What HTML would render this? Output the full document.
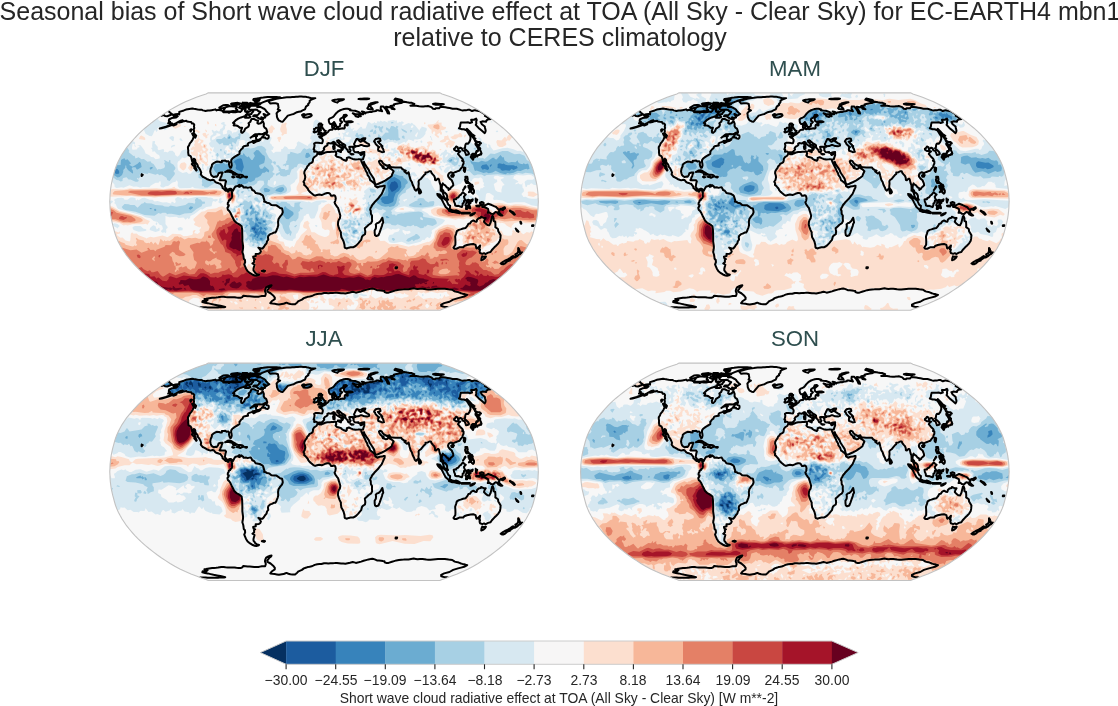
<!DOCTYPE html><html><head><meta charset="utf-8"><title>Seasonal bias</title><style>
html,body{margin:0;padding:0;background:#fff}body{width:1118px;height:706px;position:relative;overflow:hidden;font-family:"Liberation Sans",sans-serif;color:#262626}.t{position:absolute;white-space:nowrap;text-align:center;line-height:1;will-change:transform}.ttl{font-size:25px;left:-99.2px;width:1318px}.sub{font-size:22.2px;color:#2f4f4f;width:200px}.tk{font-size:13.9px;width:80px;top:673.6px}svg{position:absolute;left:0;top:0}
</style></head><body>
<div class="t ttl" style="top:-1.3px">Seasonal bias of Short wave cloud radiative effect at TOA (All Sky - Clear Sky) for EC-EARTH4 mbn1</div>
<div class="t ttl" style="top:25.2px">relative to CERES climatology</div>
<div class="t sub" style="left:223.9px;top:58.0px">DJF</div>
<div class="t sub" style="left:694.6px;top:58.0px">MAM</div>
<div class="t sub" style="left:223.9px;top:328.2px">JJA</div>
<div class="t sub" style="left:694.6px;top:328.2px">SON</div>
<svg width="1118" height="706" viewBox="0 0 1118 706">
<defs><path id="bd" d="M115.8 108.7L118 107.6L122.6 106.1L127.7 104.2L133.1 102.1L138.7 99.7L144.2 97.1L149.3 94.4L154 91.7L158.4 88.8L162.8 85.9L167 82.9L171.1 79.8L175.1 76.7L178.9 73.6L182.5 70.4L185.9 67.1L189.1 63.8L192 60.5L194.8 57.2L197.5 53.9L199.8 50.5L202 47.2L203.9 43.8L205.7 40.4L207.2 37.1L208.5 33.7L209.5 30.3L210.4 26.9L211.3 23.6L212.1 20.2L212.8 16.8L213.3 13.5L213.7 10.1L214 6.7L214.1 3.4L214.3 0L214.1 -3.4L214 -6.7L213.7 -10.1L213.3 -13.5L212.8 -16.8L212.1 -20.2L211.3 -23.6L210.4 -26.9L209.5 -30.3L208.5 -33.7L207.2 -37.1L205.7 -40.4L203.9 -43.8L202 -47.2L199.8 -50.5L197.5 -53.9L194.8 -57.2L192 -60.5L189.1 -63.8L185.9 -67.1L182.5 -70.4L178.9 -73.6L175.1 -76.7L171.1 -79.8L167 -82.9L162.8 -85.9L158.4 -88.8L154 -91.7L149.3 -94.4L144.2 -97.1L138.7 -99.7L133.1 -102.1L127.7 -104.2L122.6 -106.1L118 -107.6L115.8 -108.7L-115.8 -108.7L-118 -107.6L-122.6 -106.1L-127.7 -104.2L-133.1 -102.1L-138.7 -99.7L-144.2 -97.1L-149.3 -94.4L-154 -91.7L-158.4 -88.8L-162.8 -85.9L-167 -82.9L-171.1 -79.8L-175.1 -76.7L-178.9 -73.6L-182.5 -70.4L-185.9 -67.1L-189.1 -63.8L-192 -60.5L-194.8 -57.2L-197.5 -53.9L-199.8 -50.5L-202 -47.2L-203.9 -43.8L-205.7 -40.4L-207.2 -37.1L-208.5 -33.7L-209.5 -30.3L-210.4 -26.9L-211.3 -23.6L-212.1 -20.2L-212.8 -16.8L-213.3 -13.5L-213.7 -10.1L-214 -6.7L-214.1 -3.4L-214.3 0L-214.1 3.4L-214 6.7L-213.7 10.1L-213.3 13.5L-212.8 16.8L-212.1 20.2L-211.3 23.6L-210.4 26.9L-209.5 30.3L-208.5 33.7L-207.2 37.1L-205.7 40.4L-203.9 43.8L-202 47.2L-199.8 50.5L-197.5 53.9L-194.8 57.2L-192 60.5L-189.1 63.8L-185.9 67.1L-182.5 70.4L-178.9 73.6L-175.1 76.7L-171.1 79.8L-167 82.9L-162.8 85.9L-158.4 88.8L-154 91.7L-149.3 94.4L-144.2 97.1L-138.7 99.7L-133.1 102.1L-127.7 104.2L-122.6 106.1L-118 107.6L-115.8 108.7Z"/><clipPath id="cl"><use href="#bd"/></clipPath><path id="co" d="M-151 -86.6L-148.6 -87.3L-145.9 -87.6L-144.8 -87.2L-144.7 -88.2L-144.8 -89.7L-140.2 -91.1L-138.1 -92L-134.7 -92.6L-131.8 -93.1L-130.3 -92.8L-128.8 -92.6L-127.4 -92.3L-126 -92.1L-124.1 -91.9L-122.2 -91.8L-121.2 -91.2L-119.9 -90.9L-118.6 -90.5L-116.2 -91.1L-114.4 -91.1L-112.4 -91.4L-110.3 -91.7L-108.8 -92.2L-107.5 -91.1L-106.1 -91.7L-103.7 -91.4L-102.5 -91L-101.3 -90.5L-100.7 -89.4L-99.6 -89.2L-97.9 -89.3L-96.3 -89.4L-95.1 -88.8L-93.3 -89.7L-91 -89.4L-88.6 -89.2L-85.3 -90L-83.8 -89.6L-82.6 -90.5L-81.6 -92.2L-79.1 -93.7L-78.2 -92.8L-79.2 -91.1L-78.8 -90L-76.3 -90.3L-77.5 -88.8L-74.2 -90.2L-72.9 -91.4L-70.4 -91.3L-70.9 -90L-72.6 -88.2L-72.5 -87.6L-74.9 -87.4L-76.5 -87.6L-78.2 -85.3L-79.5 -85.3L-81.3 -84.7L-83.1 -84.1L-85.8 -82.9L-88.5 -81.1L-91 -78.6L-89.6 -78L-90.4 -76.1L-87.9 -76.1L-86.3 -75.5L-84.3 -73.9L-81.9 -73.8L-83 -71L-82.8 -69.1L-81.6 -68.7L-79.9 -70.4L-78.8 -72.9L-75.7 -74.8L-74.9 -76.7L-75.5 -78.2L-73.7 -79.8L-72.5 -82.6L-69.8 -82.5L-68.4 -81.7L-67.7 -81.3L-65.9 -81.1L-66.7 -78.6L-65.7 -77.7L-63.4 -78.3L-61.7 -80.1L-61.1 -80.2L-60.2 -78L-60.3 -75.5L-59.5 -73.9L-57.9 -72.9L-57.4 -71.6L-56.8 -69.7L-58.2 -69.1L-60.7 -67.8L-61.9 -67.4L-64.9 -67.5L-66.8 -67.4L-68.6 -67.4L-70.6 -66.1L-73.5 -63.8L-72.2 -64.8L-68.6 -66.1L-67 -65.5L-68.1 -64.5L-68 -63.2L-67.8 -62.1L-65.3 -61.6L-63.3 -62.9L-63.6 -61.9L-65 -60.8L-67.9 -60L-70.5 -58.5L-71 -59.2L-68.7 -60.9L-71.5 -60.5L-71.7 -59.9L-74 -59.2L-75.5 -58.7L-76.4 -57.5L-76 -56.5L-76.1 -56.1L-77.9 -55.7L-80.2 -55.2L-81 -54.5L-81.4 -53.2L-82.8 -52.3L-83.6 -51.2L-84.6 -49.9L-84.5 -49.2L-84.6 -47.6L-85.9 -46.8L-87.9 -45.7L-89.5 -44.7L-91.7 -43.1L-92.8 -41.4L-92.9 -39.7L-92.5 -38.1L-92.3 -36.1L-92.9 -34.1L-93.8 -33.8L-94.5 -35L-95.1 -37.3L-94.8 -39.1L-95.8 -40.4L-97.2 -40L-98.7 -41L-100.5 -40.8L-102.2 -40.7L-102.2 -39.3L-103.7 -39.3L-105 -39.9L-107.3 -40L-108.8 -39.3L-110.8 -38.1L-112 -37.1L-112.3 -35L-113.3 -33L-113.8 -30.3L-113.4 -28.3L-112.7 -26.3L-111.3 -25.1L-110.2 -24.5L-108.4 -25.1L-107.2 -24.9L-106.1 -26.3L-105.5 -28.3L-103.2 -29L-101.4 -29L-102.3 -26.9L-102.8 -24.9L-103.5 -24.3L-103.6 -22.9L-104.5 -21.6L-103.9 -21.2L-102.4 -21.3L-100.6 -21.4L-98.9 -21.3L-98 -20.2L-98.6 -18.2L-98.9 -16.2L-99.2 -14.8L-98.3 -13.5L-97.6 -12.4L-96.6 -12L-95.4 -12.3L-94.5 -12.8L-93.1 -12.7L-91.8 -11.7L-92.5 -9.7L-92.9 -11L-94.3 -12L-95.3 -11L-95.4 -10L-96.2 -9.8L-96.9 -10.8L-98.4 -10.9L-99.2 -11.5L-100.4 -12.9L-101.5 -13.5L-101.6 -15L-102.5 -16.2L-103.5 -17.4L-103.7 -17.9L-105.1 -18.1L-106.2 -18.6L-107.9 -19L-108.8 -19.7L-110.4 -21.6L-111.5 -21.8L-113.6 -21.2L-115.3 -21.8L-117.3 -22.6L-119.5 -24L-121.3 -24.8L-122.3 -25.9L-123.3 -27.2L-122.8 -29L-123.7 -31.3L-125.1 -33.7L-126.3 -35L-126.3 -36L-127.1 -37.5L-127.6 -37.7L-128.6 -39.5L-128.8 -41.5L-129.1 -42.2L-130.3 -42.8L-130.7 -41.1L-129.8 -38.8L-129.1 -36.4L-128.6 -35L-128.1 -33L-127.3 -31.4L-127.8 -30.9L-128.3 -31.8L-129.8 -33.4L-129.6 -35L-131.1 -36.1L-132.2 -37.5L-131.1 -38.4L-132 -40.4L-132.5 -42.8L-132.7 -43.8L-133.5 -45.5L-135.5 -46.5L-135.9 -49.3L-135.8 -50.9L-136.1 -53.2L-136.1 -54.4L-134.8 -56.5L-134.4 -57.9L-132.7 -59.9L-131.3 -62.1L-130.2 -64.9L-128.6 -64.8L-128.7 -63.8L-127.9 -65.8L-128.8 -66.9L-130.3 -68.4L-130 -70.1L-130.3 -72.3L-129.7 -73.6L-130.1 -74.8L-129.8 -76.7L-130.6 -78L-132.1 -78L-132.9 -79.6L-135 -79.8L-137.1 -80.1L-137.7 -80.8L-140 -80.4L-142.4 -79.6L-145 -79L-143.8 -80.4L-141.4 -81.3L-143.4 -80.8L-146.6 -79.2L-148.4 -78L-151.7 -76.7L-155 -75.5L-158.8 -74.2L-162.3 -73.3L-164.3 -73L-160.8 -74.2L-158.2 -74.8L-154.8 -76.1L-151.8 -78L-152.8 -78.3L-155.9 -78.2L-154 -79.8L-155.2 -80.4L-155.1 -81.7L-154.8 -82.3L-152.3 -83.5L-150.2 -83.7L-147.9 -84.1L-146.3 -85.3L-148.2 -85.3L-150.4 -85.3L-150.6 -85.9L-151 -86.6M-129 -65L-130.7 -65.5L-131.9 -68L-130.4 -68.2L-129.1 -67.1L-129 -65M-133.4 -70L-133.8 -71.6L-133 -72.4L-132.2 -72L-133.4 -70M-150.9 -76.1L-148.1 -77.3L-147.6 -77.1L-150 -76.1L-150.9 -76.1M-91.8 -11.7L-91.1 -10.8L-90.1 -12.7L-89.4 -14.1L-88.5 -15L-86.4 -15.5L-84.7 -16.8L-84.3 -15.9L-84.9 -14.6L-83.1 -15.5L-82.8 -16.4L-81.1 -15.2L-80.5 -14.1L-78.2 -14.3L-76.4 -13.7L-73.4 -14.4L-72.3 -12.8L-71.8 -11.5L-70 -10.8L-68.3 -8.5L-65.9 -8.1L-64.2 -7.8L-61.8 -6.5L-61 -5.7L-60.1 -2.7L-59.5 -0.7L-59.9 0L-57.7 0.7L-57.1 1.3L-54.7 1.6L-52.7 3.4L-50 3.8L-47.6 3.8L-45.8 5L-44 6.5L-42 7L-41.4 9.4L-41.3 10.8L-42.1 12.8L-43.8 14.8L-45.5 17.5L-46 20.2L-45.8 23.6L-46.5 26.3L-47.1 27.6L-47.8 29.6L-48.8 31L-50.2 31L-52.2 32.1L-53.9 32.6L-55.6 34.1L-56.1 35.7L-55.8 38.1L-57 39.7L-57.5 41.8L-59 43.4L-60.2 45.5L-61.6 47L-63.1 47L-65.7 46.1L-64.1 47.8L-63.6 48.9L-63.1 49.7L-63.7 51.2L-65.1 52.1L-68.4 52.4L-68.2 54.5L-70.9 55.2L-70.5 56.8L-68.9 57.5L-70 58.3L-69.9 60.5L-71.6 61.9L-69.5 63.2L-70.2 65.8L-70.6 67.5L-70.5 69.1L-69.4 70.2L-69.2 71L-67.6 72.3L-65 73.2L-66 73.7L-67.8 74.2L-69.4 73.9L-71.9 72.9L-74.8 71L-76.4 69.7L-78 67.1L-79.1 64.5L-79.8 62.9L-78.9 60.5L-79.1 58.5L-80.3 57.2L-80.5 55.2L-80.8 53.2L-81.7 50.5L-81.3 48.5L-81 46.5L-81 44.5L-81.4 41.8L-81.7 39.7L-81.7 37.1L-81.7 34.4L-81.8 31.7L-81.9 28.3L-82.4 24.8L-83.7 23.6L-85.2 22.6L-87.7 21.2L-89.9 18.9L-91.2 16.2L-92.4 13.9L-93.5 11.5L-94.8 9.4L-96.2 8.1L-96.6 6.3L-95.5 4.6L-95.2 3.5L-96.3 3L-96.2 1.3L-95.3 0L-95.2 -1.1L-93.9 -1.8L-93.8 -2.4L-92.4 -3.5L-91.9 -5.1L-92.1 -7.4L-91.9 -8.8L-92.5 -9.7L-91.8 -11.7M-62.2 69.4L-60.4 68.8L-59 69.3L-60.1 70.1L-62.2 69.4M-55.6 -100.4L-52.9 -101.2L-50.3 -102.1L-47.5 -102.8L-44.7 -103.4L-42.8 -103.6L-41 -103.8L-39.1 -104.1L-37.3 -104.2L-35.4 -104.3L-33.6 -104.4L-31.8 -104.5L-29.9 -104.6L-28 -104.8L-26.2 -104.9L-24.4 -105.1L-22.6 -105L-20.7 -104.9L-18.9 -104.9L-17.3 -104.5L-15.6 -104.2L-14.3 -103.8L-13 -103.4L-10.8 -103.4L-8.7 -103.4L-10.6 -102.8L-12.6 -102.1L-14.4 -100.7L-14.4 -99.2L-15.9 -97.6L-15.7 -96.6L-18.1 -95L-18.4 -93.9L-19.1 -92.2L-21.5 -91.1L-23.5 -90L-25.3 -89.7L-27.1 -89.4L-30.3 -87.6L-32 -87.2L-33.7 -86.7L-36.2 -85.9L-37.7 -84.1L-39.8 -81.7L-41.3 -79.8L-43.2 -80.1L-45.2 -81.1L-46.4 -82.9L-47.1 -84.7L-47.2 -86.5L-47.5 -88.2L-46.1 -90L-43.9 -91.1L-45.1 -91.7L-46.3 -92.2L-45.5 -93.9L-45.8 -95.5L-46.1 -97.6L-47.5 -98L-48.8 -98.4L-51.2 -98.3L-53.7 -98.1L-55 -99.4L-55.6 -100.4M-22 -86.5L-21 -87.4L-20 -87.5L-18.9 -86.5L-16.5 -87.3L-14.2 -87.6L-12.9 -87.3L-12.3 -86.1L-13.5 -85L-15 -84.5L-16.5 -84L-18.8 -84.1L-20.8 -84.4L-20 -85.2L-21.7 -85.8L-19.9 -86.1L-22 -86.5M21.8 -92.9L23.7 -92.8L26.4 -92L25.7 -91.4L28.4 -91L31.1 -90.8L33 -90.1L35 -89.4L36.3 -88.2L36.6 -87.4L33.9 -87.3L31.1 -87.6L28.7 -88.3L31 -86.5L31.6 -85.3L34.3 -84.6L34.5 -85.3L36.8 -85.3L36 -86.5L37.4 -87.5L39.3 -87.3L38.5 -89.4L37.8 -90.1L40.2 -89.6L41.2 -88.2L42.2 -89L44.2 -89.4L46.2 -89.7L47.2 -89.6L48.7 -90L50.3 -90.4L51.9 -90.5L52.3 -91.4L54 -91.2L55.6 -90.9L58.1 -90.3L57.3 -91.7L56.6 -92.8L56.8 -95L59.3 -95L60.9 -93.3L62.7 -90.5L63.7 -88.2L65.2 -88L64.8 -89.4L63.3 -91.7L61.8 -93.9L62 -94.8L64.9 -94.2L66.8 -94.4L67.6 -92.8L70.6 -92.2L68.4 -93.9L66.3 -95.5L68.1 -95.8L69.9 -96L69.7 -97.1L71.3 -97.5L72.8 -97.9L74.9 -98.2L77 -98.5L78.5 -99.2L79.9 -99.9L83.1 -99.2L85.4 -98.9L87.7 -98.7L90.3 -97.6L89.5 -97.1L88.8 -96.6L87.6 -96.2L86.4 -95.8L87.9 -95.9L89.4 -96L92.2 -95.7L95.1 -95.3L98 -95L99.6 -95.1L101.1 -95.2L102.5 -95.3L103.9 -95.5L107.4 -94.4L109 -92.8L111 -92.6L111.7 -93.3L113.4 -93.3L115.1 -93.3L116.1 -94.4L116.5 -94.8L118.9 -94.5L121.4 -94.2L123.5 -93.9L125.7 -93.5L128.5 -92.8L130.6 -92.8L132.7 -92.8L137.2 -91.4L138.5 -91.1L140.2 -91.2L141.8 -91.2L143.7 -91.7L145.8 -91.7L148 -90.5L149.5 -91L150.9 -91.4L153.4 -90.9L155.9 -90.4L159.4 -88.2L162.8 -85.9L161.8 -85.3L160.8 -85.6L165.2 -83.5L166.9 -82.6L165.2 -82.3L163.5 -82L162.3 -80.8L162.1 -79.8L160.2 -80L158.3 -80.2L156.5 -79.7L157.8 -77.3L160.7 -75.1L161 -73.6L161.6 -71L161.4 -69.7L160.7 -68.4L157.6 -71L154.5 -73.6L151.7 -76.7L152.3 -78L152.1 -79.8L152.7 -81.7L152.1 -82.9L151 -82.3L149.9 -81.7L147.1 -81.7L148 -79.2L145.8 -78.6L144.2 -79.2L141.9 -79.1L139.6 -79.1L136.8 -79L136.2 -76.7L136 -74.8L135 -73.2L137.8 -72.3L139.8 -72.3L142.4 -71.3L143.5 -69.7L144.6 -67.8L146.4 -65.2L146.4 -62.5L145.5 -59.9L144.1 -57.9L142.3 -58.1L141.5 -57.2L141.2 -55.9L141 -53.9L140.2 -53.2L142.1 -51.6L144 -49.9L144.9 -48.1L144.7 -47.3L143.2 -46.8L142 -46.5L141.4 -48.5L140.5 -50.5L138.5 -51.2L137.8 -53.2L136.4 -53.9L134.5 -52.5L134.1 -52.3L133.5 -54.5L132.1 -55.1L131.2 -53.6L130 -52.8L130.1 -51.9L132.1 -50.5L133.9 -50.9L136.2 -50.1L134.9 -49.2L133.9 -47.6L136 -45.1L138.3 -42.8L138.9 -41.6L138.1 -40.8L139.5 -40.2L139.5 -38.1L138.7 -36.4L138.2 -34.4L136.8 -33L135.5 -31L133.1 -30.2L131.6 -29.6L129.5 -28.7L128.9 -27.4L128 -29L126.5 -29.2L124.9 -28.3L124 -26.3L124.2 -24.9L125.7 -22.9L127.7 -21.3L129 -18.2L129.3 -16.2L127.8 -14.8L126.7 -14L126.2 -12.8L124.5 -11.7L124.2 -13.5L122.6 -14.3L121.2 -16.2L119.4 -17.1L118.7 -18.2L118.2 -16.8L117.8 -14.8L117.7 -12.5L119.3 -10.8L119.3 -9.4L120.9 -8.8L122.4 -7.4L123.1 -5.4L123.1 -3.4L124 -1.9L123.2 -1.8L120.7 -3.6L119.7 -5.4L119.2 -7.4L118.8 -8.8L117.5 -10.8L116.6 -10.8L116.7 -13.2L116.6 -16.2L115.6 -18.9L114.9 -22.2L114 -22.9L112.9 -22.2L112.2 -21.3L111 -21.6L110.9 -23.6L110.1 -25.6L108.7 -27.2L107.3 -29L106.9 -30.3L105.3 -30.3L103.7 -29.4L101.4 -29L101.4 -27.6L100 -26.5L98.5 -24.7L96.7 -22.5L95 -21.3L94.5 -20.2L94.7 -17.8L94.4 -15.5L94.5 -13.9L93.7 -12.5L92.7 -11.9L92 -10.9L90.7 -12.1L90 -14.1L88.6 -16.8L87.8 -19.5L86.5 -21.6L85.4 -25.5L84.8 -28.3L84.5 -29.4L84 -28.6L82.8 -28L80.3 -30L81.8 -30.9L79.6 -31.7L78.1 -32.7L77 -34.1L74.6 -34.1L71.3 -34L68.3 -34.2L66.2 -34.8L65.5 -36.5L62.9 -35.8L60.4 -37.1L58.5 -38.8L57.7 -40.4L55.9 -41L54.9 -40.2L55.3 -38.8L56.4 -37.1L57.9 -35.7L58.8 -33.7L59.5 -35.2L59.8 -33.3L61.5 -32.6L63.2 -32.9L64.7 -35L65.5 -33.4L68.1 -31.8L69.6 -30.3L68.3 -27.6L67.6 -25.6L65.7 -24.1L64 -22.9L61.5 -21.2L59.6 -20.2L57.8 -19.3L55.5 -18.3L53.2 -17.2L51.4 -17.1L50.7 -18.9L50.3 -20.9L49.7 -22.9L48 -25.6L45.7 -29L44.7 -31.7L42.8 -34.4L40.6 -37.7L39.9 -39.7L39.4 -37.7L38.5 -38.4L37.3 -40.3L36.8 -42L38.9 -42.2L39.5 -44.2L40.3 -46.5L40.2 -48.5L40.3 -49.6L38.4 -49.4L36.3 -48.6L34 -48.9L34.2 -49.6L32.3 -49.2L30.6 -49.6L29.3 -51.6L29.7 -52.9L28.7 -53.9L29.5 -54.5L31.7 -54.9L31.6 -55.3L34.3 -55.5L36.4 -56.5L38 -56.5L40.3 -55.5L43.1 -55.2L45.2 -55.9L44.9 -57.5L43 -58.5L40.7 -59.9L39.4 -60.8L40.8 -61.9L41.3 -63.4L39 -63.2L37.1 -62.1L38.9 -60.9L37.9 -60.5L36.4 -59.7L34.6 -61.2L35.5 -61.9L33.3 -62.7L32.5 -62.5L31.6 -60.8L30.7 -58.9L30 -57.6L30.4 -56.3L31.6 -55.5L30.6 -55.2L29.3 -54.7L28.4 -54.8L26.2 -54.9L25.2 -54.5L25.8 -53.6L25.4 -52.5L26.6 -51.2L25.6 -49.2L25.1 -49.2L24.2 -49.6L23.5 -51.5L22 -53.2L21.2 -54.5L21.2 -56.3L20 -57.2L17.8 -58.5L16 -59.9L15.2 -60.8L14.6 -61.3L13.1 -60.9L13.3 -59.5L14.6 -58.5L15.7 -56.9L17.4 -56.4L19.7 -54.7L20.3 -54L18.6 -54.5L18.1 -53.5L18.9 -52.5L18.3 -51.6L17.4 -51.2L17.7 -52.3L17.1 -53.9L15.8 -54.8L14.2 -55.6L13.3 -56.3L11.9 -57.2L11.1 -58.5L10.5 -59.3L9.4 -59.7L8.1 -58.9L7 -58L5.4 -58.4L4.3 -58.5L3.3 -57.9L3.5 -56.5L2.4 -55.7L0.9 -54.9L-0.3 -53.2L0.2 -52.1L-0.8 -50.8L-2.2 -49.6L-4.9 -49.4L-6 -48.6L-7 -49.6L-8.2 -50.1L-9.9 -49.9L-9.7 -51.9L-10.5 -52.3L-9.8 -54.1L-9.5 -56.3L-9.9 -57.9L-8.6 -58.8L-6.1 -58.7L-3.8 -58.5L-1.9 -58.4L-1.3 -60.1L-1.2 -61.6L-2.3 -63.3L-4.5 -64.2L-4.9 -65L-3.1 -65.5L-1.7 -65.4L-1.8 -66.7L-0.3 -66.2L0.2 -66.7L1.7 -67.4L1.6 -68.3L3.3 -68.9L4.3 -70L4.8 -71L6 -71.6L7 -71.9L8.5 -71.9L8.7 -72.9L8.1 -74.3L8 -76.1L9.5 -76.8L10.3 -77L10.1 -75.5L10.6 -75.1L9.9 -73.9L9.8 -73.3L11 -72.8L11 -72.3L12 -72.5L13.5 -72.9L14.3 -72.2L16.5 -72.9L18.4 -73.3L19.8 -72.9L20.8 -73.8L20.6 -75.5L20.9 -76.6L21.9 -77L23 -76.1L23.7 -76.3L23.6 -77.7L22.6 -78.2L22.5 -78.8L23.9 -79.2L26.7 -79.2L28.7 -79.7L27 -80.4L24.6 -80.3L21.9 -79.7L20.3 -80.4L20 -81.7L19.8 -82.9L20.2 -83.8L22.2 -85.5L22.8 -86.1L22 -86.8L19.8 -86.5L19.4 -85.3L18.8 -84.3L17.1 -83.2L16.1 -82.3L16.2 -80.8L17.6 -80.1L18.1 -79.5L17.3 -78.6L16.1 -77.7L16.1 -76.1L15.7 -75.1L14.3 -74.8L14.1 -74.1L12.9 -74.1L12.5 -75.1L11.7 -76.7L10.8 -78.3L10.1 -79.6L9.1 -78.5L7.7 -77.5L6.3 -77.5L5.3 -78.6L4.8 -80.3L4.7 -82L6 -83.2L7.8 -84L8.7 -84.4L10 -85.6L11.2 -87.1L11.9 -88.2L12.8 -88.8L13.5 -89.7L14.7 -90.5L16.2 -91.3L17.9 -91.9L19.9 -92.6L21.8 -92.9M-155.9 -90.4L-154.6 -89.6L-153.9 -88.9L-153.1 -88.2L-151.8 -87.3L-156.8 -85.3L-159 -85.6L-160.1 -86.5L-162.8 -85.9M51.8 -62.5L54.3 -63.2L56 -62.8L56.5 -60.8L54.7 -60L53.8 -59.9L55.5 -58.1L57.2 -56.5L57.3 -55.2L58.3 -55.6L58.1 -53.9L58.9 -52.9L59.7 -50.5L60 -49.7L57.9 -49.4L55.8 -50.4L54.4 -50.7L54 -51.9L54.2 -53.2L54.2 -54.3L55.1 -54.4L53.7 -55.5L52.6 -56.5L51.3 -57.9L51 -59.2L50 -60L50.5 -61.2L51.8 -62.5M36.8 -42L35.2 -42.4L34.1 -42.2L31.3 -42L28.6 -42.6L26.7 -43.4L24.9 -44.3L22.8 -43.5L22.8 -41.8L21.9 -40.8L19.9 -41.5L17.6 -42.8L17.2 -43.7L14.9 -44.3L13 -44.7L12.2 -45.5L11.5 -46.2L12.3 -47.8L11.8 -49.2L12.4 -49.9L11.3 -50.1L10.9 -50.3L9.5 -49.7L7.8 -49.9L5.6 -49.6L3.3 -49.6L1.1 -49L-1.1 -48.1L-2.5 -47.3L-3.4 -47.6L-5 -47.4L-5.9 -48.4L-6.6 -48.2L-7.1 -46.9L-7.7 -45.8L-8.6 -45.3L-9.8 -44.5L-10.5 -43.5L-11.1 -42.4L-11.1 -41.1L-11.4 -39.7L-12.7 -38.7L-14.8 -37.6L-15.6 -36.1L-16.7 -35.3L-17.4 -33.4L-18.6 -31.9L-19.6 -30L-19.8 -28.3L-19.1 -26.3L-18.8 -24.3L-19.4 -21.6L-20.6 -19.8L-19.7 -18.2L-19.9 -16.7L-18.9 -15.9L-17.8 -14.6L-16.2 -12.8L-15.7 -11.5L-14.2 -9.7L-13.5 -9.2L-12.8 -8.5L-10.7 -6.7L-8.9 -5.9L-7.1 -6.5L-4.8 -7L-2.4 -6.5L0 -7.5L1.4 -8.1L3 -8.5L4 -8.6L5.3 -8.4L6.2 -7.4L7.1 -5.8L8.3 -5.9L9.9 -6.2L10.5 -6.1L11.3 -5.1L11.7 -3.4L11.4 -1.3L11.1 -0.5L10.5 0.9L11.3 2.7L13.1 5.3L14 6.3L14.5 8.1L15.7 11.9L16.3 14.1L15.8 16.8L14.8 18.2L14.1 20.2L13.9 23.2L14.6 25.6L15.6 28.3L16.9 30.9L16.8 32.3L17.3 35.7L18.9 38.5L19.7 40.4L20.4 43.1L20.6 45.7L20.8 46.2L22.5 46.9L24.8 46.1L26.5 45.8L29 45.8L31.1 44.7L32.3 43.8L34.2 41.8L35.4 40.3L37.1 38.4L38 35L38.8 34L40.9 32.7L41.3 30.3L40.9 27.6L40.8 26.7L42.8 24.9L44.6 23.2L47.1 21.6L48.1 19.5L47.9 16.8L48 14.1L46.8 12.1L46.7 9.2L46.1 8.1L46.6 6.3L47.2 5.4L48.2 3.4L49.5 2L50.7 0.4L52.4 -1.3L53.9 -2.7L55.9 -5.4L57.6 -7.4L58.8 -10.1L59.9 -12.8L60.6 -14.1L60.7 -15.9L59.7 -15.9L58 -15.2L55.6 -15L53.3 -14.1L51.2 -15.5L51.1 -16.8L50.2 -18.2L48.3 -19.9L47.1 -20.9L46.3 -21L45.2 -24.3L43.6 -26.4L43.2 -28.3L41.6 -31L41.2 -32.3L39.9 -34.8L38.9 -36.8L37.3 -40.3L36.8 -42M58.3 16.2L58.8 18.5L59.2 20.9L58.4 22.2L57.9 24.3L56.7 27.6L55.5 31L54.4 33.7L52.3 34.5L51 33.7L50.6 31.4L50.6 29L51.8 26.9L52 24.3L51.7 22.9L53 21.6L54.5 21.2L56.4 19.5L57.3 17.8L58.3 16.2M168.7 14.4L169.6 16.8L169.5 19.3L171.2 20.2L171.4 23.6L171.3 25.6L173.9 27.4L174.2 29.6L175.3 31.4L176.6 33.7L176.3 37.1L175.9 39.1L174.3 41.8L172 44.2L170.3 45.8L167.8 48.5L166.5 50.5L164 51.1L161.3 52.5L160 51.6L158.3 52.3L156 51.5L155.5 49.9L156 48.2L155.1 47.8L155.5 46.9L156.1 43.9L154.3 45.8L152.7 46.9L152.3 46.6L151.8 44.5L151.5 43.3L149.2 42.4L146.6 42.7L142.9 43.5L140.2 44.5L139.2 45.7L137.4 45.7L135.2 45.8L132.4 47.2L130.2 47.2L129.4 46.2L131.3 43.1L131.4 40.4L131.3 37.7L131.1 35L132 32.3L132.8 29.6L134.8 28.3L136.6 27.8L139.1 26.9L141.6 26.4L143.3 24.3L144.4 22.2L145.8 22L147.4 19.8L149.3 18.9L150.9 19.9L152.6 20.1L153 18.2L154.6 16.7L156.7 16.2L157 15.2L159.6 16.4L161.7 16.4L160.6 18.2L159.9 20.2L161.2 21.6L163.4 23.4L165.3 23.6L166.6 20.9L167.4 17.5L168.1 14.8L168.7 14.4M158.2 54.8L159.8 55.3L161.9 54.9L161 56.5L159 58.1L157.2 58.7L157.4 56.9L158.2 54.8M194.2 46.4L195.2 47.8L194.7 49.6L195.9 49.4L195.3 50.7L196.3 51.2L198 50.8L196.2 52.5L194.7 53.1L192.8 54.9L190.7 56L190.4 55.6L191.9 54.1L191.3 52.9L193.1 51.9L193.9 50.5L194.2 49.2L194.1 47.2L194.2 46.4M189 54.5L189.8 55.6L188.9 56.5L186 58.5L185.9 58.9L183.4 59.7L181.2 61.7L179.1 62.7L177.8 62.7L176.6 61.9L178.9 60.3L180.8 59.2L183.8 57.9L186.3 56.3L188.1 54.9L189 54.5M155.9 1.1L157.7 0.5L159.5 1.1L159.7 3.4L160.6 4.4L162.4 3L164.2 2.2L167.7 3.5L170.1 4.6L171.8 5.3L173.3 6.7L174.6 8.1L175.5 9L174.7 10.1L175.8 11.5L176.6 12.4L178.3 13.9L176.5 13.9L174.5 12.8L173.2 11L171.5 10.4L170.2 11.5L169.5 12.4L167.2 12.3L165.5 11L163.7 11.3L164.4 9.4L164 7.4L161.7 6.2L159.3 5.3L158.2 5.4L158 4L157 3.8L159.1 3.1L157.1 2.7L155.9 1.8L155.9 1.1M176.2 7.5L178.3 6.9L180.7 5.7L181 6.7L178.8 8.4L176.2 7.5M129.7 -2L130 0L130.9 2L131.1 3.9L132.9 4.4L134.4 4.3L136.2 4.9L137.9 5.4L138.6 3.4L138.6 2L139.8 1.1L140.1 -1.1L141.6 -1.3L140.4 -3.1L139.9 -4.9L140.9 -6.1L141.7 -7L140.2 -8.1L138.9 -9.4L137.8 -8.1L136.7 -6.7L135.5 -6.1L134.4 -4.3L132.4 -3.4L132.1 -2.2L130.9 -2.3L129.7 -2M113.2 -7.5L115.9 -7L117.1 -5.3L119.3 -3.4L120.8 -2.4L122.6 -0.7L123.5 1.3L124.3 3.1L126.1 4.3L125.7 7.8L124.2 7.7L121.6 5.4L119.4 1.3L117.6 -2.3L115.4 -4.3L113.5 -6.5L113.2 -7.5M124.9 9.2L126.1 7.9L127.1 8.1L128.9 9L131.2 9.3L131.8 8.6L133.8 9.4L135.9 10.5L135.7 11.6L132.9 11.2L130 10.5L128.2 10.5L126.3 9.8L124.9 9.2M137.6 11.3L140 11.2L142.4 11.2L145.9 11.2L145.6 11.9L142.3 12L139.9 12L137.6 12L137.6 11.3M146.3 13.9L148.2 12.1L150.9 11.3L150 12.4L147.5 13.7L146.3 13.9M142.8 -1.1L144 -1.8L146.4 -1.2L148.7 -2.2L148.2 -0.5L145.8 -0.7L143.4 -0.7L144 1.3L146.7 1.2L144.9 2.6L146 5.4L146.2 6.7L145 6.5L144.5 4.7L143.9 3.6L143.2 5.4L143.1 7.4L141.9 7.4L142.2 4.7L141.3 3.6L142 2L142.6 0.3L142.8 -1.1M151.7 -3L152.3 -1.3L153.2 -2L152.6 -0.4L152.1 1.1L151.8 -0.7L151.7 -3M152.2 4.3L155.6 4L155.2 5L152.5 4.7L152.2 4.3M141.3 -24.9L143.2 -24.8L143.7 -22.2L143.2 -20.9L144.5 -19.1L146.5 -17.5L146.5 -17L145.2 -18.2L143.7 -18.6L142.4 -18.9L142.3 -18.6L141.4 -20.2L141 -22L141.5 -22.6L141.3 -24.9M144.9 -9.4L146.5 -11.6L147.7 -11.5L148.7 -13.2L150 -10.8L149.9 -8.8L149.1 -7.8L147.9 -8.8L147.5 -9.7L146.4 -10.1L144.9 -9.4M139 -11.5L141.5 -14.6L141.2 -15.2L139.9 -12.8L139 -11.5M146.9 -16.8L148.1 -16.8L148.8 -15L148.1 -13.7L147.4 -14.6L146.9 -16.8M144.3 -15.9L145.7 -15.5L146.3 -13.5L146.2 -12.3L145.2 -12.8L145.1 -14.1L144.5 -14.1L144.3 -15.9M140.1 -34L141.3 -33.7L141.2 -31.7L140.7 -29.6L139.7 -31L139.8 -32.7L140.1 -34M127.2 -26L128.6 -27.1L129.9 -26.4L129 -24.7L127.4 -24.9L127.2 -26M94.8 -13.2L96.3 -11.5L97.1 -9.4L96.2 -8.2L95.2 -8.1L94.6 -10.8L94.8 -13.2M154 -55.7L156.2 -53.2L156 -51.6L157 -49.6L157.5 -48.1L157 -47L156.4 -47.8L155.9 -46.8L155.3 -46.6L154 -46.6L153.9 -46.2L153.3 -45.1L152 -46.2L151.9 -46.8L150.2 -46.4L149 -46.2L147.5 -45.8L147.3 -46.5L148.4 -47.7L150.1 -47.8L152 -47.8L151.9 -49.2L152.4 -50.5L152.6 -49.6L153.8 -50.4L154.2 -51.9L154 -53.2L153.2 -54.5L152.9 -55.5L154 -55.7M152.4 -55.9L153 -56.3L152.6 -57.2L153.5 -57.2L155.5 -56.5L156 -57.9L157 -58.3L155.6 -59.5L153.8 -59.5L150.7 -61.2L151.6 -59.9L152.2 -58.3L151.4 -57.9L151.5 -56.9L152.4 -55.9M147.5 -45.7L148.8 -44.7L149.4 -42.7L148.9 -41.8L147.8 -43.1L146.7 -44.5L147 -45.3L147.5 -45.7M149.3 -45.1L150.8 -46.2L151.9 -45.5L151.6 -44.9L150.5 -44.2L149.3 -45.1M150.6 -61.9L151.4 -62.9L150 -63.8L148.6 -66.2L150.5 -65.8L147.5 -67.8L145.3 -70.4L142.8 -72.7L142.9 -71.6L144.4 -69.7L146.4 -67.8L148.2 -65.2L150.6 -61.9M-5.9 -67.2L-3.6 -67.5L-1.5 -68L1.3 -68.7L0.8 -69.1L1.7 -70.6L0.3 -71L0 -71.8L-1.2 -73L-1.6 -74.2L-2.5 -74.8L-3.3 -74.8L-2 -76L-1.7 -76.8L-3.9 -76.8L-2.9 -78.1L-4.8 -78.1L-5.6 -76.7L-5.5 -75.5L-5.4 -74.1L-4.7 -74.6L-4.9 -73.3L-3.4 -73.4L-3.2 -72.3L-3 -71.5L-4.5 -71.4L-4.2 -70.7L-4.1 -70.4L-5.3 -69.6L-3.6 -68.9L-2.9 -69.1L-4.3 -68.7L-5.9 -67.2M-6.6 -70L-6.2 -71.4L-5.6 -72.9L-6.2 -73.8L-8.1 -73.8L-8.5 -72.9L-10 -72.5L-9.6 -71.4L-9.6 -70.6L-10.5 -69.7L-9.7 -69.1L-8.4 -69.4L-6.6 -70M8.3 -101.1L9.7 -101.5L11.1 -101.9L12.9 -102.1L14.7 -102.4L16.4 -102.3L18.2 -102.3L19.9 -102.3L18 -101.3L15.9 -100.7L14.5 -100.2L13.3 -98.9L10.8 -99.7L8.7 -100.7L8.3 -101.1M43.3 -93.3L44.1 -92.6L46.7 -92.4L48.8 -92.3L47.6 -93.9L45.8 -95.5L46.8 -96.6L48.5 -97.6L50.1 -98.1L51.7 -98.7L53.6 -99.2L51.3 -99.2L49.3 -98.8L47.2 -98.4L46.1 -97.7L44.9 -97.1L44.6 -95.5L43.8 -93.9L43.3 -93.3M70.5 -101.9L71.3 -103L74.4 -102.3L77.6 -101.6L78.5 -100.4L77.1 -100.3L75.7 -100.2L73.1 -101.1L70.5 -101.9M109 -97.6L110.1 -97.9L111.3 -98.1L113.7 -97.9L116.1 -97.6L118 -97.5L119.8 -97.3L118.1 -96.9L116.5 -96.9L114.9 -96.9L113.4 -96.8L111.9 -96.8L109 -97.6M34.5 -102.5L36.2 -102.7L37.9 -102.9L40 -103L42 -103.1L43.6 -103L45.2 -102.8L44 -102.5L42.7 -102.3L40.6 -102.2L38.4 -102.2L36.4 -102.4L34.5 -102.5M-54.7 -87.6L-57.4 -85.9L-58.7 -86.8L-60.5 -87.6L-59.1 -85.3L-58.8 -84.1L-60.9 -83.5L-62.8 -84.3L-61.1 -82.3L-62.1 -82L-63.5 -82.6L-64.8 -83.1L-66.3 -83.8L-67.9 -85L-69.4 -85.2L-70.9 -85.3L-69.9 -86.2L-68.3 -86.2L-66.7 -86.2L-65.5 -87.4L-64.3 -88.8L-63.7 -89.7L-65.8 -90.5L-67.1 -91.7L-67.8 -92L-70 -91.8L-72.3 -91.7L-73.6 -91.9L-74.8 -92.2L-75.5 -93L-74.6 -94.4L-72.9 -95.8L-71.1 -95.8L-69.3 -95.8L-67.7 -95.8L-66.1 -95.7L-66.8 -94.4L-64 -94.8L-62.2 -93.9L-61.1 -93.3L-60 -92.8L-58.6 -91.7L-58 -90.5L-56.3 -88.8L-54.7 -87.6M-90.9 -90.5L-93.9 -90.1L-96.1 -90L-98.4 -90L-99.6 -90.2L-100.8 -90.5L-99.9 -92.2L-98.3 -94.4L-96.3 -94.9L-94.2 -95.4L-92.4 -95.2L-90.6 -95L-87.8 -95.3L-87.1 -94.4L-88.3 -92.8L-86.8 -91.7L-86.9 -91.1L-88.9 -90.3L-90.9 -90.5M-104.7 -93.9L-103.8 -92.9L-101.6 -93.3L-97.9 -94.4L-95.2 -95.3L-95.5 -96.4L-96.8 -96.5L-98.1 -96.6L-100.9 -96.3L-104.7 -93.9M-63 -98.4L-60.1 -99.7L-56.4 -101.1L-53.8 -101.9L-51.3 -102.5L-49.1 -103L-46.9 -103.4L-44 -104.2L-45.7 -104.4L-47.5 -104.5L-49.2 -104.6L-51 -104.6L-52.8 -104.5L-54.7 -104.5L-56.5 -104.5L-58.6 -104.3L-60.8 -104L-62.9 -103.8L-64.9 -103.4L-66.9 -103L-65.6 -102.5L-64.3 -102.1L-65.2 -100.7L-68.6 -99.7L-68.9 -98.7L-67.5 -98.6L-66 -98.5L-64.5 -98.4L-63 -98.4M-70.4 -102.5L-68.3 -102.8L-66.2 -103L-65.6 -101.6L-69.2 -100.5L-70.1 -101.1L-70.8 -101.6L-70.4 -102.5M-63.6 -97.6L-66.2 -96.6L-68.6 -96.6L-71 -96.6L-72.5 -96.7L-74 -96.8L-75.2 -97.2L-76.4 -97.6L-73.6 -98.7L-72.3 -98.4L-71 -98.1L-68.8 -98.4L-66.6 -98.7L-65.1 -98.1L-63.6 -97.6M-78.3 -86.5L-76.1 -87.1L-75.1 -86.5L-73.6 -84.7L-75 -83.8L-77.1 -84.1L-78.8 -83.7L-79.5 -84.7L-77.8 -85.9L-78.3 -86.5M-77.6 -96L-75.6 -96L-73.6 -96L-75.2 -94.8L-78.5 -93.9L-79.2 -94.4L-77.6 -96M-83.5 -95.5L-81.6 -95.5L-79.8 -95.5L-81 -93.9L-83.4 -93.1L-85.1 -93.9L-83.5 -95.5M-92.4 -98.1L-90.3 -98.3L-88.2 -98.5L-86.2 -98.7L-84.9 -98.4L-83.7 -98.1L-84.9 -97.1L-86.7 -96.9L-88.5 -96.8L-90.1 -96.8L-91.6 -96.9L-93.1 -97.6L-92.4 -98.1M-81.5 -98.7L-79.1 -98.7L-76.8 -98.7L-78.3 -97.3L-80.2 -97.4L-82.2 -97.4L-81.5 -98.7M-62.3 -64L-61.1 -65.2L-59.2 -67.8L-56.8 -69.2L-57.6 -67.8L-57.5 -66.7L-55.5 -66.2L-55.3 -65.2L-55.4 -63.8L-56.5 -62.7L-58.5 -63.2L-58.8 -64L-60.5 -64L-62.3 -64M-98.9 -29.5L-96.5 -31L-94.2 -31.3L-92 -30.3L-89.8 -29L-88.2 -27.9L-86.7 -27.2L-88.3 -26.8L-90.9 -26.8L-91.1 -27.9L-92.1 -29L-94.9 -29.8L-97.2 -29.9L-98.9 -29.5M-87.3 -24.8L-85.6 -24.7L-85 -25.1L-85.7 -26.7L-83.9 -26.7L-81.9 -26.5L-81 -25.9L-80.2 -25.1L-81.9 -24.8L-83.9 -23.8L-85 -24.4L-87.3 -24.8M-91.8 -24.7L-89.5 -24.4L-90.9 -24L-91.8 -24.7M-78.8 -24.8L-77 -24.7L-77.4 -24.1L-78.8 -24.3L-78.8 -24.8M13.8 -51.2L15.6 -51.3L17.3 -51.5L16.8 -49.4L13.9 -50.7L13.8 -51.2M9 -55.1L10.6 -55.3L10.6 -52.8L9.4 -52.5L9 -55.1M9.3 -57.2L10.3 -57.9L10.2 -55.9L9.6 -55.9L9.3 -57.2M26.4 -47.8L29.5 -47.4L27.5 -47L26.4 -47.8M36.2 -47.2L38.6 -48L38.1 -47L36.8 -46.6L36.2 -47.2M-182.3 -27.2L-181.3 -26.7L-182.4 -25.5L-182.5 -26.5L-182.3 -27.2M191.7 27.1L194 29.4L194.4 30.2L192.9 29.4L191.7 27.1M208.1 23.6L209.6 23.6L209.3 24.5L207.9 24.5L208.1 23.6M196.3 20.2L197 20.5L197.3 22.2L196.7 22L196.3 20.2M185.9 9L189.3 10.8L190.8 12.8L190.2 13.2L188 11.2L185.8 9.4L185.9 9M71.6 65.8L73.1 65.8L72.8 66.6L71.5 66.6L71.6 65.8M-123.8 105.7L-121.9 105.7L-120 105.8L-118.2 105.8L-116.3 105.9L-114.6 105.9L-112.8 105.9L-111.1 105.9L-109.3 105.9L-107.7 105.9L-106.1 105.9L-104.4 105.8L-102.8 105.8L-101.5 105.7L-100.1 105.6L-98.8 105.4L-103.6 104.2L-107 103.6L-110.5 103L-113.4 102.3L-116.3 101.6L-119 101.1L-121.7 100.5L-121.4 99.5L-119.6 99.4L-117.7 99.4L-117.1 98.9L-116.5 98.4L-119.7 97.4L-118.1 97.2L-116.5 96.9L-115 96.7L-113.4 96.5L-111.9 96.3L-109.9 96.1L-107.9 96L-106 95.8L-104.3 95.5L-102.7 95.2L-100.6 95.3L-98.5 95.5L-96.4 95.6L-94.2 95.7L-91.9 95.8L-89.7 95.8L-87.6 96L-85.5 96.1L-83.5 96.3L-81.8 95.5L-80.7 94.2L-78.5 94.4L-76.4 94.6L-74.3 94.8L-72.1 95L-69.8 95.2L-67.8 95.2L-65.7 95.2L-64 94.8L-62.2 94.4L-60.5 94.4L-58.9 94.4L-58.2 92.2L-59.1 89.4L-58.7 87.6L-57.9 85.9L-55.7 84.7L-53.8 84L-52.5 83.8L-53.3 85L-54.7 85.9L-55.5 87.1L-56.8 88.8L-56.6 90L-53.5 91.7L-50.9 93.9L-49.2 96L-49.3 97.6L-50.9 98.7L-52.4 99.7L-53.1 100.7L-53.7 101.6L-51.5 102L-49.3 102.3L-47.2 102.6L-45.1 103L-43.6 102.7L-42.1 102.5L-40.5 102.3L-39.1 101.7L-37.6 101.1L-35.6 101.9L-33.7 102.5L-31.5 102.7L-29.2 102.8L-28.1 102L-27.1 101.1L-25.5 99.5L-23.8 98.8L-22.1 98.1L-20.2 96.6L-18.3 95.9L-16.4 95.3L-14.4 94.9L-12.4 94.4L-10.9 93.8L-9.3 93.1L-6.8 92.4L-4.7 92.3L-2.6 92.2L0 91.4L2.1 91.5L4.3 91.7L6.4 91.5L8.6 91.4L10.7 91.3L12.9 91.1L15 91.4L17.1 91.7L19.2 91.8L21.3 91.9L23.6 91.4L25.9 90.9L28.7 90.2L30.3 90.6L31.8 91.1L34.6 90.5L37.1 89.8L39.5 89L42 88.3L44.5 87.6L46.4 87.3L48.4 86.9L50.7 87.6L52.9 88.6L55 88.7L57.1 88.9L58.8 89.2L60.4 89.4L60.6 90.5L62.7 91.3L64.5 91.1L67.9 90L70.1 89.3L72.3 88.6L74.8 88.2L77.3 87.9L79.6 87.8L81.9 87.6L84.5 87.6L87.1 87.2L89.7 86.8L91.7 87.1L93.6 87.4L96 87.2L98.4 87.1L100.3 87.4L102.2 87.8L104.3 87.9L106.4 88L109 87.7L111.5 87.4L113.9 87.2L116.3 87.1L118.5 87.1L120.8 87.1L122.6 87.4L124.5 87.8L126.4 88L128.3 88.2L129.5 89L130.7 89.8L132.4 90.2L134.1 90.5L135.5 91.1L136.9 91.7L138.4 92.1L140 92.4L141.6 92.9L143.2 93.3L140.1 95L137 95.8L134 96.6L129.1 98.1L125.4 100.2L120.1 101.6L117.1 103L117.1 103.7L117.2 104.5L118.2 104.7L119.1 105L120.1 105.2L121.3 105.4L122.6 105.5L123.8 105.7"/></defs>
<g transform="translate(324.05 201.55)">
<use href="#bd" fill="#f7f7f7"/>
<g clip-path="url(#cl)">
<g fill-rule="evenodd"><path fill="#fcdfcf" d="M114.3 -81.5l0.5 1 -1.1 1 1.8 0.8 2 -0.3 0 2.6 2 1.5 2.5 0.4 -0.5 2 -3 1.2 -1 -0.2 -0.6 1 1.2 2 -0.6 1.8 -1 -0.1 -1 -1.9 -2.8 2.2 2.1 1 -0.3 2.2 -4.1 -3.2 1 -2 -0.9 -1.8 -1.6 0.8 -0.4 2.1 -0.9 -1.1 -0.1 -3.3 -1.4 -0.7 -2.5 -3 0 -1 0.9 -0.6 4 -0.1 3 -1.1zM-117.1 -79.5l0.6 -0.7 1 0.5 0.7 2.2 -1.7 0.5zM-42 -78.5l1.5 0.6 2 -1.1 1.3 0.5 -1 3 1 3 -0.1 5 -2.2 -0.1 -2 1.7 -1.3 -0.6 1 -2 -1.4 -1 -0.8 -3zM99.9 -78.5l0.6 -0.8 1.3 0.8 -1.3 1.4zM-146.5 -77.5l3 0.3 0.5 1.7 -5.5 2.6 -1.8 -0.6 -1.7 -2 1.5 -0.6 2 0.3zM-109.1 -77.5l1.1 0 0.5 2.3 -1.4 -0.3zM-140.3 -75.5l2.7 0 -1.9 1zM-53.5 -75.5l1 -0.8 1 0.5 2.7 3.3 -2.1 1 -0.3 2 -1.3 1.1 -2 0 -1.3 -3.1 0.6 -2 1.5 -1zM-129.9 -71.5l2.4 -0.6 3.9 2.6 -1.9 1.1 -2 -1.6 -1 0.5 0 1.3 -0.5 -0.3 0.4 -1zM-119 -71.5l0.5 -0.5 1 0.8 0.6 1.7 -1.1 0zM-120.5 -68.5l2 -0.2 1 2.5 2 -1.8 0 1.8 -1 -0.2 -0.3 0.9 0.1 2 -1.8 0.4 -0.3 -1.4 -1.7 -0.8 -1.3 -2.2zM135.2 -68.5l1.3 -0.1 1 1.1 1.1 2 -1.1 1.3 -3 -0.2 -3 2.2 -3 0 -2.3 -2.3 3.3 -1.3 1 -1.2 4 -0.2zM1.2 -67.5l1.3 0.2 0.6 0.8 -0.6 0.8 -1.7 -0.8zM185.2 -67.5l3 3 -2.7 3.7 -2 -0.5 -2 1.8 0.9 2 -0.4 1 -3.5 1.9 -3 0 -2 -1.1 -1.3 -3.8 0.9 -2 4.4 0.5 3 -3.6 2 1.1 0 1.2 1 -0.1 -0.8 -1.1 0.3 -1zM-126.7 -66.5l1.2 0 0.4 3 1.6 1.5 2.8 0.5 0 2 -2.7 2 0.4 1 1.5 1.8 1 -3.1 3.5 1.3 -0.7 1 0 2 2.1 1 -0.9 2 -1.4 1 2 3 -0.5 2 0.4 5 -1.2 1 1.6 2 -0.9 0.4 -2 0.3 -0.9 -1.7 -5.1 -3.6 -0.4 0.6 1.7 2 -0.1 1 -1.2 0.2 -1 2.3 -1.2 -1.5 -0.5 -3 -1.9 -2 1.2 -2 -0.4 -2 -3.2 -0.6 -1.7 -2.4 -0.2 -1 0.9 -0.5 1 0.7 1.1 -1.2 -0.1 -1.7 -2 1.1 -1.2 -1.4 2.2 -2.4 1 -0.3 1 0.9 0 -1.5 -0.8 -0.7 1.3 -2 -0.9 -2 4.2 -3zM-124.5 -61.8l-2 3.4 2 0 1 -1.2 0.4 -0.9zM-122.5 -51.1l-1.3 1.6 1.3 1zM-121.5 -54l-0.3 1.5 1.3 1.7 1 0.3 1 -0.7 0.1 -1.3zM-126.5 -49.8l0.7 3.3 -1.1 2 0.5 2 0.9 0.8 1.2 -1.8 -1 -3 1.5 -2zM-120.5 -48.9l-1 1 -1 -0.3 0.3 3.7 1.6 2 -0.4 1 2.5 2 1 0 0.9 -1 -1.4 -3 -1.5 -0.8 -0.6 -1.2 2.1 -1 -0.9 -2zM140.6 -66.5l0.9 -0.6 0.9 0.6 -1.9 2.8 -0.7 -1.8zM-184 -65.5l1.5 -0.5 3 1.7 0.9 1.8 -0.5 1 -6 -1zM122.7 -65.5l0.8 -0.8 1 0.8 -0.1 1 1.7 3 5 2 -1.6 3.5 -3 2.5 -1 0 0 -3.1 -1.3 0.1 0.1 2 -0.8 0.8 -1.4 -0.8 -0.6 -2.4 -1.5 -0.6 3.5 -2.1 1.5 -1.9 -2.5 -0.4 -1 2.1 -3 0.8 -2.9 -0.5 0.9 -1.5 3.4 -1.5 0.6 -3zM-46.1 -64.5l2.6 -0.2 0.7 1.2 -0.7 1.9 -1 0.1 0.5 1 -0.5 1.1 -1.3 -1.1 0.1 -1 -1.2 -2zM3.2 -63.5l0.3 -0.9 2.1 0.9 -2.1 1.5zM1.7 -60.5l0.8 -0.8 2.1 0.8 -1.1 2 -1 0 -1.1 -1zM35.4 -59.5l4.1 -0.1 5.7 2.1 -0.7 0.9 -2 0.5 -7 -0.6 -2 -0.8zM103.3 -59.5l2.2 -0.9 3 0.9 -1 3.9 -1 -1.9 -0.5 2 -1.1 1 -0.7 4 1.3 0.4 3 -1.9 2 0.6 1.3 0.9 0.7 3 2 -0.6 0.5 0.6 0.2 4 1.3 -0.6 1.6 0.6 0.3 1 -3.9 2.9 -1.6 0.1 0.6 1.9 2 -0.8 0.7 0.9 0.1 1 -0.8 0.5 -2 -0.1 -1 -0.9 -1 0.4 -3 -0.5 -3 1.9 -3 -3.1 -1.3 0.8 -0.7 1.5 -1 0 -1.2 -1.5 -2.8 -1 -3 0.2 -5 -3.5 -3 1.7 -1 -0.3 -5 1.2 -1 2.2 -1 0 -1 -1.2 -3 2.9 -2 -1.2 -3 1.3 -1.1 -0.3 0.1 -1.7 -1.3 -0.3 1.3 -0.2 0.3 -0.8 -1.3 -1.5 -1 0 -1 -3.2 -2 -0.1 -2 1.3 -0.5 -0.5 2.2 -2 0.3 -1.5 1 1.2 2 -0.3 2.4 1.6 -0.4 2.2 1 0.7 2 -0.3 -0.1 1.4 -1.1 1 1.2 0.2 1 -1 1.4 -0.2 -0.2 -2 2.5 -3 1.3 0 1 1.2 2 -1.1 1 1.4 0.4 -0.5 -1.2 -1 0.3 -2 -2.5 -1.3 -2 -3.3 -2 -1.1 1.3 -3.3 5.7 -2.1 1 0.9 2 0.2 2 -2.3 0.7 0.3 0.4 3 1.9 1.3 2 -0.2 1 1.3 4 -1.6 2 0 1 -1.2 3 0.9 2 2.3 1.8 -0.8 -1.7 -1 1.8 -3 -1.6 -1zM86.5 -47.6l-0.3 2.1 1.3 0.7 0.5 -0.7zM95.5 -51.7l-1 2.8 4 -1.6 0 -1 -1 -0.8zM82.5 -43.3l-0.3 0.8 1.3 1.7 0.2 -1.7zM0.2 -56.5l1.3 -0.9 3 1.3 3 2.4 0.5 2.2 -2.5 1 -4 -0.2 -1.3 -1.8 1 -2zM44.8 -55.5l0.9 0 -0.1 2 0.9 0.9 6 1 1 1.7 1.5 -1.6 -0.3 -3 0.8 -0.7 2.4 2.7 -0.4 3 -1.9 4 2.4 2 -0.5 1.3 3.5 1.7 -0.3 1 -2 1 3.2 1 -2.4 4 0.5 2 0.5 0.5 0.4 -1.5 2.6 -0.6 1 0.2 1.1 1.4 -0.2 1 -1.9 0.6 -1.2 1.4 -1.8 0.8 -1 -0.5 -0.9 0.7 0.2 2 2.1 3 -0.4 0.3 -1 -0.4 -2 0.8 -1.5 -3.7 -2.5 -2.5 -1.3 1.5 0.8 2 -0.5 0.8 -2.7 -4.8 0 -1 1.7 -1.4 -1 0.2 -2 -2.6 -0.9 1.8 1 2 -2.1 0.1 0.5 -1.1 -0.6 -1 -3.7 -3 3.8 -0.6 0 -1.4 -2 -0.5 -2 0.9 -1.3 -0.4 3.3 -3.7 3 0.7 5 -3.1 1.1 0.1 0.1 2 0.8 0.5 1 -0.4 1 1.6 1 -0.7 -1 -1.1 -1 0 -1.4 -2.9 0.9 -2 -2 -1 0 -1 1.5 -1.4 -1 -0.2 -1 1.4 -1 -0.7 -3 0.3 -2 -0.6 -2 0.9 -2 -1.2 -2 0 1 -3.9 2 3.3 1 -0.1 0.4 -0.8 -0.8 -4zM54.5 -35.6l-0.8 1.1 2.3 2 0.5 2.1 1 0.7 2 -3.8 -4 -2.3zM-113.5 -53.5l1.6 2 -0.6 1 -1.5 -1zM38.5 -53.5l0.7 1 -0.2 1 -1.5 1 -0.2 -2zM60.2 -52.5l1.3 -0.5 1 1.1 2 -0.3 1.2 0.7 -0.5 1 -3.7 0.5 -1.8 -1.5zM116 -52.5l1.6 0 -1.1 1.1 -1.2 -0.1zM-95.7 -51.5l2.1 1 -1.9 1zM1.1 -47.5l1.4 -0.3 0 1.7 -1.4 1.6 -0.8 3 3 1 0.2 2.5 2 1.1 1.1 0.4 1.3 -1 -2.8 -1 -0.2 -1 -1.3 -1 0.9 -2.5 1 0.8 1 -0.5 0.2 -1.8 -1.2 -0.7 -1 1.2 -1.7 -0.5 4.7 -2.2 4 5 1 -0.7 1 0.9 -1 0.8 -1 -0.5 -1.8 1.7 1.8 0.4 0.5 2.6 -1.2 2 1.7 1.4 1 -2.4 2.6 0 -0.6 -1.9 -1 -0.2 -1 -1.9 0 -1 2 -0.6 0.6 2.6 1.4 0.5 0.9 -1.5 -2.4 -2 1.5 -1.3 1 0.1 2 2.1 3 -2.1 0.8 1.2 0.1 1 -1.9 1.4 -2 -1.3 -1.1 3.9 1.1 0.9 2 -1.8 2 0.7 0.6 -0.8 0.9 -2 -1.2 -2 0.4 -1 3 1 -1.1 2 1.4 0.7 0.9 -0.7 0.4 -2 0.7 -0.2 0.4 1.2 1.6 0.7 1.4 -1.7 1.8 0 1.1 2 0.6 4 1.1 0.2 1 -0.9 0.6 0.7 1.1 6 2.7 3 -1.4 1.2 -2 -1.5 -1 0 -0.4 1.3 2.4 2 2.3 0 0.5 1 -0.8 0.7 -1 -0.5 -1 0.9 -6 -3.5 -0.6 0.4 -0.2 2 1.4 3 -1 1 0.1 2 2.6 2 -1.3 4.2 -2 -0.4 0.7 -2.8 -0.7 -1.1 -1.8 1.1 -1.2 2.9 -4 -1.2 -1 0.7 -0.6 -2.4 0.6 -0.8 1 0.8 1 -0.2 0.4 -0.8 -1.4 -1.1 -1.9 0.1 -0.1 0.9 -0.4 -0.9 -1.6 -0.3 -2 -2.7 0.5 -2 -0.5 -0.5 -4 1.2 -1 -0.5 -0.4 0.8 3.1 2 2.2 3 -0.3 4 -0.6 0.5 -1 -0.2 0.1 -2.3 -1.1 -0.9 -3 0.8 -4 -1.6 -2 3.6 -2 -1.6 -2 0.2 -2 -2 -3 1.1 -1 -1.6 -3 0.6 0.3 1.4 -1.3 0.5 -1.2 -2.5 1.9 -5 -0.4 -1 0.9 -1 -1 -3 -1.2 -0.4 -0.8 0.4 0.7 1 -0.5 2 1.5 1 0 1 -1.7 4 -1.2 -0.1 -0.8 -0.9 -0.2 -1.6 -3.1 3.6 2.1 1.9 3 -0.4 0 4.2 -4 -2.7 -1 0.7 -3 0.1 -2 -0.6 -1 1.3 -4 0.9 -1.7 1.6 5.8 1 13.9 0.6 5 1.2 3 -1 5 -0.2 2 2.1 1.5 0.3 -0.5 1.4 -8 0.5 -4 -1.3 -13 2.1 -16 -0.9 -23 0 -3 -0.8 0.1 -2 1.9 -1.1 24 -1.1 2.9 -0.8 -0.1 -2 -1.8 -2 0 -3 2.5 -5 0.5 -11 2 -2 2 3.3 2 0.3 2 -3 2.8 2.4 -3.2 1 0.4 1.6 1.4 0.4 -1.4 0.6 -0.4 1.4 1.4 0.6 0.9 -1.6 1.4 0 -0.2 2 1.9 2.4 1.5 -1.4 1.4 -3 -0.9 -1.3 -2.7 0.3 -1 -3 1.2 -1 0.1 -1 -1.6 -0.3 -0.3 -0.7 0.5 -2 -1 -1 0.4 -1 0.4 -0.7 4 2.3 0 -1.6 1 -0.8 6 -3.2 0.2 -1 -2.5 -3 4.3 -1zM2.5 -36.6l-0.7 2.1 1.7 2.1 0 -3zM20.5 -34.2l-1 2.4 -2 -1.5 -0.6 2.8 0.6 1.4 -3 0.6 -2 -1.5 -1 1.8 5 2.2 4 -4 2.3 1.5 -1.7 -3zM26.5 -36.6l-2 0.7 0 2.5 4 0.7 0.6 -0.8zM31.5 -31.7l-0.6 0.2 0.5 1 -0.9 1.3 -2 -0.5 -1.4 1.2 0.9 3 -4.2 3 1.7 0.6 3 -1.1 1.5 0.5 0.2 -3 -0.9 -1 1.2 -1.8 1.8 -0.2zM33.5 -28.7l-2.6 3.2 1.6 0.2 3 -1.5 0 -1.2 -1 -1.3zM-11.5 -32.6l2 3.1 0.6 -1zM-0.5 -39.1l-2 0.7 -0.4 0.9 1.8 1 -0.4 2 1 1.3 1.7 -5.3zM2.5 -29.8l-0.7 2.3 0.4 1 -1.7 1.7 -1.5 0.3 0.5 4.2 0.5 -2.2 2.5 -1.5 1 1 0.4 -0.5 0.1 -1 -1.3 -2 1.5 -3zM13.5 -22.9l-2.4 2.4 0.4 0.3 1 0.5 0.9 -0.8zM18.5 -23.6l-1.9 1.1 1.9 1.5 1 -1.5zM32.5 -22.6l0 2.1 1 0 0.5 -2zM-2.5 -28.3l-0.8 2.8 0.8 0.3 1.7 -2.3zM70.4 -47.5l1.1 -0.5 1.3 0.5 -1.3 1.4zM-132.6 -43.5l1.8 1 2 5 -0.7 2.5 -1 -0.9 -0.2 0.4 1.2 1.4 0 1 -1 -0.2 -2 2.7 -1 0.3 -2.6 -3.2 4.2 -7zM-11.6 -39.5l1.1 -0.5 1.1 0.5 -0.2 3 -0.9 0.2 -1.8 -2.2zM-142.9 -38.5l3.4 -0.7 1.9 1.7 -0.1 3 -1 2 -1.8 1.4 -1.4 -0.4 -2.6 -2.8 0.2 -2.2zM101.3 -34.5l4 2 -0.7 2 -2.1 0.7 -0.6 -0.7 1.4 -2 -1.8 -0.8zM107.4 -33.5l3.1 -0.3 2 3.2 3 1.7 1 1.7 3 1.3 -0.7 2.4 1.1 1 -0.4 1.5 -3 1.9 -1.1 -0.4 0.3 -2 -1.2 -1.9 -1 -0.1 -1 1.7 -1 -0.2 0 -2.6 2 1.1 1.1 -2 -3.1 -2.7 -2 0.8 0.3 -1.1 -0.8 -2 -1.6 -1zM98.6 -30.5l0.9 -0.3 1.6 1.3 -0.6 2.1 -1 -0.3zM65 -28.5l1.9 0 0.1 1 -1.5 0.3 -0.7 -0.3zM62.1 -26.5l2.4 -0.6 0.2 0.6 -0.2 1 -2 0.7 -1.2 -0.7zM43.2 -20.5l0.3 -0.9 1.5 1.9 1.9 1 0.3 1 -1.7 1.1 -2 0 -1 1 -1 -2.4 -2 2 -3.9 -1.7 1.9 -1.5 2 0.8 1 -2.1 2 1.1zM50.5 -20.5l0 -0.6 1 0.1 1 0.5 0 0.8zM52.5 -19.5l3 -0.8 0.3 0.8 -0.3 1.1 -2 0.6zM150.7 -19.5l3.8 -0.6 0.8 1.6 -1 1 -3.2 1 -0.8 -1zM-150.6 -14.5l1.1 -0.4 0.8 1.4 4.2 1.4 37 -0.2 7 1.3 1 0.7 3 -0.4 2 -1.2 2 1.8 2 0 2.5 4.6 0.2 1 -2.2 6 -1.5 0.8 -1 -0.6 -1 -2.4 -3 0.4 -1 -1.2 -2 -7.3 -0.9 2.3 -4.1 1.6 -21 -0.8 -10 0.7 -11 -0.4 -12 1.1 -7 -0.3 -4 0.9 -5 -1.1 -11 0.3 -7 -1 -22 0.7 -0.5 -1.7 1 -1 0.4 -4 2.1 -1 11 0.4 7 -1.1 4 0.8 22 -0.8 7 0.8 8 -1.1zM126.9 -12.5l4.6 -0.4 3 0.8 1.3 0.6 0.8 2 -0.3 2 -1.9 3 -4.4 3 -0.5 4.9 -1 0.1 -6 -5 0.6 -7 1.3 -3zM204.1 -9.5l0.4 -0.5 5 0.1 5.2 3.4 -2.2 0.3 -3 1.7 -5.1 -1 -1 -1 1.2 -1 -1.2 -1zM29.8 -6.5l0.7 -0.6 2.5 0.6 -2.5 0.5zM16.1 -5.5l0.4 -0.5 0.8 2.5 -0.8 0.8 -0.7 -1.8zM20.4 -4.5l1.8 1 -1.7 2zM31.1 -3.5l1.4 -0.7 1 0.5 -1.3 2.2 2.3 1 -2 3.5 -1.1 0.5 -1 3 4.4 -1 -1.6 -1 0.3 -1.1 2 0.4 2 2.5 1 -0.3 0 2 -1.7 1.5 -2.3 4.3 -0.4 -1.3 0.5 -2 -1.1 -0.5 -2.4 0.5 -0.5 1 1.2 1 -0.3 0.5 -3 -0.5 -0.7 -3 1.3 -1 -0.6 -0.7 -1.1 0.7 0 1 -2.9 2.1 -1 -0.4 -1 1.2 -2.7 -2.9 0.2 -1 1.2 -1 -0.7 -2 3.8 -1 -0.2 -3 2.3 -2 -1.5 -2 0.6 -0.8 1 -0.1 1 1.4 1 0.2zM25.5 5.3l-3 0.9 -0.7 2.3 1.7 0.7 1.7 -1.7zM11 0.5l2.6 0 0.3 1 -1.4 0.7zM173 1.5l2.5 -0.2 11 2.2 5 -0.8 6 0.2 16.6 3.6 0.3 9 -1.1 1 -0.3 4 -1.5 2 -2 -0.7 -8 0 -5 -1.5 -6.2 1.2 -2.6 3 -0.2 1.7 -1 0 -4 -2.2 -2 -2 -3 -0.7 -1 0.5 -2 -1 -2 0.8 -2 -1.1 -1 3.6 -0.8 0.4 0.3 2 2.5 1.5 1 3.7 1 0.5 0.8 -0.7 -0.3 -2 3.5 -0.4 2.2 4.4 3.8 0.8 4 -0.3 1.2 -3.5 -0.8 -1 1.6 -1 2 1.7 5 -1.1 0.8 2.4 2.2 1.2 3.2 -2.2 2.8 0.7 2 -1.5 2 1 -0.4 3.8 -1 1 -0.1 2 -2 3 -1.7 5 -6 8 0 1 -5 5 0.1 1 -12.9 12.9 -1 0 -5 5 -1 0 -7 6 -1 0 -2 2 -1 0 -8 5.9 -3 1 -2 2 -8 3.9 -4 1 -3 1.9 -2 0 -3 1.9 -2 0.1 -3 1.8 -2 0.1 -4 2 -3 0.2 -1 0.9 -9 0 -4 -0.8 -3 0.8 -17 0 -3 -0.5 -2 -1.3 -4 1.8 -3 0.1 -39 -0.6 4 -6.1 -1 -2.8 -3.7 -1.2 3.7 -0.3 2 -2.9 1 -0.3 3 1.8 5 -0.4 0.9 -0.9 0.1 -1.7 1.3 -0.3 0.3 -4 -0.6 -1.1 -1 0.1 -2 2.6 -2 -1 -2 1 -2 -0.7 -4 0.8 -4 -0.5 -7 1.6 -9 -0.9 -5 0.8 -8 -0.6 -3 0.7 -0.5 1.2 2.5 1.5 0.2 1.5 2.8 2 -1 0.7 -1 -1.1 -0.4 0.4 1.3 2 -0.8 1 -1.1 0.2 -1.2 -2.2 -2.2 -1 0.4 -1.8 1.3 -0.2 -1.3 -0.2 -1 -2.2 -1 0.2 -1 2.4 -5 -0.2 -2.6 1 0.1 1 -1.5 1.4 -2 -1.2 0 1.1 2.7 2.7 0.1 4 -0.8 1.8 -1 0.4 -4 0.3 -3 -1.4 -2 1.1 -1 -0.5 -2 0.7 -17 0.3 -2 -0.7 -3 0.3 -0.6 -0.3 0.7 -1 -1.1 -0.5 -1.3 1.5 -3.7 0.5 -3.7 -0.5 -0.4 -3 -1.9 -1.1 -0.4 4.1 -1.6 0.3 -16 0.3 -3 -0.6 -5 0.5 -3 -1.1 -4 1 -10 0.2 -5 -0.9 -4 0.6 -2.1 -1.3 1.8 -1 -1.7 -1.7 -1 -0.4 -1 0.8 -1 -0.8 -2.5 0.1 -0.5 -3.3 -1 0.2 -1.1 -1.9 1 -1 -1.9 -1.8 -5 -0.5 -3.8 2.3 -1.2 2.1 -1 0.1 -1 -1.5 -2 0.6 -2 -0.7 -8 -3.8 -2 -2 -3 -1 -8 -5.9 -1 0 -2 -2 -1 0 -7 -6 -1 0 -5 -5 -1 0 -1.9 -1.9 -15.9 -17 0 -1 -2 -2 0 -1 -2 -2 0 -1 -3 -4 -1.8 -5 -1 -1 0.2 -2 -1.1 -1 0.1 -2 -1 -1 0.4 -1.7 1 -0.2 3 1.4 1 -1 0.6 0.5 -0.6 1.6 -2.6 0.4 0.6 1.6 3 2.2 2 -0.3 3 2.9 4 1 0.8 -1.4 0.4 -6 0.8 -1.4 1 -0.2 1 1.4 3 -0.4 2 1.8 7.5 2.8 0.5 0.8 0.5 -0.8 3.5 -1.3 3 0.7 9 -2 5 1.8 5 -3.4 8 0.4 3 1.9 3.8 -0.1 4.4 -1 1.1 -1 0 -3 1.7 -1.1 1.1 0.1 -1.5 3 3.4 1 2.6 -2 -0.9 -2 1.8 -2 -0.5 -1.5 -1 1 -5.2 -2.5 -0.2 -1 1.3 -2 -1.6 -1 -0.5 -2 8.2 -7.4 3 -0.5 3 -1.6 9 -1.2 2 -1.3 4 -0.7 3 1.6 1.6 2.1 4.2 3 2.2 3.9 0.7 -1.9 2.6 -3 -0.3 -1 0.7 -1 -0.9 -1 3.2 -1.2 1.5 5.2 -1.7 4 0.6 4 -0.4 0.5 -1 -0.5 0.1 -3 -1.1 -0.6 -2 0.5 -2 -0.8 -0.3 0.9 0.3 1.3 1 -1 0.3 0.7 -0.7 2 2.8 1 3.7 3 1.3 2 1.2 8 -0.2 4 1.5 8 -1.2 5 1.1 7 1.2 3 -1 2 2 4.1 0.5 -0.1 -0.4 -1 1.9 -3.4 1.9 1.4 0.1 1.4 3 0.3 0 -2.2 -1 -0.5 -1 0.7 -0.9 -0.7 0.7 -3 -1.7 -3 1.2 0 0.7 1.3 1.7 0.7 -1.6 2 0.9 2 1.1 -2 -0.1 -3 -2.5 -3 0.5 -0.8 2 0.3 3 -2.3 3 -0.3 1.1 -1.9 -1.1 -2 3 -0.6 1.6 -1.4 4 -6 0.8 -4 4.6 -3.3 3 0.9 1.2 1.4 0.4 1 -1.1 2 1.5 0.4 1 1.9 4 0.3 1.6 4.4 3.4 0.8 1 1.4 3 -2.4 0.4 1.2 1 0 2.6 -6 2.1 -2 2.4 -4 5.7 -5 0.3 -1 -3.3 -1 -0.8 -2 1.5 -4 3.1 -1.4 0.8 0.4 -0.1 1 1.5 1 -1.2 2 3 7.1 3 0.2 4.2 2.7 5.5 2 2.3 -0.3 2.6 -1.7 0.6 -4 -0.8 -1 -1.4 -0.5 -2.5 0.5 -3 -2 -0.6 -6 -2.3 -5 0.6 -3 1.6 -3 0.1 -3 1.1 -0.2 3 -3.1 3 -1.3 2 0.9 2.5 2.7 2.3 4 0.3 2 3.2 1 0.8 3 -1.5 7 2.4 9 0 5 2.6 5 0.8 4 1.6 1.7 2 0.2 3 -1.7 3 0.1 2 -2.2 2 -0.8 3.4 -3.3 2.6 -4.6 1.8 -1.4 1.2 -3.3 3 -1.3 2 0.1 2 1.3 0.6 1.2 -0.6 2 4.6 2 0.5 2 1.8 2 4.1 -0.4 5 3.7 8 -0.3 11 2.8 5 -1.6 2 0.6 12 -4 1.3 0.2 2.7 -1.7 2.2 -2.3 1.2 -7 4.6 -3.4 4 -2.1 4 -1.1 7 1 0.6 1.6 1.3 1 3.1 -0.1 1 0.9 -1 1.1 -1 -0.1 -2.1 2.2 -1.2 5 0.5 5 -1.5 4 0.2 2 2.1 0.3 5 -2.1 5 -0.7 1 -0.5 -1 -1.5 -4 0.9 -0.3 -0.4 0.8 -1 -0.7 -3 0.9 -3 -1.7 -2.1 -2 0.2 -1.7 -3.1 1.7 -1.9 1 2.5 1 0.7 1 -2.8 2 2.1 1.8 -2.6 -0.2 -3 1.9 -3 3.7 -1 0.8 -3 -0.5 -1 -5.5 -0.7 -3 1.2 -5 -0.7 -3 0.9 -6 -1.6 -10 -1.2 -6 -1.8 -2.2 -2.1 -0.5 -3 3.7 -2.3 3 -0.6 8 0.3 3 0.9 4 -3.2 4 2.3 4 0.4 5 -1.3 1 1.5 0.6 -1 2.4 -0.7 1 -1.2 8 -1.6 4 0.9 2 -1.1 2 0.7 -0.9 3 1.9 1.2 1 1.7 3 -0.2 0.8 2.3 1.2 0.1 1.8 -1.1 1.2 -3 -2 -0.9 -1 0.8 -0.8 -0.9 0.3 -1 -3.3 -2zM176.5 33.7l-0.9 0.8 0.5 1 -0.8 1 -2.2 1 0.4 1 -5 2.9 -2.8 0.1 0.8 1 -0.5 1 -2.5 0.4 -3.1 1.6 -1.9 2.4 -2 -0.2 -0.5 1.8 0.5 1.1 2 0.3 1 -1.6 0.8 2.2 1.2 0.4 5 -2.1 2 -2.8 6 -5.5 2 -4.4 0.5 -2.6zM188.5 55.4l-10 5.1 -1.3 1 0.3 0.8 1 0.3 2.6 -1.1 1.4 -1.4 4.9 -2.6zM194.5 48.4l-0.2 3.1 -1.8 1.4 -0.6 1.6 0.6 0.3 4.1 -3.3 -1.7 -1zM-93.5 99.1l-0.7 0.4 1.7 1.7 1.7 -0.7zM-88.5 96.5l-0.1 1 1.1 1.5 1 -0.2 0 -2.2zM-77.5 98.4l-0.3 1.1 1.9 0 -0.6 -1.8zM-70.5 72.4l1.5 1.1 1.7 0 -1.2 -1.2zM-64.5 99.1l-0.1 1.4 1.1 1.4 0.8 -1.4zM-53.5 92.5l-0.5 0 1.5 3 2.4 0 0.2 -1 -2 -2zM-30.5 93.5l-0.7 0 0.4 2 1.3 2.1 2 0.4 1.5 -0.5 0.3 -3 -0.8 -1.9zM-24.5 102.1l-0.9 0.4 0 1 0.9 0.5 0.6 -1.5zM8.5 19.9l-1 2.6 2 6.3 1.2 -1.3 0.6 -7zM49.5 88.4l-1.4 1.1 -1 5 4.4 2.8 5 -2 1 -1.2 0.3 1.4 1.7 1.5 3 -0.5 1 -0.9 2 2.3 4 -0.8 0.7 -0.6 0.3 -2.7 2 2.1 1 -0.3 4 1.3 3 -1.3 2 0.2 2.5 -1.3 -1.5 -1.4 -2.1 -0.6 -0.9 -1.3 -1 1.4 -1 0.1 -3 -1.5 -3 1.3 -4 -1.7 -6 1.4 -5 -1.8 -3 0.1 -0.3 -1zM107.5 90.1l-6 1.9 -2 -1.4 -2 1 -3 -1.1 -1.3 1 0.9 1 -3.1 2 0.5 1 2 -1.5 1 0 5 3.4 7 -1.3 3 1 1 -1 4 1.5 2 -1.1 1 0.8 1.1 -0.8 1.9 -3.2 1 2.1 3.8 -0.9 0 -1 -1.7 -1 -1.1 -2.5 -4 1.1 -3 -0.2 -2 0.8zM144.5 26.3l-0.2 2.2 1.2 0.3 0.5 -0.3 -0.4 -2zM152.5 43.4l0.4 2.1 1.7 0 -0.1 -2.6zM158.5 55.3l-1 2.2 1 0.3 2.1 -1.3 -0.1 -1zM-89.5 100.3l-0.7 0.2 1.7 2.5 2 -0.4 0 -1.1 -1 -1 -1 -0.6zM102.5 102.2l-1.5 2.3 1.5 2 1 0.1 1.8 -2.1 -1.8 -2.4zM145.5 40l0 2.5 2.4 0 -0.4 -2.1 -1 -0.8zM20.2 2.5l1.3 -0.6 0.6 0.6 -0.6 1.4zM-214.3 4.5l2.8 0.4 7 4.3 22 5.8 4 2.6 4.4 1.9 -2.4 3.8 -2 -1.1 -2 0.6 -11 0 -5 1.1 -2 -0.5 -2 0.6 -4 -2.5 -8 -1.2 -0.8 -3.8 -1 -1 0 -8 -1 -1zM77.6 6.5l1.6 0 0.9 1 -0.6 0.9 -3 -0.1 -1.4 -0.8zM22.2 15.5l1.3 -0.5 0.8 1.5 -0.8 0.4zM173.3 24.5l1.2 1 -2 1.6 0 -2zM18.5 28.5l1 -0.6 1.2 0.6 -1.2 1.2zM135.4 37.5l0.7 1 -0.6 0.5 -2.9 0.5zM161.1 48.5l1.4 -0.1 0 1.5 -1.7 -0.4zM20.2 95.5l1.3 2 3 -1.1 3.2 2.1 0.8 1.6 2 1.4 -1 1.8 -2 -0.3 -1 1.9 -2 -1.5 -1 0.3 -0.9 1.8 1.1 2 -0.8 1 -1.4 0 -2 -2 -0.6 1 0.4 1 -0.8 0.3 -9.7 -0.3 0 -1 1.6 -1 -0.1 -1 -2.8 -1.8 -2.5 -0.2 -0.7 -6 1.2 -0.7 2 0.1 2 1.3 1 0 1 -1.8 6 1.1zM-12.9 98.5l2.1 0 0.7 2 -0.4 0.9 -1 -0.5 -2.2 0.6zM-8.2 100.5l1.7 -0.7 1.4 0.7 -3.4 1.4 -0.9 -0.4zM-7 104.5l0.5 -0.8 0.6 0.8 -0.2 2 -2.4 2.2 -1.8 -0.2 -1.2 -2.8 -1 0.9 -0.4 -1.1 3.4 -0.2 1 0.8 1.5 -0.6z"/><path fill="#f7b799" d="M110 -76.5l3.5 -0.9 1 0.4 1 1.5 -0.2 3 -1.8 0.5 -3.7 -1.5 -0.7 -1zM-119.9 -56.5l0.8 0 0.4 2 -0.8 0.4 -0.8 -0.4zM74.9 -55.5l2.6 -0.3 1 1.4 1.2 -1.1 0.4 1 -1.2 1 0.6 1.7 1 -1.4 2.1 -0.3 -0.1 -1 1 -0.9 2.9 1.9 -0.9 1 1 0.5 2 -1.4 1 2 1.2 -0.1 0 -1 1.8 -1 3 0.4 -1.6 3.6 0.6 1.3 3 -1.8 2 2.4 1.2 -1.9 0 -2 -0.2 -0.8 -1.2 -0.2 0.2 -1.2 1.1 1.2 2.9 1 -0.8 2 4.8 -0.4 1 1.4 2 -1.7 1 3.2 2 0.8 1.3 1.7 -1.3 1.5 -1 -0.9 -0.2 1.4 2.2 0.4 0.7 0.6 -0.2 1 -3.5 0.9 0.8 1.1 -0.8 1.5 -3 -0.6 -2 0.6 -0.6 -0.5 0.6 -2.3 -1.7 0.3 -0.3 1.9 -2 -1.4 -2 1.8 -5 -2 -2 0.3 -5.2 -2.6 -0.6 -2 0.7 -2 -0.9 -2 -1 -0.6 -0.8 1.6 1.5 3 -1.7 0.9 -1.8 -0.9 -0.5 -1 0.4 -1 -1.9 -1 -0.1 -2 2.1 -1 -1.2 -1.7 -1 0.8 -1 -0.6 -0.5 0.5 0.4 3 -0.9 0.8 -3.2 -1.8 -1.3 -3 -2.1 -1zM106.5 -48l-0.4 1.5 2.1 0zM46.1 -50.5l1.4 -0.1 0.5 1.1 -2.1 0zM-124.6 -46.5l1.4 0 0.2 3 0.8 1 -0.3 1.1 -1 -0.1 -0.6 -1 0.5 -1zM55.3 -43.5l1.5 0 -0.3 1.6 -1.1 -0.6zM75 -43.5l1.9 1 0.5 3 -2.9 -0.4 -2 -1.6zM64.2 -42.5l1.3 -0.9 0.8 0.9 -0.8 1.6 -1 0zM7.4 -41.5l2.1 0 -1.6 2 0.4 1 -0.8 0.2 -2.2 -2.2zM34.3 -40.5l2 2 -1.8 2 2 0.7 0 1.8 2 -0.4 1 -0.9 0.4 1.8 -1.4 1.6 -2 -0.2 -2 0.9 -4 -1 -2.5 -3.3 0 -1 -1.3 -1 0.8 -0.8 1 0.7 2 -1.5 2 0.3zM-131.6 -39.5l2.1 2.1 -2 -0.5zM8.9 -38.5l2.6 1 -0.2 1 -2.3 2 4.4 3 -1.9 0.8 -1.9 2.2 1 1 -0.1 1.3 -2 0.5 -0.8 -0.8 1.5 -1 -0.7 -0.7 -2 0.5 1 1.2 -1.1 1 0.1 1.5 1 0 1 -1.4 2 0.8 2 -1.7 2 -0.3 2.2 3.1 -4.2 -0.4 -2.2 3.4 2.2 1.7 2 -1.6 2 2.7 1 -0.4 1 0.6 0.9 2 -3.9 2.2 -2 -1.9 -1 0.5 -1.9 -0.8 0.7 -1 -0.8 -0.4 -0.9 0.4 0.7 2 -0.8 2.4 -2 -3 -1 2.3 -4 -2.8 -0.1 1.1 -0.9 0.7 -2.8 -1.7 0.6 -2 -0.8 -0.6 -2.2 0.6 0.1 -1 2.1 -1.8 1 1 1 0 0.5 -2.2 1.5 -1.6 2 2.8 1.5 -1.2 -1.6 -1 0.2 -2 -1.5 -2 1.4 -2.4 2 -0.3 0.9 -1.3 -1.8 -1 0 -1 1.3 -3 1.7 -1zM13.5 -18.6l-1.8 1.1 1.8 1.8 0.6 -1.8zM5.5 -18.6l-1.5 1.1 2.5 0.9 0.5 -0.9zM-6.5 -37.5l1 0.5 1 2 2 -0.2 2 3.3 1.3 -0.6 -0.3 -1.5 3 2.1 0.9 -0.6 -0.4 -4 1 0 0.1 5 -1.2 1 -1.9 0 -0.1 2 -0.9 1 0.4 1 -0.9 1.1 -1.6 -0.1 1.1 -2 -0.5 -1.9 -3 -0.1 0.2 2 -1.2 1.8 -2.9 -0.8 1.7 -2 0.2 -2.2 2 -0.4 1.7 -1.4 -1.7 -1.9 -3 3.1 -2 0 -2 -2.2 -1.3 0 -0.6 -1 0.9 -0.2 1 1.1 1 0zM17.8 -37.5l0.7 -0.6 0.3 0.6 -0.3 2.4 -1.3 -1.4zM57.1 -37.5l1.4 -0.3 2.1 1.3 -3.3 1 -1 -1zM22.4 -36.5l1.8 2 -1.7 2.8 -1 -0.8zM-132.9 -35.5l0.4 -0.4 1 1.4 -1 1.6 -1.1 -0.6zM13.8 -34.5l1.7 -0.1 0.8 1.1 -0.8 0.8 -1.8 -0.8zM52.5 -34.5l3.3 3 -1.3 3 -2.5 -1 1.7 -2 -1.8 -1zM25 -32.5l1.5 -0.2 4.1 2.2 -4.1 0.3 -1.9 -1.3zM15.1 -31.5l0.4 -0.6 1 0.4 -0.6 1.2 1 1 -1.2 0zM38.8 -31.5l0.7 -0.3 1 0.7 0 1.3 -1 0.6zM-11.9 -29.5l0.4 -0.5 2.2 1.5 0.4 1 -1.6 0.7 -1 -0.6zM20 -28.5l0.5 -0.6 1 0.5 1.3 2.1 -2.1 1 0.8 2 -0.3 2 -0.7 0.4 -0.8 -0.4 0.5 -1 -0.6 -1 -2.8 -1 0.6 -2 2.1 -0.8zM23.9 -28.5l0.6 -0.8 2 1.3 0.5 1.5 -0.8 2 -3.7 1.5 -0.9 -0.5 0.9 -0.9 2 -0.2 1.2 -0.9 -1.8 -2zM36.1 -26.5l0.4 -0.9 1 0.1 1.4 2.8 -0.4 0.5 -2.9 -1.5zM-19 -25.5l1.5 0 -1 1.6zM-14.7 -23.5l0.2 -0.9 0.2 1.9 1.7 2 1.1 3.4 0.5 -3.4 2 -3 0.5 -0.7 2 0.3 0.4 1.4 -0.4 0.5 -1 -0.4 -0.6 0.9 2.8 2 -1.4 2 0.2 1 -1.2 0 0.8 -2 -0.6 -1.8 -1.6 0.8 -1.4 3.2 -1 -0.1 -3 3.1 -1.1 -0.2 -0.9 -1 3.8 -2 -0.1 -2 -1.7 -0.1 -1.4 -1.9 -0.3 -2zM27 -21.5l0.5 -0.3 1 1.1 1 -1.1 1.9 0.3 -0.5 1 3.6 4.3 -1 0.8 -1 -1.4 -1 0.2 -1 2 -1 -0.2 -0.7 -1.7 0.9 -1 -1.2 -2.5 -1.3 1.5 0.3 1.9 -2 -0.7 -2 0.6 -1.7 -1.8 0.7 -1.7zM-18.5 -18.5l1 -0.9 2.5 1.9 -2.5 1.6zM30.1 -13.5l0.4 -0.4 1 0.6 0 1.3 -1.7 -0.5zM-196.7 -11.5l2.2 -0.5 34 0.3 9 -0.8 10 1.2 8 -0.4 18 0.7 6 -0.6 5.7 1.1 1.4 1 0 1 -1.9 2 -1.2 0.3 -41 0.2 -22 1 -17 -0.5 -7 -0.9 -5 0.4 -13 -1 -0.7 -0.5 0 -1 1.9 -2zM-94.7 -10.5l4.2 2.3 1.8 2.7 -0.8 4.2 -2 2.5 -2 -3.7 -2 1.1 -1.9 -2.1 -0.1 -5 0.6 -1zM127.5 -10.5l3 -0.3 2 0.6 2 1.4 0.4 1.3 -1.2 3 -4.3 3 -0.2 2 -0.7 0.7 -4 -2.7 -0.8 -3 1.1 -4zM-40 -5.5l26.5 -0.4 6.8 1.4 0 1 -5.8 1.9 -39 -0.7 -2 -1.2 1 -1.2zM7.2 -4.5l1.3 -0.3 0.5 1.3 -1.9 0zM27.4 0.5l3.1 2.8 0.1 1.2 -1.2 2 -2.7 2 0.1 1 -2.3 0.6 0 -0.9 1.4 -0.7 0.9 -3 -2 -2 -0.1 -1 0.4 -1zM153.2 3.5l3.3 0.1 2 1.5 2 0.3 3 2 1.6 3.1 3.4 1.3 4.4 -2.3 0.3 -3 -2.2 -2 1.5 -1 6 -0.2 7 1.8 4 -0.8 12 0.6 5 1.7 7 0.9 0.6 8 -1.1 1 -0.5 3.2 -6 0.7 -11 -1.3 -15 0.8 -7 -1.5 -2 1.1 -2 0 -1 -1.6 -1 0.2 -1 3.4 1.4 2 -2.4 1.5 -3.5 0.5 1.5 0 2.7 2 0.3 1 -1 2.1 5 0.3 0.9 2.6 -0.9 0.4 -2 -0.9 0 1.5 -1.6 2 0.9 2 -0.4 1 -3.5 2 -2.9 3 -2.5 0.6 -0.3 -1.6 -1.7 -2.5 -1 1.2 -2 -0.5 -2 1 -1 -1.1 -1 0.4 -0.7 -1.5 0.5 -1 -2.8 -2.5 -1.7 1.5 -0.3 3.7 -1.7 -0.7 -0.3 -1.7 -1 1.4 -1.4 -0.7 2.2 -2 -0.1 -1 -1.3 -1 1.1 -1 -1.7 -1 0.1 -1 1.8 0 0.4 1 0.9 0.2 1.1 -1.2 -0.1 -0.9 -1.6 -0.1 0.6 -2.4 3 -1.2 1 -1.4 3.6 1 -0.6 -1.7 -1.1 -0.3 0.6 -1 -2.5 -1.3 -1.1 0.3 0.1 1.2 -2 -0.6 -0.7 -0.6 0.2 -1 1.3 -1 2.2 -0.1 1.1 -1.9 2.9 -0.6 1 -1.1 0.3 1.7 -0.8 1 2.5 1.4 1 -2.4 -1 -2.4 -1 -0.6 -1 0.8 -1 -0.4 -2 -2.1 -7 -1.2 -3 1 -11 0.5 -5 -0.8 -8 -1.4 -2.5 -1.4 -0.6 -2 0.4 -2 1 -1 2.7 -0.9 5 0.1 3 0.8 3 -1.6 8 1.5 5 -0.7 2 1 2 -1.7 1 0.5 2 -2zM162.5 32.3l-0.9 1.2 0.9 1.3 2 -0.6 0.8 -1.7zM147.5 30.3l-0.7 1.2 1.7 1.7 1 0.1 0.8 -1.8 -1.8 -1.5zM153.5 35.2l-0.6 1.3 0.6 0.6 2 0.8 1.8 -0.4 -0.8 -0.6 -1 0.4zM154.5 26.7l-0.6 0.8 0.3 3 1.3 0.4 1.2 -1.4zM126.5 8.4l0 1.2 2 0.6 0.7 -0.7zM130.5 9.4l-0.5 0.1 0.5 1 1 0.4 3 0.1 0.7 -0.5 -1.7 -1.5zM157.5 31.9l-0.5 1.6 2.5 3.2 1.1 -1.2 -2.1 -3.7zM158.5 37.2l-0.8 0.3 -0.4 3 1.2 -0.5 2 1.6 1 -0.5 0.6 -0.6zM-214.8 6.5l0.3 -0.7 2 0.4 8 4.2 12 2.8 9.1 3.3 1.9 1.5 0.1 1.5 -2.1 1.2 -6 0.9 -11 0.1 -10 -3 -2 0.3 -0.5 -2.5 -1 -1 0.1 -8zM34 6.5l1.5 -0.9 1.1 0.9 0.5 1 -0.6 1.2 -6 1.6 -1 1.5 -1 -0.7 1.6 -3.6zM-86.2 7.5l0.7 -0.9 1 0.4 0.9 4.5 -0.9 1.7 -1 -0.7 -2.3 1 2.6 1 -0.3 1.4 -1 -0.3 -2 0.7 -1.4 -0.8 0.1 -1 3.3 -4.6 1.4 -0.4zM-104.3 8.5l1.8 -0.7 1 1.3 1 4.8 1.8 -0.4 2.2 -1.9 3 0.8 3.3 7.1 7.2 5 1 4 1.3 14 0.2 4 -0.7 4 0.8 6 1.4 4 -0.8 3 3.3 5.8 7 4.5 3.1 -0.3 -3.7 -4 -0.2 -2 1 -4 -1 -2 1 -4 -1.1 -2 2.9 -3.1 3.8 -0.9 0.9 -2 -0.4 -1 3.7 -2.4 5 -7.3 11 3.9 3.9 5.8 4.1 1.1 3 2.5 3 -0.6 0.9 -1 0.1 -1.5 1 -0.2 0.9 0.7 0.1 1.3 2 -0.7 2.8 1.4 0.2 1.2 1.7 0.8 2.3 0.5 3 -1.3 1 0.6 2.2 -3.8 -2.4 -1 -0.8 -2.1 -2 0.8 -0.9 -0.7 0.6 -2 -3.7 -0.7 -0.6 -2.3 -1.6 -1 2.3 -2 1.4 -4 1.5 -1.4 2 1.4 2.1 -1 0.9 2.3 3 3 1.6 0.7 -1.2 2 0.6 1 2 0.1 2 4.3 1.7 1.6 -0.7 2.1 1.8 -0.1 0.5 -1 -0.8 -1 1.5 -0.9 3 0.6 3 -0.6 0.7 0.9 -0.3 2 0.9 2 -0.6 1 2.3 0.2 2 1.3 3 -0.5 3 -2.4 3 -1 5 1.4 2 2.3 1 -0.3 0 -1.2 2 0.1 0.2 1.1 2.8 2.7 3 1.4 5 -0.8 3 -2.5 2 -0.8 3 0.8 1 1.4 3 1 3 -0.8 7.9 -6.4 0.7 -1 -0.5 -2 1 -1 2.9 -1.5 3 0.7 3 -1.4 0.7 0.2 0.3 1.4 7 1.5 1.7 1.1 -1.4 2 2.2 4 1.5 0.4 4 -0.8 2.4 -1.6 0.6 -1.8 2 -0.1 1.9 -3.1 1.1 -0.1 2 -3.1 4 -0.8 2 0.4 2.5 -2.4 2.7 -4 1.4 -5 2.4 -4 9 -3.2 6.4 2.2 0.9 2 0 11 -1.5 5 1.2 1.8 8 -1.3 3 -1.4 8 -1.8 3 3.8 2.1 -0.1 1.9 5.2 5 1.2 5.4 -2.4 7 -7 4.6 -6.8 2 1.2 3 -0.3 0.8 1.9 0.1 2 -0.9 1.8 -2.5 1.2 -1.6 3 0.4 6 2.7 0.4 2 -0.6 3.7 -2.8 5.3 -10 2 -1.8 2 -0.3 5 4.3 2 0.1 0.1 0.7 -0.7 2 -2 2 0.1 1 -4 5 0 1 -5 5 0.1 1 -12.6 12.7 -1 0 -5 5 -1 0 -7 6.1 -1 0 -2 2 -1 0 -8 5.7 -3 1 -2 2 -8 3.6 -5 1.2 -3 -0.2 -2 1.1 -2.4 -1.2 5.4 -3.4 7 -2.8 -4.3 -1.8 -2.7 -0.2 -1 -0.8 -2.5 0 -0.5 0.8 -2.7 -2.8 -5.3 -0.2 -2 -0.8 -3.4 0 -2.6 2 -1 -1.9 -2 2 -1 -1.3 -8 0.2 3 0.8 -1 0.6 -3 -0.1 -0.5 -0.3 1.5 -1 -3.8 -1 -4.2 0.3 -2 1 -1 -1.3 -2 -0.1 -2 2.9 -2.8 -1.8 -5.2 -0.2 -4.6 0.2 -12.4 2.6 -3.7 -1.6 -11.3 -2.1 -4 1.5 -11 1.9 -3 -0.5 -7 1 -22 -0.2 -7 0.5 -10 2.6 -4 -0.5 -3 -1.8 -3 -0.5 -10 0.1 -2 0.9 -2 -0.3 -2 1.2 -2 -1.1 -5 -0.2 -5 -1 -2.1 -1.5 -0.4 -1 2.2 -3 -0.7 -0.3 -3 3 -1 4.3 -2.7 1 -2.3 0.3 -3 -1.6 -6 -0.3 -2 2.1 -4 -0.5 -3 0.8 -1.9 -2.8 -9.1 0 -1.9 1 -1.1 1.6 -7.6 1.4 1.5 3 -1.7 1 -1.2 2.6 0.3 -4.6 -0.5 -2 -0.8 -0.3 -3 0.8 -8 -0.3 -4 1.1 -6 -3.3 -4 0 -3 1.2 -4 0.4 -3 1.8 -2 0.3 -6 -2.4 -2 -1.9 -6 -2.7 -8 -6 -1 0 -7 -6 -1 0 -5 -5 -1 0 -12.4 -12.7 0 -1 -5.1 -5 -2 -4 -2 -2 0 -1 -1.9 -2 -1.9 -4 0.2 -1 -1 -1 2.1 0 1.2 1 3.8 1.1 1 1.5 7 1.9 1.7 -0.5 0.1 -1 1.2 1 1.7 -1 -1.3 -2 0.9 -3 -1.2 -1 0.9 -1.2 2 1.7 5 0.9 1 1.9 2 0.8 2 -0.3 1 0.6 0.9 -1.4 1.1 -0.3 2 2.7 0.5 -1.4 1.5 -0.7 2 2.3 1 0.1 2 -6 3 2.8 1 -1.6 1 1.2 2 -0.6 2 0.5 3.2 -2 1.8 -2.3 3 -0.4 2 1.1 1 -0.5 4 2.6 4 -1.8 3 0.5 4 -0.6 3 1.2 3 -0.2 2.4 -2.6 0.6 -4.1 4 -1.4 1.1 -3.5 -2.4 -4 0.2 -3 -2.1 -2 -1.2 -2 0.4 -0.6 3 -3.5 8 0.3zM80.5 52.3l0.3 2.2 0.7 0.7 1 -0.2 0.5 -0.5 -1.1 -2zM158.5 54.8l-1.5 1.7 0.5 2.4 2.9 -1.4 1.3 -2zM194.5 46.9l-4 8.3 -3 -0.3 -10 5.6 -0.9 1 0.2 1 1.7 0.7 3 -1.3 8 -5.6 2 -0.3 5.4 -3.5 0.7 -1 -1.4 -1zM4 9.5l2.5 0 -1.2 2 0.3 2 -3.1 4.4 -1 0.5 -2.3 -0.9 -0.9 -1 0.9 -2 0.3 -3.3 2 -1 2 1.3 0.8 -1zM13.3 15.5l1.1 1 -0.8 6 1.9 9 -1.9 6 0.9 0.7 0.7 2.3 -0.7 1.6 -1 0.5 -2 -0.7 -2 0.8 -1 -1.1 -1 0.7 -1 -0.5 -0.1 -1.3 3.1 -0.7 3.9 -2.3 -1.6 -6zM168.5 27.5l1.7 1 -0.7 0.9 -1.6 -0.9zM40.8 38.5l1.7 -0.6 3 0.3 1 0.7 -0.5 1.6 -2.9 0 0.1 1 -0.7 0.5 -0.8 -1.5 -1.2 -0.4 -1.1 1.4 -0.9 3.4 -2 0.2 -1 1.8 -2.3 -0.4 -0.8 -2 6.1 -5zM51.7 49.5l0.8 -0.3 0.6 1.3 -1.6 0.6 -0.4 -0.6zM-44.5 94.5l1 -0.7 1 1.4 3 -0.2 2 1.9 1.8 0.6 2.9 3 -0.7 0.9 -2 -0.1 -0.3 1.2 -2.9 2 0.2 0.8 3 0.6 0.6 0.6 -0.4 1 -2.2 0.9 -2 -1.7 -3 1.4 -3 0.4 -0.5 -1 0.5 -0.9 1.4 -0.1 -1.5 -2 3.9 -2 -4.3 -1 -0.5 -1 0.3 -1 2.4 -1 0.4 -2 -1.1 -0.6zM36.1 96.5l2.1 1 1.3 2.2 2 -1.4 1.5 0.2 0 1 -1.6 1 -1.1 3 1.2 2 -0.8 2 -1.2 0.5 -1 0.2 -2 -1.7 -1.6 0 1.2 -1 -0.3 -3 2.2 -1 0.3 -2 -0.8 -1 -1.5 0 -0.5 -1zM124.8 96.5l2.7 -0.2 1.6 1.2 -1.6 0.8zM-110.7 97.5l2.2 -0.8 1.6 0.8 -0.6 1.2 -3 1.1 -1 2 -0.9 -0.3 0 -1zM-68.6 97.5l1.1 0 -1 2.1 -0.7 -1.1zM89 97.5l1.5 -0.8 0.9 0.8 -1.9 1.7 -1.2 -0.7zM-84.9 98.5l1.4 -0.7 1.7 1.7 -0.7 0.7 -2 -0.3zM55.4 98.5l0.6 1 -0.3 1 0.8 1.3 1 0.2 -0.1 -2.5 1.1 -0.8 2 0.2 1 1.3 2 -2.1 1 0.4 1 2.3 2 -0.4 1.7 1.1 -1.1 2 1.4 1.7 2 -1.4 0.6 1.7 -0.6 1.3 -1.8 0.7 -0.2 1 -8.7 0 -1.3 -0.7 -1 -2.4 -1.6 1.1 1.3 2 -4 0 -1 -1 -0.3 -2 2.4 -2 -0.9 -4zM61.5 101.9l0 2 2 0.8 1 2 1.4 -2.2 -1.8 0zM84.7 98.5l0.8 -0.9 2.2 1.9 -1.2 0.6 -2 -0.2 -1 1 -1.6 -1.4zM101.1 98.5l1.4 -0.2 0.9 1.2 -0.9 0.8 -1 0zM21.6 99.5l1.9 -1 0.1 2 -1.5 0zM44.4 99.5l1.1 -0.7 1.2 1.7 -1.2 1.9 -1 -0.7 -1 2.1 -1 0.6 -0.6 -2.9 2.4 0zM15.2 100.5l1.3 0.3 0.2 0.7 -0.3 1 -1.6 1 -0.3 1.4 -1.2 -0.4 0.9 -1 -0.2 -2zM116.2 100.5l1.1 0 -0.4 1 -3 4 1.6 -1 1 0.3 1 1.5 2 -1.4 1.2 0.6 -7.2 2.7 -1.3 -0.7 -0.2 -1 1.1 -1 -1.6 -1.5 2 -2.2zM106 101.5l1.5 -1 0.7 1 -1.6 1 1.4 2 -0.9 0 -1.6 -1.7zM96.5 102.5l1 -0.9 1.1 0.9 -1.1 1.9 -3 1.1 0 1 1.6 1 -0.6 0.3 -2 0.3 -2 -0.8 -2 1.1 -3.9 -0.9 0 -1 1.9 -1.4 3 -0.6 2 0.8 2 -2.1zM50.1 104.5l0.4 -0.3 1.2 1.3 -1.2 3 -3.6 -1 -1.5 -2 1.1 -0.3 1 1.2 2.4 -0.9zM-84.6 105.5l1.1 0.7 2 -0.3 0.5 0.6 -0.5 0.7 -3 -0.5zM-70.1 105.5l2.1 0 0.6 2 -2.1 -0.8zM-55.8 105.5l0.3 -0.7 2 1.7 -3 1.2 -0.5 -1.2zM80.1 105.5l0.4 -0.7 1 0 0.6 0.7 -0.6 1zM-104.7 106.5l1.2 -0.8 1 0.2 0.2 1.6 -1.2 0.6z"/><path fill="#e48066" d="M77 -52.5l1.5 -0.5 0 2.1zM88.2 -52.5l1.3 1.3 2 0.4 0.1 -1.7 0.9 -0.5 1.3 0.5 0.3 2 -0.6 3 1 0.1 0.4 -1.1 2.6 -1.2 1 2.5 4 -0.1 1 -1.6 3 -0.1 0.4 0.5 -1.1 2 2.7 1.5 1 2.3 0.8 -1.8 1.2 -0.5 1 3.3 2 0.2 0.1 1 -3.1 0.4 0.1 2.6 -1.1 0.3 -3 -0.5 -0.3 -1.8 -3.7 -1.9 -3 3.3 -2 -0.2 -2 -0.6 -2 -1.7 -1 0.7 -2 -1.6 0.6 -1 -0.6 -0.3 -1 1.3 -1 0 -1 -1 -0.3 -2 1 -2 -2.7 -2.2 -1.8 2.2 0.8 1 0.3 2 -0.6 0 -1.1 -1 -0.2 -2 -1.7 0 -0.2 -2 2.6 -1 -1.3 -2 1.2 -0.7 2 1.3zM102.5 -43.1l0 0.8 1 0.6 2.3 -0.8 -0.3 -0.6 -1 0.4zM76.2 -50.5l0.3 -0.3 1 1.1 1 -0.3 1 0.9 0 1.4 -3 -1.2zM101.1 -50.5l0.4 -0.7 0.7 0.7 -0.7 2.5 -0.5 -0.5zM-6.9 -34.5l1.4 -0.1 0.9 1.1 -0.9 1.1 -1 0.6 -2.6 -0.7zM34 -34.5l0.5 -0.6 0.8 0.6 0.2 2 -1 0.7 -3.6 -1.7zM7.1 -33.5l0.4 -0.4 2.2 1.4 -1 1 -0.2 2.2 0 -1.2 -2.4 -2zM4.3 -27.5l2.2 1 -1 3.2 -1.9 -3.2zM12.1 -25.5l2.4 -0.6 0.8 1.6 -0.8 0.5 -2.2 -0.5zM2.9 -19.5l0.6 -0.6 2.9 0.6 -3.9 2.3 -1.8 -1.3zM9.5 -19.5l1 -0.4 1.3 1.4 -3.3 3 -1.1 -1 0.1 -2zM5 -16.5l1.8 1 -1.3 1.6 -1.4 -1.6zM-153.3 -11.5l11.8 1.4 8 -0.9 12 0.4 5 1.2 9 -1.2 0.9 1.1 -2.8 2 -4.8 0 -0.3 -1.4 -1.1 1.4 -3.9 0.7 -25 0 -24 1 -14 -0.3 -13 -2.9 -0.6 -0.5 2.6 -1.3zM-95.1 -9.5l1.6 0 1 3 2 -0.5 1.1 1.5 -1 4 -1.1 0.9 -1 -4.3 -2 2.6 -1 0.1 -1.1 -1.3 -0.4 -4zM128.3 -9.5l2.2 -0.2 2 1 1.2 2.2 -0.7 2 -3.5 2.4 -1 1.8 -3 -1.8 -1 -2.4 1 -3zM-22.7 -5.5l9.2 0.2 1.6 0.8 0 1 -0.4 1 -1.2 0.3 -15 -0.7 -10 0.4 -2.2 -1 0.5 -1 1.7 -0.5zM-49.5 -4.5l2.3 1 -2.8 0zM25.2 2.5l2.3 -0.6 2.5 1.6 0.2 1 -1.7 1.6 -1 -0.4 -2.2 -2.2zM155.9 4.5l6.6 2.7 1.3 1.3 0.7 2.3 4 1.6 3 -1.5 3 0.8 -0.9 -6.2 1.9 -1 4 0.3 1 1.7 1 -0.9 4 1.3 4 -0.8 7 0 13 2.7 4 0 0.3 6.7 -1.1 1 -0.2 2 -6 0.2 -16 -0.8 -3 -1.4 -7 1.2 -6 -1.1 -4 1.4 -2 -2.7 -3 7.4 -4 1.3 -1 2.5 -3 1.7 -0.9 -0.7 1.3 -3 -2.4 -2 0.7 -2 -1.1 -2 0.4 -1 1 0.1 1.1 2.9 1.9 0.4 1 -3.7 -3 -1.4 -3 0.9 -1.7 -0.2 -3.3 -2.5 0.6 -1.5 -0.6 -0.8 -2 0.1 -2 -1.5 -4 0 -3.3 1.2 2 1 0.3 1 -1 0.4 -15 0.5 -6.2 -2.9 -0.7 -2 0.9 -1.8 4 -0.3 2 0.6 4 3.1 7 0.8 0.5 -1.4 -0.8 -1 0.3 -0.9 7 0 6 -3.2zM186.5 8.9l-0.5 0.6 0.5 1.1 3 2.2 1 -0.2 -2 -2.9zM160.5 21.4l0 1.5 1 0.4 1.5 -0.8zM35.1 6.5l1.2 1 -0.8 1 -5 1.2 -1 1.4 -0.7 -0.6 2.7 -3.3zM-213.5 7.5l3 1.3 3 2.3 14.6 3.4 4.2 3 0.1 2 -4.9 1.1 -3 -0.5 -4 0.4 -8 -2.9 -4 0.1 -1.2 -2.2zM126.3 7.5l3.2 -0.4 1.3 0.4 0.2 1 -1.5 0.4zM-86.5 10.5l2 -0.1 0 1.6 -3 0.8zM-88.7 13.5l2.3 1 -2.1 1.6 -0.9 -0.6zM-96.9 16.5l2.4 -0.6 2 1 3 3.5 6.2 4.1 1.1 4 1.4 17 -0.8 5 0.7 6 1.4 4 -0.8 3 3.4 6 4.4 3.3 3 1.3 3.7 -0.6 -4.1 -5 1.1 -5 -0.9 -2 0.9 -4 -0.9 -2 1.7 -1 0.5 -1.3 4 -1.1 3 -4.1 1 0.5 0 1 2 0.8 1 -0.5 0.7 -5.3 2.3 0.2 0.1 -1.2 0.9 -0.4 4 0.6 3.3 3.8 1.8 1 0.9 2.5 1 -0.1 4 2.6 2.2 0 3.8 4.5 3 -0.9 2 -1.8 2 -0.1 4 1.7 6 1.1 7 -3.3 6 0.3 1.2 1.5 1.8 0.7 3 0.4 2 -0.6 3 1.1 2 -0.7 3.6 0.1 1.4 -1.3 2 -0.2 2 -1.2 4 1.5 2 1.8 1 -0.3 4 1.7 2 2.4 3.4 -0.4 0.2 2 1.4 1.2 0.8 -1.2 -0.2 -2 2.4 -0.1 2 -1.7 3 0.5 7 -0.4 6 -2.3 2 0.4 3 -2.1 8 2.1 2 -0.5 5 1.2 2 -0.4 2 1.6 1 -2.3 2 -0.7 5 -0.3 5.2 -2 0.8 -1 3 0.7 3 -3.5 1.4 1.8 -0.6 2 2.1 1 -1 1 1.1 0.6 2 -0.1 2 -1.7 2 0.3 2 -1 0.3 -2.1 5.7 0 2 -0.8 0.7 -1.2 -1.7 -1.6 -2 -0.3 -3 1.4 -1 -0.9 -2 0.7 -1 -0.4 -1.1 -0.9 0.1 -1.1 -1.9 -0.9 -0.1 -1 0.6 -4 1.5 -2 1.9 -6 2 -3 7 -3.1 4 0.9 2 1.6 0.8 1.6 0.5 7 -2.2 4 -0.6 3 0.5 2 4 1.3 10 -3.1 4 0.4 5 -0.4 2 1.7 2 0.4 0.4 2.7 1.6 1.8 4.4 1.2 -2.4 0.3 -1.8 1.7 -0.7 2 1.5 2.4 1 0.1 2 -0.2 2 -3.1 1 0.4 1.1 1.4 -0.8 3 1.1 2 -1.4 0.5 -1 -1.1 -0.7 1.6 1.7 1.1 2.2 -0.1 0.8 1.3 0.8 -0.3 0.2 -1.5 1 0.1 2 2.4 4 -0.2 2 -2.2 9 -5 4 -3 3 -0.9 5 -3.3 0.1 1.6 -4.9 5 -0.9 2 -11.3 11.4 -1 0 -5 5.1 -1 0 -7 6.1 -1 0 -8 5.9 -6 2.7 -2 2 -8 2.2 -3.4 -0.4 4.4 -2.9 -1 -1.9 -10 -1.7 -3 -1.7 -8 -1.1 -14 0.8 -17 -0.9 -16 1.3 -11 2.3 -3 -1.4 -12 -2.1 -15 3.1 -32 0.4 -18 1.1 -14 -1.4 -8 0.5 -14 -0.3 -2.4 -1.1 -0.3 -1 2 -3 0.3 -1 -0.6 0 -3.3 2 -2.7 4.7 -35 -0.5 -3.3 0.8 -2.7 2 -4 -0.4 -3 0.7 -9 -1.2 -3 2 -5 -2.8 -6 -0.7 -18 0.2 -3 1.3 -4 -2.6 -1 0 -2 -1.9 -1 0 -5 -4.1 -1 0.1 -7 -6.1 -1 0 -5 -5 -1 -0.1 -17.2 -18.4 0 -1 -1.9 -2 0 -1 -2 -2 -0.9 -2.6 9 2.9 6 -0.8 5 3.1 7.1 -2.6 -1.4 -1 0.3 -1.1 1 -0.3 1.9 2.4 3.1 -0.3 2 1.5 1 -1.4 8 -3.1 1 -1.8 5 0.3 1.5 -1.2 0.5 -2 1.5 -1 2.5 0.6 2 -1.1 1.6 1.5 -1.3 5 0.4 3 6.2 4 -0.3 1 -1.6 1 -4 0.3 -4 -1.8 -1 -1.9 -2 -1 -3 2.7 0 1.1 2.3 1.6 0.8 4 1.3 2 0.6 2.7 1 0.4 0.4 2.9 -1.4 2 1 1.1 2 -2.4 1 1.3 0 -3.3 3 -1.2 1 0.9 3 -1.3 1 0.1 1 2.1 3 1.6 2 -1.5 2 0 2.3 -5.4 -0.3 -1.4 -2.4 -1.6 -1 -5 0.4 -2.9 -3.8 -5.1 0.5 -2 7.3 -2.3 2 0.6 2 -1.8 4 0.2 0.8 -0.7 0.2 -1.6 0.3 1.6 2.5 2 1.2 3.1 2.4 -2.1 0.5 -3 1.8 -1 -3.1 -3 -0.7 -3 3.1 -4.2 3 -8.3 1 0 1 -1.3 2 0.7 3 -0.7zM-61.5 69.1l-0.4 0.4 1.4 0.7 1.5 -0.7 -1.5 -0.9zM33.5 63.8l-2.4 3.7 2.4 0.6 1 1.1 1 -0.1 0.4 -1.6 -1.6 -2 0.2 -1.6zM118.5 67.4l-3 1.6 -1.3 2.5 2.3 1.1 5 0.2 3 -1.2 2.1 -2.1 -1.1 -0.9 -1 0.4 -0.7 -1.5 -1.3 -0.6zM-170.5 55.3l-1.8 2.2 2.8 2.2 0.3 -1.2 -0.8 -1 1.2 -2 -0.7 -0.8zM-112.5 46.3l-2.4 1.2 1.1 2 2.3 1.2 1.5 1.8 0.6 0 0.9 -1.7 1 0.4 0 -1.4 -3 0.4 -0.8 -0.7zM-107.5 55.9l-4 1.8 -2 1.7 -2 0.6 -2 -1.2 -1 0.4 -0.6 1.3 0.7 2 2.9 1.4 1 -1.9 1 1.9 4 -1.2 2.2 2.8 -1 1 0.8 1 4.9 -1 0.1 -2 -1.4 -2 1.3 -2 -0.2 -1 -0.7 -0.9 -3.8 -1.1zM149.2 21.5l1.3 -0.6 1 1.8 1.7 0.8 0.1 3 -0.8 1.3 -1.4 -1.3 0.8 -1 -3.7 -2zM13.3 25.5l1.2 3 -1 1 -0.6 -3zM161.6 30.5l0.9 -0.9 2.2 0.9 -0.3 1 -1.9 0.3 -0.9 -0.3zM153.7 31.5l1.5 0 0 1 -1.7 0.4 -0.4 -0.4zM145.2 33.5l0.3 -0.5 2.1 0.5 -1.4 1 -0.7 2.7 -1 0.6 -1 -0.2 -1 -1.1zM-115.9 34.5l0.4 -0.6 2 0 0.4 2.6 -2.8 0zM148 34.5l3.7 0 -0.2 1.5 -1 -0.3 -1 2.8 -2.3 -2zM155.9 34.5l0.6 -0.5 1.6 1.5 -0.6 0.6 -1 -0.3zM162.9 37.5l0.6 -1 2.7 1 -1.7 2.9 -1.6 -0.9zM196.3 44.5l6.2 1.5 -0.9 2.5 -3.1 4.1 -0.5 -0.1 0.5 -1 -2 -2.1 -0.8 -2.9zM171.4 49.5l1.1 0 0.5 1 -2.5 1.5 -0.3 -0.5zM168.3 51.5l0.6 0 -0.4 1.9 -1.6 -0.9zM190.3 52.5l0.2 1.6 -1 -0.1 -0.6 -0.5zM170 59.5l1.5 -0.5 2 1.1 1 0.8 0 1.3 -2 -0.5 -2 0.7 -1.5 -0.9 -1.1 -1 1.6 -0.1zM-147.8 60.5l2.3 1.6 2 -0.7 0.6 1.1 -1.6 1.1 -3.9 0.9 0.2 -2 -1 -1z"/><path fill="#c94741" d="M87.2 -51.5l1.3 -0.2 3 1.5 2 -1.2 -0.5 3.9 0.5 0.3 1 0.1 0.7 -1.4 1.3 -0.7 1 -0.1 0.5 0.8 -0.5 1 1 0.6 4 0 1 -1.6 2 -0.2 0 2.2 2.5 2 0.9 2 -2.1 2 -1.3 0 -1.5 -1 1.5 -0.2 0.7 -0.8 -0.4 -1 -3.3 -0.3 -0.5 1.3 0.5 2.1 -3 1.8 -3 -1 -2 -1.8 -1 0.6 -0.6 -1.7 -1.4 -0.8 -2 1.1 -0.8 -2.3 1.8 -1.2 0.8 -1.8 -1.8 -0.2 -1 0.6 -2 -2.4zM97.5 -45.6l-2 1.3 0 1.4 1 0.3zM99.5 -42l-0.9 0.5 0.9 1 1.5 -1zM82.4 -48.5l3.1 -0.7 0.4 0.7 -3.4 1.4zM110 -43.5l1.5 -0.9 0.6 2.9 -1.4 2 0.5 1 -0.7 1 -3.2 -1 0.2 -1 1.4 -1zM-7.3 -33.5l0.8 -0.6 1.3 0.6 -1.3 1.2zM9.2 -18.5l1.3 -0.7 0.6 0.7 -2.6 2.2 -0.6 -1.2zM-157.1 -10.5l8.5 0 1.7 2 -0.8 1 -1.8 0.5 -19 0.6 -7 -0.7 -1.1 -1.4 3.1 -1.5 7 -0.3 4 0.5zM-138.8 -9.5l2.3 -0.2 1.9 1.2 -0.6 1 -2.3 -0.5 -3.3 0.5zM-133.3 -9.5l1 0 0.5 1 -2.6 0zM-95.8 -8.5l1.3 -0.6 1 0.3 0.5 1.3 -0.1 3 -1.4 1.5 -1 -0.1 -1 -2zM128.4 -8.5l2.1 0 2.1 3 -1.3 2 -3.8 1.8 -2 -2.8 0.7 -2zM-16.9 -4.5l2.9 0 0.5 1 -2.7 0zM26.3 3.5l2.2 -0.3 1 0.3 0.3 1 -2.3 0.6zM152.8 5.5l3.7 -0.3 4 1.4 2.9 1.9 1.1 2.8 4 1.7 3.5 -1.5 2.3 3 -3.8 1.4 -2 -1.3 -3 6.2 -1 0.9 -2 -0.1 -2 -1.8 0.4 -3.3 -3.4 -1.3 -3.6 0.3 -0.8 -2 -1.6 -0.9 -1 -1.7 -2.1 -0.4 -1 -1 0.6 -2 1.3 -1zM175.2 6.5l3.3 -0.4 2 1.4 1.9 0 1.7 2 -2.6 3.8 -2 1.6 -1 0.3 -0.9 -0.7 0.6 -1 -3.2 -3zM31.7 7.5l3.9 0 -3.1 1.7 -1.5 -0.7zM121.3 8.5l3.2 0 2.6 3 -2.6 0.9 -3 -2.2 -0.5 -0.7zM191.8 8.5l4.7 -0.1 2 1.5 3 0.7 2 -1.1 4 2.8 2 -0.1 0.8 3.3 -0.7 1 -4.1 0.5 -2 -0.7 -4.8 0.2 -2.2 -1.4 -2 0.7 -4 -1 -0.6 -0.3 1.8 -2 -1.3 -3zM-213.6 10.5l0.1 -0.9 1 1.1 1.5 -0.2 -1.4 4 -1.1 0.4zM-203.2 14.5l1.7 -0.1 2 1.3 2 -0.4 0.4 1.2 -3.4 1.9 -4 -0.8 -0.7 -1.1zM-89.1 14.5l0.6 -0.8 1.3 0.8 -1.3 1.4zM-92.7 19.5l1.2 0 7 4.2 2 4.2 1.5 17.6 -1 5 0.8 8 -0.3 0.8 -1 -0.4 -0.8 0.6 0.3 4 -1.6 2 1.1 0.9 3 -1.7 3 4.8 5 3.7 3 1.2 2 0.2 2.3 -1.1 -4.1 -5 1.2 -5 -0.6 -2 0.2 -3 0.7 -1 -0.7 -1.2 1.8 -2.8 5.2 0.4 3 -1.4 2 0.8 1 -0.6 5 2.6 -0.7 3.2 -1 1 1.7 2.2 1 0.7 2 -1.4 1.7 0.5 0.9 1 0.4 2.4 3 1.7 0.5 -0.1 -0.1 -1 -1 -2 2.8 -3 0.6 -2 2.2 -0.3 0.5 4.3 -0.5 1.5 -1 0.3 0.2 3.2 -0.7 2 8.5 3.1 6 -1.4 8 0.1 6 -0.8 -2 -3.7 -1 -0.2 -1.3 1.9 0.4 1 -1.1 0.4 -1 -1.3 -1.8 -0.1 -0.3 -1 -2.9 -0.2 -0.9 -0.8 -0.5 -2 -1.8 -2 2.2 -3 6 1 3 -1 2 1 6 -1.9 5.5 1.9 0.5 1.1 2 -1.3 2.1 0.2 0.9 1.1 2 -1 4 0.2 2 -1.5 4.9 2.2 2.1 0.2 2 -1.5 2 0 1.6 1.3 0.5 2 -3 5 0.7 2 1.2 1 4 1 6 -1.6 7 3.3 4.1 -1.7 0.9 -5.6 2 0 1 0.9 1 -1 2 0 1.1 -1.3 -1.1 -1.7 -1 1.8 -0.9 -1.1 0.9 -0.9 2 -0.2 3 -2.3 3.5 -0.6 2.5 -1.7 4 1 5 0.2 3 1.4 1 1.6 1 -0.1 1.6 1.6 -1.5 3 0.9 3.1 3.3 -1.1 1.3 -3 1.5 -1 0.6 -2 -0.4 -2 1.7 -2.4 7 -0.5 4 -1.8 3 1 1.5 2.7 3.5 2.2 4 -0.3 2 -2.6 1.9 1.7 0.2 4 -3.1 -0.7 -2.3 1.7 -0.5 1 0.7 1 -1 3 0.4 2 8.7 1.5 15 -1.4 2 0.5 0.9 -0.6 -0.2 -1 -2 -2 2.3 0.1 0.4 -1.1 -1.6 -4 0.9 -1 -0.3 -3 0.6 -2 -1.1 -1 -1.3 -3 -0.2 -3 5.6 -4.5 7 1.5 3 -0.6 4.2 1.6 -0.3 1 -4.9 4.5 -2 0.4 -2.8 2.1 -1.5 3 0.8 2 3.5 0.2 2.7 -2.2 0.3 -1 1 0.7 2 -0.4 3.1 1.7 0.5 2 4.4 3.9 3 0 2 1.3 2 0.2 4 3.3 4 -0.8 2.6 -2.9 2.4 -1.2 2.5 -2.8 4.5 -3.1 3 0.5 0 0.6 -9 9.2 -1 0 -5 5.2 -1 -0.1 -7 6.2 -1 0 -8 5.8 -7 2.2 -0.6 1.5 -4.9 1 -1.4 -1 0.5 -1 2.4 -0.1 -0.4 -0.9 -2.9 -1 -11.7 -1 -3 -1.5 -8 -1.1 -16 0.6 -7 -0.6 -15 0.3 -20 3 -3 -1.2 -12 -2.1 -13 2.8 -51 1.1 -15 -1.1 -23 0 -1.3 -1.2 2.3 -4.3 -3.7 1.3 -3.3 4.5 -1 0.1 -34 -0.3 -7 1.3 -19 0.2 -14 -1.2 -20 0.3 -2 -0.6 -2 -1.9 -1 0 -2 -2 -1 0 -6 -5 -1 0 -3 -3.1 -1 0 -5 -5.1 -1 0 -1.2 -1.2 -3.8 -4 0 -0.9 3 -1.2 2 2.2 4 2 2 -0.8 1 0.4 1 1.4 2 0.2 4 -1.4 3.1 4.1 1.9 1.4 1 0 6 -3.8 6 2.6 9 -3.2 5 2.5 5 -0.6 3.8 -4.9 2.2 -0.6 1 0.9 1 -1 4 3.3 3 1 1 1.3 4 -1.2 4 -0.1 2 -1.2 4 -0.6 3.5 -1.8 0.5 -1.1 1 0.3 0.4 1.8 1.6 1.1 0.8 1.9 1.2 0 2.6 -2 1.9 -3 -1.8 -2 -1.3 -4 0.3 -1 -4.7 -6 0.3 -1 -5.6 -2 -0.6 -3 -2 -4 -1.7 -1 -3.3 -6 -1.4 -5 0.3 -3.1 2 -2.4 1 -0.7 2 0.1 1 -1.6 2.2 -0.3 0.8 -1.6 2 0.6zM-61.5 68.1l-1 1.4 1 0.9 2 0.2 1.3 -1.1 -1.3 -1.6zM71.5 65.7l-0.5 0.8 0.5 0.4 1 0.3 0.8 -0.7 -0.8 -0.8zM119.5 31.5l1 -0.8 5 0.7 2.6 5.1 -2.6 6.8 -4 3.5 -7 -1.5 -1.3 -1.8 -0.1 -2 3.4 -8 2 -0.5zM148.5 35.5l1 0 0 2.1 -1.2 -1.1zM-187.3 53.5l1.8 -0.6 1 0.6 1 1.2 0 1.3 -1 0.6 -2 -0.7zM-165.2 53.5l1.7 0 -1 2.4 -1.1 -0.4zM117.2 57.5l5.3 -0.2 2 1.2 0.2 1 -1.2 -0.8 -3 -0.1 -2 0.8 -2 -0.4 -0.6 -0.5zM118.2 60.5l0.3 -0.8 0.7 1.8 -0.7 1.4 -1 0.1 -0.1 -1.5zM121 61.5l1.5 -0.8 0.5 0.8 -0.5 1.1zM190.1 61.5l1.4 -0.8 -1 1.9 -0.8 -0.1zM47.4 64.5l1.1 1.3 -2 0.9 -0.4 -1.2z"/><path fill="#a51429" d="M87.1 -50.5l0.4 -0.7 4 1.3 1.4 -0.6 -0.4 3 -1 -0.8 -3 0.8 -1.6 -2zM95.6 -48.5l1.9 -0.1 -0.7 1.1 1.7 1 3 0.1 1 0 1 -1.9 1.4 -0.2 0.5 1 -0.4 1 1.7 1 1.7 3 -0.9 0.8 -2 -2.3 -3 -0.1 -1 0.6 0.6 3 -2.6 1.4 -0.7 -0.4 2.5 -2 -1.8 -0.7 -1.4 0.7 -0.1 1 -1 0 -0.1 -2 1.4 -3 -0.8 -0.5 -2.2 1.5 -0.4 1 0.6 1 -2 0.8 -1 -1.4 -3 -1.4 1.4 -1 0.6 -1.6 1 -0.4 2 0.7 1 -0.7zM110.3 -43.5l1.3 0 -0.1 2 -1.3 1 0.3 2.5 -2.3 -0.5 -0.4 -1 1.6 -1zM-95.8 -7.5l1.3 -0.9 1 0.7 0.3 2.2 -1.3 1.8 -1.2 -0.8zM129.1 -7.5l1.4 0.6 0.8 1.4 -0.8 1.7 -2 0.9 -1.3 -0.6 -0.3 -2zM155.2 6.5l7.3 1.9 1.2 3.1 4.5 2 -3.7 6.8 -3 0 -0.5 -0.8 0.6 -3 -4.6 -2 -0.2 -4 -3.3 -0.5 -3.2 -1.5 1.2 -1.1zM176.2 8.5l2.3 -0.6 1.4 0.6 0.4 2 -0.8 1.9 -1 0.1 -2.6 -2zM-91 22.5l1.5 -0.9 5 2.8 2 6.1 0.2 8 1 7 -1 7 -0.2 0.7 -3 0.6 -2 1.5 0 -2.9 -3 -0.9 -2 -2.1 -4 -1.9 -1.5 -3 0.4 -6 -1.9 -0.5 -2.1 1.5 -3.4 -7 0.5 -1.6 1.2 -0.4 -0.7 -1 0.5 -0.5 2 -0.2 1 -1.3 1 -0.1 0.9 4.1 1.1 0.9 2 -2.9 -1.3 -4 3.3 -0.7zM121.4 35.5l3.1 0 1 0.7 0.2 3.3 -2 3 -4.2 1.9 -1.5 -0.9 -0.7 -2 2.6 -5zM142.1 50.5l1.3 1 -1.2 3 -2.7 0.9 -1 -0.3 -1.3 -1.6 0.3 -0.6 2 -1.5 2 0.5zM65.1 62.5l3.4 -0.9 4.5 1.9 0.2 1 -1.7 -0.7 -2.2 1.7 -0.2 1 1.4 3.4 3 -1 2 0.5 2.4 2.1 6.6 2.2 1 -1.2 -0.2 -2 1.6 -2 0.6 -0.5 2 0.8 -0.6 -3.3 1.6 -2 1 1.7 2 -0.5 0.5 0.8 -1.8 2 2.6 2 -0.4 2 0.9 1 4.2 0.9 2 -1.2 2 2 5 2.2 16 0.9 0.8 0.2 -1.7 1 -0.2 2 2.1 -1.6 3 3.9 1 -0.5 4 0.5 1 -1.6 -2.6 -0.7 -1.4 -2.3 2 -0.9 0.9 0.2 0.1 1.1 0.5 -1.1 1.5 0 1 1.7 0.4 -1.7 2.7 -2 2.8 -4 -1.5 -2 0.6 -0.6 2.9 0.6 3.1 3.2 2 0.2 2 1.6 1.7 -1 0.1 -1 -2.4 -2 -0.4 -1 1 -0.7 3.2 1.7 -0.1 2 -0.8 1 0.7 1 1.8 -2 1.2 -0.2 2 1.9 3 0.2 1 -1.5 2 1.9 2 -0.4 4 0.9 3 -0.2 3 -1.5 0.1 0.9 -3.1 3.2 -1 0 -7 6.1 -1 0 -2 2 -1 0 -5 3.7 -9 0.7 -17 -1.2 -5 -1.9 -8 -0.6 -36 0.4 -18 2.7 -16 -3 -14 2.6 -9 0.5 -4 -0.5 -17 0.8 -25 -0.1 -12 -0.9 -15 0.2 -7.4 -0.7 2.1 -4 -0.7 -0.7 -4 1.5 -3 3.5 -2 0.4 -10 0 -8 -0.9 -15 0.4 -7 1.4 -21 0.2 -12 -1.2 -12 0.8 -10 -0.4 -5 -3.8 -1 0 -2 -2 -1 0 -13.5 -11.2 0.5 -0.5 4.6 0.5 1.4 2.7 4 -0.4 2 2.5 1 -1.2 1 -0.1 4 3.2 4 0.5 2.1 -2.2 0.1 -2 1.8 -0.9 6 2.2 7 -2.8 13 1.4 4 -3.7 3 -0.1 3 1.1 4 2.9 4 0.3 1 -0.6 2 1.2 4 -1.6 1 -2 2 0.5 4 -0.7 3 0.7 2 2.2 4 0.4 4 -3.4 2 0 3 -1.9 5 3.3 5 1.1 2.9 -1.6 -0.9 -2.6 -1.4 -0.4 1.4 -0.6 3.2 1.6 4.8 0.9 6 -2.1 3 0.2 4 1.6 7 0.7 8 2.2 6 -1.8 4 0.6 13 -0.8 5 -2.6 3 0.2 4 2.4 4 0.9 1 -0.8 3.3 -0.6 0.5 -1 -0.7 -5 -0.8 -1 0.6 -1 3.1 0.6 3 -1.2 1.3 0.6 -0.6 2 0.6 1 -2.7 3 2.4 3 7 1 8 -1.5 6 2.8 2 0 4 -0.9 3 -1.7 5 0.6 4 -0.3 2.3 -1 2.6 -2 -2.3 -3 2.8 -2zM65.5 69.7l-1 0.8 0.5 1 2.4 0 0.1 -1.5zM-5.1 63.5l1.6 -0.4 2.7 1.4 -1.7 1.3 -1 -1.7 -1 -0.1 -0.7 1.5 0.4 2 -0.7 0 -0.7 -3zM103.1 68.5l0.4 -0.6 1.7 0.6 -0.1 2 -0.6 1.1 -2 0.3z"/><path fill="#67001f" d="M87.5 -50.5l1 -0.3 3 1.3 -0.5 1 -2.5 0.4 -1.2 -1.4zM103.1 -47.5l1.4 -0.7 0.6 0.7 -0.5 1 1.9 1.3 1.7 2.7 -0.7 0.6 -0.7 -1.6 -1.3 -0.8 -2 0.5 -1 -0.6 -1.7 1.9 -3.3 0.6 1.6 -4.6 3.4 0.5zM91.6 -46.5l4.9 -0.8 1 0.8 -2.6 2 -0.4 2.2 -3.8 -2.2zM108.1 -39.5l1.4 -0.7 1 1.7 -1.4 0zM-95.3 -6.5l0.8 -1 0.5 1 -0.5 1.8zM160.8 12.5l0.7 -0.6 3 0.6 2 1.9 -2.6 4.1 -1.4 0.7 -0.7 -0.7 0.5 -2 -2.7 -2zM-88.4 27.5l0.9 -0.7 1 0.3 1 3.2 2 0.3 0.2 0.9 -0.2 5 1.8 9 -0.8 2.5 -2 1.6 -4 -2.2 -2 0.4 -4.1 -2.3 0 -3 2.2 -4 -0.3 -3 1 -1 -0.8 -2 3 -4.7zM74.8 72.5l10.7 3.5 4 -2.2 2 0.3 2 1.9 2 0.7 4 0.2 1 0.8 4.6 0.8 -2.6 1.9 -2.1 0.1 1.1 0.6 1 -0.3 0.5 1.7 -1.5 0.1 -2 -1.5 -3 1.6 -1 -1 -1 0.9 -3 0.2 -0.8 0.7 1.4 2 -5.6 1 -9 0.3 -11 2.1 -5 -0.1 -12 -2.9 -4 0.1 -6 1.8 -14 1.3 -8 -1.8 -2 1.4 -5 0.6 -31 -0.2 -14 -1.2 -4 0.7 -8 -0.1 -6.4 -1 -0.4 -1 1.1 -2 -1.3 -1.1 -2 0.4 -7 3.9 -8 0.8 -4.6 -1 -3.2 -3 0.9 -1 -0.5 -3 2.4 -1.2 2 0.7 1 -0.5 1 -2.2 7 -2.4 7 0.3 6 -1.6 5 0.3 6 1.7 3 -0.6 8 2 5 -1.7 4 0.5 6 -0.9 7 0.2 7 -2.1 7 2.3 6 0 6 1.3 7 -0.8 4 0.5 5 -1.4 5 1.6 2 1.7 2 -0.2 2 0.8 1 -0.3 1.4 -2 2.6 -1 3 0.7 4 -0.8 2 0.4 3 -1.1 5 -0.4 4 -1.5zM-122 75.5l1.5 -0.5 4 1.4 2.5 3.1 -0.1 4 1.3 1 1.3 -0.3 1.3 1.3 1 3 -1.3 0.5 -13 0.4 -7.8 -0.9 -1.9 -1 -2.3 -4 -4 1 -2 -2.2 -3 0.8 -1 -1.6 1.4 -1 0.6 -2 5 0.3 4 -2.1 4 1.1 3 0 4 -0.9zM143.2 75.5l1.3 -0.4 3 0.6 6 2.1 0.8 1.7 -1.3 4 2.5 1.4 4 -1.4 2 -2.3 2 -0.5 2 -2.1 4 -1.2 3 1.1 -6 5.2 -1 0 -2 2 -1 -0.1 -4 3 -10 0.5 -9.1 -0.6 -3.1 -1 0.1 -1 2.1 -0.4 3 -3.1 4 1.7 1.6 -1.2 -0.9 -1 0.1 -2 -3.3 -1 -0.5 -1.7 -1 -0.1 0 -1.2zM-97.6 77.5l3.1 -0.9 0.6 0.9 -1.1 4 -1.5 0.3 -2 3 -1.5 -2.3 2 -2 -0.5 -2zM-170 79.5l3 1 1.6 3 -1.1 0zM-101.1 79.5l0.7 0 -0.1 1.8 -1.4 -0.8zM-91.9 80.5l2.4 -0.7 2 2 3 -1.3 1.7 1 0.6 2 -3.3 2.9 -2 0.6 -4 -0.5 -2 -1.1 -1.4 -1.9zM109.2 80.5l0.7 0 0.2 1 -1.6 1.1zM-164.5 84.5l0 -0.6 3 1.3 6 1.1 2 -0.4 2 1 0.3 -2.4 0.7 -0.1 2 2.3 5 -0.6 1.4 0.4 0.4 1 -5.8 1.4 -2 0 -2 -1.1 -2 0.8 -2 -0.8 -3 0.6zM108.4 84.5l4.1 -0.5 1 1.1 3.3 0.4 -9.4 1 -0.5 -1zM95.9 85.5l2.6 -0.8 4 1.2 2 -0.9 1.3 0.5 0.1 1 -4.8 0zM-139.6 86.5l1.9 1 -0.8 0.6 -1.9 -0.6zM127.5 86.5l3 -0.6 4.6 1.6 -1.7 1 -1.9 0.1zM-105 87.5l4.5 -0.9 1.9 0.9 -0.9 1 -3 0.4 -2.8 -0.4z"/><path fill="#d7e8f1" d="M-166.7 -83.5l0.7 0 0.4 2 2.1 1.4 6 1.5 1.9 1.1 -1.5 2 0.7 2 -1.1 1.4 -2 0.7 -2 -2.7 -4 0 -1.8 1.6 1.1 1 -1.2 2 -0.9 -1 -0.2 -2 0 1 -1 0.5 -1.9 4.5 -1.1 1.1 -2 -0.1 -4 -2.2 -2 -4.8 6 -5.1 3 0.1 -1.1 -1 0.7 -1zM-8.8 -81.5l1.3 -0.5 1 0.4 3.5 3.1 -2.2 3 1.3 1 -0.1 1 -4.5 3.2 -4 0.1 1.4 -3.3 0.7 -6zM69.4 -81.5l2.1 0.6 1 -0.7 1 3.4 2 -1.7 1 0.5 1 -1 1 0.3 1.5 1.6 -1.9 1 0.4 1.6 6 -2.6 2 0.8 1 -1.1 1 0.2 0.3 1.1 2 1 4.7 5.7 0.3 -1.7 1.4 -1 0.3 -1.5 5 1.5 0.3 2 -1.4 2 0 2 -2.4 3 -2.5 1.7 -3 0.8 -3 -0.4 -1 2.3 -2 -1.3 -3 -0.6 -3 3.4 -1 -1.2 -1 0.2 -5 2.9 -1 -0.8 0 -1.8 -2 1 -3 -1.6 -4 0.6 -2 1.4 -1 -0.5 -1.4 1.9 0 2 -1.6 0.7 -1.1 -2.7 -1.9 -1.5 -3 1.1 -6 -2.4 -3 -0.1 -3.1 -1.1 -0.9 -2.3 -1 0.3 -1 1.7 -4 0.5 -2 -0.3 -2 -1.6 -0.3 1.7 0.7 2 -1.4 0 -1 -1 -1 2.7 -1.3 1.3 -1.7 0.4 -3 -0.4 -0.7 -3 4.7 -1.1 1 -0.9 0 -1.2 1.6 -0.8 0.1 -1 -0.7 -0.7 -6 -0.8 -0.6 0.5 1 2 -0.4 0.5 -1 0.5 -1 -0.6 -2 1.2 -1.7 -0.6 0.8 -3 0.9 -0.5 1 2.1 1 0.2 0.7 -0.8 -0.2 -2 0.6 -1 -1.2 -1 -0.1 -1 0.2 -0.6 1 0.7 1.8 -1.1 0.2 -1.4 -1 0.5 -0.3 -1.1 3.3 -2 0 -5.1 0.6 0.1 -0.5 1 0.9 0.1 0.3 -1.1 1 0 0.8 5 0.9 0.9 2.7 -0.9 -0.2 1 -1.7 1 1.2 1.3 1 -1.1 2 0.4 4 -3.8 1.4 0.2 0.6 1.7 3 -0.3 2.5 -6.4 1.5 0.1 2 1.6 2 -0.7 1 -1.3 0.5 1.3 1.5 0.2 1 -2.2 2 0.8 1 -1.4 2 1.4 2 -0.8 3 1.4 0.8 -0.4 -1.2 -1zM87.5 -75.8l-0.8 1.3 0.8 1.2 1.7 -1.2 0.1 -1 -0.8 -0.7zM93.5 -69.5l-2.3 3 -0.2 1 1.5 1.2 1.4 -4.2zM24.5 -69.6l-2.4 1.1 -0.4 1 1.8 1.1 1.2 -2.1zM167.2 -80.5l1.3 1.1 -2 0.2zM-100.6 -79.5l1.1 0.1 0.3 0.9 -0.6 1 2.3 1 -1.4 1 -0.2 3 -2.2 2 0.2 3 0.6 0.5 3 -0.9 0.7 -0.6 -0.5 -2 1.8 -1.3 3 1.6 1 2.3 1 -1.5 2 0.2 2 -1.3 0 -1 1 -0.8 3.6 1.8 0.4 0.9 2 -2.7 1 -0.2 -0.4 2 4.5 3 -0.4 1 2.2 2 -0.2 4 -0.7 0.8 -1 0.1 -2 -1.3 -1.2 1.4 1.2 2.5 3 -2.1 1.4 0.6 0.6 1.5 1 0 4 -1.7 2 -1.8 0 -1.5 3 2.1 1 -0.1 0 -2.6 1 -0.3 2 0.6 3 -2.1 1.3 -0.1 0.8 1 -2 5 1.9 1.4 0.5 1.6 1.8 1 -1.2 3 -1.1 -0.2 -0.1 1.2 2.1 2.2 2 -1.5 5 0 0.8 -0.7 -0.4 -1 0.6 -1.1 1 0 2 -2.6 2.3 0.7 1.7 2.3 6 -0.3 2.5 -4 -0.4 -2 1.9 -1.7 9 4.7 1.3 -2 1.9 -1 0.9 -2 -0.1 -1.5 -1.5 -0.5 0.7 -3 0.8 -0.8 2.9 -0.2 -0.9 -1.2 -1 0.8 -2.1 -0.6 2.1 -1.7 5 0.6 0 1.6 -2.4 0.5 2.4 0.1 2 2 1 -1.7 1.2 0.6 0.2 1 -1.4 0.3 -0.2 0.7 1.3 1 -0.1 3 -1 -0.5 -1.2 0.5 1.1 1 -1 3 0.7 2 -0.7 3 2.1 1.6 1 -0.5 0.2 0.9 -5.2 0.8 -3.9 4.2 -0.9 3 -3.9 4 -2 1 -2.3 3.7 -3 -2.6 -1 0 -2 1.9 -2 3 0.8 1 0.2 5.1 -2 1.9 -1 2.3 -4.2 2.7 0.9 5 -1.1 2 -5.6 2.7 -14 0.8 -2 1 -0.8 1.5 0.8 1.6 4 0.9 29 0.1 6 1.5 1 -0.7 3 1.4 5 -2 7 -0.6 3.5 0.8 -0.5 0.8 -3 0.9 -2 -0.5 -0.6 1.8 -2.4 1.2 -0.5 4.8 -3.5 8.1 -3 0.7 -1.3 -0.8 -1.7 -4.4 -2 0.3 -1 1.5 -1.7 0.6 -0.4 3 -3 4 -1.1 6 -1.8 3.6 -1.5 1.4 -0.5 4.2 -2 0.8 -0.9 2 -5.1 -0.8 -4 -1.5 -1 -1.7 -1 -0.4 -2 -4.4 -1.9 -2.2 0.9 -7 -0.9 -3 3.4 -5 1.1 -4 -0.5 -2 -5.1 -3 -3 -0.3 -1 -0.7 -1 0.6 -1 -1.7 -0.2 1.1 -3.5 4 0.7 0.8 1 -0.1 4 -3.7 1.4 3 -0.4 1.1 -1 -0.6 -2 0.7 -0.7 1.8 5.6 2 0.5 1 0.3 1 -0.9 1 -0.8 3.6 -2 -1.1 -1 0.5 3.6 2 1.4 -0.6 0.7 0.6 -0.1 1 -1.6 1 -0.6 3 -1.8 1 0.7 2 2.6 1 -0.3 1 -1.6 0.3 -1 -1.3 -2.2 3 -2.8 2.1 -1 4.8 -5 6.9 -10 -0.3 -3 -1.1 -1 -1.6 -2 -0.7 2 -0.7 0 -0.8 -4 -0.2 -1.2 -3.4 0.3 -4 -1.2 -8 -4.1 -5 1.2 0.5 0.7 -0.5 0.4 -3 -0.7 -2 0.5 -2 3.3 -1 -2.2 -1.4 -0.1 -1.6 -0.9 -1 0 -2.5 -4.3 0.5 -0.5 1 0.8 3 -1 0.7 -3 0.1 -2 -2.6 -1 0.1 -1.2 -1.3 1.2 -2.3 3 1.7 1.5 -1.4 0.1 -1 2.4 -0.4 2.4 -1.6 -2 -1 -1.3 -2 1.2 -5 -1.6 -3 0.4 -1 -0.7 -3 -2.4 -0.4 -2 -1.2 -4 0.5 -2.5 -4.9 0.1 -2 -3.6 -1 -0.4 -1 1.5 -4 -0.1 -1.8 -3 0.9 -0.9 1.9 0.7 2 -0.5 1 -2.3 0.3 -0.4 0.7 0.8 2 4.3 2 1.3 1.9 2.1 1.1 -1.1 1.6 -9 -0.5 -11 0.8 -8 -0.7 -2 -1.5 -2 1.2 -11 0.4 -1.9 -2.3 0.2 -4 -1.3 -1.7 -1 1.4 -3 0.8 -4.5 3.5 -2.5 0.2 -2 1.3 -2 -0.3 -1.5 -1.2 0.8 -2 -0.3 -2.8 -1 0.1 -1 1.5 -3 -0.2 -5 3 -1 1.5 -7 -0.2 -2 0.9 -4 -1.3 -3 0.2 -4 -1.5 -6 2.4 -2 -0.5 -5 0.9 -1.9 -1 -0.1 -2.2 -3 -3.8 0.3 -4 1 -1 -0.1 -3 0.9 -1 0 -2 1 -1 1.1 -5 1.1 -1 3 -7 1.9 -2 0 -1 2.1 -2 2.1 -4 5.2 -5 0.4 -1.4 3.1 1.4 0.5 1 -0.5 2 1.3 1 -0.6 1 -0.9 -1 -0.1 -2 -1.8 -0.4 -0.6 4.4 0.6 1.7 4 -0.2 0.9 -0.5 -0.3 -1 2.7 -1 -1.3 -1.6 -1.6 -0.4 3.6 0.1 3.7 4.9 1.3 3.5 3.5 1.5 2 2 2.5 0.3 2 1.8 4 -0.7 0.3 -1.4 -0.8 -2 -2.2 -1 -2.3 -2.8 -2 0.4 -0.4 -0.6 0.3 -1 -1.5 -2 1.6 -0.6 -0.5 -1.4 0.5 -4.7 2.2 -0.3 0.4 1 -0.6 1.1 3.3 3.9 -0.2 2 0.9 1.1 5 -1.1 0.7 2 -0.7 1.2 2 -0.4 2 0.7 2 -1.8 3 0 2.4 2.3 0.2 2 2.4 1.8 1.9 -1.8 2.1 -4.2 4 -1.5 1 0.2 2 6.3 0.5 -0.8 1.5 -0.2 0.3 1.2 -2.3 0.1 -4 2.2 -2 -0.9 -1.2 0.6 0.1 1 -1.9 1 0 1 -1 -0.1 -1.1 2.1 0.2 5 0.9 2.8 4 2.2 4 -1.1 2 1.7 2 0 3.5 -3.6 2.6 0 -1 -3 0.9 -2.6 4 6.8 2.2 0.8 -1.4 2 0.9 2 3.3 1.2 1.7 1.8 2.3 1.1 2 -0.8 2 0.7 1.8 -2 -0.3 -1 -3.8 -2 -1.3 -6 -0.4 -0.5 -2 1.9 -1 0.2 -0.3 -0.6 0.9 -2 -0.6 -1.5 2 -0.1 1 -1.1 2 0.8 1 -3.1 3.1 -2 -4.1 -1 1 -1.3 3 0.7 0.5 -1.4 -0.3 -2 -1.1 -1 1 -1 -0.3 -1 -2.6 -2 1.3 -3 -0.5 -1 -1 0.6 -2 -0.9 -1.5 -2.7 0.2 -1 1.4 -1 -0.6 -3 0.5 -3 2.8 -2 -1.8 -3.5 1 -0.8 2 1.7 2 -1.1 2 1.2 1 -0.2 0.7 -2.3 2.2 -1 1.1 -3 -2.7 -1 0.7 -1.2zM-99.5 -46.7l-1.2 1.2 1.2 2 1.6 -1 -0.1 -1zM-96.5 -55.7l-1.5 1.2 -1.5 3 2 0.1 0.8 0.9 -0.8 2.1 1 0.3 1 -0.8 2 0 1 -1.5 1 2.8 2 -1.3 1.4 2.4 2.2 -1 0.1 -1 -2.7 -1.2 -1 -1.8 -1 -0.3 -2 1.2 -2.8 -2.9 -0.2 -1.9zM-82.5 -61.6l-2.9 1.1 0.7 1 -0.8 3.5 -1 1.2 -1 -0.4 -0.7 0.7 0.2 2 1.5 1 2 0.6 1.8 -2.6 -0.8 -1.8 -1 -0.2 6.1 0 -0.7 -1 0.7 -1 -0.9 -1 1 -2 -2.2 -1.1zM-71.5 -11.1l-0.6 1.6 1 2 -0.4 1.2 2 1 0 -1.3 2.3 0.1 0.5 -1 -0.5 -1 -2.8 0 0.3 -2 -0.8 -0.8zM-60.5 -0.7l-2 0.4 -2.6 2.8 0.1 1 2.5 2.4 1 -1.4 -0.9 -2 1.4 -1 0.5 -1.5 1 0.3 0 -1.2zM-57.5 2.3l-1 0.3 -0.2 0.9 1.2 1.4 0.8 -0.4 -0.2 -2zM-49.5 -20.6l-0.9 2.1 0.2 2 0.7 0.2 1.6 -2.2 -0.4 -2zM-9.5 -51.8l0 1.3 2 1 0.2 -1zM-7.5 -58.6l-0.5 1.1 0.5 1.3 1.2 -2.3zM-107.5 -68.6l-0.2 2.1 -3.9 2 -0.8 2 0.9 0.9 2.3 -0.9 1.7 -2.4 4 -1.2 -0.2 -1.4zM-94.5 -43.8l-2 0.9 -2 -0.2 -1.1 1.6 3.1 0.9 1.4 -0.9 0.6 2.7 1 0.2 0 -2.7zM-79.5 -6.5l-0.5 1 0.5 0.4 3 -0.4 -2 -1.6zM-68.5 -0.1l-1 2.5 -1 -0.9 -0.5 1 1.5 2.9 1 -2.5 2.5 -0.4 -0.5 -1.9zM-6.5 -54.2l-0.8 1.7 0.8 0.4 0.7 -0.4zM-105.5 -44.7l-0.4 4.2 3.4 0.5 0.5 -1.5 -0.5 -1 -1.8 -1 -0.2 -1.6zM-94.5 -37.8l0 1.4 1 1.2 0 -3.2zM-84.5 -3.1l-1.7 1.6 -0.3 1.2 4.5 0.8 1 -2 -1.5 -1.5zM-79.5 -3.7l-0.4 1.2 1.7 0 -0.3 -1zM-84.6 -79.5l2.9 0 0 1 -1.8 0.8 -1.2 -0.8zM33.4 -78.5l1.1 -0.1 1 0.9 0 1.2 -3 -1zM134.3 -74.5l1.9 2 -0.7 1.6 -2.2 -0.6 -0.1 -2zM-89.6 -72.5l1.1 -0.8 1.2 0.8 -2.2 1.2zM121.3 -70.5l2.1 0 0.1 1 -1 0.6 -1 -0.4zM171.5 -70.5l2 -0.5 0.7 1.5 -1.7 0.2zM-65.6 -69.5l2.2 1 -2.1 1 -0.8 -1zM14.4 -68.5l1.1 0 0.6 1 -0.6 1.6 -1 -0.8zM-151.6 -65.5l1.7 1 -0.6 4 -1 -0.1 -3.5 -2.9 1.5 -1.5zM106.1 -65.5l0.7 0 1.7 4.5 -1.2 -0.5 -0.3 -2 -1.1 -1zM13 -64.5l2.4 0 -2.5 3 0.3 1 -2.7 3.7 -1.2 -1.7 1.1 -1 -1.9 -0.2 -1 1 -1 -0.1 -1 -2.7zM10.5 -62.8l1 2.6 0.7 -1.3 -0.3 -1 -0.4 -0.6zM153.1 -63.5l2.4 -0.5 1.9 1.5 0.1 3 2 -0.3 1 1.6 2.7 0.7 -0.7 2 1 1.6 1 0.2 0.3 -0.8 -0.8 -2 0.5 -0.8 1.7 0.8 0.5 2 2.8 3.4 9 -2.1 5 -0.5 6 1.3 4 1.8 3 -0.3 2 1.3 1 -1.4 2.5 2.5 0 1 2.1 2 1 3 3.1 5 1 5 1 1 0.1 2 1 1 -0.3 3 1 1 0.1 3 1 1 -0.6 4.2 -3 -0.6 -2 -1.5 -1.6 0.9 -0.4 1 -2 -0.2 -1 2.1 -1 -0.3 -1 -4.6 0.8 -1 2.2 -1.4 5 0 1.4 -0.6 0.1 -2 -2.5 -1.8 -3 -0.6 -5 0.8 -7 -0.4 -2.4 1 -0.6 1.7 -1.1 0.3 5.4 3 0.6 1 -2.9 0.9 0 1.5 3 -1.1 1 0.9 2 0.2 1.5 -1.4 -0.8 2 0.4 3 1.3 1 -0.4 1 0.7 1 -2.8 3 2 3 2.1 -0.2 3 1.5 3 0.4 5 -0.1 2 -0.9 0.7 3.3 -0.7 5.5 -7 -1.2 -7 -3 -9 -0.2 -8 0.8 -5 -2.4 -6 -0.8 -2.6 0.3 -0.9 -1 0.9 -3 -4.4 -3.1 -2.2 0.1 -1.3 1 -0.8 6 -1.6 2 -5.1 -0.6 -0.5 -0.4 1 -2 -0.7 -3 -2.8 -2.9 0 -3.2 3 -0.1 1 1.4 1 -2.9 2 -0.1 1 -1.2 1.2 0 -1.4 -2 0.8 -2 -1.2 -1 -0.3 -3 -2.1 -1.8 -2 0.9 -4 -0.2 -1.9 1.1 -0.8 2 -1.3 0.4 -2 -1.1 -0.9 -3.3 -1.1 -0.4 -2 3.6 -2 1 -2 2.8 -2 0.2 -3 1.7 -2 -1.4 -0.6 -3.5 -1.4 -1.3 -2.5 -0.7 -0.6 -3 1.1 -3.1 2 -0.6 1 1.7 1 -0.7 0.8 -2.3 -2.8 0.2 -1 -3.4 -2.6 4.2 -2.4 1.3 -1.5 -1.3 -0.4 -1 1.9 -2.9 2 -1.7 2 0 0.3 -1.4 -4.3 0.7 -0.5 -0.7 2.6 -2 -2.1 -0.5 -1 0.6 -1.8 -1.1 -0.6 -2 1 -1 -0.6 -2 0.5 -2 -0.5 -0.4 -2 1.6 -1 -0.2 1.9 -3 2.1 -1 2 -2.5 1.3 0.5 0.1 2 3.6 1.5 1 1.7 1.2 -0.2 2.6 -3 -0.8 -3.3 2 -1.5 1 0.6 2 -2.4 0.3 1.6 1.7 1.2 1 2.1 2 0.8 2 -0.4 0.2 -0.7 -0.9 -1 0.1 -2 0.8 -2 2.6 -2 0.2 -1.5 4.8 3.5 3.9 0 -1.1 2 1.2 2 -0.6 2 -4.4 4 1.2 1.1 6 -1.6 1.8 -2.5 -2 -2 0 -2 -1.1 -2 0.8 -1 -1 -1 1.3 -2 -0.8 -2.2zM170.5 -25.6l-1 2.1 2 1.5 1 -0.2 0.8 1.7 -0.3 1 -3.3 2 1.5 6 2.3 1.8 4 0.6 -0.2 -2.4 1.2 -4.2 2.1 -0.8 -4 -5 0.7 -1 2.7 -1 -0.8 -1 -3.7 -0.5 -2 -0.9zM128.5 -27.5l-1.4 2 0.4 0.6 2.1 -0.6 -0.1 -1.6zM123.5 -47.9l-2.5 2.4 0.5 1.6 2 -1.6 0.5 -2zM129.5 -34.9l-1.6 1.4 1.6 0.7 1.9 -0.7zM132.5 -33.1l-1.4 1.6 0.4 0.8 1 0.1zM136.5 -42.8l0 4.1 0.7 -1.8zM140.5 -33.8l-1.2 2.3 1.2 1.6 1 -2.6 -0.2 -1zM143.5 -49.5l-0.9 2 1.9 -0.3 0.3 -0.7zM-144.8 -62.5l1.3 -0.8 1 0.5 1.2 2.3 -2.2 -0.3zM93.4 -60.5l0.2 1 -2.1 0.6 0 -0.9zM96.5 -60.5l1 -0.7 1 1.7 -1 0.9 -1.2 -0.9zM7 -57.5l0.5 -0.7 1.5 0.7 1.5 2 -1 0.8zM-151 -56.5l1.5 -0.3 0.7 1.3 -2.7 0.8 -1.2 1.2 -0.2 -2zM62.3 -56.5l1.2 -1 0.6 1 -0.6 3.4 -1 0.2 -1.5 -1.6zM-86.7 -53.5l1.2 -0.8 0.7 1.8 -0.7 0.3zM26 -53.5l1.5 -0.7 0.8 0.7 0.4 2 2.8 3 4 0.2 3 -1.3 1 0.6 2.3 3.5 -2 1 0.3 2 2 1 -1.6 1.7 -1.3 -0.7 -0.2 2 1.3 1 -2.8 -0.9 -0.2 -3.1 -1.8 -0.9 -2 0.4 -1 1 -2 -1.4 -8.5 -2.1 1.2 -1 1.1 -3 1.2 -0.3 1.2 -1.7zM69.9 -53.5l1.6 -0.9 0.1 2.9 2.8 1 0.3 2 1.8 1.7 1 -0.3 0.8 0.6 -0.4 1 -0.4 0.4 -1 -1.2 -2 0.7 -1 -2.6 -1 -0.5 -2.9 1.2 1.3 2 -1.4 0.6 -2.5 -0.6 -0.5 -1.5 -2 0.3 -1 1.1 -1 -0.5 2 -3.3 2 -0.2 2.5 1.1 0.5 -2.2 -1 -0.7 -1 0.3 -0.5 -1.4 0.5 -0.8 2 0.4zM12.1 -52.5l1.4 0.1 0.6 0.9 -0.3 1 3.9 4 -0.7 1 -2.5 0.5 -2.9 -1.5 -0.1 -1.3 1.2 -1.7 -2 -1 0.2 -1zM19.8 -52.5l0.7 -0.8 3 -0.1 2.5 2.9 -2.5 -0.2 -1 1 -1 0zM126.6 -50.5l0.9 -0.6 2.5 1.6 -2.5 1.3zM-114.4 -49.5l0.9 -0.5 1.1 1.5 -1.1 0.8 -1.4 -0.8zM58.3 -48.5l1.4 0 1.1 1 -1.2 1 -0.1 2.2 -1.2 -0.2 -0.1 -1 1.2 -1zM-112.8 -45.5l1.3 -0.6 0.9 0.6 -0.9 1.4zM72.1 -45.5l0.7 0 0.2 2 -1.5 0.4 -0.5 -0.4zM45.2 -44.5l2.2 2 0.1 1 -1 0.7 -3.3 -2.7zM50.4 -44.5l0.3 2 -1.2 0.3 -0.7 -1.3zM19.5 -43.5l2 -0.7 0 2zM-7.3 -41.5l0.8 -0.3 0.4 1.3 -3.1 0zM115.8 -39.5l0.7 -0.9 1.9 0.9 -1.9 1.5zM84.3 -38.5l1.2 -0.2 1 2.5 -1 0.4 -1 -0.7 -0.7 -1zM-122.3 -37.5l1.8 0 0.5 1 -1 2 1.1 2 -0.6 1 -1 -0.2 -0.3 -0.8zM94.4 -37.5l3.1 0.6 0 0.9 -2 1.1 -1.9 -1.6zM62.3 -35.5l2.2 -0.8 3 2.4 8 -0.6 4 2.4 1 -1.3 3 -1.3 3.9 1.2 -1.2 1 -1.4 3 0.2 1 1.5 0.7 1 -1.3 3 -0.3 2.7 3.9 -2.7 0.4 -2 -1.4 -0.6 1 -0.3 5 0.9 0.9 0.8 -0.9 -0.2 -2 2.2 0 -0.2 4 -0.9 1 1.1 1 -1.2 3 0.4 1.4 2 0.4 0.5 -0.8 -1 -1 2.6 -1 -1.4 -1 0.9 -1 -1.6 0.5 -0.8 -0.5 0.1 -2 1.7 -2.1 1 0.7 2.7 -2.6 -0.1 -1 -1.8 -1 1.2 -0.7 1 1.3 3.3 -1.6 0.7 2.2 2 -0.6 2 2.3 1 0.2 0.9 3.9 4.1 7.5 1 -0.1 2 -1.9 1 1.8 2.3 0.7 0.3 2 -0.6 1.6 -3 -3.3 -1.3 1.7 0 1 4.3 4.3 1 -0.6 2.1 1.3 -1.1 0.8 -1 -0.7 -0.4 0.9 2 2 1.1 3 -1.7 0.6 -5 -1.2 -6 1.9 -9 1.3 -2.3 1.4 6.3 3.3 2 2.2 2 0.2 2 1.3 8 1.6 3.4 1.4 -0.3 1 -2.1 2.4 -10.2 6.6 -0.8 1 0.6 2 -1.3 2 0.4 1 -1.7 2.2 -2 -1.2 -1.7 1 -1.3 2 -2 -0.2 -2 1.8 -11 2.8 -3 -0.3 -1 -1 -4 -1.3 -7 1.2 -3 -0.3 -2 -0.5 -1.3 -2.2 -0.2 -2 1.4 -3 3.1 -0.5 2 -2 4 -1.1 1.3 -2.4 -1.3 -0.6 -3 1 -3 -0.5 -1 0.7 -4 -1.6 -3.8 2 -1.2 -0.1 -2 2.8 -1 -0.5 2.7 -4.2 0 -3 1.1 -3 -0.3 -2 -4.5 -7.2 -1 -0.5 -3 0.7 -1.2 1 -2.9 6 0.9 2 -0.5 2 -4.3 2.9 -3.3 -0.9 0.3 1.2 2 0 0.8 0.8 -1.5 2 0.4 3 -0.7 1.6 -2.7 2.4 -0.3 1.5 -1 -0.2 -0.7 0.7 0.2 2 -3.5 0.7 -0.7 2.3 -1.3 0.2 -1 -0.2 0.8 -1 -1.8 -0.2 -1 -1.5 -1 -0.3 0 1 1.9 2 1.1 0 0.3 2 -1.3 1.2 -2 -1.5 -3 2.1 -2 -0.3 -2.6 -7.5 -1.7 -3 0.5 -3 -1.5 -3 0.6 -5 -0.9 -2 1.6 -4 -1 -0.2 -0.4 -0.8 0.4 -1.4 2 0.2 0.2 1.2 0.8 0.3 4 0.1 3 -1.4 -1 -1.9 -1 -0.1 -0.9 -1 2.9 -3.2 1 0.5 0 3 2 2.9 1 -2.9 2.4 0.7 0 2 0.6 0.5 2 -0.4 1 -3.6 1 -0.9 2 0.1 1.2 -2.7 -1 -1 0.1 -2 0.7 -1.1 1.1 0.1 0.9 -2 -1 -1.2 -2 1.8 -1.1 -0.6 0.3 -1 1.8 -0.1 1.9 -2.9 -0.9 -2.2 -2 1.2 -1 -1 -0.2 -1 2.1 -1 -0.8 -2 2.2 -1 -1.6 -1 -0.1 -2 5.4 -4.3 2 1.3 1 -1 1 0.1 2 1.9 2 0.5 0.4 -1.5 -1.7 -2 0 -1 3.3 -1.1 4 -3.5 2.3 -0.4 0.9 -1 -0.9 -1 2.7 -0.6 2.2 -1.4 2.8 -5 -2 -2.2 -3 -1.8 -2 1.1 -1.4 -0.1 -0.3 -1zM76.5 5.5l-3 0.8 -2.6 2.2 -0.4 1 2.6 1 10.4 -0.5 3 -0.8 3 0.4 1.5 -1.1 -3.5 -1.8 -7 -2zM82.5 -2.9l-3.7 1.4 1.7 1.8 1 -1.4 1.7 -0.4zM95.5 -12.3l-0.7 0.8 0.5 3 1.2 0.2 0 -3.2zM19.5 27.3l-2.1 1.2 1.1 1.6 1 0.3 1.9 -0.9 -0.1 -1zM23.5 29.7l-0.1 1.8 2.1 1.4 0.6 -0.4zM27.5 35.1l-0.8 0.4 -0.2 2.1 2 -0.1 4 1.8 0.6 -0.8 -0.6 -2.2 -3 0.7zM31.5 24.3l-1.1 1.2 2.1 1.5 1.8 -1.5 0.1 -1 -0.9 -0.6zM39.5 14.4l-1 0.3 -0.1 0.8 1.1 0.5 0.5 -1.5zM78.5 28.1l0.1 2.4 2.7 3 1.2 -1.5 1 0.6 2.7 -1.1 0.3 -1 -1 -1.2 -3 0.5zM32.5 32.4l-1.8 1.1 0.6 1 1.2 0.6 2.1 -0.6 0.2 -1zM35.5 29.4l-1 1.1 1 1.6 1 -2.4 0.7 -0.2zM39.5 19.9l-1 0.6 1 0.5 2.4 -0.5zM115.9 -35.5l2.6 -0.4 1.2 0.4 0.5 1 -1.7 0.3 -1 -1.3 -0.4 2 1.3 2 -0.9 0.6 -3.3 -3.6zM41.4 -34.5l3.6 3 0.2 2 3.9 6 0.4 4.1 -2 -1.7 -2 1.2 -0.4 -0.6 0.8 -2 -3.7 -8zM17.4 -31.5l1.3 0 -0.2 2.2zM105 -29.5l1.5 0 0 1.7 -1.5 0.3 -1.5 1.8 -2 -0.5 0.7 -2.3zM53.4 -26.5l1.9 1 -0.8 0.8 -1 -0.6zM-11.6 -25.5l2.2 0 -1.1 2.7 -1 0.3 -1 -2zM35.3 -23.5l0.2 -0.5 3.4 2.5 0.1 1 -2.5 0.2 0.4 -1.2zM92.9 -23.5l0.6 -0.7 1.5 0.7 -1.5 1.5 -1.6 -0.5zM18.2 -19.5l2.3 -0.6 0.3 1.6 1.7 2.1 -1 0.6 -3 -2.7zM17.3 -11.5l0.2 -0.6 0.7 1.6 -0.7 1 -0.9 0zM23.3 -11.5l1.3 0 -0.1 1.7 -1.3 -0.7zM0.5 -10.5l0 1.5 2 0.7 0.8 -0.2 0.2 -1 0.1 1 1.5 1 -3.6 1.1 -2.3 -1.1 -0.9 -1 0.3 -1zM143.9 -6.5l0.6 -0.3 1 1.1 1 -0.2 3 1.6 2 2.8 -1 1 0 1.4 -3 -0.1 0.8 -2.3 -1.4 -1 -1.4 -2.7 -0.6 2.7 -3.3 3 1.2 1 0.4 2 -2.7 -0.6 -3 2.1 -1 -0.1 -3 -0.5 -2.2 -1.9 0.5 -2 -1.3 -2 7 -4.5 3 1.4 2 -1.7zM-146.5 -4.5l3.9 1 1.1 1.5 1.3 -1.5 1.7 -0.4 2 1.2 9 -2.2 10 0.3 2 0.9 2 -0.3 1.8 0.5 1.2 1.3 3.6 -0.3 0.9 1 -2.5 1.7 -2 -0.8 -1 0.9 -1 4.4 -5.2 0.8 -3.8 2.4 -2 -0.3 -6 4.9 -4.2 2 -0.3 2 -1.5 1.2 -1 -1.5 -2 2.1 -2 -2.4 -5 0.5 -2 -1.1 -7 0.3 -4.1 -1.1 0 8 2.2 3 -0.1 1 -1.4 1 0.1 3 -0.7 1.1 -1 -1 -2 0.5 -1.2 -0.6 -0.4 -1 2 -2 -0.7 -3 -0.7 -0.9 -2 -0.4 -2 -2.8 -4 -1 -3 -2.6 -5 -1.1 -4 -1.9 -23 -6.4 -1.2 -0.9 -1.8 -4 -1.5 -1 1.1 -1 -1 -2 0.4 -0.7 3 -1.4 4 -0.1 2 0.5 1 1.3 3 0.1 3 -2.2 2 -0.1 2.8 0.6 0.4 2 0.8 0.4 1 -1.2 1 0.9 3.7 -2.1 2.3 -0.3 5 1.9 3 0.2 2 1.7 3 -0.6 5 1.5 4 -0.3 4 1.3 1.1 -0.4 -0.6 -1 1.5 -0.2 2 1.3 1.3 -1.1 -0.9 -3zM-103.7 -3.5l1.7 1 -1.3 1 0.8 0.8 2.1 0.2 -3.1 2.7 -2.5 -1.7 1.1 -1 -0.3 -2zM-214.3 -0.5l1.8 -0.5 1.3 0.5 0 1 -2.3 1.9 -1.2 -0.9zM122.1 2.5l2 0 0.8 2 -2.4 1 -0.9 -2zM15.9 5.5l0.6 -0.6 1.3 0.6 -0.2 1 1.4 2 0.1 2 -0.6 0.4 -1.2 -0.4 -0.9 -2 0.8 -2zM23.3 6.5l1.4 0 -1.2 1.8 -0.8 -0.8zM17.9 12.5l2.6 -0.6 1.2 1.6 -0.2 0.6 -1 0 -1 -1.3zM-88.3 16.5l2.3 0 -0.5 3.6 -2.5 -1.6zM-168.1 21.5l0.6 -0.9 0.9 0.9 -0.9 2.1 -1 -1.1zM-211.1 22.5l1.6 -0.7 3 0.7 2.1 2 -2 2 -0.1 1 -0.3 -1 -3.9 -2zM-8.9 23.5l1.4 -0.1 1 1.1 -1 1 -1.3 -1zM-189.2 24.5l5.7 0 3 2.6 2 0.4 1 1 -1 0.9 -7 0.8 -5 -1.8 -1 -1.9 0.3 -1zM-171.9 24.5l1.4 -0.9 2 1 1 3.2 1 -0.3 1 -1.4 1 0.1 0 3 -4 1.2 -5.9 -1.9 0.4 -2zM-143.8 25.5l2.5 1 -0.2 2.3 -4 0.2 -0.4 -0.5 -0.6 -2zM131.3 44.5l1.2 -0.7 1.3 0.7 -0.2 1 -2.1 0.1zM29.3 91.5l4.7 1 0.8 1 -0.6 2 -2.7 1.4 -1.2 -0.4 -1.1 -1zM35.2 92.5l2.3 -0.5 2 1 3 0.2 0.5 1.3 -3.5 0.1 -4 -1.1zM98.4 92.5l0.9 0 0.1 2 -0.9 0.3 -0.6 -1.3zM116.4 92.5l0.6 1 -0.5 1.4 -0.8 -1.4zM8.5 94.5l3 -1 1.9 1 -2.9 0.7zM22 94.5l0.5 -0.5 1.6 0.5 -0.6 1.1 -1 0.3z"/><path fill="#a7d0e4" d="M67.5 -79.5l1.2 0 1.2 1 -2.4 0.5 -0.7 -0.5zM49.7 -75.5l0.8 -0.9 2 0.4 1 1.1 2 -0.7 1 1.4 2.3 -1.3 0.6 1 -1.7 3 0.8 1 0 1.5 -1 0 -2 -1.6 -0.9 -2.9 -1.1 -0.8 -2 1.6zM67.1 -75.5l2.4 0.2 2 1.3 1 -1.7 2 1 -1.2 1.2 0.9 2 0.3 7.4 1.9 1.6 -0.9 0.9 -3 0.8 -2 -0.9 -1 0.7 -1 -0.7 -2 0.3 -2 -1.3 -4 1.8 -3 -1.9 -3 -1 -1 0.3 1 -4.1 1.3 1.1 0 1 1.7 0.6 4 -4.2 3 0.4 -0.3 -1.8 -2 -1 -0.4 -2 0.7 -0.7 3 1.9zM77.2 -72.5l0.3 -0.6 4.7 2.6 0.8 1 -0.5 1 -3.9 -2zM46.7 -71.5l1.8 -0.7 0.8 0.7 -0.8 1.9 -3 0.1zM51.2 -71.5l0.3 -0.9 0.9 2.9 -0.5 2 -1.4 -0.4 -1 0.7 -0.5 -1.3 0.9 -2zM86.3 -71.5l1.3 0 0.1 1 -1.2 1.7zM32.4 -68.5l1.1 -0.4 1 2.5 2 -1.2 2 0.3 1.9 2.8 -4.9 2.5 -4.5 -3.5zM35.5 -66l-0.1 1.5 1.1 0.8 0.1 -1.8zM-85.9 -67.5l1.4 -0.7 1.2 0.7 -0.8 5 -2.4 0.3 -2 4.6 -3 -2.1 -0.5 2.2 1.5 2 -1 0.7 -1.5 -0.7 -0.1 -2 -1.4 -0.4 -1 1.5 -5 0 -1 -2.4 -3 1.8 -3.5 -3.5 0.5 -2.1 5 0 3 -2.2 2 2.1 2 -4.4 1 -0.2 2.8 3.8 2.2 0.5 1 -1.3 3.4 -1.2zM44.8 -66.5l0.7 -0.6 0.6 0.6 0.4 2.3 -2.8 -1.3zM78.2 -65.5l1.3 -0.5 0.8 0.5 0.4 3 -2.2 -0.7 -0.9 -1.3zM-66 -55.5l3.5 -0.3 3 1.7 1.9 2.6 -0.8 1 0.3 1 3.1 6 2.5 2 1 1.9 2 -0.7 1.4 0.8 -0.4 2.6 -1 -0.1 -2 -2.2 -1.7 1.7 1.7 1.5 1.2 2.5 -0.1 2 -1.5 2 3 2 -1.6 0.7 -1 2.3 -2 1.2 -1 1.9 -1.5 -0.1 -0.7 5 2.2 1.5 4 1.1 6 -2.4 4 -0.7 2.6 2.5 0.9 2 -0.1 2 -1.4 1.4 -5 1.8 -6 -1.1 -5 1.9 -2.3 0 -1.7 1.9 -1.1 -1.9 -2.1 -1 -3 -4 5 -6 -0.8 -3.3 -4 -0.2 -2 0.6 -0.5 1.9 -3.5 2.5 -3 0 -3 1.6 -8 -2.1 -3 1 -2 -0.2 -2 -1.2 -4 0.3 -2 -0.5 -0.5 -4.4 -1.5 -1 -2.7 0 0.7 -6 -2 -0.5 -2 0.6 -2 2.7 -1 0.2 -2 -0.6 -1 -1.1 -1.3 -6.3 3.3 -5.2 3 -1.1 4 0.8 2 -1.3 5 0.7 0.7 4.1 1.3 1.4 1.1 -2.4 -0.3 -5 2.2 -2.6 5.8 -3.4 2.2 -3.8 3 -1.7 3 -0.6 3 0.6 4 -0.8zM-96.5 -30.9l-0.6 0.4 0.6 0.7 4.2 1.3 1.8 1.7 2.5 -0.7 -4.5 -3.5zM-197.6 -53.5l1.1 -0.1 1.9 3.1 -0.9 1 4.9 4 1.1 -0.3 1 2.7 3 -1.3 3 2.2 2.3 -0.3 3.7 2.8 3 -0.6 1 1.8 2 1 4 6 1 -1 2 0.2 3.7 -1.2 0.8 -2 -1 -3 1.3 -1 -1.3 -1 0.5 -1.1 4 2.2 0.8 -2.1 0.9 0 0.3 3 3 1.6 2 3.3 -0.9 2.1 -1.3 1 1.6 2 -0.4 1.8 -5 6.1 -2.3 -0.9 -0.7 -2.3 -5 -3.3 -2 0.8 -2 -1.4 -2 1 -7 -2.2 -1 1.4 -4 -0.7 -4 1.4 0.5 2.3 -1.5 1.7 -1 -0.9 -0.8 1.2 1.8 0.8 0.1 1.2 -1.1 0.7 -2 0 -5 -2.3 -2 0 -2 -2.1 -3.3 0.7 -0.7 1 0 2 -2 0.4 -2 -1.2 -2 -0.2 -3.9 -3 0.7 -1 -0.3 -3 0.9 -1 0 -2 1 -1 1.3 -5 1.1 -1 3 -7zM-94.3 -53.5l2.8 -0.8 0.9 0.8 -1.9 1.6zM149.8 -53.5l1.7 -0.5 1 1.9 -1 0.5 -1 -0.4 -0.9 -0.5zM-104 -52.5l1.6 0 -0.1 2.1 -1.2 -0.1zM-21 -52.5l1.5 -0.7 2 1.2 3 -1.2 3 1.6 2 3.1 -0.1 2 -1.8 3 -1.1 3.5 -4 3.4 -3 0.1 -4 -1.5 -2.5 0.5 -1.5 3.1 -2 0 -1 1.4 -2 0.9 -2 5.6 -2 0 -1 1.2 -3 0.2 -3 -0.6 -1 -1.8 -3.2 2 -0.6 -2 3.9 -2 0.2 -1 -1.3 -0.4 0.2 -1.6 -1.2 -2.1 -1.5 -0.9 0.5 -0.7 2 0 3 3.6 3.3 0.1 0.7 1.3 3 -0.9 0.2 -4.4 -2.2 -0.1 -1 1.8 -1 -1.6 -1 0.5 -1 -0.6 3.9 -2 -0.6 -1 1.4 -2 0.3 -5.8 2.1 -0.2 0.9 -2.4 7 2 3 -0.9zM178.3 -50.5l5.2 -0.1 7 3.2 5 -0.3 5 1.9 2.2 4.3 3.7 2 1.3 2 1 5 1 1 0.1 2 1 1 -0.3 1.9 -3 -1.4 -6 -0.8 -3 1 -4 -0.8 -5 1.8 -4 0.4 -4 0.1 -8 -1.1 -11 0.9 -2 1.1 -3 -1.7 -4 0 -3 1.1 -1.3 -0.5 -3.7 -3.7 -2.7 -0.3 -0.1 -1 2.1 -1 -0.3 -1.1 -5 -1.3 -0.3 -0.6 -0.1 -1 1.4 -1.8 1 -0.1 0 -1.1 -2 -0.8 -0.9 -1.2 0.9 -3 1 0 1 -1.4 4.3 -0.6 0.3 2 2.4 2.4 0.9 -0.4 0.2 -1 2.9 -0.8 1 0.7 4 0.4 1 -0.7 2 1.4 6 -5.6 4 0.6zM143.5 -36.7l-0.6 1.2 0.6 1.9zM-100.1 -49.5l0.6 -0.8 0.8 0.8 0.6 2 -1.4 -0.4zM-107 -48.5l0.8 0 1 2 -1.3 1.9 -1.5 -1.9zM-95.7 -47.5l1.7 0 -1.6 1 -2.1 0zM37.1 -45.5l1.4 -0.4 0 2.4 -1.7 0zM132 -45.5l0.5 -0.9 0.2 1.9 2.4 1 -0.6 4 -1.4 3 -2.6 0.9 -3 -1.9 -0.1 -1 -1.9 -0.3 -2.6 -1.7 2.6 -3 3 -1.3 2 0.4 1 1.4 0.6 -0.5zM130.5 -42l-0.9 0.5 0.2 1 1.7 1.3 1.8 -1.3 -0.8 -1.4zM134.3 -36.5l2.4 0 -1.2 1.6 -1.2 -0.6zM-127.6 -34.5l1.1 0.3 2 3.6 0 1.8 -4 -0.2 2.5 -2.5zM69.3 -32.5l6.2 -0.4 0.8 0.4 -1.5 1 0.7 1.4 1.5 -1.4 1.1 0 2.1 1 1.3 2.1 3 0.7 0.7 4.2 2.4 7 -0.2 1 -1.9 1.9 -3.3 2.1 -0.7 2.6 -3 1.2 -2.3 2.2 -1.1 2 0.8 2 -1.5 2 1.1 1 0 1.8 -1 -0.3 -0.7 1.5 -3.3 1.6 -3.9 3.4 1.3 1 -0.4 2 1 0.6 2 -0.2 1 1.1 1 -0.1 1 -1.3 4 -1 2 0.3 2 -0.7 13 -1.2 2.8 0.5 2.1 2 -0.6 2 0.7 0.9 11 1.9 1.7 2.2 0.6 2 -0.4 1 -3.9 2 -5 -1.2 -2 2 -1 -1.2 -0.1 1.4 -1.4 1 -2.5 0.3 -4 -2.3 -2 0.2 -1 -1.4 -3 1.4 -3 -0.6 -2 1.7 -8 -3 -2 1.1 -3.9 -0.4 -1.1 -1.4 -3 -0.3 -3 0.7 -0.1 -3 -1.9 -4.5 0 -2.5 3.8 -3 -3.8 -2 -1 0.9 -3 -0.3 -3 -1.9 -3 2.7 -1 -1.1 0.7 -3.3 3.4 -5 6.4 -7 1.6 -3 1.4 -5 -3.1 -1 0.1 -2 9.5 -7 3 -4 -0.1 -2zM72.5 -31.5l0 1.7 1.4 -0.7 0 -1zM96.5 15.8l-0.5 0.7 0.5 1.5 2 0.8 0.6 -1.3 -1.6 -1.9zM136.9 -31.5l0.6 -0.7 0.5 0.7 0.2 1 -0.7 0.5 -1.3 -0.5zM44.3 -28.5l0.2 -0.6 3 4.3 0 2.2zM-125.6 -27.5l1.1 0.1 2 2.8 4 2.6 3 1.3 4.2 0.2 2 2 -7.2 4.4 -3 0.1 -1 -1.5 -1 0.3 -0.9 -1.3 0.8 -2 -0.6 -1 0.3 -3 -3.6 -1zM-77.1 -12.5l1.6 -0.2 0.4 1.2 1.9 1 -2.3 0.5zM45.4 -12.5l1.1 -0.5 3 0.4 2.1 1.1 0.2 2 -0.3 0.6 -1 -0.5 -2 0.7 -1.9 -0.8zM-86.6 -11.5l0.1 -0.6 2.1 0.6 -1.3 3 1.2 2 -1 2.7 -0.7 -0.7 0.2 -2 -2 -2zM-82 -10.5l2.1 0 -1.6 2.4 -1.3 -0.4 -0.3 -1zM49.3 -7.5l2 1 -1.8 0.6 -1 -0.6zM45.9 -6.5l0.6 -0.5 0.4 1.5 -1.4 2 -0.8 -1zM-75.4 -5.5l1.9 -0.9 1.2 0.9 -3.2 1.5 -0.8 -0.5zM90.3 -5.5l1.2 -0.2 0.2 1.2 -1.2 0.6 -0.6 -0.6zM-127.8 -3.5l1.8 0 0.5 1.1 2 0.2 2 2.4 2 -0.3 0.6 1.6 -0.6 0.7 -2 -0.1 -1 2.7 -5 2.7 -5 4 -7 0.5 -5 1.7 -8 -1.4 -3 -0.2 -1 0.5 -2 -1.3 -3 -0.1 -2 0.9 -2 -0.7 -4 2.9 -10 -0.9 -9 -3.2 -10.1 -1.7 -2.3 -1 -1.5 -2 2.9 -3 4 0.2 2 0.7 4 0 3 2.9 4 -4.1 2 -0.5 1 -1.2 2 1.1 5 0.3 4 1.5 7 0.6 2 0.9 4 0.4 2 -1.4 6 1.3 8.8 -1.7 3.2 -2.2 4 0.1 2 0.7 0.8 -1.6 -0.5 -2zM-69.8 -3.5l2.3 -0.7 1 0.4 1 2 1.8 1.3 -0.2 1 -0.6 0.6 -5.2 -2.6zM96.6 -3.5l2.9 0.2 2 2.4 3 1.8 1 -1 4 -0.4 0.8 1 -0.3 3 -1.5 1.1 -10 1.3 -8 -0.2 -5 -1.1 -0.6 -1.1 1.1 -1 5.5 -3 2 -0.5 0 -1.5 1 -0.6zM137.4 -1.5l1.1 0.1 0.3 0.9 -1.3 4.1 -0.1 -3.1 -0.8 -1zM-80.4 -0.5l0.9 -0.7 2 0.3 2 1.7 2 -1.8 1.6 1.5 -0.3 1 1.8 4 1.5 1 0.2 2 2.2 1.1 1.3 -2.1 -2.3 -2.3 -0.5 -1.7 2 0 1.7 2 -0.2 1.3 1.6 1.7 -1.2 3 0.4 2 -1.8 1.3 3 0.3 0.6 -0.6 0.7 -5 2.7 -3.1 0.3 2.1 3.1 3 0.6 1.7 1 -0.8 2 1.1 2 0 -2 0.1 -2 4 -4.9 -1.1 -1.1 -1.7 -1.1 0.7 0.1 1 1 0.7 1 -0.4 1 1.8 1 0.3 2 -1 3.1 2.6 0.3 1 -1.4 0.6 -1 -0.3 -3.3 2.7 4.3 1.5 0.6 2.5 -0.6 1.3 -2 0.3 -1.2 1.4 1.8 1 -2.4 2 -0.6 3 -1.3 1 0.2 1 -1.5 3 -1 0.5 -1.2 -0.5 -1.8 -2.8 -1.1 0.8 0.6 2 -0.9 2 -3.6 0.1 2.9 -1.1 -2.7 -2 -2.2 0 -2 -1.3 -1 1 -0.7 -0.7 0.3 -1 -1.6 -2.1 -2 2.3 -1.5 -1.2 0.1 -1 1.8 -1 0.7 -2 -2.1 -4.3 -2 0.6 0 -4.2 1 2.3 0.9 -1.4 -1.6 -1 0.8 -2 -2.1 -0.2 -2 -1.8 -0.1 -1 2.1 0.5 2 -0.4 0.2 -1.1 1.8 -1.4 0 -0.9 -1 -0.7 -1.1 1 -0.1 2 -0.8 0.7 -1 -1.4 -1.1 -0.3 0.1 -2 -1 -2 1 -1.6 3.2 -1.4 -0.9 -1 0.5 -3 -1.8 -2 1.7 -3 -2.7 -0.2 -1 1.6 -4 1 -0.9 -0.4 0.9 -0.7 1 0.6 3 -3.9 2 -0.4zM-74.5 7.8l-0.7 1.7 0.7 0.9 1.6 -1.9zM135.4 -0.5l0.7 0 0 2 -1.6 1.3 -0.4 -1.3zM-48.5 0.5l2 -0.3 2 1.6 2 -1.7 5 0.3 1 1.3 2 0.5 1.5 2.3 2.5 1.2 0.6 -0.2 0.4 -4.4 6.5 -0.6 -1.5 2 0 2 1 1.4 2 0.6 0 1 -1 0.5 -1 -0.8 -0.7 2.3 -1.5 1 0.4 2 -0.4 4 -2.8 3.4 -2 -0.8 -2.7 1.4 -1 1 0.3 1 -1.2 2 1.1 4 1.8 2 -1.3 3.9 -1 -0.9 0.3 -2 -2.3 1.4 -2.1 -1.4 -2.5 -5 -0.6 -3 -3.2 -4 3.8 -10 -0.5 -2 -5.3 -4 -0.5 -2zM44.4 0.5l0.7 0 -0.2 2 1.6 0.6 0.6 1.4 -1 2 0.9 6 -0.5 3.9 -1.8 -0.9 -0.2 -2.4 -1 2.3 -1 -0.6 -1.3 -3.3 0.3 -1 2 1.4 0.1 -1.4 -1.4 -1 -0.5 -2 2.2 -3 0.3 -1 -1 -2zM-61.3 2.5l1.8 -0.1 0 1.5 -1.8 -0.4zM-90.7 7.5l1.2 -0.9 1.2 1.9 -0.2 2 -3.1 0 1.4 -1zM25.8 11.5l0.7 -0.7 0.7 0.7 -0.7 2 -1.4 -1zM-87.9 16.5l1.5 0 -0.1 2.7 -1.8 -0.7zM31.4 16.5l0.8 1 -1.7 0.6 -0.6 -0.6zM36.5 16.5l1 -0.6 0.6 0.6 -0.6 1.9 -1.5 -0.9zM21.9 18.5l2.3 1 -1.3 3 -2.4 0.3 -2 1.5 -1 -0.8 2.9 -2 0 -1 -1.2 -1zM24.3 18.5l1.2 -0.5 2 1.2 3.4 0.3 0.3 2 1 1 -0.7 1 -2 0.4 -2 -0.7 -1 1.3 1 0.9 2 -0.1 1 1.5 3 1.4 1 3.3 -5 1.4 -1.7 -1.4 0.5 -2 -1.2 -2 0.3 -1 -0.9 -0.9 -2 1.4 -2 0 -1 0.8 -1.9 -1.3 0.9 -1.9 2 0.6 1 -0.4 1.7 -2.3 0.5 -3zM27.5 19.7l-0.2 1.8 1.2 0.1 0.6 -1.1 -0.6 -1zM33 18.5l1.2 0 0.1 2 1.7 1 0.4 2 -0.9 1 -1.7 -1 0.2 -2 -1.9 -2zM43.5 20.5l1.6 0 0 1 -1.6 0.4zM40.8 22.5l1.7 0.1 0.4 0.9 -1.4 0.8zM-28 23.5l1.1 0 -1.6 2.3 -1.6 -0.3zM24.1 28.5l0.4 -0.6 1.6 0.6 -0.2 2 -0.4 0.2zM37 30.5l1.5 -0.9 1.8 0.9 -1.8 3.6 -1.4 -0.6 1.1 -1zM18.1 31.5l1.4 -0.4 2 0.8 1 -1.2 2.2 2.8 -2.2 1.9 -3.4 -1.9zM91.4 32.5l1.5 0 2.6 2.1 0.5 1.9 -2.5 1.4 -2 0.2 -2 1.5 -1 -1.5 -1 0 -1.1 1.4 -1.9 0.8 -2.5 -0.8 1.5 -2.3 7.6 -3.7zM26.7 33.5l0.8 -0.4 1 0.9 1 -0.1 1.5 1.6 -1.5 0.4zM18.1 34.5l0.4 -0.6 0.4 0.6 -0.4 2.2zM34.2 35.5l1.3 1 -1 1.6 -1.2 -1.6zM22 36.5l0.5 -0.8 1 0 1.6 0.8 -2.1 2 1.5 1.8 1.1 0.2 -1.1 1.4 -1.7 -0.4 -1.3 -2.7 -1.2 0.7 0.2 -1.9zM68.3 36.5l1.4 0 1.1 1 0 1 -1.3 0.9 -1 -0.7 -0.8 -1.2zM-71 42.5l0.5 -1 1 0.5 -0.4 2.5 -1.5 0 -0.8 -1z"/><path fill="#6bacd1" d="M-95.5 -64.5l1 -0.8 1 0.8 -1 1.6 -1 0.1 -0.5 -0.7zM-67.7 -51.5l2.2 0.2 4 4.6 2.1 1.2 0.4 3 -0.9 4 -4.7 2 -0.4 1 0.8 2 0.7 0.8 2 0 2 -2.5 4.4 3.7 0.3 1 -0.7 1.4 -2 -1.3 -2 1.7 -2 -0.1 -2 3 -3 1.8 -2 0.1 -1 2.7 -4 1.8 -2 -0.7 -1 1.5 -2.2 1.1 -7.8 0.3 -1 -1.3 0.9 -1 0.2 -2 -0.7 -2 0.6 -0.6 3 0.4 3 -1.6 -1 -1.5 -4 0.1 -1 1.7 -0.7 -1.5 0.4 -1 -3.7 -3.9 -4 -1 -3.4 0.9 -0.6 1.6 -2 -0.9 -1 1.2 -2 -0.2 -4 1.2 -2 -2.1 -1.3 -2.8 2.3 -4.1 6 -0.3 2 -0.9 2 1.7 2 -0.8 2 4.3 1 0.4 1 -0.5 0.6 -0.8 -0.2 -5 0.6 -2.3 5 -3.7 3 -1.2 2 0.3 1 -2.1 2.2 3 1.8 1.2 1 -0.9 2.9 3.7 1.1 0 2.4 -4 -1.6 -3zM-17.9 -48.5l2.4 -0.4 2.2 3.4 -3.2 1.9 -2 -0.3 -0.3 -1.6zM176.4 -46.5l2.1 2.4 1.1 -0.4 0.9 3.4 4 2.3 3 -0.7 4 0.1 2 -1.8 0.5 1.7 1.5 1.5 3 0.7 1 -1 2 1 2 -0.8 1 1 1 4.2 -2 0.8 -1 -0.7 -2 0.4 -4 1.8 -3 -0.3 -4 2.1 -4 0.8 -2 -0.5 -2 1.1 -5.4 -1.1 -4.6 -2.4 -3 1.8 -4 0.9 -2 -1 -3 0.6 -7 -2.5 -1 0.6 -1 -0.5 -1.5 -5.5 -2.1 -2 -0.7 -2 0.3 -1.1 2 1.7 6 0.5 3 -1.3 4 0.8 2 -0.5 5 -3.3 2 0 0 1.2 2 0.4zM-201.6 -42.5l2.1 -0.7 1 1.7 2 -0.9 3.2 3.9 -0.1 1 -1.1 0.2 -0.2 0.8 3.2 1.6 5 -2.8 2 -2.1 1.3 1.3 0.8 4 -4.1 2.5 -1 -0.3 -1 -2 -3 0.1 -1 1.7 1.1 1 0.5 3 -0.6 0.4 -4.6 -3.4 -1.9 -3 0.5 -1 -1 -0.7 -0.4 2.7 -1.9 2 0 2 -1.2 3 -2.5 2 -2 0.5 -4 -2.7 -0.2 -1.8 0.9 -1 0 -2 1 -1 0.2 -2 1.1 -1.8 4 -0.2 0.5 -5zM127.3 -42.5l0.8 0 0 2 -1.6 0.8 -1.9 -0.8zM-173 -34.5l1.5 0 0.2 1 -2.2 1.7 -1 -1.7zM68.9 -26.5l1.6 -1 5 1.8 3.5 0.2 0.5 1.7 2.2 1.3 1.8 2.2 0.3 1.8 -2.3 1.7 -0.3 2.3 -7.1 8 -2.1 8 -1.9 3 -4.6 1 -1 -0.7 -3 0.4 -4 -0.7 -4.5 -3 -0.3 -2 5.8 -6.4 1.2 -0.6 1.8 -2.8 0.3 -5.2 -1.4 -2 0.5 -2zM-41.6 -14.5l1.4 1 0.2 2 -2.1 2 -1.4 0.3 -5.3 -1.3 1.3 -2 3 -1.5zM-59.3 -13.5l1.8 -0.1 3.9 2.1 -1.6 2 -4.3 0.3 -1 -3.3zM96.5 1.5l1 1 0 1.2 -2.3 -0.2zM-83.5 2.5l2.3 0 -3.3 1.5zM-72.8 3.5l0.3 -0.6 1 1.4 0 1.8 2 1.2 -0.7 2.2 0.7 0.4 1 -0.7 1 1 2 0.3 1 2 -2 1.2 0 1.8 2 1.9 2 -1.3 0.9 0.4 0.1 1.4 3 0.6 1 1 -1 1.9 -2.1 0.1 -0.2 1 1.3 0.2 1 -1.1 1.9 0.9 -1.9 2 -1.6 0 2.6 0.6 1.5 2.4 -2.4 2 -0.1 1 1.5 1 -0.5 3.6 -1.4 2.4 -2.6 2.5 -2 -1.1 -2.9 0.6 0.9 2.5 -1.2 -0.5 0 -2 -1.8 -0.7 -1 -1.9 -0.9 0.6 -0.1 1.3 -1 0.2 -1 -4.2 -1 0.5 -1.5 -0.8 2.5 -2.7 2.5 0.7 -1.5 -2.2 -2 0.1 -0.8 -0.9 0.6 -3 -0.3 -3 -1.5 -1 1.1 -2 -1.1 -1.2 -1 0.1 -1.2 -2.9 2.2 -0.5 1 1.3 2 -1.1 1 0.3 -0.3 3 1.3 0.3 1 1.6 0.8 -1.9 -0.6 -1 0.2 -5 0.6 -1 1.4 0 -0.4 -1.8 -1 1.5 -1 -0.4 -2 0.7 -2 2 -0.6 -3 2 -3 -0.3 -1 -1.2 0 -1 -1zM-134 5.5l0.5 -0.8 2.5 0.8 -0.5 1.3 -2 1.5 -1.6 -0.8 -0.1 -1zM-40 5.5l1.5 -0.8 1.2 1.8 6.4 4 0.5 2 -0.5 1 -4.6 4.2 -2.4 -0.2 -3.2 -4zM-174.7 6.5l1.5 0 1.6 1 -1.9 0.3zM-170 7.5l1.5 -0.3 0.9 1.3 -0.9 1 -1 -0.1zM-76.8 7.5l1.3 1 -1 1 0.5 4 -1.5 0.7 -2 -0.4 1.1 -2.3 -0.1 -2.4zM-60.7 10.5l0.2 -0.6 1.1 0.6 -1.1 3.8 -0.7 -0.8zM-58.2 14.5l0.7 -1 1 0.5 0.1 1.5 -1.1 0.2zM61.5 14.5l1.8 0 2.3 2 -3.1 0.3zM-87.6 16.5l1.1 1 -0.1 1 -0.9 0.3 -0.7 -1.3zM34.2 22.5l0.3 -0.6 1 0.1 0.2 1.5 -1.2 0.1zM-78.7 23.5l0.2 -0.6 2.8 0.6 -2.8 3.2 -0.4 -1.2 1 -1zM30.9 28.5l2 0 -0.3 2 -1.1 -0.1 -1 1.6 -1 -0.1 -0.9 -1.4 0.9 -1.5z"/><path fill="#3783bb" d="M-86.7 -42.5l3.2 -0.9 1.2 0.9 0.7 2 1.4 6 -2.3 5.9 -1 -1.6 -4 -1.8 -0.9 -1.5 0.6 -2 -1.2 -3 -0.5 -0.5 -1 0.5 1 -2.3zM173.7 -37.5l1.8 -0.9 3 0.8 1 -0.4 2 1.3 2 0.4 6 0 2 1.1 1 -0.5 1.2 2.2 -4.2 2 -2 -1.3 -2 2.1 -4 -0.7 -3 0.7 -1.8 -0.8 -0.2 -1.2 -3.1 -0.8zM158.3 -36.5l4.2 -0.9 2.3 2.9 0.2 2 -1.5 0.9 -3 -0.9 -2 0.7 -1.8 -2.7zM166 -36.5l1.5 -0.8 0.3 0.8 -1.3 1.9 -0.9 -0.9zM-207.7 -32.5l1.2 0 1.5 2 0.2 2 -0.7 0.7 -2 0.2 -2 -1 0 -2.9zM66.4 -23.5l4.1 -1 5 3 1.4 2 0.4 5 -2.5 4 -3.1 2 -2 5 -0.2 3 -1 1.1 -4.3 1.9 -3.5 0 -3.2 -2 0 -1.5 -1.2 -1.5 2.2 -2.2 5.2 -0.8 0.7 -3 -1.4 -10zM-72.7 4.5l0.5 0 -0.1 2 -1.2 0.4 -0.4 -0.4zM-77.7 11.5l0.2 -0.7 1.3 1.7 -1.3 1.1 -0.7 -1.1zM-68.5 16.5l1 -0.8 1.9 2.8 -0.9 0.9 -1 -0.3zM-61.4 19.5l0.9 -0.6 1.9 0.6 -0.6 1 -1.3 0.1zM-65.5 20.5l2 0.2 0.9 0.8 0 1 -0.9 0.4 -2.9 -1.4zM-68.6 21.5l1.1 0.1 2.6 2.9 -0.6 1.1 -2 -0.7 -0.5 0.6 0.5 1.6 2 -0.2 2 -1.9 1.1 0.5 1 2 -1.8 1 1.7 1.6 1 -0.9 2.4 2.3 -0.4 3.5 -1 -2.2 -2 0.7 -2 -1.9 -3 5.2 -1.4 -1.3 1.7 -1 -0.8 -1 -0.8 0 -0.7 1.8 -2 -0.1 0 -1.3 1 0 0.7 -1.4 -2.7 -3.8 -1 -0.2 -0.4 -2 0.4 -1.4 2.8 -0.6zM-64.5 26.8l-1.5 2.7 0.5 0.9 1.7 -1.9zM-60.6 26.5l1.1 -0.2 2.1 1.2 -1.1 1zM-63.9 36.5l1.4 -0.3 1.5 1.3 -1.5 1 -1 -0.3 -0.9 -0.7z"/><path fill="#1c5c9f" d="M70.5 -20.5l2 1.1 1 1.6 0.7 3.3 -2.7 2.9 -3 1.9 -1 -0.2 -2 -3.3 0 -2.5 1.9 -3.8 2.1 -0.2zM-72.1 26.5l2.6 -0.9 1 0.9 -1 2.8 -1 -1.6 -1.7 -0.2zM-69.2 30.5l0.7 -0.8 1 0.6 0 1.8z"/></g>
<use href="#co" fill="none" stroke="#000" stroke-width="2" stroke-linejoin="round" stroke-linecap="round"/>
</g>
<use href="#bd" fill="none" stroke="#c2c2c2" stroke-width="1.1"/>
</g>
<g transform="translate(794.85 201.55)">
<use href="#bd" fill="#f7f7f7"/>
<g clip-path="url(#cl)">
<g fill-rule="evenodd"><path fill="#fcdfcf" d="M-27.2 -103.5l3.7 0.9 3.3 3.1 -1.3 2.9 -2 -0.1 -3 1.1 -4.2 -1.9 -0.9 -3 0.2 -2zM19.6 -102.5l2.9 -0.9 20 2.1 7 -1.1 4 0.8 11 0.1 4 -0.7 8.9 2.7 -1.9 1.1 -5 0.6 -2 1.3 -4 -0.2 -4 1.5 -4 -0.6 -2 1.5 -2 -1.3 -3 1.4 -2.3 -1.3 0.3 -1.1 3.7 -1.9 -1.7 -0.6 -3 0.9 -5 5.7 -4 -0.7 -6 0.9 -8 -1.5 -4 0.1 -4 1.4 -7 6.4 -3 1.6 -2 0.3 -2.6 1.5 -5.4 0 -6 -1.3 -1 -0.6 -0.3 -2.1 -1.7 -1.5 -5 -0.2 -2.5 -1.3 3.2 -3 0.4 -2 2.9 -2.8 3 -1.2 5 0.3 2 -1.1 6 1.1 3 -0.2 3 -1.8 5 1.6zM92.6 -102.5l1.9 -0.4 9 1.3 12 -1.1 5 1.5 5 3 5.3 1.7 1.4 2 -4.7 0.5 -5 -1.2 -5 -0.1 -3 1.2 -4 0 -3 -1.6 -3 -0.6 -12 0.5 -2 -0.7 -0.1 -1 -1.9 -1.5 -9 -1.3 -0.8 -0.2 -0.1 -1 1.9 -0.7 8 1zM110.5 -97.8l-0.8 0.3 1.8 0.5 3.8 -0.5zM-43.6 -97.5l1.1 -0.3 2 1.3 -0.1 3 -1.9 1.9 -2 -0.5 -0.7 -1.4 0.3 -2zM-144 -95.5l1.5 -0.1 2 1 -0.2 1.1 -2.8 1.8 -1 -0.1 -0.6 -0.7 1.7 -2zM-132.9 -95.5l7.4 0.1 6.7 1.9 -0.7 1 -2 -0.7 -4 0.1 -7 -1.2 -0.5 -0.2zM-48.6 -95.5l1.1 -0.7 1.3 0.7 0.4 2 -0.4 3 -1.6 2 -0.7 4.6 -4 3.2 -3.2 0.2 -1.5 -1 0 -1 3.2 -5 0.6 -3zM-114.4 -94.5l0.9 -0.2 2 1.2 -3 0.7 -1.2 -0.7zM139.3 -94.5l2.1 0 -1.9 1.2 -1 -0.2zM-27.7 -87.5l4.2 0.1 0.5 1.9 -1.5 3.6 -2 -0.7 -1 1 -1 -0.3 -1.2 -1.6 0.2 -1 -1 -0.3 0 -1.1 1 0.1zM88 -84.5l1 0 0.2 1 -0.7 0.6 -2.1 -0.6zM-117.5 -78.5l1 1.2 3 1.5 2 -1.3 0.6 2.6 -4.6 2.3 -0.2 0.7 1.2 0.9 1 -1.5 0.3 0.6 -1 2 1 2 -1 1 0.6 1 -0.6 1 -1.3 0.6 -1.6 2.4 0.6 3.7 -1 0.4 -1 -0.5 -1.4 1.4 2 4 -0.6 1.7 -2 0 -2 -1.1 -1 1.7 -2 0.5 -1.1 1.2 1.1 0.8 2.8 0.2 -0.9 3 -3.9 4.5 0.7 4.5 -1.3 4 -6.7 8 -4.7 3.1 -9 0.4 -4 -0.6 -2.4 -2.9 0.1 -3 4.3 -2.6 3 -0.3 2 -1.8 2.3 -3.3 1.3 -5 2.4 -3 3.8 -3 -0.5 -2 0.7 -0.8 1.3 -0.2 -1.7 -2 -0.1 -1 2.5 -6.6 1 -0.7 1.1 0.3 2.2 -3 -1 -2 1.5 -2 -1.4 -1 0.6 -2.9 2 -2.4 1 1.5 1.3 -0.2 1.7 -2.5 2 -0.8 3.1 -2.7zM-129.5 -46.9l1 4 2 -1 0 -1.6zM98.2 -75.5l1.3 -0.2 3 1.7 3 -1.3 3 2.1 7 -0.9 3.1 1.6 1.1 3 -1.2 1.6 -1.3 0.4 0.2 2 -1.9 0.8 -0.1 1.2 -2.9 2.8 -2.2 -0.8 1.2 -2.6 -1 0 -0.6 1.6 -1.4 0.7 -1 -2.2 -0.4 2.5 -3.6 -0.8 -4 0.3 -1 -0.3 -1 -4 -3 0.6 -2 -2.5 -1.5 -0.3 0.6 -1 -0.2 -2 -1.6 -1 0.7 -1.1 1.4 0.1 0.6 0.9 2 -1.5 3 1.6zM94.5 -71.5l-0.9 1 0.9 0.7 1.2 -0.7 -0.2 -1.1zM-179.5 -71.5l2 -0.6 2.2 0.6 -0.2 2 -1.3 2 -1.7 1 -2 -0.9 -1 0.3 -1.5 -1.4zM167.6 -70.5l1.3 0 6.6 3.7 6.1 2.3 2.4 4 -0.5 3.5 -2.2 1.5 -3.8 1.1 -10 0.3 -3 -1.5 -3 -3.3 -2.9 -1.6 -3.3 -5 1.1 -3 3.1 0zM119.3 -66.5l2.2 -0.9 0.8 0.9 -1.8 4 -1.8 -2zM-4 -64.5l1.5 -0.6 0.5 0.6 -0.4 1 -1.1 0.1zM-81.7 -61.5l0.2 -1 1 0.6 0 1.4 -2 2.1 -0.4 -2.1zM84.3 -60.5l1.2 2.4 5 -0.5 1 -0.7 2 1.2 2 -0.3 0.8 0.9 -0.8 2.1 2 -2.4 0.2 1.3 1.8 2 2 0.3 2 1.4 1 -0.6 1 0.3 3 2.6 4 0.5 3.8 3.5 1.2 3.1 2 -0.9 1 1.8 1 0.2 1 3 -2 0.7 -1.1 2.1 2.1 0.4 0.4 3.6 -1.4 0.9 -1 -0.3 -2 0.8 -0.6 0.6 0.2 2 -0.6 0.7 -1 -0.6 -0.5 0.9 1.5 2.5 2 -1.2 2 0.4 1 -0.9 1 0 1 1.1 -1 0.9 -2 -0.4 -1 0.6 -0.4 6 0.4 0.9 2 -2.7 1 -0.8 1 0.4 1.7 4.2 -0.7 1.9 -4 -2.8 -4 0 -1.4 -4.1 -0.6 -0.8 -1.7 -0.2 -0.2 -2 1.1 -2 -1.4 0 0.1 2 -0.9 1.3 -3.6 -5.3 0.3 -2 -1.7 -0.5 -6 1.5 -0.8 -1 1.1 -1 -2.3 -2.3 -1 -2.1 -4 -1.1 -2 -1.4 -1 0.9 -2 -0.7 -1.6 0.7 0.6 1.6 1.4 0.4 -1.3 1 1.9 0.8 1 1.6 3 0.7 0.5 0.9 -0.5 1.7 -2 -2.1 -1 1.4 1 0.3 1 2.7 1 -1.9 1 -0.2 1 1.3 1 -0.5 1 -3.1 1 -0.5 0.9 0.9 -1.8 3 0.9 2 -1 1.1 -3 -1.3 -1.3 0.2 -0.6 1 1.9 0.7 1 -0.5 0.8 1.8 -1.8 1.3 -1 -1.2 -2 1.9 1 1.5 1 -0.5 1.2 1 -0.2 1.9 -2 -0.8 -0.7 0.9 2.2 1 -1.3 1 -0.2 1.3 -2.4 -4.3 0.7 -1 -0.6 -1 1.2 -1 -2.1 -3 -0.8 -0.3 -1 0.8 -1.6 -2.5 0.6 -0.8 3 0.6 0.9 -1.8 -0.9 -0.7 -1 0.4 -2.2 -0.7 0.6 -2 -2.4 -2.8 -1.6 -0.2 -0.9 -2 0 -3 1.2 -2 -1.7 -0.4 -1 1.9 -2 -0.6 -2 1.5 -2 -0.8 -0.6 0.4 -0.4 3.3 -2.4 -0.3 1.2 -1 -0.8 -1 -4 2.8 -2 -1.6 -3.6 -0.2 0.6 -2.6 -3 0.3 -0.7 -0.7 -0.8 -1 2.6 -1 0.7 -1 -1.8 -2.4 -1 1.9 -1 -0.5 0 -2 -1.7 2 0.7 2 -1.3 2 0.8 2 2.9 4 3.6 2.2 2 -0.8 0.5 0.6 0.8 1 -0.3 0.9 -2.5 0.1 2.3 3 -2.8 1.3 -1 2.7 -6 1 -1 1.7 -2 -0.9 -2 3.6 -4 -0.5 -0.5 -0.9 1.5 -2.6 2 1.6 1 -1 -3 -6.5 -2.4 -2.5 -0.5 -2 -2.9 -4 -0.5 -2 -3.5 -2 0.2 -1 1.4 -1 -0.2 -1 1.4 -2.5 1 1.2 6 0 1 3.1 1 -0.8 3 0.8 1.9 -3.8 -0.9 -1.6 -2.1 -0.4 2.1 -4 1 -0.2 1.7 1.2 -0.5 3 1.8 1 4 -7.7 2.5 -0.3 0.5 -0.8 1 1 3.4 -0.2 -1.2 -2 3.3 -4 1.5 -0.6 5 1.8zM84.5 -37.3l-1.2 1.8 1.2 0.8 0.6 -0.8zM56.5 -29.7l-2 1.1 -1 -0.5 -1.3 0.6 0.3 1.2 2 -0.1 1.8 0.9 -2 2 1.2 0.8 1 -0.8 3.1 0 -0.2 -1 -1.9 -0.2 -0.9 -0.8 1.2 -2zM61.5 -29.5l-0.9 1 0.9 0.7 1.2 -0.7zM49.5 -37.8l-1.1 1.3 1.1 0.5 1 -0.5zM63.5 -40.8l-0.9 0.3 0.4 1 2.5 1.2 1.3 -0.2 -0.5 -1zM68.5 -41.6l-0.9 2.1 0.9 1 1.1 -3zM142.8 -60.5l0.7 -0.7 1 0.7 -1 2.2 -1.3 -0.2zM-2.2 -58.5l0.7 -0.6 0.5 0.6 -0.5 0.8 -2 1.3 -0.6 -1.1 0.6 -0.6 1 0.3zM-104.8 -56.5l1.3 -0.2 0.6 1.2 -2.6 0.4zM144.8 -56.5l1.7 -0.6 4 2.3 0.7 2.3 -0.5 1 -2.2 0.5 -2 -1.2zM-7.6 -55.5l4.3 1 0.8 1.4 2.1 0.6 -1.1 0.2 -1 1.8 -3 1.7 -3.2 -1.7 -0.5 -1 0.7 -1.5 1.2 0.5 0.4 -1 -1 -1zM-88.5 -54.5l1 -0.7 1 0.7 0 1.3zM23.2 -53.5l2.5 0 -2.2 1.9zM14.3 -51.5l2.2 -0.3 1 1.4 2 -1.1 2.6 0 1.4 2.3 2 0.6 2 -1.7 1 0.8 -0.1 1 -1.9 1 0.8 1 -0.8 0.4 -4 0 -7.9 1.6 1.1 2 6.8 1.9 1 -2.8 3 0 7 2.7 2 3.2 3 1.9 1 -0.2 4 8.3 -1.7 2 0.7 0.6 2 0 1.3 1.4 -1.5 2 0.2 3.5 2 0.6 1 2.3 1 -0.9 2 0.2 1.1 1.3 -1.9 2 0 1 -2.2 0.6 -3 -3.3 -3 0.9 -1 -0.4 -0.9 -1.8 1.8 -2 -0.9 -1 -2 -0.3 -1.8 1.3 -0.1 1 1.4 1 0.6 2 1.5 1 -2.6 1.4 -1.6 -0.4 -0.4 -1.1 -1 0.1 -3 2.4 -1 -1.9 -3 0.7 -0.4 0.8 1 1 -2.6 -0.1 -1 -0.7 -4 0.2 -1 -0.8 -3 0.6 -2 -0.5 -1 1.7 -1 0.2 -1 -2.4 -1 0 -1 1.1 -1 0.3 -1 -0.7 -4 1.7 -1 -1.2 -2 1.4 -1.5 -0.8 2.8 -1 0.3 -1 -0.6 -0.5 -5 2 -1 -2.6 -1 1.7 -2 0.5 -2 -2.5 -3.4 -0.6 3.6 -3 -1.2 -1.4 -2 0.3 -0.8 -0.9 1.8 -2.1 -7.2 -3.9 -1.3 -4 0.6 -1 -0.3 -1 2.4 -2 0.5 -3 5.3 -3.8 5 1.5 0.6 -1.7 -1.8 -1 -1.8 1.7 -1 -1.7 1.8 -2 -0.1 -2 3.3 -3.4 1.8 4.4 -0.2 2 2.4 4.5 1.4 -0.5 0.6 -3 1 -0.4 4 2.5 -1 -3.1 -1.6 -2 1.6 -1.1 1 2.3 2 -0.9 1 -1.6 2 -0.7 -1 -4.2 2 -0.4 1 -1.4zM19.5 -32l-0.6 1.5 1.6 2 2 -0.3 1.5 -1.7 -0.5 -0.7 -2 0.8zM26.5 -24.7l-0.5 1.2 0.5 0.8 1.3 -1.8 -0.3 -0.6zM-12.5 -37.3l-0.8 0.8 0.5 1 2.7 1 -0.4 -2zM-8.5 -21.9l-0.7 0.4 1.8 4 -0.8 1 0.7 0.8 1.8 -0.8 0.5 -1 -1.3 -1 0.4 -3zM-6.5 -36.9l-0.2 2.4 1.7 0 0.5 -1.1zM4.5 -21.6l-0.9 1.1 1.9 1.8 0.4 -1.8zM11.5 -27.7l0 1.4 2 0.7 1.1 -0.9 -1.1 -1.6zM23.5 -26.2l-0.9 0.7 0.9 1.5 1 -1.5zM28.5 -34.8l-1 1.4 0 1.8 1.3 -0.9zM30.5 -24.8l-1 1.3 0 1.4 2 -1.4zM-4.5 -27.8l-0.8 1.3 1.8 1.2 1 0 1 -1zM28.5 -20.7l3 2.1 1 -0.3 0.9 -1.6 -2.9 -0.9zM32.5 -17.8l-0.3 2.3 1.3 0.6 0.9 -1.6zM-2.5 -13.7l-0.2 1.2 1.2 0.7 0.3 -1.7zM-0.3 -45.5l0.8 -0.7 1 0.5 0.2 2.2 -3.2 1.7 -1.6 -0.7 -0.3 -1 2.6 -1zM131.3 -45.5l0.2 -0.5 2 0.2 1.5 1.3 -0.5 1.5 -2 -1 -2 0.6 1 -1.1zM-120.2 -35.5l0.7 -0.5 1.8 1.5 -1 2 1.2 0.8 1 -1.8 2 0.2 0.5 0.8 -0.5 2 1.4 4 -1.4 1.9 -2 -0.2 -1 1.8 -1 -0.5 -0.2 -2 -2.8 -0.2 -1.4 -0.8 0.4 -2.9 2.3 -3.1zM-117.5 -31.1l-1.2 1.6 1.1 3 -0.8 1 0.9 0.4 0.7 -0.4 -0.5 -1 0.8 -1zM-108.9 -23.5l0.9 0 0 2 -1.5 0.5 -0.6 -0.5 1.4 -1zM-20 -20.5l0.5 -0.7 1 0.5 1 1.5 1 -1.6 1.4 1.3 0 1 -4.4 0.1zM-101 -14.5l0.5 -1 1 1 0 1.4 -1 0.2zM94.6 -12.5l0.9 -0.3 1 0.7 0 1.5zM-211.5 -11.5l42 -0.5 4 0.5 6 -0.6 19 1.4 12 -1.6 18 2.6 14 -0.5 2 -0.7 5 0.9 2.7 1.5 -1.3 2 0.8 2 -0.3 3 -3.9 2 -2 -1.9 -3 0.8 -3 -3.5 -9 -1.3 -14 1.7 -28 -0.8 -22 1.3 -8 -0.8 -16 -0.2 -6 0.8 -12 -0.4 -0.6 -2.7 1 -1 0.4 -3zM175.7 -11.5l2.8 -1 31 1 4 1.1 0.7 2.9 1 1 -0.1 2 -0.6 1.5 -2 0.2 -23 -0.7 -12 0.3 -2.7 -1.3 -1.2 -2 0.8 -4zM-43.7 -4.5l32.2 -0.6 1.9 0.6 0.7 1 -0.6 1.2 -2 1 -31 0.4 -2.8 -0.6 -0.5 -1 0.2 -1zM34.1 0.5l1.4 -0.9 1.6 0.9 0.5 1 -1.1 2.4 -2.7 -2.4zM-92.4 1.5l0.9 -1 0 3.5 -1.2 -0.5zM169.6 1.5l1.9 -0.2 7 1.6 2.8 1.6 4.2 4.4 2 -1.3 3 0.4 6 -1.1 7 0.6 6.5 5 -1.5 1.8 -3 -1 -6 2.6 -14 -2.4 -3 -2.7 -4 1.2 -5 -1.6 -6 1.5 -3 -0.9 -4 -2.6 -1.3 -1.9 0 -2 4.3 -2.2zM188.5 10.8l1 2.4 0.9 -0.7 -0.9 -1.6zM90.1 2.5l4.4 -0.7 3.7 0.7 0 1 -4.7 1.1 -3 -0.9zM-91.5 5.5l1 -0.2 0.3 1.2 -1.3 1zM-91.5 9.5l1 -0.1 1.3 1.1 -2.3 2.7 -1.1 -2.7zM8.2 12.5l3.3 -0.4 2 2 0.8 2.4 -0.4 7 1.2 4 1.4 1.7 1 -0.3 1.9 1.6 -2.9 0.2 -0.4 0.8 0.3 2 1.6 2 -0.3 4 1 1 1.8 5.8 3 0.8 6 -0.8 3.3 -1.8 5.7 -5 13 -1.7 4 1.1 2 3.8 1 -0.2 1 -2.5 3 3.5 1 -0.9 2 0.3 2 2.9 1 -0.5 7 0.9 4 -0.8 3 -2.2 4 1.5 0 -2.5 3.3 1.3 0.4 2 1.3 1.1 2 0.3 1 -1.4 2 0.3 7 -3.4 0 2.1 1 1.6 3 -2.9 1.8 -3.7 1.2 -0.1 2 -2.7 7 -3.3 3 1.1 3.2 0 3.6 2 1.5 6 -0.9 4 1.6 0.9 4 -1.6 3 0.1 1.2 -1.4 -1.4 -2 1.9 -5 -0.7 -0.2 -2 1.8 -1 -0.3 0 -1.3 -1 -0.8 -2 1.3 -1 -0.5 1.7 -3 1.3 0.4 4 -1.3 2 1.7 1 -0.6 0 -1.6 -3 0.1 -0.1 -0.7 4.1 -1.5 1 1 -0.2 -1.5 2.2 -1.5 3.2 -0.5 -2.4 -1 3.2 -2.6 3 0.1 1 1.4 0.5 -1.9 1.5 -0.6 0.9 1.6 -1.7 1 1.8 0.7 1 -0.3 1 1.6 0 -1.9 -1.7 -1.1 1.7 -0.4 1 0.7 1.9 -1.3 1.1 0.6 2 -1.4 2 1.4 1 -0.2 2.2 2.6 -0.8 1 -0.1 3 -1.3 0.4 -1 -2 -1.3 -0.4 2.6 -1 -0.3 -1.4 -5 -0.7 -1.7 2.1 1.1 3 -1.4 2 0.5 3 0.5 0.5 0 -1.5 2 -1.8 3 -0.3 1.1 1.1 -5.1 3.6 -2 0.1 0.2 1.3 2.1 2 -2.3 0.3 -0.2 1.7 -1.8 2.9 -1 0 -0.9 -1.9 1.6 -1 -0.1 -1 -1.3 0 -2.2 5 0.9 4.2 5 1.4 5 -1.9 5.8 -5.7 3.8 -5 1.8 -4 1.6 -1.5 3 0 2 2.1 2 0.1 1 1.1 5 1.4 2 -1.2 7 3.2 3.1 -2.2 0.8 -2 1.7 -1 -0.5 -4 0.9 -1.1 1 0 1 -1.5 -0.6 4.6 -1.2 1 -0.2 2 -3.5 7 0.1 1 -6 8 -0.1 1 -11.5 12.4 -1 0.8 -2 -1 -1 0.4 0.1 3.4 -8.1 7.6 -1 -0.1 -7 5.7 -5 1 -2 -1 -5 1.7 -2 -1.7 -1.3 1.8 -4.7 1.7 -8 1.1 -3 -0.4 -4 1.1 -7 -2.1 -6 -0.7 -10 1.2 -18 -1 -8 0.7 -6 -0.4 -10 2.4 -8 -0.5 -4.1 -1.1 -1.7 -1 -0.2 -0.9 -1 1.1 -5 0.6 -2 1.7 -3 -0.7 -10 1 -4 1 -1 0.9 -7 -0.5 -3 0.5 -2.9 -0.7 -4.5 -4 -0.5 -1 0.6 -3 -5.2 -2 0.3 -1 3.2 -1 -2.1 -1 0.7 -1 0 -3 -3.6 -2.7 -4 0.2 -2 1.4 -2 -0.6 -1 0.7 -2 -1 -1.6 2 -0.1 1 1.7 0.2 5 2.8 2 2.5 3.1 -0.5 -1.1 0.7 -1 2.2 -1 -0.7 -2 1.6 0.5 2.2 -0.6 1 -6.9 2 -7 0.2 -3 0.7 -1 1.6 -2 1 -3 -0.1 -6 2.2 -6 -1.7 -3 -2.5 -10 -0.7 -2.5 -1.7 0.9 -3 -1.4 -0.5 -3 0.7 -5 3.3 -1.4 1.5 -0.6 2.3 -7 1.4 -6 -1.8 -0.7 1.1 -1.3 0.4 -2 -1.9 -2.9 0.5 -0.2 -1 0.8 -1 -0.7 -0.5 -8 -0.1 -3 0.3 -2.5 1.3 -0.4 -1 -3 -2 -4.1 -0.7 -9 3.1 -7 0.7 -3 -1.3 -4 -0.2 -2 1.4 -9 1.1 0.5 -2.1 -0.5 -0.4 -4 -0.1 -3 0.7 -6 -2.9 -8 0.8 -5 -3.8 -1 0.1 -9.1 -7.4 0.1 -0.9 5 0.3 3.1 -2.4 -2.1 -2.5 -2 0.4 -3 -4.2 -1 0 -2 2.9 -2 0.9 -1 1.5 -12.2 -12 -0.1 -1 -5.1 -5 -0.1 -1 -6.1 -8 0 -1 -2.7 -5 0.1 -1 -1 -1 0.1 -2 -1.1 -1 -1.2 -5 -1 -1 0.3 -3 -0.9 -1 1.4 -1 1.6 -4.7 2 0.7 1.6 5 1 1 -0.7 3 1.2 2 -1.6 1 0.8 3 -1.3 1 7 2 4 0.2 0 2.1 3 -3 3 2.3 2 0.3 5 3.9 3 -0.4 1 1.6 1 -0.2 1 -1.6 3 -1.2 1 0.4 3 -0.8 1 -1.6 6 0.6 2 -1.2 3 -0.2 1 -1.2 4.5 2 0.5 2 1 0.7 1 -0.1 1 -1.3 2 0.3 2 -3.6 3 0.9 4 -0.8 1 1 4 -1.1 4 2.2 4 1.2 3 -1.5 2 0.4 11 -1.4 1.6 3.1 1.4 0.4 0.8 -0.4 -0.3 -2 0.8 -2 -1.4 -3 1 -3 2.5 -3 0.6 -3 -1 -2 1.8 -2 0.2 -2.5 4 -4.1 4 -0.7 -0.5 1.3 2.2 3 6.3 5 1.7 3 1.2 17 -1 7 2 9 -0.8 3 0.3 2 3.4 5 4.2 3.3 5 1.7 3 -0.7 1 0.4 0 1 -1.6 1.3 1.6 2.5 2 0.7 1.3 -1.2 0.4 -4 2.3 0.8 1.3 -2.8 2.7 -3 -1.1 -1 -1.3 2 -3.6 2.6 -2 -0.4 -3 0.7 -4 -2.1 -2.4 -2.8 1.9 -5 -0.6 -2 0.7 -4 -0.9 -2 1.7 -1 0.6 -1.5 4 -1.9 0.5 -1.6 -0.5 -2.3 2 -0.1 4 -3.8 1 0.1 1 5.7 1 1.6 2 1.3 4 1.1 4 2.5 3 0.7 1.1 -1.8 -1.4 -1 0.1 -1 0.9 -1 0.3 -3 2 -5.5 3 -0.1 2 -2.7 4 0.3 3 2.5 3 0.1 5 -1.7 3 2.4 2 -1.4 2 0.7 2 -0.3 1.7 -2.3 5.3 -2.5 4 1.9 1.6 -1.4 -0.2 -3 -2.3 -7 -0.5 -6 3.1 -7zM27.5 72.2l-2.3 2.3 0.2 2 1.1 1.2 5 -1 2.6 -3.2 -2.6 -1.3zM44.5 60.4l-2 0.9 -4 -0.1 -2.2 1.3 -2.1 3 -0.4 2 1.3 4 4.4 2.4 1 -0.2 3 1.2 3 -1.1 -1 -1.1 -2.4 -0.2 -0.3 -5 3.7 -3 1 -1.7 1 -0.1 4 5.1 3.4 0.7 -0.4 2 0.8 2 -0.8 2 1 1 4 -1.4 2 0.1 0.6 -0.7 0.8 -3 -0.9 -2 -1.4 -1 -4.1 -0.5 -1.9 -2.5 0.3 -1 -0.8 -1 -1.6 -1 -3 -0.4 -2 1.3zM66.5 48.9l-0.8 0.6 0.3 2 -0.6 2 2.1 1 1.3 -1 0.1 -3zM71.5 65.4l-0.8 1.1 1.8 0.7 0.6 -0.7 -0.4 -1zM129.5 63.4l-0.5 1.1 0.4 1 3.2 2 0.9 -1 0 -1.6 -1.7 -1.4zM141.5 36l-0.8 1.5 0.8 1.4 0.3 -1.4 1.3 -1 -0.6 -0.8zM147.5 67.5l-0.2 3 -1.2 3 1.4 1.5 3 1.4 3 -0.7 1 -1 1 -0.1 1 1.2 3 -0.4 0 -1.9 1.8 -2 0.2 -1.3 2 0 0.5 -0.7 -0.1 -1 -1.4 -0.7 -3.5 1.7 -0.5 1.4 -1 -0.3 -0.1 -1.1 -2.9 -0.3 -3 -2.3zM152.5 31.4l-0.9 0.1 -0.1 1 2 2.3 1.7 -1.3zM156.5 30.3l-0.4 0.2 2.4 2.3 -0.1 -2.3zM157.5 55.5l-0.5 2 0.5 1.3 3 -1.1 1.5 -2.2 -1.5 -0.9zM194.5 46.7l-0.7 2.8 -2.4 3 -0.9 2.3 -2 -0.5 -1 0.5 -9.4 5.7 -0.9 1 0.3 1.1 1 0.4 3 -0.8 15.5 -9.7 0.5 -1 -1.2 -1zM-195.5 41.1l-0.9 0.4 -0.3 2 1.2 0.8 0.5 -0.8zM-193.5 44.2l0 1.5 1 1 0.6 -2.2zM-145.5 52.5l-1 2.1 -2.7 0.9 2 5 -0.5 5 2.2 0.4 1.4 1.6 1.8 3 0.1 3 0.7 1.1 3 0.6 2 -0.6 1.4 -1.1 -0.9 -2 0.6 -1 -1.1 -1.2 -0.8 -2.8 -5.6 -3 1.4 -5 -1.2 -2 1.5 -1 0.1 -1zM-120.5 66.2l-0.5 1.3 2 1 0.8 -1 -0.4 -1 -0.9 -0.6zM-104.5 73.2l-2.2 1.3 3.2 1.7 1.4 -0.7 1.1 -2 -1.5 -0.9zM-93.5 65.9l-1.3 1.6 0.3 3 -1.8 1 0.5 1 2.3 0.7 1.2 -0.7 0.4 -3 1.4 0.7 1.1 -0.7 -1.1 -2.8 -2 -1zM-61.5 69.1l-0.3 0.4 1.3 1.5 1.6 -0.5 0.3 -1 -0.9 -0.7zM-39.5 57.2l-1.4 1.3 0 1 1.9 2 -1.2 1 0.7 2.3 3.2 -1.3 0.7 -1 -0.9 -4zM-23.5 62.5l1 2.8 1.8 -1.8zM141.5 40.8l-0.5 2.7 1.5 -0.1 0.8 -0.9 -0.3 -1 -0.5 -0.9zM156.5 34.1l-2 1.9 -4.7 1.5 3.7 1 3 -1.6 1 0.9 0.5 -1.3zM-100.9 92.5l1.1 1 -0.7 2.5 -1.9 -2.5zM112.4 95.5l2.1 -0.1 1 0.7 0 2.7 -2 -0.4 -1.4 -1.9zM-104 96.5l1.5 0 2 1.4 0.9 -0.4 -0.4 -1 0.5 -0.5 -0.4 3.5 -1.6 1 -3 -0.1 -0.9 -0.9zM-77.1 96.5l0.6 -0.8 1.4 3.8 -0.4 0.9 -1 0 0.6 1.1 -0.6 0.5 -1 -0.1 -1.1 -1.4 0 -2zM-66 101.5l2.3 0 0.2 1.3 -3 0.8zM92.4 101.5l1.1 -0.1 1.6 4.1 1.5 1 1.9 0.7 4 -0.2 0.7 0.5 -0.3 1 -17.1 0 -0.6 -2 2.3 -0.4 2.6 -1.6zM-101.9 102.5l1.4 -0.3 0.3 1.3 -0.9 0zM-43.8 102.5l1.3 -0.5 2.4 0.5 1.9 2 0.2 2 -1.5 0.3 -1 1.6 -5 -1.2 -2.8 1.3 -3.2 0.1 -2.3 -1.1 -0.7 -3 1 -0.7 4 0.8 2 -1.9 2 0.4zM-18.4 102.5l1.9 -0.5 0.8 2.5 -2.8 1.7 -1.4 -1.7zM-88.9 103.5l2.4 -0.7 1.1 0.7 0.9 3 -1.9 2 -3.4 0 -0.8 -1 1.8 -3zM70.4 103.5l2.1 0.5 4.5 3.5 -1.3 1 -2.2 0.1 -4 -1 -0.2 -2.1zM-6 104.5l2.5 0.5 2 -0.5 1 1 -0.7 1 1.6 1 0.3 1 -8.1 0 -0.7 -1zM-101.2 106.5l1.3 0 0.7 1 -2 0z"/><path fill="#f7b799" d="M24.3 -101.5l3.2 0 1.5 1 0.4 1 -0.9 2.9 -3 0.5 -2 -1.8 -1 -0.3 -1 0.8 -3 -1.3 -0.8 0.2 -1.2 2.3 -1 -0.8 -1 0.3 -0.3 -0.8 0.7 -1 3.3 -2zM92.6 -100.5l3.7 0 -0.8 1.9 -2 -0.1zM112.3 -100.5l6.2 -0.3 2.5 1.3 0.4 1 -0.9 1 -2 -0.8 -4.9 -0.2 -1.3 -1zM-4.7 -95.5l2.2 -0.2 2 2.3 2 0.2 4 2.7 -1 1.4 -1 0.2 -1 -0.9 -3 3.4 -3 -1.1 -2 0.7 -1 -0.3 -1.4 -1.4 0.4 -1.1 1.1 0.1 -0.5 -4zM-51.4 -87.5l1.9 -0.2 0.1 1.2 -2.1 0.9zM-118.7 -75.5l1.2 -0.9 2.9 1.9 -2 3 1.7 2 -0.1 2 -1.5 1.5 1.7 0.5 -3.1 4 0.3 2 -3.1 3 -0.8 1.9 -2 -0.5 -0.4 3.6 -1 1 -1.6 0.8 -1 -1 -3 0.7 -1.7 1.5 1.2 2 -0.7 3 2.2 -1.2 1.5 4.2 0.3 3 -0.8 1.8 -2 -2.3 -0.3 0.5 1.1 2 -0.3 4 -2.7 4 -3.8 3.5 -3 1.5 -3 -0.5 -1.9 -1.5 -1.1 -3 3.2 -6 1.5 -5 4.3 -4.1 4 -1.9 0.7 -1 -1.4 -2 0.5 -1 -1 -3 0.5 -1 1.7 0 1 -1 -1.9 -1 0.2 -2 -0.7 -1 1.4 -0.2 2 -2.1 1 -0.1 2 2.6 2 -0.9 1.1 0.7 0.1 -1 -1.2 -1.3 -3 0 -1.7 -2.7 -0.3 -1 2.7 -4 -0.7 -0.8 -1.7 -0.2 1.7 -1.7 2 0.3 2 -2 2 0.2 1 -1.4 2 0.6 0.4 -1 -1.1 -1zM-119.5 -65l-0.5 0.5 1.5 1.1 0.5 -1.1zM98.2 -74.5l0.3 -0.5 1 0.3 1.8 1.2 -0.8 1.2 0 2 2 -2.2 0.2 -1 2.8 -1.1 0.9 1.1 -0.3 1 1.4 0.6 1 -0.9 3 0.2 2 -1.1 2 0.1 3.8 4.1 -2.8 1.4 0 2.4 -1.2 0.2 -0.8 2 -1 0.6 -0.5 -2.6 0.6 -1 -1.1 -0.3 -2 1 -1 1.5 -2 -1.6 -1 0.1 -0.5 0.3 0.7 1 -0.2 1.5 -5 -0.1 -1 -1.5 -1 1.5 -0.1 -2.4 -1.9 -1.6 -3 0.7 -1 -2.1 2.6 -2 0.4 -1.2 1.8 -0.8zM109.5 -70.6l-2.7 3.1 0.7 0.6 3.6 -2.6zM112.5 -69.6l0 1.8 1.7 -1.7zM94.4 -73.5l1.3 0 -0.1 1 -1.8 0zM164.9 -65.5l6.6 -1 2 3.9 0.6 -1.9 1.4 0 5.9 5 -0.4 1 -1.5 1 -4 -1 0 -1 -2.6 -1 1.1 -1 -0.5 -1 -2 0.8 -1 1.5 -2 -1 -0.8 0.7 0.6 2 -0.8 1 -2 -1.1 -2.4 -2.9zM83.4 -58.5l2.1 1.5 4 -0.5 5 3.1 3 -0.3 1.3 1.2 6.7 1.4 2 1.8 6 2 3.2 4.8 2.6 1 0.8 3 -1.4 3 1.7 1 0.3 3 -2.2 -1.3 -3 2.7 -1.1 -1.4 -1.9 -0.5 -3 0.9 -3 -0.5 -2 0.6 -1.8 -2.5 -3.2 -0.3 -2 -2.2 -7 -2.6 -1 0.6 -2 -0.5 0 -2 -2 0.4 -2.5 -2.4 -0.5 -1.5 -2 -0.8 -3 1.9 -2 -1.4 0.2 2.8 2.8 -0.7 0.6 0.7 -0.1 2 -2.5 1.1 -1.3 -0.1 -0.8 -1 1.1 -0.3 0 -1.6 -1 0.4 -2 -2 -1 2.3 -3 -1.4 -0.8 0.6 -0.2 2 -1.3 0 -0.7 -0.8 0.9 -1.2 -0.9 -1.6 -0.6 1.6 -1.4 0.8 -1.5 -1.8 1 -2 -0.5 -1 -1 1.4 -1.9 -0.4 -0.1 -1 1.8 -2 -0.1 -1 1.3 -0.4 3 0.6 0.8 -1.2 -0.8 -1 0.9 -1 2.1 -0.1 0.6 0.1 0.1 3 1.3 1.4 4 0 0.4 -1.4 -3.4 -1.2 -1.7 -1.8 1.6 -2 7.1 -3 3 0.6zM70.2 -57.5l1.2 0 0.5 1 -1.4 1 -1 -1zM-121.8 -53.5l0.3 -0.9 1.2 0.9 -1.2 1.5zM62.9 -52.5l1.4 0 0.2 1 -1 0.5 -1.7 -0.5zM-128.5 -48.5l1 -0.2 1 1.9 -2 -0.5zM13.3 -48.5l1.2 -0.9 3.2 0.9 -1.2 1.6 -2 0.1zM-126.4 -46.5l1.9 -0.6 0.9 0.6 -0.9 2.2 -1 -0.2zM-7.1 -43.5l1.9 0 0.3 1 -0.6 1.2 -2.5 -0.2zM8.6 -43.5l2.5 0 -0.6 4.6 -1.1 -0.6 0.5 -2zM13 -42.5l1.5 -0.7 1 1.7 1.6 1 -1.4 2 1.3 2 -2.7 2 0.2 0.6 1 0.2 1 -1.6 1 -0.2 0.9 -2 -1 -1 0.1 -2 1 -0.5 2 0.5 -1 4 1 0.6 2 0.1 0.6 -0.7 -0.9 -2 0.3 -1.2 2 1.7 1 -0.9 2.3 2.4 0.3 1 -0.9 1 -0.3 2 -1.4 1.2 -1 0.3 -0.6 -1.5 -1.4 -0.7 -0.6 0.7 0.9 1 -1.3 0.5 -2 -2.2 -0.5 0.7 -1.1 4 2.6 3.2 1.2 -2.2 1.8 -0.6 1 -2.3 2 0.2 3 -2.7 1 0.5 1 -0.6 0 -1.1 -2 -0.5 -0.5 -0.9 0.5 -0.8 2 0.1 1.6 -1.3 -0.1 -2 0.5 -0.1 0.1 1.1 3.3 3 -0.7 2 -1.3 1 -0.2 1 0.8 0.9 1 -0.3 1 -2 3 -0.3 0.3 3.7 1.8 1 0 1 -1.1 1 -1 0.7 -3 -3.5 -2 -0.5 -1 1.9 -1.5 0.4 1.5 0.7 2 -0.3 0.6 0.6 -1.9 2 1.8 4 -1.5 0.5 0 1.7 -1 0.5 -1.2 -0.7 0.2 -1 1.6 -1 -1.5 -2 -2.1 0.7 -0.3 -0.7 1.4 -1 -1.2 -3 0.6 -1 -0.5 -1.2 -1.2 0.2 -0.5 3 -1.3 2.3 -1.4 -3.3 -3.6 -0.4 -1.7 1.4 -0.3 1 0.9 1 -2.9 2.6 -1 -0.1 0.6 1.5 -2.2 1 1.6 1.8 1 -0.4 3 0.7 0.7 -5.1 1.3 -2.3 1.2 1.3 -1.5 1 3.3 0.8 0.6 1.2 2.7 2 -1.3 1 2 0.6 0.8 1.4 -1.8 0 -1 2.3 -4 -0.7 -2 2 -4 -2.3 -0.8 1.7 -2.2 0.6 -1.5 -0.6 -0.5 -1.9 -1.2 0.9 0.6 1 -0.4 1.5 -3.2 -2.5 0.2 -1 -1 -0.6 -0.7 1.6 0.6 1 -0.9 0.7 -1 -0.8 -3 1.6 -1 -0.5 0 -2 -1.4 -2 1.3 -3 -0.9 -1.2 -3 -0.5 -2 -1.2 -2 1.8 -1 -0.6 0 -2 1 -1.3 -1 -0.9 -2 1 -2 -0.5 -1 0.5 -0.2 -2.1 -1 -1 1.5 -1 -1.3 -1.4 -5 -1.4 -1 0.3 -0.1 1.5 -0.9 0.8 -0.6 -0.8 1 -2 -0.6 -1 1.2 -0.4 2.3 -2.6 -1.4 -1 1.1 -1.1 3.3 1.1 1.7 1.4 2 -1.7 2 1.1 2 -0.2 1.4 -1.6 -0.3 -2 0.9 -0.5 0.6 3.5 2.4 1.9 1 -0.3 1 -1.6 -2.6 -2 0.6 -0.7 2 0.8 2 -1.5 1 0.8 1 -2.4 1 -0.3 1 0.5 1 1.9 3 -2 2 0.1 0 -1 -1 0.6 -1 -0.8zM-9.5 -31.8l0 2.4 1.7 -2.1zM1.5 -24.9l-4 2.4 2 1.2 1 -1.7 1 3.1 2 -0.1 0.7 1.5 -0.3 1 0.6 0.3 2.5 -1.3 -0.4 -3 -1.1 -0.8 -3 0.4 -0.5 -1.6 0.5 -1.7zM7.5 -35.4l-0.6 0.9 0.6 1.4 2.3 0.6 0.5 -1zM12.5 -28.8l-2.6 1.3 -0.1 1 2.8 1 0.9 1.5 1 -1.7 2.3 -0.8 -1.3 -0.9 0 -1.1 -1 0.4zM13.5 -31.6l-0.8 1.1 1.8 0.7 0 -1.7zM-5.5 -29.8l-1.2 3.3 -3.8 2 1 0.8 3 -0.7 1 -1.4 2 1.5 2.3 -1.2 0.7 -2.6 -1.9 -0.4 -0.1 -1.2 -1 -0.7 -1 1.5zM5.5 -16.2l-0.7 0.7 0.7 1.3 2.2 -0.3 -0.5 -1zM8.5 -27l-2 2.3 -2 0 0 1 2 -0.7 3 2.1 0.7 -1.2 -0.8 -1 -0.1 -2zM15.5 -21.9l-2.5 2.4 0.5 0.5 3 0.1 0 -2.2zM9.5 -20.9l-1 2.6 -1.4 0.8 0.4 1.5 2.5 -1.5 0.6 -2zM41.9 -42.5l2.6 0.2 2 -0.7 0.9 0.5 -0.9 1.5 -2 -0.2 -0.8 0.7 0.1 1 -0.9 1 0.6 1.2 1 -1.1 3 -0.7 1 0.6 -1 1.5 -2 0.1 -0.7 1.4 0.7 1.7 1 0 2 -1.3 1.7 0.6 -0.6 3 1.7 2 -0.1 1 -2.7 3.3 -0.1 -2.3 -1.9 -5.3 -1 0.3 -2 -0.9 -1.4 -2.1 0.1 -2 -2.1 -2 0 -1zM53.8 -42.5l0.7 -0.6 1 0.5 0.3 1.1 -1.3 0.7zM24.3 -41.5l0.2 -0.5 1.3 0.5 -0.3 1.4 -1.4 -0.4zM49.8 -39.5l0.7 -0.4 2.8 2.4 -1.5 1 -0.3 1.5 -0.3 -2.5zM54.2 -36.5l1.2 0 1.3 2 -0.1 1 -1.7 1 1 2 -1.4 1 -2.6 -1 1.6 -1zM109.2 -29.5l1.3 -0.5 0.3 0.5 -0.3 3.3zM-120.4 -27.5l0.9 -0.9 0.6 1.9 -1.2 0zM-16.3 -26.5l0.8 -0.6 1.4 0.6 -0.4 0.9 -1 0.2zM51.8 -25.5l0.7 -0.8 1 0.7 0.3 2.1 -0.5 1 -1.8 0.6 -1 -0.6zM114 -24.5l0.5 -0.6 1 0.3 0.1 1.3 -1.1 -0.1zM-15.1 -23.5l1.6 -0.8 1.5 0.8 0.3 1 -1.8 0.4zM37 -23.5l0.5 -0.7 2 0 1 0.8 0 1.9 1 0.6 1.3 -0.6 0.6 -2 1.1 -0.1 -1.8 5.1 -3.1 -1zM20.1 -20.5l1.2 1 -0.8 1.6 -0.9 -1.6zM-11.6 -19.5l2.1 -0.7 0.1 1.7 -1.1 -0.6 -1.1 0.6zM-1.8 -18.5l0.3 -0.4 2 1.1 0.6 1.3 -1.6 2.4 -1.4 -1.4zM-6.9 -15.5l1.4 -0.6 3 1.6 -3 1.1 -1 1.9 -3.6 -3zM33.7 -14.5l0.8 -0.5 2 0.5 1 0.8 0.2 1.2 -1.2 0.2 -1 -1 -3 1.2 0 -2.3zM-207.2 -10.5l48.7 -0.5 18 1.2 11 -1.3 8 0.8 3 2.5 2 -1 3.6 1.3 -1.6 1.3 -11 1.3 -29 -0.3 -17 0.9 -25 -0.7 -6 0.6 -10 -1.1 -0.6 -2 1.2 -2zM177.2 -10.5l4.3 -0.7 28 0.8 4 2.1 1.1 2.8 -2.1 1.1 -5 0.2 -28 0 -2 -0.6 -1.4 -1.7 -0.5 -2zM-97.5 -9.5l3 -0.6 2 1.3 2 -0.8 1.8 1.1 0.6 4 -1 1 0.4 2 -2.8 -0.3 -1 -1.1 -3 1.5 -1 -0.4 -2 -3.4 -7 -1.2 -1.7 -1.1 1.7 -0.9 2 0.5 2 -1.3zM-44.3 -3.5l2.8 -0.6 25 -0.1 6.1 0.7 -0.6 1 -1.5 0.5 -19 -0.5 -10 1.1 -2 -0.2 -1 -0.9zM35 0.5l1.5 0.1 0.5 0.9 -0.5 0.7 -1 0.2 -0.8 -0.9zM168.8 2.5l2.7 -0.3 5 1 3.9 2.3 0.3 1 -2.3 3 -10.9 0.9 -6 -2.9 -0.6 -2 2.6 -2.5zM193.3 9.5l5.2 -0.5 3 0.6 1.3 0.9 -0.1 1 -3.1 2 -5.1 -0.6 -2.2 -1.4zM8.7 15.5l2.8 0.1 1.5 1.9 0.5 6 2 7 -2 6.5 -3 1.9 -1.3 -0.4 -2.4 -3 -0.6 -4 -2.7 -4 1.5 -8zM-93.4 17.5l1.9 -0.1 7 5.6 2.4 3.5 0.9 20 -1.3 3.5 -4 -0.2 -0.5 0.7 0.5 1.8 1 0.7 3 -0.1 0.5 1.6 -0.5 1.2 -6 -1.2 -3.3 -2 -0.9 -3 1 -3 -0.4 -1 -2.6 -4 -3.2 -3 -1.8 -5 1.5 -3 0.5 -7 1 -3zM147 29.5l1.5 0.3 0.5 0.7 -0.5 1.7 2 0.4 0.7 1.9 -3.5 3 0.8 1.4 4.7 0.6 -0.7 2.4 -1 0.9 -2 -1.1 -3.5 -0.2 1.1 -3 -0.6 -0.8 -1 0.5 -0.2 -0.7 1.2 -0.4 0.1 -1.6 -1.1 0.5 -2.1 -1.5 2.5 -1 -0.1 -3zM119 36.5l3.5 0 2.8 2 0.5 2 -0.9 2 0.6 0.9 2 0.1 0.8 1 0 2 2.2 2.5 4 -0.4 1.7 -1.1 2.3 -0.3 3 -2.5 4 -1.5 5 0.9 2 3 2 0.3 1.3 6.1 -5.6 6 -2.7 1.6 -2 -0.6 -2 -4.6 -3 -0.8 -3.6 1.4 -2.4 2 -4 0.6 -1.7 -0.6 -1.5 -3 0.8 -3 -0.6 -1 -1 -0.4 -3 1.2 -2.3 -2.8 -0.7 -3.5 -2 0 -3.7 -3.5 -0.7 -2 0.6 -1zM159.4 36.5l1.1 -0.5 0.3 0.5 -1.3 2.3zM154.6 38.5l1.9 0 -1 1.4 -1 -0.4zM154.2 42.5l0.3 -0.4 1.6 1.4 -2.6 0.5 -0.3 -0.5zM-129.6 45.5l0.1 -0.6 1.7 0.6 2.3 2 1 -0.2 1 7.1 2 -1.1 2.9 2.2 -2.3 1 -1 1 0.4 1 -2 1.4 -2 -1.4 -1 -2.2 -2.2 0.2 -1.7 -2 -0.1 -2 -1 -1.3 -3 -0.2 -0.3 -0.5 0.3 -2 2 -2.8 1 0.7zM38.2 45.5l1.3 -0.6 4 3 0 2.7 -3 1.8 0 -1.9 -3.2 -1 -0.6 -2zM-160.9 47.5l1.4 -0.9 1.7 0.9 -0.7 1.4 -1 0zM-1.9 47.5l0.4 -0.8 0.5 2.8 -0.5 1.1 -1 0.3 -1.1 -1.4zM11.5 47.5l1 1.7 1 0.2 1.9 -1.9 2.1 -0.7 2 1.4 1 1.9 1.1 0.4 -0.1 2.5 -2.8 0.5 0.3 2 1.7 3 -0.2 2.3 -4 0.2 -1.4 -2.5 -1.6 -1.2 -1 0.3 -0.9 -1.1 -0.1 -2.5 -1.8 -2.5 0.4 -2 -0.8 -1zM-183.8 51.5l1.3 -1 2.2 1 0 3 -1.2 -0.1 -2 -1.6zM-170.8 51.5l1.3 -0.9 1 2.7 1 -0.9 0.3 1.1 -3.3 1.2 -0.8 -1.2zM-63.1 52.5l1.6 -0.6 0.2 1.6 -2.2 0.2 -1.3 1.8 -2.8 1 1.1 -2.8 3 -0.5zM-3.2 52.5l0.7 -0.4 1 0.7 0 1.4 -2 0 -0.5 -0.7zM84.2 52.5l0.3 -0.6 1 0.2 1 2.1 2 -0.5 0.6 1.8 -1.6 2.7 -3 -0.6 0 -1.8 -3.4 -0.3 2.4 -1.1zM-4.7 56.5l3.6 2 -1.9 2 -0.5 3 -2 -1.1 -1 0.3 -0.8 -1.2 -0.3 -3 2.6 -1zM-161 58.5l0.7 0 -0.2 1.3 -2 0.4 -1.8 -0.7zM-58.7 58.5l4.2 -0.9 3 0.1 2 1.8 0.2 2 -1.2 1.2 -8 -0.5 -1.5 -1.7zM122.2 59.5l1.3 -0.7 1.1 0.7 -1.1 1.1zM-159.3 60.5l1.2 0 -0.4 1.4 -1 0.1zM-158.1 68.5l0.6 -0.6 2.1 1.6 -0.9 2 1.8 5 -2.6 3 -1.4 0.2 -2 -2.2 0 -1 1 -2.3 2 -0.7zM-119 79.5l2.5 -0.5 3 2.3 0.2 1.2 -0.3 1 -2.2 1 -1.7 2 -3 0 -2.1 -1 2.4 -1zM39.4 80.5l1.1 -0.2 0.7 1.2 -1.7 3.1 -0.9 -2.1zM-28.3 82.5l0.8 -0.7 3 2.1 0.9 1.6 -0.7 1 -2.3 1 -3.9 -0.4 -1.2 -1.6 1.2 -1.1 1 0z"/><path fill="#e48066" d="M-117.6 -72.5l1.1 2.2 1.1 0.8 -2.1 3.2 -3 0.6 0 1.5 1.5 1.7 -1.6 1 -0.3 1 1.8 1 -2.4 3.7 -1.4 -0.7 0.5 -1 -1 -2 1.2 -3 -1.1 -2 -0.6 0 -0.6 3.5 -2 0.4 -1 -0.1 -1.2 -2.8 2.4 -3 0.1 -2 0.7 -1 2 -1.5 2 0.1 1 -1.5 2 0.7zM-123.5 -69.6l-0.1 2.1 -0.9 1.3 2 0 1.2 -1.3 -0.2 -1.4zM112.6 -72.5l2.9 -0.6 1 1.6 -5 1.5 -1 -0.9 -2 -0.2 -0.4 1.6 -2 2 1.1 1 -3.7 2 -4 -1.5 -2 -2.2 -3 0.8 -0.4 -1.1 5.4 -4 1 3.2 1.5 -2.2 1.5 -0.8 4 1.2 1 -1 3 0.4zM101.5 -69.1l-0.2 1.6 1.2 0.9 1.1 -0.9zM110.3 -68.5l1.2 0.6 0 1.5 -1.6 -1.1zM113.9 -68.5l0.6 -0.5 0.8 0.5 -0.1 1 1.3 1 -1.7 0zM107.6 -66.5l0.9 -0.6 0.9 1.6 -0.9 0.3zM-129.7 -58.5l1.2 -0.7 0.9 1.7 0 2 -0.9 1.4 -1 0.1 -1.6 -1.5zM-125.1 -57.5l1 0 0.4 1 -2.8 1 1.7 1 0.3 2.6 -2 1.6 -0.4 -6.2zM86.4 -56.5l0.7 2 3.4 -1.4 4 2 3 0.2 1 1.9 1 -0.7 6 0.9 2 2.1 2 0.2 1 1.4 2.8 0.4 0 1 1.2 0.3 2.7 4.7 0.4 2 -1.1 1.2 2 0.8 -1 1 -3 0.7 -1 1.2 -5 1.8 -4 -1.2 -8 -4.4 -1 0.1 -7 -2.7 -0.9 -1.5 -2.1 0.1 -2.5 -3.1 -3.5 -1.6 -1 0.6 0.3 1 -1.3 0.9 -1.8 -3.9 0.2 -1 1.8 -1 -1.2 -0.9 -2 0.6 -1 -0.7 -0.5 -2 2.5 -2.1 2 1.3 1 -1.7 2 1.2 2 -0.9 3 1.9 1 -0.7zM-132.7 -51.5l4.7 0 -3.5 1.1 -1 -0.1zM66.7 -49.5l0.8 -0.9 2.2 1.9 0.8 2.2 0.9 -1.2 1.4 0 -0.7 3 -1.6 1.6 -3 -0.8 -5.6 -3.8 0.6 -1.5 2 0.3zM63 -44.5l0.5 -0.8 1.3 0.8 -1.3 2.1 -0.8 -1.1zM-134.2 -42.5l1.7 0.3 1 2.2 1 -2.4 1 0.1 1.2 4.8 -0.2 0.5 -1 -0.8 -1 -1.7 -1 2 1.5 3 -1.5 4 -4 4.4 -3 1.6 -2 -0.2 -1.5 -1.8 -0.4 -2 1.8 -7 1.4 -3zM6.7 -38.5l0.8 -0.5 0.4 0.5 1.6 3 -1 0.2 -2.2 -1.2zM3.4 -36.5l3.4 3 -0.3 1.4 -1.7 0.6 0.3 2 -0.6 1.8 1 -0.7 2.5 0.9 -0.5 1.2 -3 0.8 -1 1 -0.1 -3 -1.9 -0.5 -0.7 0.5 0.7 2 -1 0.4 -0.8 -0.4 -0.1 -1 0.9 -2 -0.7 -2 0.7 -0.6 2 1.2 1.9 -0.6 -2.5 -2 1 -2 -1.2 -1zM9.7 -36.5l0.8 -0.2 0.8 1.2 -0.3 1 -0.9 0 -0.6 -1zM24.3 -36.5l0.5 1 -1 1 2.5 1 0.2 0.8 -1 0.8 -3 -2.4 -1 0.7 -0.9 -0.9 1.9 -0.2zM33.2 -36.5l1.3 0 0.8 1 -0.8 2.5 -2.4 -1.5zM42.7 -35.5l0.8 -0.6 1.4 2.6 -1.4 -0.6zM-3.5 -34.5l1 -0.3 0.6 1.3 -1.6 0.1zM-14.3 -33.5l1.8 -0.3 0.7 1.3 -1.7 0.2 -0.7 0.8 0.1 2 -1.4 0 -1.3 -1zM-8.9 -33.5l1.4 -0.2 0.7 1.2 -0.7 0.6 -1.5 -0.6zM17.2 -32.5l0.3 -0.7 0.8 1.7 -0.8 2.2 -1 0.5 -1 -1.7zM11.3 -31.5l0.2 -1 0.9 3 -0.9 0.8 -0.6 -0.8zM29.2 -31.5l3.3 -0.5 1 2.3 0.8 0.2 -1.8 -0.3 -4 1.3 0.8 1 -0.8 1.6 -1 -1.4 -3 -0.6 0 -0.9zM37.2 -31.5l2.3 -0.8 0.9 0.8 -0.9 2.6 -2.3 -1.6zM6.2 -30.5l2.3 -0.9 0.9 0.9 -0.2 1 -0.7 0.7 -2 -0.4zM-8.6 -29.5l1.1 -0.7 0.7 1.7 -2.7 2.1 -1.6 -2.1zM15.6 -24.5l0.9 -0.4 1 1.3 -1 1.1zM2.6 -23.5l0.9 -1 0.8 2 -1.5 0zM24.1 -20.5l1.2 1 0.2 1 1 -1.3 2.3 2.3 -2.3 0.3 -0.7 1.7 0.7 1.6 2 -2.3 1.1 1.7 -0.3 1 -0.8 0.5 -3 -0.4 -2 1.7 -2.5 -1.8 -1.5 -0.1 -3 2.1 -1.2 -1 1.7 -1 -0.1 -1 -1.4 -0.7 -3 2.6 -1 0 -0.3 -1.9 0.8 -2 -0.5 -2.1 1 -0.1 1 1.4 3 -0.5 1 1.6 5 0.5 1.5 -2.8zM9.1 -16.5l1.5 0 -0.4 1 -1.7 0.7 -0.5 -0.7zM-5.7 -15.5l1.5 1 -2.3 1.2 -0.4 -1.2zM5.6 -13.5l2.5 0 -1.7 2 -1.9 0.6 0 -1.6zM-206.2 -9.5l5.7 -0.6 43 0 11 0.9 4 0.7 3 1.3 0.7 -1.3 2.3 -1 6 -0.6 4 0.4 2.8 1.2 -1.8 2.2 -6 0.4 -13 -0.6 -27 1.4 -24 -0.7 -7 0.5 -6.1 -1.2 -0.5 -1zM178.4 -9.5l3.1 -0.5 8 1 5 -0.7 1.5 0.2 0.5 1 1 0.3 3 -1 3 1.6 2 -0.9 0.6 1 -0.5 1 -1.1 0.2 -1 -1 -1 1.3 -3 -1 -2 1.6 -5 -0.9 -4 0.7 -4 -0.6 -4 1 -2.4 -1.3zM-96.9 -8.5l2.4 -0.9 1.4 0.9 0.5 4 -1.9 2.3 -1.7 -0.3 -1 -2 -0.2 -3zM-91.2 -8.5l0.7 -0.5 1 0.8 0.5 3.7 -2.5 1.2 -0.9 -2.2 1.1 -1zM208.2 -8.5l2.4 2 -3 0 -0.7 -1zM167.6 3.5l3.9 -0.5 2.9 0.5 4.1 1.9 0.2 1.1 -1.9 2 -2.3 1 -3 -0.6 -3 0.4 -2 -1.1 -2 0.1 -1.7 -2.8 0.3 -1zM8.9 18.5l2.6 -0.3 1 1.2 0.4 2.1 0.7 8 -1.1 3.3 -1 0.7 -3 -1.8 -2.1 -4.2 0.6 -6zM-92.1 19.5l1.6 -0.3 6 4.2 2 2.8 1 18.3 -1 1 -2 -1.4 -7 -2.2 -4.4 -6.4 -0.4 -3 0.9 -9zM149 33.5l0.8 0 -1.3 1.8 -1.1 -0.8zM145.2 47.5l1.3 -0.8 3 0.1 2.3 2.7 0 2 -3.3 2.7 -1 -0.3 -1.3 -2.4 -1.4 -1 -0.3 -2z"/><path fill="#c94741" d="M103 -71.5l4.4 1 0.4 1 -2.3 2 -1 -1.4 -1 0.3 -1.6 -0.9 -0.2 -1zM97.1 -70.5l1.4 -0.5 1 0.4 1.8 4.1 -2.8 -0.6zM-120.7 -67.5l1.2 -0.5 1.8 0.5 -0.8 1.3 -1.4 -0.3zM-126.3 -65.5l0.8 -0.9 0.7 0.9 -1.7 1.8zM-122.3 -65.5l0.8 -0.5 1.3 3.5 -1.3 1.2zM-127.9 -62.5l0.4 -0.7 1.6 1.7 -1.6 0.3zM-122.7 -59.5l1.2 -0.5 0.3 0.5 0.4 1 -0.7 1.5zM-128.6 -58.5l0.4 3 -1.3 0.7 -0.8 -0.7zM82.2 -54.5l1.3 0.2 1 1.7 6 -2.6 6.5 2.7 1.5 1.5 2 -1 2 0.2 1 0.8 1 -0.4 3 2.9 2 -0.2 2 2.9 2.1 0.3 0.8 1 0.9 3 -0.7 2 0.9 0.4 0.5 1.6 -2.5 2 -1 0.1 -1 -1.1 -2 -0.6 -1 1 -2 0.1 -1 1.3 -1 -0.2 -1 -1.6 -2 0.2 -3 -2.5 -4.5 -0.7 0.9 -1 -0.4 -0.3 -1 0.7 -1 -0.2 -3.5 -2.2 -3.5 -0.7 -1.3 -1.3 0.3 -1 -3.1 -2 1.6 -1 -0.5 -0.6 -6 1.5 0 -1.6 2 0.2 0.2 -0.5 -0.8 -2 -2 -1 0.4 -1 2.2 -0.5 3 0.4zM66 -48.5l1.5 -0.8 0.6 0.8 -1.5 1 -0.1 1.2 -2.4 -1.2zM68.3 -47.5l1.2 -0.3 0.3 1.3 1.7 1 -1 1.9 -2.7 -0.9zM-134 -41.5l1.5 0.1 2 7.4 -3 4.7 -3 2.2 -2 0.4 -1 -0.4 -1 -2.4 0.5 -4 1.8 -4zM-130 -41.5l0.5 -0.2 0.4 1.2 -0.4 1.8zM3 -35.5l0.5 -0.4 2.1 2.4 -1.1 1.1 -1.2 -0.1zM16.6 -31.5l1.2 0 -0.3 1.3 -1 0.7 -0.6 -1zM37.9 -31.5l2 0 -0.4 1.9 -1.5 -0.9zM24 -17.5l0.5 -0.6 0.8 0.6 -0.4 2 0.7 1 -2.1 2 -0.7 -1 1.4 -2zM12.5 -15.5l1 -0.8 0.9 0.8 -0.3 1 -1.6 1 -0.6 -1zM18.9 -15.5l2.6 0 -0.3 1 -2.7 0.7 -1.2 -0.7zM-176.4 -8.5l9.1 0 -0.2 1.1 -2 0.9 -3 0.1 -3 -1zM-94.9 -8.5l1.4 0.7 0.5 2.3 -1.5 2.7 -1 0 -1.2 -2.7 0.6 -2zM-90.5 -7.5l1 2 -1 1.4 -0.9 -0.4zM165.9 4.5l1.6 0.8 3 -1.3 3 0.2 2.6 1.3 0.3 1 -1.9 2.1 -3 -0.6 -3 0.7 -1 -1.4 -2.1 0.2 -0.3 -2zM-91.5 21.5l1 -1 2 0.8 3.6 2.2 1.8 2 0.8 3 0.1 11 -0.9 3 -8.4 -3.9 -2.3 -4.1 -0.3 -6zM10.2 22.5l1 0 0.5 2 -1.2 2.4 -1 -0.2 -0.1 -1.2z"/><path fill="#a51429" d="M102.1 -70.5l1.4 -0.6 0.8 0.6 -0.2 1 -0.6 0.5 -1 -0.4zM98.8 -69.5l0.7 0 0.5 1 0.3 1 -0.8 0.6 -0.9 -0.6zM87 -53.5l4.5 -0.9 5 2.3 2 1.7 2 -1.2 3 1.1 1 -0.3 2 4 2 -1.6 1 0.6 2 4 1 0.4 1 -0.5 1.3 2.4 -3.3 4 -3 -0.4 -4 1.8 -1 -1.4 -2 0.6 -1.6 -1.6 -0.4 -1.9 -2 0.7 -2.1 -1.8 -1.9 -0.6 -2 0.6 -2 -1.9 -3 -0.2 -0.9 -0.9 0.5 -2 -2.6 -0.6 0.6 -1.4 -1.6 -1.8 -2 1.2 -1 -0.2 -0.3 -1.2 1.4 -2 1.9 -0.5 1 1.2 1 0zM-134 -40.5l1.5 0 1.6 6 -3.6 4.8 -3 0.9 -1.4 -1.7 0.4 -4 1.6 -3zM-95.6 -6.5l1.1 -0.9 1 1.7 -1 2.2 -1.3 -1zM170.5 5.5l1 -0.7 1.3 0.7 0.4 1 -2.7 0.2 -0.6 -0.2zM-89.6 22.5l2.4 0 3.7 3 1.1 7 -0.1 7.3 -1 0.9 -5.3 -3.2 -2.9 -3 -0.2 -6 0.6 -3z"/><path fill="#67001f" d="M90.8 -53.5l2 0 0.5 1 -0.4 1 0.6 0.6 2 -1 1 0.5 0.8 0.9 0.2 2 3 -2.4 4 1.1 2 3.8 1 0.3 0.9 -0.8 0.1 -1.3 0.2 1.3 1.9 1 -0.1 2.7 -2 0 -0.2 1.3 1.2 0.2 1 -0.7 1 1.3 2 -2 0.6 1.2 -2.6 2.9 -6 1.3 -2 -0.7 -2 0.2 -0.6 -0.7 0.9 -1 -2.3 -2.7 -0.9 0.7 0 1 -1.1 0.1 -2 -1.9 -2 -0.8 -2 0.9 -2 -2.2 -2.9 -0.1 0.7 -2 -1.6 -1 -0.7 -2 0.8 -1 0.1 -2 2.6 -0.5 2 0.6zM92.5 -49.7l-0.7 0.2 -0.1 1 0.8 0.8 1.2 -0.8zM-133.6 -39.5l1.1 0.2 1.1 4.8 -2.1 2.5 -2 1 -1 -0.3 -0.6 -1.2 0.1 -2 1.5 -3zM-87.7 23.5l2.4 1 1.8 2.5 0.7 5.5 -0.7 5.9 -2.8 -0.9 -2.6 -3 -1.4 -3 0.7 -6z"/><path fill="#d7e8f1" d="M-114 -108.5l6.5 -0.4 3 4 5 2 1 -0.9 3 1.3 0.1 -1 -3.1 -2.9 0 -0.9 1.2 -0.2 0.2 -1 3.8 0 -0.2 3 5 2.8 -0.9 2.2 0.6 1 1.3 0.1 2.6 -1.1 -0.7 -2 2.2 -5 -1.1 -1.1 15 -0.1 1.1 0.2 0.9 2.2 2 -2 2 0.7 0.7 -0.9 1.1 0 0.1 1 1.1 0.2 0.9 -0.2 -0.6 -1 1.7 -0.3 16 -0.1 1.8 0.4 0.1 1 1.1 1 7 0.2 1.2 0.8 -0.9 1 -3.3 1.4 -3 -0.2 -3 2.3 -4 0.2 -1.1 1.3 0.6 2 -0.5 0.4 -1 -1.7 -3 1.9 -5 0.9 -0.9 1.5 1.7 7 -0.7 1 -6.1 4.4 -4.6 -0.4 1.6 2.8 3 -0.8 3 3.6 5 1.1 5 -1.7 2.5 -3 -0.8 -1 -0.5 -3 0.8 -3.8 1 0.5 3 -1.2 3 0 4 -3.8 1.2 0.3 1.1 2 2.7 1 0 -1 10 -4.2 1 0.2 2.8 -5 -1.8 -3.1 -5.2 -1.9 1.3 -1 -2.1 -0.5 -0.4 -2.5 11.8 0 1.4 3 3.2 2 -0.4 1 -4.6 2 -4.8 6 -0.7 2 -3.5 2.6 -5 1 -9 3.7 -2.8 3.7 -0.2 1.2 4 1.5 2 -0.6 1 0.8 0 1.1 -2.1 1 1.1 1.5 4 -2.8 1 0.4 2 -0.5 2.2 1.4 5.8 1.9 2 -1.9 1 -3 1 -0.5 3 1.7 2 -0.9 2 1.1 6 -0.1 4.3 1.7 0.4 1 -1.2 4 -0.9 1 0.4 1.2 1.4 0.8 -0.1 1 1.7 0.9 1.4 -3.9 -0.3 -1 2.2 -1 0.3 -4 -3.5 -3 -0.6 -2 0.5 -0.9 4 -2.5 6 -6.1 5 -2 4 -0.1 4 1.7 5 0.3 3 1 2 1.8 1 -1.8 3 0.7 11 -2.5 3.4 0.4 0.2 -2 1.4 -1.7 4 1.3 2 -1.1 3 0.5 0.7 -1 3.3 -1.6 5 -0.8 5 -1.8 8 1.6 1.1 0.6 -0.4 1 3.3 1.4 11 -0.5 4 0.9 2 1.4 8 -1.2 5 0.2 5 1.2 5 -0.3 6 1.6 6 -0.5 3 0.9 4 -0.7 4 0.9 4 3 1 0 5.6 5.7 -2.6 1.2 -1 3.1 4 1.4 1.3 -0.7 0.5 -2 0.7 0 1.1 3 -0.5 1 -1.1 1.1 -3 0.5 -2 -2 -1 0.4 -3 6.1 -2 -2.1 -4 -1.7 -2 -4 -8 -1.4 -4.2 0.1 -2.8 0.9 -0.5 1.1 0.5 1 2 0.9 1 -0.3 1.3 2.4 1.7 0.3 2 1.7 1 3.9 1 -0.2 1 -1.6 1 0.8 0 2.7 -4 -0.4 -1 1.4 -0.7 -0.6 -0.3 -2.1 -0.3 2.1 -2.3 3 0.3 1 -1.7 1.4 -1.2 -3.4 -1.8 -1.5 -2 1.8 -2 -0.2 -0.4 1.9 -1.7 1 3.8 1 -1.7 0.4 0 3.2 -2 -1.5 -1 0.8 -1.3 2.1 0.5 1 1.8 1.9 1.3 -0.9 0.7 -2.7 1 -0.3 2 2.9 3 -1.4 1 2 3 1.5 -0.1 2 1.1 1.1 2.4 -1.1 -0.4 -1.7 -2 -2.4 -4 -1.6 -1.2 -1.3 1.2 -0.4 2 1.2 2 -1.6 3 4.6 3 1.6 2 -0.2 0.7 0.8 -0.7 1 -2 -0.7 -0.5 0.7 -0.1 1 1.6 0.6 1 1.7 3.4 -2.3 0.1 -3 1.4 0 0.1 1.3 1.1 -1.3 -0.6 -4 -1.5 -1.7 -1.6 -0.3 0 -3 1.6 -1.4 1 3.7 2 -1.5 1 0.2 7 6.4 5 0.7 10 -2.5 3 0.2 1 1.1 1 -0.1 1 -0.8 1 -2.8 1.5 -1.2 0.3 -2 -1.6 -2 0.8 -1.7 0.5 0.7 3.5 0.5 0.5 1.5 5.1 5 2.1 4 4 5 4 8 0.1 2 1.9 4 0 2 0.9 1 -0.2 3 0.8 1 -0.2 1.6 -1.6 2.4 -0.5 5 3.1 -0.9 1 0.7 0.1 3.2 -12.1 -1.2 -0.8 -0.8 0 -2 -0.9 -1 -0.3 -2 -1 1 -2 -1.2 -3 0 -4 4.4 -2 -0.2 -2 1.3 -3 0.1 -3 -2.4 -2 -0.5 -4 3 -1 3.5 -1 0.9 -1.7 0.1 -0.3 -1.5 -1 1.3 -4 0.4 -0.9 1.8 0.1 3 0.6 1 2.2 1.1 2 -1.7 2 2.2 3 0.7 16 -1.2 25 1.6 -0.4 5.3 -0.6 1.2 -3 1.8 -10 -3.1 -2 0.9 -2 -0.6 -7 1.1 -3 -0.4 -7 -3.4 -6 -2 -3 -0.2 -9 2.1 -4 -1.4 -1.3 1 0.8 6 3.6 3 0.5 1 -0.8 2 2.1 2 0.4 3 1.7 1.2 0.8 -0.2 -1.6 -2 0.9 -1 0.6 -3 1.3 -0.2 1 0.9 1 -0.2 2 1.4 1 -0.1 0.6 2.2 -2.6 2.1 -1 3.5 -0.7 -0.6 0.4 -1 -1.7 -1.7 -1 0.7 0 1 -4 0.2 -1 1.4 -3 -2.1 -1 0.4 0.1 1.1 -2.1 1.5 -1.5 -0.5 0 -2 -1.5 -0.7 -0.7 2.7 -2.3 0.7 -1 1.4 -1.7 -0.1 0.2 3 -0.5 0.5 -2 0.3 -5.5 3.2 -0.5 1 -1 -1.7 -4 2.3 -0.9 3.4 0.9 1.7 1.8 0.3 0.3 4 -1.1 1.9 -1 -1.1 -1.2 0.2 -0.3 -10 1.1 -2 -5.6 -2.8 -4 2 -5 -0.2 -4 1.4 -2 2 -3 0 -2 2.1 -3 -1 -2 -2.1 -2 0.1 -2 -2 -2 -0.5 -2 1.5 -2.7 0.5 -1.3 1.4 -3 0.8 -5 -2.9 -4 2.1 -4 1.1 -0.4 1.5 -1.6 0.6 -3 -0.6 -0.8 -1 0.3 -2 -2.5 -0.6 -3 -2.8 -3 1.3 -2 1.7 -5 0.6 -1 -0.5 -1 -2.2 -4 -1.1 -1 2 -1 -0.2 -1 0.9 -1 -1.1 -3.3 3 -0.8 2 -3.5 2 -2.4 4 -1 0.2 -2 1.9 -8 0.5 -0.7 -0.6 -0.7 -5 -1.3 -3 1.4 -2 0.3 -2.9 1.1 0.9 -0.7 2 1.6 0.1 0.7 -2.1 -1.3 -1 1.3 -2 -0.7 -1.1 -6 -1.4 -1 -1.8 1 -0.4 1 0.9 0.3 -1.2 -3.6 -2 0.3 -4.7 2.1 -3.3 -0.8 -3 0.4 -1 -0.7 -1 -7 -1.6 -3.9 1.6 -2.1 2.2 -3.7 -0.2 -2.6 4 -0.7 3.8 -3 -1.1 -2 2.9 -2 0.1 -2 3.3 1.9 2 -3.9 0 -1 1 -2 0.4 -1.4 3.6 1.3 1 1 2 -6.9 4.7 -1 -1.5 -1.3 -0.2 -1.7 -3.7 -2 0.4 -2.5 -0.7 -0.4 -1 0.9 -0.4 1 0.9 2.5 -0.5 -1.5 -1.7 -1 0.3 -2 -0.8 -1 1.4 -2 0 -8 -3.7 -1.5 0.5 -0.4 1 1.5 2 0.6 5 1.8 6 -1 4.9 -2 1.3 -3 0.2 -2.6 -1.4 -1.3 -2 -1.1 -3 0.1 -5 0.9 -3.4 2 -0.6 0.4 -2 -2.4 0.9 -1 -2.5 -2 0.5 -0.6 1.1 1.5 1 -0.4 2 0.8 2 -1.7 1 -3.4 6 -2.2 1.2 -2 -0.8 -2.6 1.6 -0.4 1 -4.6 1 0.6 1.4 2.9 0.6 0.4 1 -4.4 4 1.5 2 -1.3 6 -7.1 -0.1 -0.5 -0.9 1.3 -9 -0.8 -1.6 -1 1.3 -1.1 -2.7 0.1 -2 1.8 -2 -0.8 -2 0.3 -4 -1.4 -1 -1.1 -14 -1.6 -3 -2.5 -1 -3.7 -3.8 -0.6 -4.2 1.7 -3 -1.6 -2 0.7 -2 -1.3 -3 0.8 -3 3.1 -2 0.2 -3 -1 -2.1 2.9 0.1 2.1 -0.9 2 1.9 1 -1 2 0.2 1.9 -2.2 0.5 -4 -3.4 -1.7 -1.3 0.7 0 1 -0.7 0.6 -0.8 -2.6 -1.2 -1 -2.4 3 0.4 2 0.9 1 -0.9 0.9 -2.5 -1.9 0.6 -2 -1.1 -2 -1 2.5 -1 0.8 -5 -1.8 -3.5 0.5 -0.7 -3 0.1 -5 -1.9 -0.9 -2 1.8 -2.4 -1.9 0.2 -1 -1.8 -1.6 -5 -1.5 -0.9 -0.9 -1.2 -4 0.1 -3.8 -3 -2.2 -2.7 0 0.1 -1 -1.4 -1.7 -1 0.3 0 1.2 1.3 1.2 -3.3 0.6 -2.3 -3.6 3.4 -1 -0.7 -3 0.6 -2.7 3 -0.8 1 -1.2 1 0.7 -0.3 -3 1.7 -4 -1 -2 1.6 -0.3 0.6 -1.7 -1.9 -2 0.3 -0.8 2.2 -0.2 -0.7 -1 1.7 -1 1 -4 -0.5 -2 0.6 -4 1.7 -0.1 0.5 -0.9 -0.3 -3 -1.2 -1.4 -4 -0.7 -2 -1.2 -2 3.9 -2 1.8 -1 -0.9 -0.7 0.5 0.2 1 -1.5 0.4 -1 -1.7 -2 -0.2 0.3 2.5 -3.2 1 0.9 0.2 0.2 0.8 -1.8 4 -0.2 4 0.8 1 -2 1.6 -2.1 3.4 -0.9 3.1 -1.1 0.9 -0.4 3 0.5 2 -2.1 1 -1.9 4 -3.3 3 -1 5 -1.4 2 -2.3 2.1 -4 0.1 -3.9 2.8 -1.5 3 0.3 5 5.1 4 6 -0.7 1 1.1 12 -4.3 1 0.3 1.2 2.6 -2.2 4 -3 0.3 -4 1.5 -12.8 -0.8 -6.2 -1.1 -5 0.5 -2 -0.7 -9 0.7 -7 -0.7 -3 1.3 -18 -0.7 -5 0.6 -4.4 -0.9 0.6 -1 -0.6 -6 1 -1 0.7 -7 1 -1 -0.1 -2 1 -1 1.1 -5 3.1 -5 1 -3 2.2 -2 -0.1 -1 2.3 -2 -0.2 -1 2.2 -2 0.1 -1 6.1 -7.6 3 -2.5 4 1.1 3 -0.1 3 2.5 2.2 -0.4 2.1 -3 -0.5 -1 3.7 -5 2.2 -5 -0.7 -2 -3 0.2 -0.5 -0.2 0.3 -1 6.2 -5.4 4 -1.1 2 3.2 2 1.3 2 -0.3 2 -2.6 4.3 -1.1 -1.2 -1 0.3 -2 5.6 -0.8 1 -1.8 9 -2.9 6 -0.2 10 2 14.7 -1.3 -0.3 -1 1.6 -2 3 -1.7 2.5 -0.3 1.1 -2 -0.9 -1 -2.7 -0.7 -1 -1.3 -2 1.4 -3.2 0.6 -1.8 1.6 -3 -0.6 -1.5 -3 1 -1 -0.3 -2zM-89.5 -60.2l-0.6 1.7 0.9 1 0.3 2 -0.6 0.7 -2 0.3 -0.3 1 1.3 0.7 2 -0.7 2 2.4 1 -2.1 2 1.7 1.3 -1 0.4 -1 -2.8 -1 -1.9 -1.9 0.9 -2.1 -2.9 -1.9zM-83.5 -65.5l0.2 1 -2 3 1.8 3.8 3 0.2 1.6 -6 -0.3 -1 -1.3 -1.1zM-74.5 -66l-2.6 1.5 0.3 1 -0.7 1 0.2 2 1.8 2.1 2.2 -1.1 -0.2 -1.2 -2.7 -1.8 2.6 -3zM-71.5 -72l-1 1.8 1 0.6 2.3 -0.9zM-51.5 21.3l-1.2 1.2 0.2 0.6 1 0.3zM-47.5 23.9l-0.2 1.6 1.2 1.3 0.2 -1.3zM8.5 -62.4l-1 1 0 2.9 2.2 -1 -0.2 -2.3zM14.5 -58.5l-1.2 1 -0.4 1 0.6 0.4 1.2 -0.4zM16.5 -69.7l-1.4 1.2 1.9 0 0.7 -1zM18.5 -82.8l-1.2 1.3 1.2 1.4zM41.5 -70.7l-1.2 1.2 1.2 2 1.1 -3zM49.5 -66.2l-0.5 0.7 1.5 0.9 0.7 -0.9zM58.5 -58.7l-1.4 1.2 0.4 1.1 1 0.3 2 -0.9 0 -1.8zM70.5 -74.8l-1 1.3 1.4 3 0.6 0.5 3 0 0 -1zM82.5 -85.7l-2.7 1.2 -0.2 1 0.9 0.7 2 -0.6 6 1.5 1.5 -0.6 0.4 -1 -0.9 -1.6zM98.5 -76.6l-2 2.5 -3 -1.3 -2 1.3 -2 -1.4 -0.3 1 -0.2 2 1.9 2 -1.1 2 3.5 2 -0.4 2 0.6 1 1 -0.1 1 -2 1 -0.2 1.2 1.3 -0.2 1.3 -2 0.7 -0.7 1 -0.3 2.2 -1 -0.5 0 -2.6 -3 2.4 -4 0.2 -1 -2 -1 -0.3 -7 1.2 -0.7 -0.6 0.5 -3 1.4 -1 -1.2 -1 -1 0.5 -0.7 -0.5 0 -1 -1.3 -1.1 -0.8 1.1 2.4 3 -1.1 1 -1.5 -0.4 -2.8 1.4 0.1 2 -1.3 0.6 -1 -0.5 -1 1.4 -1 4 -0.1 -1.5 -2.1 -1 -0.8 2.2 -3.5 1.8 -2.5 5.1 -0.1 -1.1 -1.9 -1.5 -4 -1.2 -1 -1.2 -1 0.2 -0.6 1.7 2.1 3 -0.5 2 -3.3 -1 -0.2 -2 1 -2 -1.5 -1 -4 2.8 -2 -1.5 -1 3.6 -1 -0.4 -1 -1.9 -6 -0.3 -0.2 -1.3 -1.4 -1 -0.3 -2 0.7 -1 -0.8 -1.1 -1.1 0.1 0.9 2 -1.8 1.1 -0.3 -1.1 -1.7 -0.6 -1 -1.2 -3 -0.6 -1 -0.8 -0.4 0.2 1.4 4.2 -4 -1 -14 3.3 -2 -0.3 0 -4.1 2.6 -2.1 0.7 -3 -1.3 -0.2 -1 1.5 -2.7 -0.3 0.2 -1 1.5 0.4 0.7 -1.4 -1.5 -2 -1.2 -0.1 -0.2 -2.9 -2.8 -0.5 -3.8 3.5 0.3 3 -2.5 2 -0.3 3 -0.8 1 0.5 4 3 2 -2.7 4 0.4 2 -3.1 3.4 -4 2.7 -1.9 3.9 -2.1 1.7 -1 -2.3 -1.4 1.6 -1.6 0.4 -0.8 1.6 -1.5 5 -0.1 3 1.6 5 0.3 5 2.5 2 0.3 1 -2.3 2.2 -2 0.6 -19 1.1 -1.4 1.1 0.1 2 3.3 1.1 33 -0.6 2 -0.5 1.7 -2 0.2 -2 -1.9 -0.9 -0.5 -1.1 0.5 -1.3 2 -0.5 3 1.7 1 -1.2 1 0.8 8 1.2 2 1.1 1 0 1 -2 4.5 -0.8 -0.5 -1 1 -0.2 13 1.3 1 -0.8 2 0.4 5 -1.7 1.8 2 -1.2 1 0.4 0.4 4 -0.3 1.5 -1.1 -2.5 -1 -0.9 -1 0.3 -1 3.6 -1.3 1 0 1.1 1.3 -0.1 2.4 4 -1.2 3 0.7 1.3 -0.9 -0.5 -2 -1 -1 0.7 -1 -0.7 -1 0.2 -1 4 -2.5 2.2 -0.5 -0.2 -1.2 1 -0.4 1 0.8 4 -1.8 1.2 -2.4 2.1 -1 1.2 -3 0 -2 -0.2 -1 -2.6 -2 0.3 -0.5 10 -0.1 2 1.4 1 0 1.8 2.2 0.6 2 3.2 1 0.1 3 2.4 4 0.1 2 2.2 5 0 3 0.8 1 -1 2 3.8 3.9 4.9 -0.9 -0.1 -1 2.2 -2 2 0.1 0.9 -1.1 -1.9 -3.9 -2 -0.1 -3 -2.2 -1.4 -4.8 7.4 -9.1 3 -1.3 1.3 0.4 2.7 4.4 1 3 1 0.9 2 -0.3 0.8 1 1.5 4 1.7 1.8 2 -1.2 3 1.2 2 2.3 2 -0.5 2.7 -2.6 -0.1 -3 -0.8 -2 -3.6 -4 -0.6 -2 0.8 -2 -2.8 -3 0.6 -1 -0.5 -2 0.3 -1.8 2 -2.6 1 1.6 2 -0.1 3.1 -2.1 -2.1 -1.5 -2 0.8 -3 0 -4 -5.4 -2 1.4 -0.1 -2.3 -1.2 -2 -2.7 -1.1 -0.6 -0.9 0.6 -3.9 2 0 1 -0.9 -0.7 -2.2 0.7 -1.1 2 1.4 1.7 2.7 0.3 2.5 3 -1.9 1 0.7 0.8 -0.3 0.1 -2 -0.9 -1 -3 -0.2 -2 -2.3 -1 0 -0.8 -2.5 0.8 -0.9 2 0.6 3 -3.5 1 0.7 0.8 -0.9 -0.8 -1 -1 0.6 -0.8 -1.6 2.8 -1.9 2 0.3 0.8 -0.4 0 -1 -0.8 -0.4 -1 0.8 -2 -1.7 -4 4 -0.8 -0.7 0.2 -2 1.6 -1 -0.6 -1 -2.4 -1.2 -4 -1.3 -4 -0.3 -1 1.6 -1 0.1 -3 -2.5 -4 1 -0.5 -0.4 0.5 -1 -1 -0.8zM153.5 -77.8l-0.4 0.3 1.5 3 2.9 0.9 1 1.5 0.9 -1.4 -0.9 -2 -3.1 -2zM133.5 -51l-2 1.8 -1.6 -0.3 -0.4 -0.8 -0.6 1.8 0 1 1.7 2 -0.8 2 0.5 1 1.2 0.4 1 -0.6 1.8 1.2 -1.4 5 0.9 5 -1.3 1 -2 -1.3 -1 0.3 1 2.3 1.5 -0.3 0.5 -1 1 0.4 2 -1.1 2 -2.3 0.3 -1 -1.3 -1.1 -0.9 -2.9 0.6 -1 0.9 0 0 2 1.4 2.3 1.2 -3.3 -1.2 -4.6 -1.4 -2.4 -3.3 -1 1.9 -3 -1.2 -1.9zM140.5 -33.7l-0.8 2.2 0.8 1.5 0.5 -1.5zM142.5 -24.8l-1 0.8 -0.3 2.5 1.3 2.2 1.1 -0.2 -0.2 -4zM144.5 4.2l-1 0.3 -1.2 2 0.2 1.9 2 -2.3 2.6 -0.6 -1.6 -1.4zM154.5 -5.9l-0.7 0.4 0.2 1 1.5 1.7 1.9 -0.7 -0.1 -1zM-77.5 24.2l-1 1.3 2 1.1 1 -0.2 -0.5 -1.9zM-118.5 -39.6l-0.5 1.1 1.5 0.6 0.6 -0.6 -0.6 -1.5zM-102.5 -59.5l-4.1 4 -0.3 1 1.4 1.6 4.2 -2.6 -1.5 -2zM-91.5 -48.7l-1.6 2.2 -0.4 3.5 -3.3 1.5 2.1 2 0 4 1.2 1 1 -0.7 0.3 -1.3 -1 -5 3.9 -4 -2 -1 1.8 -0.9 1 1.4 1.1 -0.5 -1.7 -1 -0.2 -1zM-84.5 -26.7l-0.6 1.2 0.6 1.3 3.2 -1.3 -1.2 -1.2zM-79.5 -57.6l-1 0.1 0 2 2 0.3 2.4 -1.3 -0.4 -1.5 -1 -0.4zM-73.5 40.2l1 1.2 1.3 -0.9 -1.3 -0.9zM-71.5 -67l-0.8 0.5 0.1 2 0.7 2.2 1 -0.1 -0.7 -1.1 0.6 -3zM-68.5 -61.1l-0.9 0.6 0.9 0.5 2 -0.5zM16.5 -57l-0.7 0.5 1.7 1.7 1 0.1 0.2 -0.8 -1.2 -1.5zM19.5 -62.2l-1.4 1.7 0.4 0.7 1.6 -1.7zM50.5 -64.2l-0.8 0.7 0.5 1 -0.7 1 1 1 0 1.2 0.4 -2.2 0.9 -1zM80.5 -75l0 1.6 1.7 -0.1 0.7 -1zM85.5 -66.6l-2.4 2.1 0.4 0.4 1 0 1.1 -1.4zM20.5 22.4l-1.1 1.1 0.1 3.1 1 -1.6 2.6 -0.5 -0.3 -1zM21.5 10.5l-0.4 1 1.4 0.5 0.2 -1.5zM31.5 -0.6l-0.6 0.1 0.5 2 3.1 1.8 1 1.3 3 -1 1 1 1 -1.1 -1 -1.9 -1 -0.2 -2 -2.2zM49.5 17.3l-0.4 3.2 -6.4 6 0.3 3 2.5 0.6 2 -5.6 0.2 2 0.8 0.7 1 -0.5 1.3 -3.2 -0.8 -1 0.5 -0.8 2 0 2 3 2 -0.5 1.7 -1.7 0.3 -3.9 -1 -0.3 -3 1.2 -1 -1zM51.5 -2.8l-1.5 1.3 0.5 1.4 2.1 -2.4zM58.5 -15.5l-2.5 1 0.8 2 -2.3 1 0.2 2 1.8 2.1 1.1 -0.1 1.2 -2 -1.4 -2 1.1 -1.2 1 0.2 -0.5 1 0.7 0 0 -2 1 -2zM94.5 0.5l-26 1.1 -2 0.8 -0.2 1.1 1.2 2 1 0.1 14 -0.3 12 0.8 9 -1.4 12 0.7 2 -0.6 0.8 -1.3 0 -1 -1.8 -1.3 -6 -0.4 -7 1.4zM105.5 -7.9l-1.5 1.4 1.5 0.7 2.2 -0.7zM115.5 -7.7l-1.8 1.2 1.8 2.1 1 -2.1zM116.5 -13.9l-0.6 2.4 2.6 3.2 0.8 -1.2 0 -2 -1.8 -2.9zM116.5 -52.9l-1.1 1.4 0.1 1.6 1 0.1 1.7 -1.7zM118.5 -49.7l0.7 1.2 1.2 0 -0.9 -1.6zM123.5 -63.1l-0.5 1.6 0.5 1.2 1.2 -1.2zM126.5 -44.8l-0.7 0.3 -0.3 2.5 1 -0.2 0.7 -1.3zM135.5 -5.5l-1.6 3 0.6 0.8 3 -0.1 0.6 -0.7zM145.5 9.2l0 1.3 -2 0.4 -1.2 1.6 1.2 2 1.4 0 2.9 -2 -0.3 -1.4 -1.9 -0.6 1.4 -1 -0.5 -0.8zM-102.5 -42.7l-1.6 2.2 0.6 1.1 4 -2.1zM-91.5 -29.8l-0.4 1.3 1.4 1.4 2 0.4 0.7 -0.8zM-72.5 43.2l-1.3 1.3 1.7 1 -0.4 1.5 1 -0.3 1.3 -2.2zM-71.5 34.3l-0.6 1.2 0.6 0.6 1.7 -0.6zM-64.5 36.4l-0.6 1.1 1.6 0.5 0.7 -1.5zM81.5 -68.9l-0.8 0.4 0.8 1.2 1.7 -1.2zM32.5 11.5l-3 1.3 -2 2.5 -1 -0.7 -1 0.5 -2.6 3.4 1.6 0.3 3 -3.2 2 0.6 2 -1.1 1 -2 1.3 -0.6 -0.3 -1.5zM135.5 -0.2l0 1.3 1 0.7 1 -0.3 0 -1.6zM-103.5 -28.5l-2 0.7 -1.1 2.3 1.1 0.2 1 1.3 1 0 1.3 -3.5 0 -1zM-63.5 42.2l-0.6 1.3 0.6 0.7 2 -0.2 0 -1.2zM28.5 29.6l-1 0.9 1 0.8 3 -0.2 0.5 -0.6zM24.5 37.4l-0.3 1.1 1.3 1.8 0.6 -1.8 1.4 0 0.8 -1 -0.8 -0.9zM28.5 31.8l-1.4 1.7 2.4 0.6 0.4 -0.6zM30.5 37.3l0.5 2.2 -0.5 3.1 1 0.6 0.7 -0.7 -0.4 -1 1.1 -2 -0.1 -1 -1.3 -1.6zM-6.9 -108.5l1.8 0 0.4 2 1.6 1 0.6 1.3 -0.2 -2.3 2.2 -2.2 10 -0.1 1 1.3 -5 2 -3 2.5 -9 0.6 -1.9 -1.1 1.4 -1zM23.8 -108.5l5.7 -0.5 7 0.5 0.2 1 -0.7 1 1.2 2 -1.7 0.2 -1 -0.8 -2 1.1 -4.7 -0.5 -2.6 -1 -1 -1zM50 -108.5l1.5 0.7 2 -0.8 3.5 0.1 0.1 1 -1.1 1 0.8 3 -2.3 0.5 -7 -2 -2.1 0.5 0.1 -2 2 -2 2 1.1zM88.3 -107.5l1.2 -0.6 0.9 0.6 -0.3 3 -1.3 0 0.4 -1zM-121.7 -106.5l1.5 0 -0.7 5 -2.6 0.8 -1 1.4 -2 -1.1 -2 1.4 -2 -0.4 -6 1.2 -1.5 -1.3 3.5 -2.6 2 0 3 -1.9 2 0.1 3 -2 2 0.1zM61.3 -106.5l1.2 -0.2 0.8 2.2 -1.8 0.6 -1.3 -0.6zM40.4 -103.5l3.1 0.2 0.1 0.8 -4.1 0.4 -1 -0.4zM12.8 -102.5l1.7 -0.7 2.4 0.7 0.5 1 -4.9 2.4 -3.2 -2.4zM71.1 -102.5l0.4 -0.6 2 0.1 3.5 1.5 0 1 -4.9 -1zM45.3 -96.5l1.1 0 -0.1 1 2.6 3 -0.4 0.5 -3 0.4 -1.6 -0.9 0 -2zM-155.6 -90.5l4 3 -0.9 0.8 -5 2 -4 -1 -0.5 -0.8 1.5 -1.6zM-20.8 -87.5l6.3 0.1 1.7 0.9 -0.1 1 -3.6 2.5 -3 -0.6 -1.9 -1.9 -0.2 -1zM148 -63.5l0.5 -0.6 2.8 4.6 0.2 1 -1 1.6 -3.5 -2.6 -0.1 -2zM104.6 -60.5l0.9 -0.5 3.9 2.5 0 3 -0.9 1.3 -1.4 -0.3 -0.3 -3 -1.3 0.5 -1.4 -2.5zM100.8 -59.5l0.7 -0.5 1.1 0.5 0 1 -1.1 0.7 -1 -0.2 -0.4 -0.5zM134.5 -58.5l1 -0.8 0.9 0.8 -0.9 1.6zM138.6 -57.5l0.9 -0.7 1 0.1 1.3 0.6 0 1zM5.3 -48.5l3.2 0.1 0.4 1.9 -1.4 1.1 -2 -0.1 -1.3 -1 1.2 -1zM32 -45.5l6.5 -0.2 0.1 2.2 -5.1 1.6 -4 -1 -1.2 -0.6 -0.1 -1zM18.1 -43.5l3.4 -0.2 0.4 1.2 -3.4 0.1zM56.1 -39.5l0.4 -1 4.1 4 3.9 1 -1 2 -1 0.7 -1 -0.3 -3 -2.1zM38 -38.5l2.2 1 0.3 2.1 -0.4 -1.1 -1.6 0zM41.1 -34.5l1.4 1 0.3 2zM-126.8 -33.5l1.2 0 1.1 1.4 2 0.1 -1.1 5.5 6.1 4.8 7 1.2 2 1.9 3 0.6 2 0.3 1 -1.2 0 6.4 -9 1 -4 -1.5 -1 -1.9 -1 0 -1 0.9 -1.6 -0.5 -2.4 -3.2 -0.5 1.2 -1.5 -0.7 -1 0.4 -0.2 -0.7 1.2 -1 -4.9 -6 -0.3 -3 1.2 -2.4 1.8 -1.6zM44.2 -28.5l0.3 -0.5 2.2 2.5 1.4 4 -1 0 -0.9 -2 -2.2 -2zM11.8 -27.5l1.7 -0.2 0.5 1.2 -1.8 0zM-17.5 -17.5l1.6 1 -0.6 0.7 -2 0.8 -0.8 -0.5 -0.1 -1zM-19.9 -13.5l1.4 -0.4 1.2 1.4 -1.2 1.6 -1 0.1zM-12.4 -11.5l1.9 -0.8 1 0.7 0 1.1 -3 1.4 -0.9 -0.4zM-15.9 -8.5l0.4 -0.5 1.4 0.5 -1.4 1.1zM-156.9 -3.5l19.4 0.7 10 -0.4 7 0.7 13 -1.5 6 0.8 2 0.6 3 4.4 2 -0.3 0 -1.5 1.4 0.5 -1.3 1 0.9 0.4 1.5 3.6 -0.3 3 -1.2 2.6 -6.6 2.4 0 2 -2.4 0.9 -1 4 -2.3 2.1 -0.7 5.4 -1 0.5 -2 -1.3 0.1 3.4 -1.1 0.2 -2.3 2.8 -3.7 1.9 -6 -1.9 -1 1.1 -3 0.2 -4 -1.6 -2 0.5 -2 -1 -3 2 -3 -1.2 -1 -1.3 -3 1.2 -1.2 -1.9 -3.8 -2.6 -1.5 -0.4 -1.5 -1.4 -3 -0.8 -1 0.8 -2 -0.4 -1.1 0.8 0.9 1 -2 2 2.2 0.1 0.9 0.9 -0.5 1 -1.4 0.6 -1 -1.1 -0.5 0.5 0.6 2 -2.1 0.7 -3 -0.6 -2 1.9 -1 -2.4 -2 1.4 -1.9 -1 -0.1 -1.3 -1 1.8 -2 -0.8 -3.4 2.3 -3.6 0.3 -2 -1.6 -2 -4.7 -1.4 -1 0.4 -1 -1 -1.6 -2 -0.4 -3 1.7 -1 -0.2 -3 -3.4 -4 -1.5 -1.2 -2.6 1.2 -1.8 3 -0.2 2 1.2 2 4.4 2 0.7 0.9 -2.3 2.7 -2 1.2 -4 1.1 -1 -0.9 -4.2 -0.8 -0.8 -1.2 0 -7 1.9 -2 -0.1 -1.5 1.2 -0.5 1.6 -1 0.3 -3 -1.7 -4.4 -5.2 -2.6 -1.2 -1 -1.3 -2 -0.4 -0.3 -7.1 6.3 -1.2 6 0.4 6 -0.7 16 0 11 0.8zM-143.5 11.2l-2 1.3 0 1.6 3 -0.2 2 1.8 1 -0.6 0.3 -1.6zM-126.5 5.4l-0.3 1.1 1.1 3 1.2 0.6 2.2 -2.6 2.6 -1 -1.8 -1.2zM-115.5 4.4l-3.7 1.1 -0.2 2 4.9 1.4 0.8 2.6 3.1 2 -2.6 1 -0.3 3 1 0.2 3 -2 2 0.2 2 -1.9 1 0.2 1.6 -2.7 0.2 -2 3.5 -2 -0.2 -1 -1.1 -0.8 -3 -0.9 -11 -1.1zM177 16.5l3.5 -0.8 1.6 1.8 2.4 0.6 1 -1 4 -0.5 1.3 0.9 0.1 1 1.8 1 -0.6 2 1 3 2.4 -0.9 1 1.8 2 -2 3 1.2 1 -0.8 1 -1.3 -1 -3 1 -1.5 3 0 2.1 2.5 -1.2 1 -0.5 3 -1.4 -0.2 -1 1.8 -2 0.2 -1.5 4.2 -2.5 1.3 -0.2 2.7 -0.8 0.9 -1 -0.1 -4 -1.6 -6.9 -1.2 -1.8 -2 -1.3 -0.2 -2 1 -3 -0.4 -1.7 -3.4 0.6 -2 -1.7 -3 -1.6 -1 -0.7 -2 1.1 -0.3 1.1 -1.7zM164.4 27.5l0.8 1 -0.3 2 -1.4 0.3 -0.3 -2.3zM173.3 29.5l1.2 -0.4 0.5 1.4 -1.5 2.3 -0.9 -1.3zM17.4 32.5l0.1 -0.6 1.7 0.6 -0.7 1.7zM-10.1 33.5l1.6 -0.9 0.8 0.9 -1.8 1.4zM169.4 33.5l1.1 -0.6 1 0.6 0 1.2 2 0.6 2 -2.4 0.6 0.6 -0.1 3 -1.2 1 0.7 2 -2 2.6 -2 -0.4 -0.8 0.8 1.2 1 -0.3 1 -6 6 -3.1 1.2 -1 -0.3 -1 -1.8 -3 1.3 0 -1.7 3.3 -1.7 4.7 -5.8 2 0 0.5 -2.2 -1.5 -2 0.9 -1 1.1 -0.2 1.8 1.2 0 1 -1.1 1 2 0zM173.5 35.7l-0.7 1.8 0.7 0.9 0.8 -0.9zM185.1 57.5l1.4 -0.9 0.8 0.9 -1.8 1.2 -1.5 -0.2zM-135 100.5l5.5 -0.2 1.9 2.2 -0.1 1 -1.8 0.3 -3 -2 -2 0.1z"/><path fill="#a7d0e4" d="M-55.4 -104.5l3.9 -0.6 3 0.4 1.5 3.2 -4.5 3.4 -3 -0.6 -1 -2 -4 1.1 -1 1.1 -1 2 0.2 1 5.6 7 0.2 1.4 -1 0.8 -2 -0.1 -1 2.3 -2 0.1 -1 1 -4 -0.5 -2.9 -2 0.6 -1 -0.7 -0.6 -1.4 0.6 1.3 1 -0.9 0.4 -2 -1.4 -2 2.8 -4 0.9 -2 -1.7 -6.1 3 -2.8 4 0.9 1.7 1 0.2 1 -0.9 -0.7 -3 5.7 -1 2 -1.7 0.5 0.7 0.2 1 -1.9 2 -0.8 2 0.6 3 -1.6 0.6 -0.5 1.4 0.1 2 1.4 1.8 1.2 0.2 -2.2 0.2 -3 -1.2 -1 -2.4 -2 0 -2.6 3.4 1.6 0.1 2.4 1.9 0 1 -2.4 0.9 -2 -1.7 -2 1 -1.3 -1.2 -0.3 -1 0.6 -0.5 2 1.4 0.8 -1.9 -1.8 -1.4 -3 0.6 0.8 -1.2 -0.8 -0.9 -2.5 2.9 0.5 1.3 -1.3 -0.3 -2.7 -2.9 -1 0.3 -0.5 0.6 1.1 3 -0.6 0.7 -2.3 -1.7 0.2 -3 -0.9 -0.5 -1.4 0.5 -0.6 3.2 -2 -0.5 -0.9 -0.7 0.1 -3 2.1 -4 -0.9 -6 -3.4 0.5 -2 -0.9 -1.8 -1.6 -0.2 -1.3 -2 0.3 0.5 2 -2.5 5.3 -2 -1.6 -1 0.7 -1.8 -0.4 -0.2 -1.8 -2 -2.2 -1 2.1 -2 0.6 -2 -1.2 -8 0.3 -3 -0.6 -4 2.3 -3 0.3 -2 -1 -1 -1.8 1 -1.6 5 -1.2 1.4 -1.2 -3.4 -2.1 5 -1 1.4 -1.9 2.7 0 3.9 -2.4 8 -0.8 2 1.2 4 -0.2 3 1.1 9 -0.6 1 0.5 2 -0.9 0.4 1.1 1.6 0.3 1 -1.3 2 -0.4 2 0.9 0.7 -0.5 0.7 -1 -0.4 -1 -2 0.6 -1.5 -0.6 0.5 -1.1 3 -1.7 4 -0.1 5 1.2 0.6 -0.3 -1.5 -2 0.9 -0.5 5 -0.9 3 0.8 5 -2.3 2 1.6 6 -0.1 1.1 -0.6 0.2 -1 -0.9 -1 0.6 -1.1 2 -0.7 3 0.2 2 -0.9zM-133.5 -91.6l1.4 3.1 -0.4 0.9 -1.1 0.1 2.1 0.5 1.7 -3.5 -1.7 -1.2zM-17.6 -103.5l2.1 0 -0.1 1 -1.2 0zM-15.4 -103.5l1.9 0.4 0.5 0.6 -0.5 1 -1 0.6zM-79.8 -102.5l0.3 -0.6 2 0.2 0 1.8zM11.9 -101.5l2.5 0 -1.9 1.6 -1.1 -0.6zM77.9 -98.5l1.6 -0.6 5.7 0.6 3.3 0.9 0 1.4 4 1.6 12 -0.4 5 2.2 7 0.1 1 -0.9 5 -0.3 1.7 0.4 -0.9 3 1.2 0.3 0.3 -2.3 0.7 -0.5 1 0.9 6 -0.8 6 1.9 5 0.1 1 -0.7 3 0.8 4 -0.5 3 0.5 6 3.3 3.6 4 -2.6 3.7 -4 -0.2 -1 1.9 -4 -1.3 -1 -2.3 -3 0.5 -1 1.7 -1 0.4 -9 -0.3 -2.9 2.9 0.7 3 2.6 2 -1.4 0.9 -1 -0.5 -2 0.6 -1 -1.3 -1.9 -0.7 0.2 -2 -3.3 -2.2 -1.6 1.2 -0.2 2 -2.2 -0.7 -2 0.8 -1.7 -2.1 1.5 -2 -1.8 -0.9 -1 1.4 -1 0.1 -1.5 -1.6 0.5 -1.3 -2 1.9 -4 1.4 -0.9 2 -1.1 0.2 -2 -2.6 -2.5 -0.6 -1.5 -2.2 -1 1.5 -2 0.6 -2 -0.5 -1 -1.1 -0.9 1.7 0.5 2 -0.6 0.4 -2 -1.6 -2 1.9 -2 -1.8 -1 1.9 -3 -1.2 -3 0.6 -2 -0.9 -2.8 1.7 1.8 2.9 1.1 0.1 -1.1 1.4 -3 -0.3 -2.6 -2.1 2.9 -4 -0.3 -1 -2 0.7 -0.4 -2.7 -2.2 -1 -0.2 -3 0.8 -2.3 -2 0.6 -3.5 2.7 0.5 1.2 1 0.3 1.4 -0.5 -1.8 2 0.7 2 -0.3 2.4 -3 1.6 1 1.7 2 0 2 2.3 0.2 1 -1.2 0.5 -0.5 1.5 2 2 -2.1 0 -2.4 -3.4 -2.3 2.4 -3.7 0.7 -1 3.3 -2 1.4 -3.4 0.6 2.2 3 0.2 2.2 -1 0.2 -2.3 -2.4 -1.2 -3 0.5 -1.8 2 -1.2 1.1 -2 -1.1 -0.6 -1 0.8 -1.3 -0.2 0.9 -4 1.1 -1 -2.5 -1 0 -2 1.6 -1 0.9 -2 -0.4 -1 1 -1 -2.1 0 0.6 1 -0.8 0.5 -0.6 -0.5 0.5 -1 -0.5 -1 -1.3 0 -2.1 2 0.6 1 -1.6 0.1 -1 2.1 -1.5 -2.2 0.5 -0.9 2.5 -1.1 -1.5 -1.8 -1 2.4 -1 0.3 -2.7 -0.9 2.2 -2 -1.5 -1.6 -2.6 1.6 -0.3 4 -1.1 0.6 -0.3 1.4 1.3 0.7 1 -0.9 2.7 1.2 -3.7 1.1 -0.9 0.9 0.4 3 -0.5 1.8 -3 2.4 -3.4 0.8 -3.6 4.2 -1.1 -1.2 1.8 -2 -0.7 -1 -2.1 0 1.3 -4 -0.2 -1 -1 -1.4 -2 1.3 -1.5 -0.9 2 -1 -0.6 -1 -3.7 -2 0 -3 2.2 -2 -3 -3 -0.4 -3.1 -2.3 1.1 -0.6 1 1.2 2 -2.3 2.7 -3 0.4 -2 -2.3 -2 0.6 -3.2 -1.4 -0.4 -1 0.6 -1.6 1.7 -0.4 0.3 -0.8 1 0.5 1.9 -3.7 4.2 -4 4.9 -2 3 -0.3 5 1.9 4 0.3 3 0.8 1.4 1.3 -0.4 0.8 -5 0.2 0.4 1 1.6 1.4 3 0.1 0.8 -0.5 0.2 -2 2 0.7 1 -2.4 2 0.7 11 -2.4 4 0.3 0.8 -0.9 -0.6 -2 0.8 -1.3 4 1.8 2 -1.3 4 1.3 0.9 -0.5 -0.2 -2 4.9 -2 2.4 0.1zM82.5 -86.6l-3 0.8 -1 1 -2 -1.4 -2.6 0.7 -0.4 1 1 2.3 2 -1 2 0.2 1 1 3 -0.6 1 1.1 2 -0.7 1.2 0.7 0.8 1.7 1.7 -1.7 2.3 -0.6 1 -1.2 1 0.2 1 -1.4 -1 -1.4 -1 2.2 -3 -2.3zM114.5 -90.5l0 1 1 0.5 1 0.2 0.6 -0.7zM117.5 -85.6l1.8 5.1 -1 1 1.2 0.7 0.7 -1.7 2.3 -1.1 0.4 -0.9 -1.4 -0.9 -1 0.6 -1.4 -0.7 -0.6 -2.8zM121.5 -87.9l0 1.8 1 -0.4 0.1 -1 -0.1 -0.8zM128.5 -87.6l-2 0.3 -1.9 3.8 2 2 -1.1 3 3 0 1 1.2 1.1 -0.2 0.2 -1 -1.1 -2 1.8 -0.5 0.4 -1.5 -1.9 -2 0.4 -2zM37.5 -83.9l-1 0.4 0.9 2 -0.9 1.9 -1 -0.4 -2 0.9 -1 -0.7 -1.4 1.3 1.4 2.5 0.3 -1.5 1.7 -0.2 0.6 2.2 -1.6 1.7 -1.3 -0.7 -0.7 -1.4 -1.2 0.4 -0.8 1.3 -2 0.5 -0.9 1.2 1.9 1.8 2 -1.7 3 -0.8 1.9 1.7 0.1 2.4 2.3 -2.4 -1.4 -3 1.8 -2 -1.1 -2 0.4 -0.8 1.5 -0.2 -0.2 -3zM58.5 -79.4l0 2.6 2 0.9 0.7 -0.6zM64.5 -77.8l-2.6 1.3 0.6 3.2 1.5 -1.2 0.5 -1.6 1.7 -0.4zM45.3 -95.5l2.5 2 -0.3 1 -3 -0.3 -0.2 -1.7zM-23.8 -91.5l1.6 0 -1.3 1.2 -1.1 -0.2zM-156.1 -89.5l2.6 0.9 0.6 1.1 -0.6 0.5 -4 1.4 -2.8 -0.9 0.3 -1zM-46.5 -86.5l2 0 0 1.1 2 1.2 1 -1.5 3 -0.3 0.2 1.5 -3.4 3 0.2 1 -1 0.4 -3.6 -2.4zM-20.7 -86.5l6.8 0 -0.3 1 -2.3 1.5 -3.2 -0.5zM127.3 -85.5l1.8 1 -0.6 1.4 -1 -0.3zM-71.1 -82.5l1.6 -0.1 1 1.4 2 0.4 1 3 4 -1.3 1.4 4.6 3.7 4 -1.1 0.9 -4 -0.2 -1 1.9 2 0 1 1.2 1 -0.7 1 0.2 0.5 0.7 -1.7 2 0.2 1 2 1.4 3 -1.4 0 -3.5 7 -2.8 4 2.7 1 -0.2 1 2.2 2 0.2 2 2.2 1 0.1 2 -1.9 4.6 -1 0.4 -2 2 0.3 0.7 -2.3 1.3 -1 5.2 2 0.8 4.1 2 -1 2 -4.2 2 0.6 -0.4 1.5 1.4 1 -0.7 3 -3.3 0.6 -2 -1.6 -0.3 3 -1.7 0.9 -2 2.9 -2 1.4 -3 -0.1 -0.7 0.9 3.7 3.7 4 -0.5 2 1.4 2 -1.1 3.6 1.5 2.7 3 -0.1 1 -1.6 3 0.1 1 -3.7 3.9 -4 1.1 -2 -4.1 -2 -0.2 -2 -1.2 -1.3 0.5 -2.4 3 1.8 2 -0.4 5 -4.4 11 -1.8 2 -0.1 2 2.2 4 -2 3 -0.2 2 -1.1 2 -14.3 1.7 -3 -0.4 -5 -2 -1 0.4 -2 -2.2 -2.2 -0.5 0.3 -1 -2.7 -3 0.6 -3.8 -2 -2.4 -3 0.4 -1.8 1.8 1 2 -2.2 0.8 -7 -1.7 -2 0.4 -4 -0.7 -4 1 -2 1.2 -2 -0.2 -4 -3.4 -2 -5.8 -1.2 1.4 -2.8 1 -0.1 -3 2.1 -2 -1 -2.5 -4 0.1 -2 2.8 -4 -0.9 -1.2 -4.5 0.8 -4 -0.6 -0.6 -1 0.5 -1 -0.9 0.3 -1 1.7 -1.1 1 1.5 2 -2.2 3 -1.1 3 1.5 3 -1.1 3 0 2.1 1.5 0.3 4 2.6 0.5 0.9 -1.5 -0.6 -5 0.7 -1.9 7.5 -5.1 0.2 -2 0.9 -1 3.4 -2.6 2 2.3 1 -0.3 1 -3.5 1 0.2 -0.2 1.9 2.2 0.3 0.7 -2.3 -0.7 -2.1 -1 0.2 -1 1.6 0.6 -2.7 2.4 -1.1 2 4.2 2 -0.7 2.3 -1.4 2.4 -4 0.3 -2.4 4 -0.6 -2 -0.4 -1 -1.6 -1 0.1 -1 2.3 -1.1 -0.4 0.1 -4 -2.7 -3 1.7 0 0.7 -1 -0.7 -1.5 -1 0 -1 2.3 -2 -0.7 -1.8 -2.1 -0.1 -3 1.9 -2 -1 -1.2 -2 0.8 -1.1 -1.6 1.1 -1.8zM-52.5 -24.5l1 2.3 1.7 -0.3 1.3 1.4 2.2 -2.4 -1.2 -1.9zM-99.5 -27.1l-1 0.6 1 1.5 1 -1.5zM-94.5 -31.6l-3.6 1.1 0.6 0.9 4.3 1.1 0.7 1 -1.5 1 0.5 1.1 2 -0.7 1.7 0.6 -2.6 1 0.8 1 8.1 -0.1 3.1 -1.9 -1.1 -1.4 -5 -0.9 -5 -2.9zM-130.1 -77.5l0.6 -0.7 1.2 1.7 -1.2 1.9zM-4.7 -76.5l1.2 -0.9 1.3 0.9 -1.3 2.5 -0.8 -0.5 0.5 -1zM-75.5 -74.5l0.4 1 2.5 1 -0.6 1 -1.3 0.5 -3 -1.1 -0.3 2.6 -1.7 1.3 -0.5 -1.3 0.8 -2 3.5 -2zM-9.3 -72.5l2.8 -0.6 0.9 1.6 -2.9 1.4 -2.1 -1.4zM13.1 -72.5l0.9 0 0 1 1.4 1 -1.9 3.2 -0.6 -0.2 0.5 -2 -1.9 -0.9 -0.4 -1.1zM83.1 -72.5l1.4 -0.9 1 0.9 -1 0.5zM-161.3 -71.5l0.8 -0.9 2 0.9 -1 1.4 -1 0zM47.6 -71.5l0.9 -0.7 1 0.5 -1 2.2 -1 -0.4zM-153 -69.5l1.5 -0.2 1 1.1 2 0.6 1.4 2.5 1.6 1 2.6 0 0.4 3.4 0 -1.4 2 -2.2 2.1 0.2 0.5 -1 -0.8 -1 1.2 -0.7 1 -1.7 1.3 1.4 -1.8 2 1.5 1.5 1 -0.5 1 0.6 0 2.4 -2 3.2 -2 -0.5 -2 0.6 -1 -1.3 -3 -1.3 -4 3.1 -3.1 -0.8 -1.5 2 0.5 2 4.1 1.4 5.3 3.6 -0.9 5 -3.4 2.5 -2.2 -0.5 -2.1 1 0.3 3 1.7 3 -1.7 1.5 -5.1 1.5 -4.6 5 -0.3 1.6 -5 1.6 -3 2.2 -2 -0.1 -4 2.3 -3 -0.2 -1.3 -1.4 0.4 -2 -1.6 -2 0.6 -4 -2.1 -0.4 -2.3 -2.6 0.3 -3.4 -1 -0.6 -1 0.8 -1 -1.5 -2 1.7 -4 -1.4 -2 0.8 -0.3 1.6 1.3 3 -5 0.3 -6 2 -5 -0.4 -0.3 -1.9 1 -1 0 -2 1 -1 0.2 -2 1.1 -1 0 -1 1 1.8 2 -0.2 1.5 -1.6 0.5 -1.9 3 -1.7 2.8 0.6 -0.8 2 1.1 0 0.1 -2 0.8 -0.3 6 0.7 0.5 -0.4 -0.4 -2 2.9 -4 1.5 -1 2.5 0.2 2.8 -2.2 -0.2 -1 1.4 -2.5 1.6 -0.5 0.4 1 2 -1.4 2 0.1 0.9 -0.7 -0.9 -3 0.9 -2 -0.9 -2.4 2 -2.1 2.3 -0.5 0.1 -1 1.6 -1.3 2 -0.3 1 0.6 -1 2 -2.2 1 1.9 3 -1.5 1 0 1 3.8 3.3 3 0.5 1 -2 1.4 0.2 0.6 1 0.4 -2 -3.2 -5 1.9 -4zM-170.5 -41.5l-2.4 1 -0.4 1 0.8 1.3 3 -0.2 0.7 -1.1zM-159.5 -55.8l-1 1.3 2 2.1 0.8 -1.1zM-155.5 -57.5l0 1.9 1 0.2 0.6 -1.1zM43.9 -69.5l0.6 -0.7 1.9 0.7 -1.9 1.5 -0.9 -0.5zM84.6 -69.5l0.9 -0.9 1.1 0.9 -1.1 1zM-160.5 -68.5l1 -0.5 1.7 0.5 -1.7 0.8zM6 -68.5l0.5 -0.4 2 1.9 2 -1.1 1.4 0.6 -0.5 1 1.1 0.8 3 -1.6 3 0.1 -0.4 -1.3 1.4 -0.7 1.4 0.7 -0.3 1 1 1 -2.1 0.4 -1 1.5 -2 -0.7 -2 0.4 -0.3 3.4 -1.7 3 -2 -2.4 0.5 -2.6 -4.5 -0.2 -2 1 -3.3 -1.8 1.3 -1.1 2 0.7 1.3 -1.6zM128.4 -68.5l1.9 1 -1.8 0.5 -1 -0.4zM134.3 -68.5l2.3 0 0.9 3.2 -3.3 -2.2zM-98.1 -65.5l0.8 0 -0.1 2 0.9 1.4 2 -0.2 3.6 1.8 -0.6 0.8 -3 -1.3 -0.7 0.5 0.7 2.6 1 0.3 0.4 1.1 0.2 3 -3.6 1.6 -4 -2.3 0 1.2 2.7 2.5 0.2 1 -2.1 2 0.1 1 1.1 -0.8 1.5 0.8 -3.5 3.2 -4 -2.5 0.5 4.3 -1.5 0.3 -1 -2 -3 2.2 -1 -0.1 -0.6 -0.4 2.2 -3 -3.3 -2 1.3 -4 0.4 -0.4 2.9 1.4 1.1 3 0.5 -4 3.5 -3.5 2 -1 0 -1.9 2 0.1 0.2 -0.7 -0.2 -1.9 -1 -0.5 -2 -0.9 -2 0.8 -4 4.5 -0.3 3 -0.7 0.6 -1.2 -2.6 1 -1 -0.4 -2 1.6 -0.8 0.2 -1.2 -1.9 -1 1.7 -1.7 2 1.2 1 0 1 -1.1 1 0.7 1 -0.3 1 -1.9 2.8 0.1zM42.4 -65.5l2.3 1 -0.3 1 -1.9 1.4 -0.7 -1.4zM89.6 -64.5l1.2 0 -0.3 2.5 -1.1 -1.5zM16.9 -63.5l1.6 -0.7 -1 3 -1.2 -0.3 -0.6 -1zM126.1 -63.5l0.4 -0.5 2.8 2.5 -0.8 1.1 -1 0.3 -1.5 -1.4zM21.4 -62.5l2.3 1 -0.2 3.1 -0.3 -1.1 -2.1 -1zM-113.2 -61.5l0.7 -0.9 2.3 2.9 -3.3 0.1 -1 -1.1zM32.4 -61.5l1.1 -0.5 2 1.7 2 0.4 0.9 -0.6 0.1 -1.7 0.9 0.7 -0.8 1 0.9 0.6 3 -0.8 0.2 2.2 0.8 0.4 1 -1.2 2.8 1.8 -0.8 1.3 -1 -0.6 -2 1.4 -3 -0.3 -3 -1.4 -3 1 -3 -0.3 -0.6 -1.1zM62.4 -61.5l0.1 -0.9 1 0 1 1.9 -1 0.3zM122.2 -59.5l0.4 0 -0.1 2.3 -1.4 -1.3zM-190.3 -58.5l0.8 -0.2 0.9 1.2 0.1 1 -1 1.3 -1 0 -1.1 -1.3zM-114.8 -55.5l2.3 -1 0.7 1 -0.8 1 -1.9 0.4zM35.7 -55.5l0.8 -0.7 3 1.3 1 1.4 -2 0.9 -2 -0.2 -1.2 -1.7zM-114.1 -52.5l1.1 0 0.5 1.4 -2.6 -0.4zM-88.7 -52.5l0.2 1.2 -3.7 -0.2zM123.6 -51.5l2.9 -0.5 1.5 0.5 -0.2 1 -2.6 2 -0.7 5.3 -0.9 -0.3 -0.4 -3 -1.8 -2 2.4 -1zM158.4 -51.5l3.1 0.8 1 2 2 1.5 5 -1.4 7 0.4 4 -1.4 1 1.7 2 -0.2 3 1.5 6 -1.7 2 -2.6 4 0.3 2 1.1 3.2 4 4 8 1.1 5 0.9 1 -0.9 5 -0.6 1 -1.7 0.7 -2 -0.9 -1 1.2 -6 -0.6 -1 0.2 -1 1.4 -7 0.4 -3 -2.5 -2 0.7 -5 -0.3 -6.2 -3.3 -1.2 0 -1.6 1.2 -2 -1.7 -2 0.9 -0.3 1.6 -1.7 1.4 -5 -0.4 -0.6 -1 0.1 -2 -1.5 -0.5 -1 -2.5 0.6 -2 -1.4 -4 0.7 -1 -0.9 -1.4 -1 2 -2.3 1.4 -0.5 2 0.8 1 -2.4 2 0.4 0.9 2 -0.3 2.5 4.4 -1.5 0.2 -1.4 2.8 1.6 2 -1.5 3 1.3 1 0.6 2 -1.4 2 -0.2 2 -2.6 -2 0.4 -2 -1.8 -1.5 -1 2.2 -2 -0.7 -0.5 1 1.6 3 -2.1 3.2 -2 0.6 -3 -0.5 -4 1.3 -4 -1.3 0 -3.3 1.3 -3 -1.3 -2 -0.1 -4 -2.3 -2 2 -2 1.4 -2.7 1 1 1.5 -0.3 4.5 -6.7 0 2.7 2 1.9 1.7 -1.9 0.3 -4.8 3 -0.6 2 1.2 1.7 -0.8 0.6 -2 -3.3 -1.5 -2 -2.1 -1.7 -0.4 0.1 -3 0.9 -1 2.7 -2.1 -0.8 3.1 1.8 2.2 2 0.6 1.4 -1.8 7.2 -4zM141.5 -25.3l-0.7 0.8 0.1 4 1.6 1.9 2 0.3 -0.4 -6.2zM-94.8 -49.5l2.8 0 -2.5 2.7 -0.8 -1.7zM125.9 -46.5l0.6 -0.8 3.1 1.8 -0.8 2 1.4 2 -2.6 -1 0.6 -1 -0.8 -2zM-117.1 -45.5l0.6 -0.6 2 0.8 0.8 2.8 -0.3 1 -1.5 1.6 -2 -1.2 -1 -0.1 -1 1.2 -0.4 -1.5 1.4 -2.8 0.9 0.8 0.1 1.5 1.5 -0.5zM-124.2 -38.5l1.7 -0.1 0.3 1.1 -1.3 0.5zM-116.9 -37.5l1.4 -0.9 0.9 0.9 0 1zM123.3 -35.5l4.2 -0.7 2 1.4 1 -0.6 1.4 0.9 -1.8 1 -0.3 1 -3.3 1.6 -1.7 -1.6zM73.2 -33.5l3.3 0.1 3.3 2.9 1.7 3.4 2 -0.2 0.6 0.8 0.1 2 2 5 -4.7 6.4 -2.8 -0.4 -2.2 -4.4 -8.7 -5.6 2.1 -4 0.7 -3 -1.2 -2zM80.5 -26.1l-2.6 1.6 2.7 1zM-125.8 -30.5l1.3 -0.2 0 1.4 -1 0.6 -0.9 -0.8zM-195.3 -28.5l0.8 -0.9 5 1.9 -1 1.1 -3.4 0.9 -0.6 1.2 -1.4 -1.2zM125.4 -27.5l1.1 -0.6 0.6 0.6 -0.6 3.2 -1 -0.7zM167.2 -24.5l1.5 1 0.2 1 -1.8 0zM-193.6 -21.5l1.1 -0.3 4 1.2 0.1 1.1 -1.1 0.2 -2 -1 -2 0.2zM41.2 -11.5l2.3 0 0.5 1 -0.5 0.9 -2.8 -0.9zM126.3 -9.5l1.1 1 0.1 3 -2 1.3 0 -1.9 1.9 -0.4 -1.3 -2zM-73.1 -8.5l1.6 -1 1.9 1 -1.1 1 0.2 0.7 1.6 0.3 -0.6 1 1 0.7 0 -3.1 5 -0.1 3 3 2 3.5 9 -0.1 2 2.2 18 -1.1 21 0.2 15 -4 5 1.9 2.7 -3.1 -0.4 -1 1.7 -0.1 2 -1.7 1 0.7 2 -1 3.3 2.1 -1.9 2 0.5 1 -1.5 1 0.6 1.4 2 0.2 2.2 2.4 -1.2 0.8 -1 -1.4 -1 1.1 -1 -0.3 -1 -1.5 -1.6 1.3 0.6 1.9 1.8 1.1 -0.3 2 1 2 -1.5 3 -1 -1.7 -2.3 -0.3 1.4 -1 -0.7 -2 0.6 -1 -0.9 -1 -2.5 1 -0.6 1.9 -2 -3.6 -3 2.6 -3 0.1 -3 1.9 -5 0.9 -7 4.7 -3 -1.4 -3.6 0.9 2.4 2 -0.3 3 -8.5 6.7 -4 -1 -2 1.5 -1 -0.6 -5 2.4 -4 -0.9 -1 0.7 -3 -1.5 -2.2 -3.3 -3.8 -1 -1 0.5 -1 -2.2 -1.3 -0.3 0 -1 -2.7 -1.9 -1.5 0.9 0 2 -1.5 0.2 -0.2 3.8 2.2 -0.8 1 0.7 -0.9 2.1 2.6 2 -0.7 0.9 -1 -0.1 -1.6 -1.8 0.4 -1 -1.8 -0.3 -1 0.9 -2.6 0.4 -0.4 1.5 -1.8 1.5 1.8 2.4 0.6 -1.4 -0.8 -1 1.2 -1 3 2 -1 2 1.4 2 -0.4 2.8 -1.8 -1.8 0.6 -2 -3.8 -0.5 -3 -1.8 -0.1 1.3 1.1 0.3 0.8 1.7 -0.8 1 -2 0.7 -3 -0.5 -1 -1.5 -2 -0.9 -2 1.4 -1.8 -2.2 0.2 -1 2.3 -1 -0.6 -1 -1.1 0 -1 1.3 -3 -0.3 -1 -2.4 -1.1 0.4 -1.1 -4 0.2 -2.5 -4 -0.8 -0.6 -0.7 -0.3 -3 3 -2 -1.1 -0.1 -2 -2.2 -1 1 -1.3 -1.7 1.2 -2 -1 -2 0.3 -2 -1 -4 0.4 -1 4.2 -3 -1.2 -1 1 -2 -0.6 -1 3 -1.1 2 2.7 1.4 -1.6 1.6 0.3 3 -0.8zM-63.5 13.2l0 1.2 1 0.8 0.4 -1.7 -0.4 -0.8zM-61.5 17.4l1 0.8 1.5 -0.7 -1.5 -0.7zM-59.5 12.8l-1.8 2.7 0.8 0.8 1 -0.4 1 -2.4zM-58.5 7.9l0.5 4.6 2.5 2.7 0.6 -0.7 -1.4 -2 0.1 -4zM-47.5 17.2l-1.5 1.3 0.5 0.9 3 0.5 -0.6 -2.4zM-46.5 6.4l-0.8 1.1 0.3 1 2.1 1 -1.5 5 0.9 1.9 1 0.4 3.3 -4.3 0.5 -3 -0.8 -1.4 -2 0.5 -1 -2.6zM-71.5 25.7l-0.6 1.8 0.6 0.7 1 -0.2 0.6 -0.5 -0.4 -1zM-63.5 15.5l-1 2 0 2.3 -2 -0.4 -0.1 1.1 -2.8 1 1.9 1.1 1.5 -0.1 -1.3 2 1.8 1.9 3 0 0.7 -1.9 2 -1 -3.1 -4 0.1 -3zM-51.5 13.3l-0.5 2.2 0.5 0.6 2 -0.4 0.9 -1.2 -1.9 -1.7zM-78.5 15.3l-1 2.1 -2.6 1.1 0.6 0.8 2 0.6 0 -2.2 1.5 -0.2 0.6 -2 -0.1 -0.6zM-77.5 23.2l-2.1 2.3 0.1 1 4 0.7 0.8 -0.7 -0.4 -2 -1.4 -1.3zM25.7 -7.5l3.8 1.1 0.4 1.9 -0.4 0.5 -2 -0.7 -3 2.4 -0.8 -1.2 0.2 -2zM29 -7.5l3.5 -0.1 0.5 1.1 -0.5 0.7zM43.5 -7.5l1 -0.8 1.1 0.8 3 4 -3.1 0.2 -0.5 1.8 4.5 4.6 8 -9.2 3 -1 5 0.1 5 1.6 3 -0.5 3 0.9 1.8 2.5 4.2 1 0.5 1 -17.2 2 -0.8 1 -0.1 5 -1.4 0.5 -5 0.2 -8 -4.1 -3 0.5 -0.7 2.9 0.4 5 1 1 -0.6 4 0.5 2 -2.6 3.3 -2 1.5 -2.1 0.2 -0.8 3 -2.1 -1 0 -1.3 -1 -0.3 -0.6 0.6 0.6 3 1 0.2 2.2 2.8 0 1 -2.2 1.7 -1 -2 -1.5 0.3 0 2 1.6 1 -0.1 2 -3.1 0 -0.1 -2 -0.8 -0.2 -5 1.4 -1 -1.1 -3.9 0.9 -0.1 -1 2 -1.8 1 0.2 1 1.3 2 -0.1 1.3 -0.6 -0.3 -2.2 3.3 -0.8 -0.2 -1 -2.4 -1 -1.2 -2 -0.2 -2 2.5 -3 -1.8 -0.8 -3.3 3.8 0 3 -0.7 1.1 -1.7 -1.1 -0.1 -1 1.2 -1 -0.1 -1 -1.6 -1 2.7 -2 -0.4 -1.7 -1 0.4 -0.9 -1.7 0.9 -1.3 2 -0.5 1 0.9 0.5 -1.1 1.5 -0.6 2.5 0.6 -0.1 -1 1.2 -1 -1 -1 0.4 -0.6 2 -0.1 2.8 1.7 -0.6 1 1.9 2 -0.3 1 1.8 0 1 -1 -0.5 -1 1.1 -2 -2.2 0.5 -1.7 -1.5 0.7 -1.9 2.4 -1.1 -0.9 -2 1.7 -2 -1.8 -2 2.2 -3 -5.4 -3 3.8 -3 -0.8 -1zM33.5 21.3l-0.5 1.2 1.5 1.7 0.9 -0.7 0 -1 -0.9 -1.4zM33.5 -3.5l2 -0.6 2.9 0.6 -0.9 2 -3 0.2 -3.1 -1.2zM-156.1 -2.5l43.6 0.9 7 -0.7 4.4 0.8 2.7 3 -0.5 1 -3.6 0.6 -12 -0.8 -3 0.8 -5 -0.4 -6 1 -1.9 1.8 -0.1 3.3 -4 2.3 -5 -2.7 -1 -0.9 0 -2.1 -2 -0.8 -3 0 -1 1 -2 -0.4 -2 1.3 -0.8 2 -3.2 1.5 0 -2.7 -2 0.9 -1 -0.3 -2 -1.9 -1.5 -0.5 -0.5 -1.7 -7 -1.2 -6.6 0.9 -1 1 0.9 2 -0.3 1.5 -2 0.7 -3 0 -0.9 -1.2 1.1 -1 0 -1 -3.2 -1.9 -2.6 0.9 -1.4 1.8 -1.3 -1.8 -7.7 -1.4 -3 -1.4 -8 1.9 -5 -1.3 -1 -1.8 0.1 -1 0.9 -0.4 4 -0.7 6 0.5 7 -0.8 16 -0.2 9 1.4zM119 -2.5l1.5 -0.1 1.3 1.1 -0.7 1 2.2 5 -2.1 1 1.9 2 0.7 1 -0.3 1.3 1.1 0.7 -2.6 1 0.3 4 -0.7 3 2 3 -0.8 5 -1.6 2 -4.7 1.7 -5 -1.6 -1 0.9 -3 0.4 -1.6 -1.4 -0.8 -5 -5.2 -8 -4.4 -2.7 0.3 -2.3 -1.1 -2 0.8 -1.1 3 -0.9 7 -0.3 10 1.2 3 -0.7 1.6 -1.2 0.3 -1zM115.5 8.4l0 2 1 0.1 0.3 -1zM127.1 -2.5l1.6 1 1.8 4.9 2 -0.4 0.7 0.5 -1.6 1 6.6 2 -0.6 1 -3.1 1.3 -3 -1.6 -1 0.3 -0.5 1 2.7 1 -1.2 1.4 -4 -0.9 -0.8 -1.5 1.5 -1 -0.9 -1 -0.1 -2 -3.7 -6zM132.4 -2.5l-0.9 3.1 -0.5 -2.1zM27.1 -1.5l0.4 -0.9 1.8 0.9 0.1 2 -0.9 0.8zM101 -1.5l3.5 -0.9 4.5 0.9 0.5 1 -6 1.2 -5.1 -1.2zM114.1 -1.5l2.4 -0.2 1.1 1.2 -3.1 0.3 -1 -0.3zM187.2 0.5l1.3 -0.9 2 0.5 2 -0.5 3 0.9 -0.8 1 -1.2 0.1 -2 -1 -3 0.7zM23.3 3.5l0.8 2 -0.6 1.2 -1 0.1zM26.4 3.5l1.2 0 -0.5 1 1.7 2 -1.3 0.9 -1.9 -1.9zM32.4 3.5l1.4 0 0.5 2 1.2 0 0.6 1 -0.9 1 1.1 2 -0.8 2.7 -1.4 -1.7 0.4 -1.4 -2 0.7 -1 -1.1 -1 0.5 0.8 2.3 -1.8 0.4 -1.6 -2.4 3.2 -2zM-94 5.5l0.5 -0.5 0.9 1.5 -0.8 1 -0.1 2.1 -1 0 -1.5 -2.1 0.5 -0.6 1 0.4zM37.7 6.5l0.8 -0.9 2 0.7 -1 2.7 -2.5 -0.5zM24.4 7.5l1.1 -0.4 1.8 1.4 -0.2 1 -2 1 -0.4 1 0.8 1.5 2 -0.9 0 1.6 -3 0.7 -1.9 -0.9 1.2 -2 -0.7 -3zM73 7.5l1.1 0 0.4 1 -1 0.6 -1.3 -0.6zM82.3 7.5l7.2 -0.4 2 2.4 -3 1.9 -1 -2.8 -2 0.1zM17 12.5l3.5 -1 1.1 2 -0.5 2 1.8 1 -0.2 1 -1.2 -0.6 -1 1.4 -1 -0.7 0.5 -1.1 -2 -1zM62.4 14.5l1.1 -0.1 2.9 2.1 -1.9 3.5 -2 -0.6 -1.6 -1.9 0.3 -2zM71.1 14.5l1.4 0.5 4 -1 2.7 0.5 1.3 1.6 3 1.5 3 2.7 1 3.4 3 0.9 0.4 -1.1 1.6 -0.2 1.2 2.2 -2.6 3 -3.6 1.1 -2 -0.4 -2 -2.6 -2 1 -5 0.6 -1 1.4 -3 -0.6 0.8 -3.5 -2.2 -2 0.8 -3 -1.1 -2 0.3 -2 -0.8 -1zM-180.3 16.5l1.8 -0.1 0.5 1.1 -2.5 3.2 -0.5 -1.2 0.7 -1 -0.5 -1zM-88.6 16.5l1.1 -0.4 0.7 1.4 -1.7 0.1zM154.9 17.5l1.6 -0.1 0 1.1 2.3 1 0 1 -1.3 -0.9 -2.4 -0.1 0.9 -1zM148 19.5l2 0 0.4 1 -0.9 2.2 -1 -1.2 -2 1 -0.3 -1zM-178.5 20.5l2.8 2 -3.8 4 -1.1 -3zM22.4 20.5l0.8 2 -2.7 -0.8 -2 2.8 -3.7 -1 -0.3 -1 2 0.2 1 -2.1 1 1 1 -1.1 1 0.7zM-63.9 22.5l1.8 0 -0.4 1 -1 0.2zM138.7 23.5l0.8 -0.8 1 0.3 0.7 1.5 -1.6 2 0.3 2 1.8 1 -2.2 1.3 -2.2 -2.3 1.9 -2 -0.8 -1zM-49.6 24.5l1 2 -0.9 0.6 -1.1 -0.6zM52.3 24.5l3.9 2 -1.6 6 -1.1 0.6 -0.7 -0.6 0.1 -2 -1.4 0.8 -1 -1.8 2.2 -3zM-80.7 31.5l0.2 -0.7 1.5 0.7 -1.5 1.8zM-80.1 34.5l1.6 -0.9 2.1 0.9 -0.3 1 -1.8 1.4zM-74.3 36.5l1.8 0.3 0.4 1.7 -2.4 -0.2 -0.4 -0.8zM-62.1 37.5l0.6 -0.8 4 2.3 0 1.1 -1 0.9 -2 -0.2 -1.7 -2.3zM-66.7 39.5l3.2 -0.5 1.2 0.5 -2.2 2.7 -2 0.8 -1.9 -1.5zM27.5 39.5l1 -0.7 1.6 0.7 -1.5 2 -0.1 1.5zM-50 41.5l0.5 -0.7 2 0.2 1.9 1.5 -1 3 -0.9 0.7 -2 -1.7zM22.8 41.5l2.1 0 1.8 1 -2.2 0.7 -2 -0.3zM-71.1 42.5l1.6 -0.4 0.7 1.4 -0.7 0.3z"/><path fill="#6bacd1" d="M-57.9 -103.5l1.8 0 -0.4 2 -3 0.3 -3 2.9 -1 0.2 -1.5 -1.4 0.5 -2.2 1 -0.6zM-53.7 -100.5l2.2 -0.9 0.9 0.9 -0.9 1.3zM-68.2 -99.5l0.7 -0.4 2.3 1.4 0.4 3 1.3 0.3 5 4.2 2.7 3.5 -0.7 0.5 -3 0.1 -1 2 -3 -0.2 -1 1.4 -2.4 -0.8 0.2 -1 1.5 -1 -0.2 -1 1.4 -2 -0.5 -0.4 -2 -0.8 -3 0.7 -3 2.7 -2 -1.5 -1.1 0.3 1.5 3 -0.4 1.4 -4 0 -1 -1.9 -8 4.1 -2.5 3.4 0.2 3 -0.7 0.7 -2 -1.2 -2 3.1 -2 -0.2 -1 -1.3 -1 3.5 -3 -1.6 -2 0.6 -2 -0.9 -1 0.7 -1 -0.8 -0.4 -2.6 1.4 -1 1 1 0.3 -1 -1.2 -1 -0.1 -1.4 -1 -0.2 -1 1.2 -0.9 -0.6 0.4 -1 2.5 -1.2 0.5 -0.8 -0.4 -1 2.3 -2 -0.4 -1.2 2.2 -0.8 -0.1 -1 0.9 -0.8 1 0.4 1.7 -4.6 -0.6 -2 0.9 -0.9 2 0.8 0 1.2 1 0 2 -1.5 3 0.8 1 -0.6 1 0.6 5.8 -2.4 2.2 -2.1 1.8 0.1 -1.8 2 1 0.4 3 -0.6 2 -1.3 2 0.8 3 -0.6zM-104.5 -81.2l-0.8 0.7 0.8 1.3 1.2 -1.3zM-103.5 -83.6l0.5 2.1 1.9 0 -1.1 -2zM-102.5 -75.9l-0.6 2.4 1.6 0.9 1.2 -2.9zM79 -98.5l1 0 0.5 2.2 1.2 -0.2 -0.2 -1.1 3 -0.2 1.3 0.3 0.1 1 1.6 -0.1 1 1.7 2.4 0.4 -1.4 0.9 -1.1 2.1 -1.9 1 -1 3 -2 -1.7 -1.8 0.7 0.4 1 -0.6 0.4 -1.7 -0.4 0 -1 -1.3 -0.3 0.6 1.3 -0.6 0.5 -3 0.1 -2 -1.1 -2 0.1 -2 -2.1 -0.7 2.5 -4.3 2.8 -2.3 0.2 0.5 2 -3.2 1.8 -0.6 -0.8 0.6 -1.3 1 0.3 1 -3.2 -1 0.5 -1 -0.9 -2 0.2 -0.7 1.4 1.5 1 -0.8 2.1 -3 -0.6 0.3 -1.5 -1.3 -2.7 -2 -1.2 -0.6 0.9 2 2 -0.4 2 0.5 1 -2.5 1.2 -0.7 -2.2 0.4 -2 -0.7 -0.5 -5 1 -1.5 -0.5 1.3 -4 1.2 0.1 1.6 -1.1 7.4 -0.9 3.4 0.9 1.1 -2 -1.8 -1 0.3 -1.8 4.8 2.8 0.3 3 1.9 0.8 1 -1.8 -0.3 -1 0.6 0 -0.3 1 1.4 0 -0.3 -2 4.8 -1 -1.9 -0.6 -1 -1.4 0.9 -1 2.1 0.3 1 -1.4 4 -0.1zM85.5 -94.5l-0.9 1 0.9 1.3 1 0 0.7 -1.3zM63 -93.5l2.3 0 0.3 1 -1.1 1.8 -1.6 -0.8zM91.3 -93.5l4.2 -0.1 2 1 1 -1.3 1 0.6 1 -0.9 2 0 1 0.7 -1.3 2 -1.7 0.7 -1 -0.5 -0.8 0.8 0.3 1 -3.1 2 3.6 1.5 3.3 -2.5 0.6 -3 2.1 1.3 1.4 -1.3 -1 -2 1.6 -0.1 2 1.4 2.5 -0.3 -0.1 2 1.1 1 -0.1 2 0.7 1 -0.6 1 0.8 1 0.1 2 -2.4 0.9 -1 -1 -3 -0.4 -1 -0.9 -0.6 0.4 0.6 1.5 1 -0.4 2 1 2 0 0.7 0.9 -1.7 1.7 -1 -0.9 -3 0.1 0 1.1 -1 0.6 -1 -0.4 -0.1 -2.2 -1.9 -2.8 -2 0.3 -2 -1.9 -2 0.9 -1 -0.4 -0.2 -2.1 -1.3 -1 -0.5 -1.7 -1 -0.3 0.9 -2zM103.5 -86l-1.4 1.5 0.4 0.5 1.5 -0.5 0.3 -1zM106.5 -87.7l-0.8 1.2 1.8 0.4 1.7 -1.4 -0.7 -0.8zM110.5 -86.9l-0.7 1.4 0.7 1.7 1.7 -1.7 0 -1zM117.6 -92.5l4.9 -0.8 0.2 0.8 -2.2 1.6 -2 0.1 -1.2 -0.7zM17.9 -91.5l4.6 -0.9 1.4 0.9 0.6 1.9 1 0.1 1 -1.1 6.6 1.1 -2.6 0.8 -1.1 3.2 -4 2 1.1 0.1 0.6 0.9 -1.6 2.2 -5 -0.3 -0.5 -2.9 1.8 -2 -0.3 -0.7 -1 0.1 -4.6 4.6 -0.1 3 -1.3 0.4 -0.8 -0.4 1.2 -1 -0.4 -1.4 -4 0.2 -1 -1.8 0.8 -3 1.2 -1.4 3 -1.9 0.7 -1.7zM-124.4 -90.5l1.4 0 0.6 2 -2.1 0.7 -0.4 -0.7zM-104.6 -90.5l2.2 0 -2.1 1.6zM89.3 -90.5l3.2 1 -2 1.3 -1 -0.1 -0.8 -1.2zM134.3 -90.5l1.2 -0.9 2 0.9 1 2.9 1 -0.9 2 0.4 0.6 -0.4 -0.5 -1 0.9 -0.3 1 0.8 3 -1.6 1 0.7 4 -0.7 2 0.8 2 -0.2 2.6 2.5 -0.9 1 0.8 1 3 1 1.1 3 -0.6 1 -2 0.1 -1 -1.8 -4 2.7 -2.9 -3 -1.1 0 -2 0.4 -3 2.6 0 -2.3 -1 0 -2 1.9 -2 -0.7 -0.8 -1.9 -1.7 -1 0.1 -1 2.3 -1 0.1 -1 -2 -0.9 -2 1.2 -2 0.1 -0.6 -1.4 1.5 -2zM-154.6 -88.5l0.3 1 -3.2 1 -0.2 -1 2.2 -0.1zM-143.7 -88.5l5.2 -0.4 4.2 3.4 -2.2 0.6 -0.9 1.4 3 2 -3.1 0.5 -2.8 -0.5 0.5 -1 -0.7 -1.2 -0.1 2.2 -0.9 1.1 -3 -1.7 -2 1.3 -0.5 -1.7 0.5 -1 1 0.6 0.6 -1.6 -1.2 -2zM-130.2 -87.5l1.1 0 -0.2 1 -1.8 2 2.8 1 -1.2 1.4 -1.4 -0.4 -0.6 -1zM-118.7 -87.5l1.3 1 -0.5 1 -2.5 0 0.9 -0.1zM-124.6 -85.5l4.1 0.6 0 3.1 -1 -1 -3 -0.4 -0.9 -1.3zM-113.7 -84.5l2.4 0 -1.2 1.3zM29.9 -84.5l0.6 -0.9 1.4 0.9 -1.4 2.3 -0.8 -1.3zM-116.1 -83.5l0.6 -0.7 1.5 0.7 -1.5 1.5zM135 -82.5l0.5 -0.8 1.9 0.8 -0.9 1.1 -1 -0.1zM-123.8 -81.5l2.3 0.9 0 2.9 -3.4 -1.8 -0.4 -1zM65.1 -81.5l1 1 -0.6 1.2 -1.4 -1.2zM-149.9 -80.5l1.6 1 -2.5 0zM88.9 -80.5l1.6 -0.4 0 2 -1 0.4 -0.9 -1zM24.1 -78.5l2.4 -0.3 1 1.3 -3 1.1zM86.3 -77.5l1.2 -0.8 0.5 0.8 -0.5 0.9zM-65.7 -76.5l1.2 -0.9 0.9 1.9 -0.9 0.7zM-69.9 -75.5l0.4 -0.5 1 0.8 1 -0.8 0.7 0.5 -0.7 2.3 -2 0.1zM132.5 -74.5l1.6 0 -0.6 1.5 -1.4 -0.5zM-93.4 -73.5l1.9 -1 0.8 1 -0.8 1.8zM-87.1 -73.5l0.6 -1 1 0 2.2 1 -1.2 1.5zM75.5 -73.5l1 -0.2 1 1.4 -2 0zM58.4 -72.5l0.5 1 2.6 -0.6 3 0.7 1.2 1.9 -1.9 1 -1.3 2.3 -2 0.2 -4 -2.5 -0.4 -1 2.3 -2zM-109.6 -71.5l1.1 -0.2 0.3 1.2 -1.3 1.7zM32 -70.5l1.5 -0.4 -0.7 1.4 0.4 1 1.3 -0.1 1 1.8 0.9 0.3 -0.9 1.7 -1 -0.3 -2 1.1 -0.7 -0.5 0.5 -4 -3.2 -1zM9.7 -65.5l0.8 -0.6 1.4 1.6 -3.7 0 1.3 -0.3zM28.3 -65.5l1.8 1 -0.6 0.7 -1 -0.3zM-98.9 -62.5l1.4 0.5 0.5 1.5 1.5 1.1 0.1 3.9 -1.1 2 -1.3 -2 0.6 -3 -0.6 -2 -1.3 -1zM-62.8 -52.5l2.3 0.8 1 5.3 2 0.9 3 -0.8 2 1.6 1.3 4.2 1.7 2.1 1 -0.9 2 1.5 2 -1 0.8 -2.7 -0.5 -2 0.7 -2.7 2.9 0.7 -1.1 2 1.2 1.1 1 -0.2 1.2 -1.9 -0.7 -2 0.7 0 -0.1 1 2.1 1 -0.2 4.3 4.6 4.7 0.5 4 -1.1 1.7 -0.4 -0.7 -1 0 1.4 2 -5 2.4 -2 -0.7 -2 -3.3 -2 0.9 -4 -1 -3 0.2 -3.2 -2.5 -0.5 -1 1 -1 -0.6 -1 -1.7 -0.2 -4 3 -2 -0.5 -2 1 -1 -0.2 -3.1 2.9 0.3 3 -1.2 1.7 -3 0.3 -1 -0.6 -2 0.7 -1 -0.2 -1 -1.9 -5 -2.2 -2 -2.9 -3 -0.4 -1.7 -2.5 -0.3 -3.4 -1.4 -1.6 2.4 -1.5 2.6 -0.5 1.4 -1.9 -0.3 -1.1 2.3 -1 0 -1.4 9 -0.1 2 -1.7 2.3 0.2zM-62.5 -36.9l-1.1 1.4 1.1 0.9 1 -0.9zM-167 -50.5l1.8 0 0.1 2 0.6 0.2 4 -1 2 1.6 2 -0.9 0.5 1.1 -0.1 1 -1.5 1 -0.9 3.1 -2 0.5 -1 1.4 1 5 -2 2.7 -1 -0.7 1.4 -3 -1 -2 -8.9 -10 0.3 -1 2.2 -0.9 1 1.4zM-104.8 -50.5l1.3 -0.6 0.5 0.6 2.7 5 -0.2 0.7 -2.4 -1.7 1.3 -1 -3 0 -0.8 -2zM-29.1 -48.5l2.6 -0.1 0.7 1.1 -1.7 0.9 -1.6 -0.9zM-16.6 -47.5l4.1 1 0.2 4 -1.2 1.4 -1 0.2 -0.1 -2.6zM168.9 -45.5l3.6 -0.6 4 2.3 5 -0.5 1 0.8 3 0.5 2 -0.6 3 0.7 3 -1 3 2.4 3 0.8 2 -0.5 1.8 1.7 0.2 3 2 -0.9 1 2 0.6 1.9 -0.7 3 -3.9 1 -2 -1 -7 3 -2 -1.5 -4 -1.4 -7 1.6 -2.6 -2.7 -3.4 -6.5 -2 0.1 -2 1.1 -4.6 -1.7 0.4 -6zM-107.2 -38.5l6.7 0.2 1.3 0.8 1.4 3 -1.7 2.3 -6 0.6 -1.2 -0.9 0 -1 -2.1 -1 0.4 -3zM136.9 -22.5l1.6 -0.6 2.3 5.6 3.1 1 -1.4 2.8 -0.1 -0.8 -1.9 -0.8 -3 1.1 -1 -0.3 -0.5 -1 0.8 -2 -0.7 -3zM-44.9 -19.5l2.4 -0.7 4.7 2.7 1 2 0.5 4 -1.2 2 -3 2 -5 0.8 -9 -2.2 -1.6 -3.6 0.9 -2 3.7 -2.6zM136.2 -10.5l2.3 -0.9 0 0.9 -1 0.6 -1 0.1zM-66.6 -5.5l0.6 1 -0.5 1.2 -1.2 -1.2zM-83.7 -4.5l1.2 -0.5 0.4 0.5 -0.3 2 3 0 1.2 2 -0.3 0.7 -2 0.3 0.6 1 0.7 0 2.7 -2.7 1 0.2 1 -2 1 -0.2 2 2.1 2 -1.2 1.5 0.8 -0.5 1.9 -1.3 0.1 0.3 1.3 2 0.6 0.1 -1.9 4.9 -5.5 2 1.4 1.5 3.1 2.5 2.1 1 -0.4 2.6 1.3 0.4 1.8 2 -0.4 2.7 0.6 -2.5 2 1.1 2 -1.3 0.7 -0.8 -0.7 0.7 -1 -0.9 -0.6 -1 -2.2 -1 1 -5.8 1.8 -2.2 5.4 -1 -1.9 -1 0.5 -1 -0.5 -1 -1.9 -4.8 -1.6 -1.2 3.7 -2 0.2 -0.8 1.1 0.8 0.8 1 -0.1 1 -1.4 4 -1.5 0.5 1.2 -0.5 1.6 -2 -1.2 0 1.6 1 1 2 -0.3 1.6 2.3 -0.2 1 -1.4 0.7 -1.9 -1.7 -1.1 0.2 -0.4 1.8 2.2 1 -1.8 0.8 -2 -0.6 -1 1.8 -2 0.7 -1 -2.7 -2 1.4 -1 -0.4 0.3 -2 1.2 -1 1.3 -5 -0.8 -0.4 -3.6 3.4 -0.4 1.4 -3 1.2 -1 0.1 -0.7 -0.7 2.2 -1 0.3 -1 -1.8 -1 -2 -3 -0.4 -2 1.4 -0.7 1.6 0.7 0.6 2 1.2 1 -0.4 1.2 2 -0.7 0 -2.5 0.8 -1 -2.9 -1 2.4 -3 -1.3 -1.1 -2 -0.4 -0.9 0.5 0.9 1.8 1 -1.6 0 2.7 -1 -0.7 -1 0.7 -2.7 -1.9 0.1 -3 1.6 -1.2 2 0.8 1 1.3 0.8 -0.9 -2.4 -5zM-77.5 9.4l0 1.1 2 0.9 1 -0.2 0.7 -1.7 -0.7 -0.9zM63.2 -4.5l7.3 1.8 2.3 1.2 -0.3 1 -7 1.2 -1.2 0.8 -1.8 3.4 -2 0.3 -2.3 -0.7 -3.1 -3 -1 -2 6.4 -3.9zM19.1 -3.5l0.6 0 0.1 1 -0.3 1.7 -1.4 -1.7zM-158.7 -1.5l8.2 -0.3 7 1.1 6 0.1 7 -0.7 5.8 0.8 0.1 1 -2.9 1.6 -5 1.3 -11 -1.7 -13 2 -3.6 -1.2 -1.9 -2 0.1 -1zM2.6 -1.5l4.9 -0.6 1.7 0.6 0.8 1 -0.5 3.4 -2 1.4 -4 1.2 -3.2 -1 -1 -2 1.4 -3zM-195.6 -0.5l16.1 -0.6 2.5 0.6 0.5 1 -0.6 1 -2.4 1 -5 -0.8 -4 0.6 -6 -1 -1.1 -0.8zM-110 -0.5l4.5 -0.7 1.9 0.7 0.6 1 -1.5 1.2 -5 -0.4 -1.4 -0.8zM-119.9 0.5l1.4 -0.6 1.9 0.6 -0.9 0.6zM-31.4 0.5l19.6 0 2.3 1.3 2 -0.2 1 0.8 2.6 3.1 0.2 2 -2.3 2 -3.5 1.1 -3 -0.4 -7 1.3 -4 -0.3 -4 1.2 -2 -1.2 -2 0.6 -2 -0.6 -0.6 0.3 -0.6 3 -1.6 1 2.8 0.8 0.6 1.2 0.4 2 -0.6 3 -1.4 0.6 -1 -1.3 -3.5 -0.3 -3.2 -3 -0.3 -1 4 -2.7 1 0.2 0.8 -1.5 -0.8 -4.3 -2 -0.6 -2.2 -2.1 -0.6 -2 0.8 -0.7 2 -0.1 3 -2.2zM43.3 0.5l1.2 -0.5 1.4 1.5zM44 6.5l0.5 -0.6 1.3 0.6 -0.6 2 1.2 1 -0.3 4 1.4 1.5 0 0.9 -3.5 -1.4 0.5 -1.4 -1 0.2 -0.7 -2.8zM-54.6 8.5l1.2 0 1.4 2 -1.1 1 0.8 1 -0.2 0.7 -3 -0.9zM43.9 16.5l0.6 -0.6 0.7 0.6 0.1 2 1.3 1 -1.1 0.4 -1 2 -1.4 -1.4 0.6 -1 -1.1 -2zM30.3 17.5l1.8 1 -1.6 0.6 -0.7 -0.6zM-58.1 18.5l0.9 0 -0.3 1.1 -3 1.3 -1.4 -0.4 0.4 -1.7 2 0.5zM34.6 18.5l0.9 -0.2 1 1.9 1 -0.2 1 1.3 0.7 -0.8 2 0 -0.7 1.2 -1 0.6 -1 -0.5 -1.4 1.7 -2 -3 -1.9 -1zM25.5 19.5l2 -0.6 2 1.6 -1 3 -1.2 0 0.8 -1 -0.3 -2zM-58.8 21.5l0.3 -0.7 1.2 0.7 -0.2 1.2 -1 0.5zM-79.9 22.5l0.7 0 0.4 1 -0.7 1.1 -1 0zM-69.9 22.5l1.7 0 -1.3 2.5 -1.2 -1.5zM-75 23.5l0.5 -0.8 2 1.4 0 1.2 -1 0.2zM116 23.5l3.5 -0.4 1 1.4 -1.8 2 -1.2 0.2 -0.6 -0.2zM-59.8 24.5l1.3 -0.7 1.3 0.7 -1.3 1.2 -1.3 -0.2zM-69.2 25.5l1.3 0 -0.6 1 2 1 1.8 2 -0.8 3 2 2.2 -2 -0.1 -1 -1.3 -2 0.9 -1 -1.9 -1 0.6 -2 -0.3 -1.1 0.9 0.1 -1.7 2 -0.9 0.3 -1.4 2.2 -2zM30.4 25.5l2.1 -0.2 -0.6 1.2 1.9 2 -0.3 1 -2 -0.6zM35.3 25.5l1.4 1 -0.2 1 -1 0zM-75 27.5l1.5 -0.9 0.6 1.9 -0.6 0.4 -3 0.3 -0.8 -0.7zM36.3 29.5l1.7 0 0.3 1 -1.8 0.4 -0.6 -0.4z"/><path fill="#3783bb" d="M-64.1 -100.5l0.6 -1 1.9 1 -0.9 1.4 -1 0zM-82.9 -95.5l1.4 -0.2 2 1.6 1 -0.5 1 0.8 0.7 -0.7 -0.4 -1 1.7 0.7 3 -1.1 0.5 1.4 1.5 0.6 1 -2 1 -0.5 2 0.6 1 1.6 1 -0.1 2 1.3 0 2.4 -3.6 -0.9 -0.7 -1 0.9 -1 -0.6 -0.5 -1.7 0.5 -4.3 3.3 -2 -2.4 -1 1.1 -2 0.3 -2 -2.3 -0.5 2 3.9 2 -1.1 1 2.5 3 -0.1 1 -2.6 0 -1 -4 -1.1 0.7 -4 0.3 -1.6 2 0.1 2 -1.8 0 0.3 -1.8 -1 1 -0.8 2.8 -2 2 -0.2 2 -1 0.4 -1 -0.8 -2 2 -2 -2.2 -0.1 1.6 -0.9 0.9 -1.8 -0.9 -0.1 -1 0.9 -1 2 -0.5 1 0.9 1.3 -1.4 -0.3 -0.6 -2 0.4 -0.6 -1.8 -3.8 -4 2.4 -0.5 1 2.1 2.5 -1.6 -0.5 -1.5 -2 0.1 -0.8 -0.6 -0.2 -1.6 2 1.2 3 -0.1 1 0.6 2.2 -3.1 -2.8 -3 5.4 1 0 1 -1.1 1 -0.3 3 -2.5 4 -2.3 2 0 1 2.4 -0.2 1.2 -0.8 0.1 -3 2.7 -1.2 1 -1.8 3.4 -3 -1.3 -3 0.1 -1zM75.7 -92.5l1.8 -0.4 0.6 1.4 -2.6 0.2zM19.9 -91.5l2.4 0 0.6 2 -0.8 1 0.1 1 -2.7 1.4 -4 4 -0.7 -1.4 3.2 -3 -1.1 -1 0.3 -1 1.3 -0.9 2.1 -0.1 -1.1 -1zM-59.6 -90.5l1.8 2 -2.6 1 -1.1 1.6 -3 -1.3 3 -1.2 1 0.8zM53.9 -89.5l1.6 -0.1 1.8 2.1 -1.8 1.9 -1 -1.1zM110 -89.5l0.5 -0.9 1.5 1.9 -1.5 0.6 -0.7 -0.6zM144.7 -88.5l1.8 -0.8 1 1.6 1.2 0.2 0.8 -0.8 1 1.2 1 -1.6 2 1.9 3 1.4 0.7 0.9 -0.1 2 -0.6 0.6 -2 -1.9 -1 -0.1 -1 0.9 -2.4 -0.5 0.1 -1 -0.7 -0.5 -0.1 1.5 -2.3 1 -0.3 -2 -2.9 -2 -0.1 -1zM23.7 -87.5l0.8 -0.9 2 0.1 0.9 0.8 -0.2 1 -0.7 0.9 -2 -0.4zM22.8 -85.5l0.7 -0.4 1.3 1.4 -0.9 1 0.6 2.1 -1.5 -0.1 -1.1 -3zM140 -84.5l1.5 -0.4 1.9 1.4 -0.9 0.7 -2 -0.2zM10.8 -83.5l0.7 -0.9 1.7 0.9 -1.7 1.7 -1.3 -0.7zM-103.1 -79.5l0.6 -0.7 1.7 1.7 -0.7 1.5 -1 -0.1 -1 1 -0.8 -1.4zM59.9 -70.5l2.4 0 0.4 1 -2.2 1.8zM-74.9 -43.5l1.4 -0.5 2.7 1.5 0.4 1 -0.9 1 0.8 1 -1.5 3 -1.5 0.4 -1 2 -1 0.5 -4 -0.4 -3 -1.4 -0.8 -2.1 0.7 -2zM182.3 -39.5l1.2 -0.7 7 1.4 3 -0.3 5 3 0.4 1.6 -3.4 1.8 -3 0.3 -2 -1.1 -2 0.6 -6 -0.8 -1.3 -1.8 0.1 -3zM-44.7 -16.5l4.3 1 0.2 2 -1.3 2.8 -5 1.4 -4 -1.4 -0.7 -1.8 0.9 -2 1.3 -1zM-63.1 -3.5l0.6 -0.5 0.9 0.5 1.6 2 0.3 3 -1.1 1 0.3 2 5 -1.7 1.6 0.7 0 1 -5.6 1.7 -4 -2.2 -1 -1.3 -1.3 -0.2 -0.1 -2 1.4 -1.1zM60 -1.5l1.5 -0.3 2 1.3 -1 2.4 -1 0.1 -1.8 -1.5 -0.3 -1zM-157.3 0.5l3.2 0 -0.4 1 -1 0.1zM-76.9 0.5l0.4 -0.5 0.8 0.5 1.4 2 -2.2 0.8zM-72.8 0.5l0.3 -0.7 1 0.4 0.9 1.3 -0.9 0.6 -1 -0.4zM-25.7 1.5l11.2 0.3 3 1.2 3.1 3.5 -8.1 3.2 -12 -0.8 -2.2 -1.4 0.5 -4zM-80.8 2.5l2.3 -0.6 1 1.7 2 0.5 1 1.6 1 -1.4 0.7 0.2 -1.2 3 -5.5 -2.5zM-72.4 4.5l1.9 -0.4 0.5 1.4 -1.5 0.8zM-79.8 6.5l0.3 -0.4 1.6 1.4 0 1 -0.6 0.4 -1.9 -1.4zM-68.8 6.5l0.3 -0.8 1 0 0.5 1.8 -1.1 0zM-74.1 19.5l1.6 -0.9 0.5 0.9 -1.5 1.6zM-70.3 29.5l0.8 -0.8 3 0.1 1.3 0.7 0 1 -1.3 1.7 -1 0.1 -1 -1.1 -2.2 0.3z"/><path fill="#1c5c9f" d="M-90.9 -87.5l0.4 -0.5 0.3 0.5 -2.3 3.9 -1.3 -2.9zM-97.1 -83.5l1.6 -1 1.2 2 -0.4 1 -0.8 0.7 -1.7 -1.7zM-19.4 5.5l1.9 -0.5 1.2 1.5 -1 1 -1.2 0.1 -1.2 -1.1z"/></g>
<use href="#co" fill="none" stroke="#000" stroke-width="2" stroke-linejoin="round" stroke-linecap="round"/>
</g>
<use href="#bd" fill="none" stroke="#c2c2c2" stroke-width="1.1"/>
</g>
<g transform="translate(324.05 471.8)">
<use href="#bd" fill="#f7f7f7"/>
<g clip-path="url(#cl)">
<g fill-rule="evenodd"><path fill="#fcdfcf" d="M-25.6 -101.5l1.3 0 1.8 1.2 1 -0.4 1.4 2.2 -0.4 1.9 -1.1 0.1 -1.8 2 0.3 1 -3.4 -0.3 -1 2.1 -1.9 0.2 -2.6 -3 0.9 -1 -0.4 -0.8 -1.6 0.8 -0.4 2.4 -2 0.3 -0.4 -0.7 2.1 -1 -0.7 -0.9 -2 1.3 -2 -0.6 -2.2 1.2 1.7 -5 -0.3 -1 0.8 -0.6 1 -0.4 3 3.8 1 -1.9 2 0.4 1 1.3zM23.4 -101.5l6.1 -0.4 6 0.6 7.4 2.8 0.2 2 -0.7 1 -2.9 1 -11 1.2 -16 -1.9 -2 -0.9 0 -1.5zM-42 -99.5l2.4 0 -1 1 -0.2 2 -2.7 1.9 -1 -0.2 0 -1.7 1 -0.3zM-0.3 -97.5l0.8 -0.8 2 -0.1 2 1 1 -0.2 2.5 3.1 0.5 8 -4.8 5 1.3 4 2.1 2 0.3 2 -4.9 4.3 -4.2 -5.3 -0.1 -2 -1.7 -1.7 -1 -0.1 -0.9 0.8 0 3 1.9 2 -1.3 3 0.3 2 4.5 0 -3.5 1.8 -0.6 1.2 2.6 4 -1 1 -5 0.2 -1.8 0.8 0.9 2 -1.1 0.9 -1 -2.2 -4 -0.8 -2 1.6 -5 1.5 -8 -2.7 -5 0.4 -4 1.3 -7 -2.3 -2 -1.3 -0.5 -1.4 4 -9 -1.5 -2.4 -2 1.6 -4 -0.2 -4 4.5 -1.3 -0.5 0.5 -4 -3.2 -4 -0.3 -6 3.3 -2.4 4.2 -5.6 3.8 -3 1 0.2 0.7 1.8 -1.5 3 0.2 4 3.6 3.5 3 0.5 1 -0.2 5 -5 9 -3.7 3 -0.4 5 -3 2 -2 3 -0.1 3.4 1.4 2.1 2 -1.1 1 0.6 1.6 3 1 2 -0.2 0.7 -1.4 -0.4 -5zM-20.5 -88l-1.4 1.5 2.4 2.4 4 0 2 -0.7 1.6 -1.7 -2.6 -1.6 -4 1.1zM-7.5 -74l-2.1 1.5 0.1 3.3 2 -0.6 1.4 -1.7 0.2 -2zM-163.8 -85.5l1.2 0 2.9 2 -7.8 2.7 -3 2.4 -0.8 0.9 0.4 2 1.4 1.4 7 -1.3 2 1.5 2 0.1 9 -1.9 4 -2.9 7 -1.1 3.5 0.2 4.7 3 0.5 7 -0.9 2 2.3 2 -2.1 3 0.7 1 1.3 -0.1 2 2 1 -1.2 0.8 0.3 2.2 1.7 0.1 -2.7 -2 -1 -0.1 -1 2 -0.8 1.4 1.8 0 -2 1.6 -1.1 1.1 0.1 -0.7 1 0.6 1 3.5 1 0.5 1.7 1 -1.5 1 0.3 2.2 4.5 0.2 2 -3.4 1.9 -2 -1.1 -0.5 1.2 0.5 0.9 1.4 0.1 -4.4 0.4 -1 -1.2 -2.6 2.8 0.3 2 1 1 -0.2 1 1.5 0.9 3 -2.2 2 0.6 0.8 2.7 -3.1 5 0.3 0.4 1 -1.1 1 -0.1 1 1 1 -0.3 0.5 1.1 -0.7 1 0.2 2 -1.5 4 1.6 5 1.9 1.3 3 0.2 1 -0.7 1 -2.7 3 -0.5 0.8 0.4 -0.1 1 -1.5 3 -0.2 2.6 2 0.9 2 -0.4 0.7 0.9 0.3 5.6 2 1 7 0.9 1 1.3 1.8 -0.8 -1.3 -1 0.2 -1 1.3 -0.6 3.6 0.6 0.2 1 -1.8 3.5 -1 -2.5 -1 2.6 -2 -0.2 -0.5 0.6 1.7 5 -1.2 2 -2.5 1 -0.1 2 -1.5 0 -0.4 -1 0.5 -2.1 -3 2.5 -1 -0.2 -4 -7.5 -6 0.9 -5 -0.3 -4 -1.2 -4 1.6 -5 0.5 -3 -1.6 -4 -0.3 -3.9 1.7 -0.1 1.3 -1 0 -1 -1.3 -4 -0.8 -10 0.3 -7 -0.8 -8 1.9 -6 -1.7 -3 0.9 -7 -1.1 -5 0.3 -4 -1.7 -3 2.6 -5 0.1 -7 1.8 -2 1.3 -6 0.9 -0.8 -4 1 -1 0.8 -8.2 5 1.1 2 -1 4 0.7 7.4 2.4 0.9 2 1.7 0.9 1 -0.1 2.8 -2.8 2.2 -0.6 27 -1.1 8.3 -2.3 0.1 -2 -2.4 -6.4 -5.2 -3.6 -1.9 -3 0.9 -5 -0.1 -4 3.1 -10 -0.8 -4 -2 -0.8 -1 -1.3 -2 -0.2 -5 0.7 -3 -0.7 -4 0.7 -3 -0.5 -7 0.6 -4 -1 -2 0.7 -4.1 -1.2 1.5 -2 -0.1 -1 12.7 -12.7 1 -0.1 5 -4.7 1 0 3 -3 1 0.1 3 -3 1 0zM-130.5 -49.7l0 1.6 1.3 -1.4 -0.3 -0.6zM-127.5 -58.9l-0.8 1.4 0.6 1 2.4 0 -1.2 -2.9zM-119.5 -60.6l1 2 1 -0.4 2 0.6 0.8 -1.1 -2.8 -1.6zM-126.5 -54.6l-1 2.1 0.6 2 -0.5 2 1.9 0.6 2.6 -1.6 0.2 -1 -2.8 -1.6zM-119.5 -57.9l-1 3 -2.1 0.4 1.1 1.2 2.7 -2.2 0.6 -2 -0.3 -1zM-127.5 -45.2l-0.6 0.7 0.5 2 -0.8 1 0.4 2 2.5 0.5 1 -1.2 2 0.3 2 1.4 -0.7 2 1.5 1 -3.5 2 -0.3 3.2 -0.1 -1.2 -3.5 -4 0.3 -1 -0.7 -0.8 -0.7 0.8 0.6 4 -0.9 0.9 -1 -0.7 -1 0.6 -10 11.7 -6 3.5 0.3 1 10.7 1.8 14 -0.5 3 -0.7 3 1.1 3 0.2 2 1.6 8 0.3 0.9 -0.8 -0.1 -2 -1.8 -3.1 -5 -1.5 -3 -2.6 -5 -0.3 -4 -2.2 -1 -1.7 -1.5 -0.6 -0.5 -1.3 2.2 -0.7 0.9 -5 2.6 -1 -0.9 -2 0.5 -2 -1.1 -2 0.8 -1.3 1.4 0.3 0.2 -1 -0.6 -1.3 -5 2.5 1.2 -2.2 -0.1 -1 -1.1 -0.3 -3 2.8 -0.5 -0.5 0.3 -2 -0.8 -0.8zM166.2 -83.5l0.3 -0.4 3 2.7 1 0.1 9 7.9 1 0.1 12.7 12.6 0 1 2.8 3 -0.4 1 -3.1 0.3 -5 -0.7 -3 -1.2 -7 2.3 -6 -0.2 -5 1.4 -5 -1.5 -1.2 -2.4 -2.6 -2 -2.2 -0.1 -1 -1.2 -4 -1.5 -2.8 2.8 -1.4 0 -0.6 1 0.3 2 5.5 3.1 2 -1.9 3 1.8 1.7 5 -1.7 2.8 -3 0.6 -2 -1.2 -0.3 0.8 0.9 1 -3.6 1.9 -1 -1.2 -1 1.2 -5 0.6 -1.6 -3.5 0.6 -2.5 -2 -2.6 -2 -2 -2 0.9 -2 -1.6 -1 0.6 0.2 1.2 1.8 1.4 1 -1.2 1.4 0.8 -0.9 3 4.2 5 -0.1 2 1 2 -1.2 1 -0.4 1.8 -3.5 1.2 1.3 1 -0.2 2 -1.6 1.2 -6 2.3 -2 -0.9 -0.9 0.4 -1.1 1.6 -1.6 0.4 0.7 1 -1.4 2 -1.4 0 0.4 -1 -0.7 -1.1 -0.5 2.1 -3.5 1.8 -1 1.7 -3 2.3 -2 0.5 -3 -0.7 -5 3.1 -1.5 -0.7 0.4 -2 -0.6 -2 3.7 -3.7 2 -6.3 -1 -0.7 -4 1.5 -3 4.2 -3 -2.3 -2 -0.1 -0.9 1.4 3.4 3 -1.5 5 0.7 1 -1.5 6 0.4 2 -1.6 2.1 -3 -0.2 -4 1.5 -2 -0.2 -2 1.6 -2 -0.6 -3 0.5 -5 -3 -7 -1.6 -4 2.1 -2 0.2 0.6 -3.4 -0.6 -1.4 -3 2.8 -2 0.5 -2 -0.5 -0.8 0.6 0.4 1 -1.6 3 2 0 2 -1.5 1.7 0.5 -4.7 3.5 -1.3 -0.5 0.3 -2 -1 -0.6 -1 -0.3 -1 2 -1.7 -2.1 -4.3 -2.1 -2.1 1.1 -0.9 1.5 -3 -1.8 -4 1 -2 -1.7 -1 1.5 -2 0.7 -1 -0.9 -0.4 -2.3 -3.6 1.4 -0.9 -1.4 -2.1 -1 -3 2.8 -2 -1.7 -4 1.7 -1 -0.2 -1 -1.8 -9 1.2 -2 -1.5 -1 0.5 -2 -0.5 -2 1.2 -1 -0.3 -1 -1.6 -2 0.6 -0.7 -0.4 -2.3 -3.1 -0.9 2.1 -5.1 0.8 -1.4 -0.8 -5.6 -8.4 -3.2 -7.6 -0.4 -13 2.6 -4.9 1.5 -1.1 1.4 -3 1.1 -0.7 3 0.6 3 2.9 4 7.8 4 -2 2 -4.6 3 -2.3 1 -1.7 1 -0.4 4 1.3 3 -2.1 0.6 0.2 0.4 1.9 2 -1.3 1 -1.7 3 -0.4 1.9 0.5 -1.2 2 1.3 2.3 4 0.3 2 0.9 2.5 3.5 3.5 1.2 1.1 -0.2 -0.7 -3 0.6 -1.1 1 -0.1 2 0 5 2.1 6.7 -0.9 1.3 -1 2 1.3 1 -1.3 -2.5 -1 0.5 -1.8 3 -0.4 0.8 -0.8 -0.8 -0.5 -3 0.5 -1 -1.8 -4 0.4 -0.9 -1.6 1.1 -1 -0.2 -1.3 -4 1.3 1.6 2 -1.6 0.6 -0.6 -0.6 0.5 -2 -1.9 -1.3 -0.3 -1.7 8.3 -2.6 4 1.6 3 0.1 0.5 -2.1 -2.5 -0.6 -0.6 -1.4 2.6 -3.1 6 -0.9 5 0.8 0.7 -0.8 -0.7 -2.1 3 1.2 4 -2.4 -1 3.3 -2 -0.5 -0.4 0.5 0.4 0.5 2 -0.4 1 3.9 3 -0.7 0.1 -2.3 0.8 -1 -0.5 -2 0.6 -0.8 1.3 0.8 -0.9 2 2.6 3.7 1.1 -1.7 -0.9 -4 -0.9 -1 0.7 -2 4 3.8 2 -0.6 -0.2 -1.2 1.2 -0.3 1 -2.2 2 0.4 1 1 2 0.1 1 -0.8 2 2 0.5 -1.2 -1.1 -1 0.6 -0.6 3 3 1.3 -0.4 0.7 -1.4 2 2 2 -0.6 1.5 1 -0.6 1 1.1 0.1 1.3 -2.1 2.1 -1 0.6 -1.7 4 3.3 4 -3.8 4 1.9 1.1 1.3 -0.1 1.1 -2 0.6 -1 -1.9 -1 -0.6 -0.4 0.8 -0.2 1 2.6 3.1 2 -0.7 4 1.3 0.9 -0.7 0.1 -2.2 1 -0.5 3 1.4 2.6 0.3 -0.9 2 1.3 -0.3 2 1.5 1 -0.3 2 0.8 2 -3.4 1 -0.3 1 0.1 2 2.2 3 0 2 1 1 -2.3 1 -0.5 1.5 1.5 1.3 0 0.2 -5.1 3 0.4 0 -1.6 4 0.4 1 -0.5 0.8 -1.6 -0.4 -2 1.6 -0.1 4 2.6 0.6 -0.5 0.5 -1 -0.4 -4 -3.2 -4 0.5 -1 3 0 2.5 -2 2.5 -0.7zM-11.5 -25.6l-0.8 2.1 1.8 1.6 0.7 -1.6 -0.3 -2 -0.4 -0.5zM-6.5 -41.8l-1.6 2.3 0.6 3 1 -2.8 1.4 -0.2zM0.5 -40.7l-0.5 3.2 0.9 1 -0.4 0.7 -2 1.2 -0.8 -0.9 0.3 -1 -1.5 -0.7 -1 2.4 -0.5 -1.7 -1 0 0.3 2 -2 3 2.2 0.1 1 -0.7 1 -2.5 0.9 3.1 1.1 0.3 3 -3.5 1 0.4 1 -0.9 -1.3 -1.3 0.7 -1 0 -3zM5.5 -45.2l-0.7 0.7 0.3 1 1.4 0.5 0.7 -1.5zM7.5 -39.6l-0.1 3.1 -1.3 2 1.4 1.1 2 0 0.8 0.9 -1.2 1 0.4 1.7 6 -0.1 0.4 -0.6 -2.4 -3 -4 -2.6 -1 0.5 -0.9 -0.9 1.2 -2zM15.5 -41.9l-1.8 1.4 -0.2 1 2 0.5 1 -2.5zM17.5 -37.6l-1.5 3.1 1.5 2.1 3.7 -4.1 -0.7 -1.1zM25.5 -42.8l-1.3 1.3 0.3 0.6 1.5 -0.6zM30.5 -40.9l-4 1.8 -0.2 1.6 3.2 -1.5 1 1.1 1 -0.2zM40.5 -40.7l-1.2 1.2 1 1 -1.8 2.9 -2 -0.3 -1 1 -1 -1.6 -3 -0.8 -1 0.5 0.3 1.3 2.4 1 1.3 1.5 1 -1.4 1 0.2 1 -1.1 2 0.2 3.7 5.6 2.3 5.7 2 2.7 2 1 1.2 -4.4 -2.2 0.1 -0.2 -1.1 0.2 -0.7 1 -0.1 1.3 -1.2 -1.3 -0.2 -2 1.2 -1.2 -1 -1.9 -5 -1.9 -3.2 -1.2 -0.8 -0.7 -2 0.9 -1zM43.5 -40.7l0 3.4 3 -0.6 2.5 1.4 -2.1 1 0.9 1 0.7 0.5 2 -0.7 1 1 1 -1.8 0 -3.5 -2 0.4 -4 -2.1zM39.5 -53.8l-0.6 1.3 0.6 1.3 6 0.7 1.3 -1 -1.3 -1.3 -1 0.8 -3 0.1zM46.5 -61.3l-0.9 0.8 0.9 1.5 1 0.3 1 -1.1 2 -0.5 2 3.8 2.9 2 -0.1 1 -1.8 2.5 -1 -0.1 0 0.8 2 0.4 2 -1.2 2.1 0.6 -2.1 -3 0.1 -2 -0.9 -1 0.4 -1 -1.6 -0.2 -1 -2.8zM56.5 -62.5l-0.3 3 1.3 0.9 1.2 -0.9 0.3 -2zM61.5 -45.1l-2 2.5 -1 0.1 0 1 3 0.4 -0.3 -1.4 2.7 -1 -1.4 -1.6zM68.5 -57.9l0 1.4 2 1 -0.8 1 1.8 0.6 0.4 -0.6 -1.4 -3zM75.5 -36.1l-0.7 1.6 -1.3 0.4 -6 0.1 -0.7 0.5 0 2 0.7 1 1 -2.3 5.8 3.3 2.3 4 0.2 2 -1.2 5 0.8 3 3.1 1.9 3 -0.2 1.5 -0.7 1.3 -5 -0.7 -8 -3.1 -1.4 -1 -2.3 -4.6 -3.3 0.2 -1zM80.5 -64.8l-0.4 0.3 3.4 1.4 0 -1.7zM93.5 -59.8l-0.4 0.3 1 1 0.4 1.9 0.9 -2.9 -0.9 -1zM106.5 -39.2l-0.8 1.7 1.8 1 0.8 -2zM114.5 -54.9l-0.8 0.4 -0.2 1.7 -2 -1.2 -1.2 1.5 0.2 1 4.2 0 1.2 -2zM119.5 -61.8l-0.2 2.3 1.7 1 -0.5 1.2 -2.6 -0.2 0.6 1.2 2 1 1 -1.2 1 0.2 3 -1.2 -2.4 -1 0.8 -2 -0.4 -0.7 -1 0.8zM138.5 -58.8l-1.5 2.3 0.5 1.2 1.3 -1.2zM-3.5 -26.6l0 1.4 1.8 -0.3 -0.8 -1.3zM1.5 -30.7l-1.8 2.2 0.8 0.7 1.6 -1.7zM17.5 -27.6l0 0.7 1 -0.6 0.9 3 1.1 0.6 3 -1.4 2 1.3 1.9 -2.5 -0.9 -1 -2 0.9 -3 -0.3 -2 -1.4zM18.5 -31.2l-0.7 0.7 0.7 1.6 0.7 -0.6zM33.5 -31l-2 1.2 -2 -0.1 -0.5 1.4 0.5 0.5 1 -1.4 1 1.1 1 -1.1 2 0.2zM51.5 -33.3l-1 1.5 -2.2 0.3 2.2 0.1 1 1.9 3.1 -2 -1.1 -1.4zM51.5 -48.6l-0.5 1.1 1.6 4 -1.3 1 -0.1 1 3.6 3 0.3 2 1.4 -0.5 1.1 0.5 -0.2 2 3.1 4.3 0.2 -2.3 0.8 -0.7 4.4 -2.3 -4.4 -0.7 -3 -2.5 -3.4 -3.8 0.8 -2 -0.2 -3 -3.2 -1.4zM78.5 -46.6l1 1.7 0.7 -0.6 -0.7 -1.8zM86.5 -38.6l1 2.3 1 -0.2 -1 -2.3zM99.5 -59.3l-0.5 1.8 1.5 0.8 0.6 -0.8 -0.3 -1zM105.5 -46.9l-1.1 1.4 0.1 1.2 1.1 -0.2zM118.5 -43.7l-1.5 2.2 0.5 0.7 2.6 -1.7 0.3 -1zM125.5 -51.7l-1.7 1.2 1.7 0.7zM54.5 -29.8l-1.4 1.3 0.4 0.4 3.7 1.6 0.7 1 -0.2 1 1.8 -0.4 0.1 -1.6 -1.1 -2.6zM48.5 -42.9l-0.4 0.4 1.4 2.3 0.8 -1.3 -0.4 -1zM78.5 -39.6l-1.6 1.1 0.6 1.1 1 0 0.7 -1.1zM104.5 -43l-0.6 1.5 0.6 1.2 1.3 -1.2zM110.5 -40.1l-1.9 1.6 2.8 0 0.1 -1.5zM122.5 -43l-1 1 0 1.7 2.4 -2.2zM55.5 -17.7l-1 1.5 2.1 -0.3 0.4 -1zM63.5 -15l0 1.2 1 1 0.2 -1.7zM100.5 -42.7l-1.6 1.2 1.6 1.3 -2 0.4 -3 -0.7 -4.7 2 0 2 1.4 1 0.1 1 -2.1 2 1.6 1 1.6 3 2.1 0.3 -0.3 -1.3 1.1 -4 -1.5 -2 3.7 1.3 2 -2.6 3 1 1.4 -0.7 0.2 -2 -0.6 -0.5 -1 0.7 -1.9 -1.2 0.1 -3zM122.5 -36.7l-1.5 2.2 0.5 1.8 2.3 -2.8 -0.1 -1zM-64.7 -80.5l1.7 0 -1.5 1.4 -0.6 -0.4zM149.8 -80.5l1 0 0.7 1.7 -0.5 2.3 1.6 2 -0.1 0.8 -5 -3.4 -1.9 -0.4 1.9 -0.2zM18.3 -77.5l1.7 0 -0.5 2.5 -3 0.6zM137.6 -77.5l1.9 -0.5 5.9 0.5 -1.9 0.2 -2 1.8 0 3 -4 -1.3zM-66.7 -66.5l5.7 0 -0.9 2 1.9 1 1.2 2 -2.7 0.6 -2 -0.1 -1 -0.8 -2 0.1zM50.6 -66.5l0.9 -0.6 1.6 0.6 -0.6 1.2zM124.9 -65.5l0.6 -0.7 1 0.7 -1 1.8zM39.3 -62.5l0.5 0 0.2 2 -0.5 0.6 -1.3 -1.6zM-68.9 -60.5l0.4 -0.9 1 0 2.6 0.9 -0.6 1 -3 0.5zM9.1 -60.5l0.4 -0.7 2.3 0.7 0.7 1.2 3 1.1 0.7 -0.3 -0.4 -1 1.7 -0.6 1 1.1 1 0.2 1 -1.2 1 1.2 2.8 0.3 0.4 1 1.8 1 -0.9 2 -0.1 4.7 -1.6 -1.7 -0.1 -1 1.6 -2 -0.9 -2.7 -3 3.1 -2 -3 -3 -0.5 2 0.5 0.7 1.6 0 1 -1.7 0.8 -3 -1.3 -2.5 -3.5 -1.5 -0.3zM30.3 -60.5l0.2 -0.9 1.6 0.9 -0.4 1 -1.2 0.4 -0.9 -0.4zM-77.7 -57.5l1.2 -0.4 0.6 1.4 -0.6 0.7 -4 1 -0.5 1.3 -3.9 4 -0.6 2.7 -5 2.1 -0.3 -1.8 -1.6 -1 2 -3 -0.6 -1 0.7 -3 -0.7 -2 0.5 -0.5 6 -0.1 1 1.6 2 -0.8 1 0.7zM-86.5 -53l-0.7 1.5 0.7 0.8 0.9 -0.8zM-117.5 -50.5l1 1.4 -2 1.3 -1 -0.5zM154.3 -42.5l5.2 0.4 1.6 1.6 0.2 3 -2.8 1 -7 0.3 0.8 -4.3zM163.2 -39.5l3.3 0.6 2.7 2.4 -0.1 1 -3.6 1.5 -1.8 -2.5zM-94.7 -37.5l1.2 -0.8 1 0.3 -0.1 2.5 -0.9 1.5zM-97.2 -30.5l3.7 -0.9 5.3 3.9 -2.3 0.5 -2 -2 -2 -0.8 -2 0.5zM141.5 -24.5l1 -0.4 1 0.8 0.6 1.6 -0.6 1.6 -2 -0.3zM178.1 -22.5l11.4 2.6 1.6 1.4 0.4 2.8 4 2.4 2 0.2 5 -2.2 3 0.7 2 -1.8 5 1.2 1.5 2.7 0.3 5 1 1 -0.8 2.2 -16 0.9 -7 -1.3 -6 1.8 -1 -0.1 -2 -2.1 -2 -0.6 -3.1 1.2 -0.9 1.4 -2 -0.8 -0.6 1.4 4.6 1.6 3 4.1 1 0.1 0.7 2.2 4.3 2.5 4 0.9 7 -0.5 4 0.7 2 -0.5 4 0.3 3.2 1.6 0.3 1 -0.8 1 -3.7 2.3 -2 -0.2 -2 1 -2 -0.3 -6 1.1 -6 -0.9 -8 -2.8 -5 -3.3 -1 -2.3 -1.2 0.4 0.2 1.2 -3 0.7 -3 -0.4 -0.9 0.5 0.4 1 -0.5 0.6 -1 -2.8 -3 1.4 -2 -0.9 -5 1.4 -8 -1.4 -7 -4.3 2.7 -1 -1 -1 2.3 -1.7 5 -2.3 9 -0.7 1.7 -1.3 -2.7 -2.5 -10 -0.9 -0.9 -0.6 1.9 -0.9 0.5 -1.1 -1.5 -6.1 2 0.4 7 -1.5 3 -2 4 -0.2 3 1.2 4 -0.4 3 -1 1 -2zM-79 -13.5l2.8 0 0.6 2 1.1 0.7 2 -0.7 1.6 1 -3.6 2.1 -1 -1.2 -1 0.4 -2 -1.3 -1 1.8 -1.1 -0.8 -0.8 -2 1.9 -0.1zM94.6 -12.5l0.9 -0.4 1 1.1 2 0 2 1.4 2 -0.2 1.8 1.1 0 1 -2.8 0 -1.4 2 -2.6 0.6 -0.7 -1.6 1.2 -1 0 -1zM145.3 -10.5l1.2 1 -1 0.8 -1 -0.8zM12.9 -3.5l0.6 -0.6 3 0.3 1 -0.6 0.6 0.9 -0.6 1.3 -2 -1.1zM11.6 -0.5l1.9 -0.7 1 0.5 0.2 1.2 -1.2 0.4zM33.8 -0.5l2.7 -0.6 1 1.6 -0.3 2 -2.7 2.8 -2.5 -1.8 1.5 -1.2zM105.7 -0.5l1.8 -1 3 0.2 6 1.6 1.8 2.2 0.2 2.6 -1 0.9 -5 1.5 -5 -0.6 -2 -1.4 -1.3 -2zM69 0.5l7.5 0.1 4 1.5 2 -0.3 2.9 2.7 -0.1 1 -2.8 0.6 -2 2 -3 0.9 -6 -0.1 -6 -1.1 -2.5 -2.3 1.2 -3 0.9 -1zM15.7 1.5l1.8 -0.5 0.2 0.5 -1.2 2.3 -1.2 -0.3zM8.6 7.5l2.9 -0.2 2 0.7 2 -1.5 0 2 -1 0.1 -0.5 0.9 2.3 4 0 3 -1.6 2 -0.8 5 0.9 4 0.7 0.9 1 -0.2 2 -2.3 1 1.6 3.4 1 -0.5 2 -2.1 1 -0.5 1 1.7 0.8 1 -0.7 0.3 1.9 2.6 1 -0.9 0.8 -1.9 0.2 -0.3 2 -1.8 1.6 -3 -2.2 -4 4.1 -8 1.6 -2 -1.1 -1 -4 0.3 -1 -1.9 -3 -3.4 -1 -3 0.5 -0.9 -0.5 -2.1 -2 -0.2 -1 -1.8 -1.2 -0.4 -1.8 0.5 -2 1.9 -1.8 2 0.1 3.2 -2.3 2.9 -5 0.1 -4 0.8 -1.6zM18.5 34.9l-0.6 0.6 1.6 1.7 1.8 -0.7zM-99 8.5l1.5 -0.5 3 1.7 5 8.8 6.5 5 1 2 0.1 11 -1.1 4 0.8 2 1.9 1 -1.4 4 -1.8 1.8 -5 0.8 -3 -1.1 -2 -2.1 -4 -0.6 -2.2 -1.8 -0.2 -1 1.8 -1 -0.4 -5.3 -2.5 -5.7 -1.5 -2.1 -2.7 -1.9 -1.2 -2 2.2 -4 0.1 -3 3.2 -8zM23.9 13.5l1.1 0 -0.2 1 0.9 1 -0.4 1 2.2 1.9 0.1 1.1 -3.1 5.8 -0.7 -3.8 -1 -1zM18.8 15.5l0.7 -0.9 2.2 0.9 -0.1 1 -1.1 1.4 -1 -0.1zM18.6 22.5l1.9 -0.1 0.8 1.1 -0.8 2 -3.5 -1 -0.2 -1zM145.4 23.5l0.6 1 1.5 0.4 2 -0.9 3 0.8 4 4.3 1.4 2.4 -1.4 2 1.2 1 -2.2 3.2 -1 -1 -3 2.5 -1.7 -2.7 -4.3 -2.1 -2 2.9 -1 -0.2 -3.6 -3.6 0.7 -1 -0.5 -3 0.4 -0.4 1 1 -0.1 -1.6 0.9 -2zM-48.7 25.5l0.6 0 0.1 1 -1 2 -1.5 0.7 -0.7 -1.7zM32.4 25.5l1.1 -0.6 0.7 0.6 0.2 2 -0.9 1.1 -3 -0.1 -1 -2.5 2 0.8zM-77.1 27.5l1.6 -0.5 0.6 1.5 -0.6 0.6 -1 -0.2zM-15.5 28.5l0.7 3 -1.7 0.7zM-54.3 29.5l2.4 0 0.9 1 -0.6 1 -4.9 0.7 -0.1 -0.7 1.1 -0.3zM29.5 30.5l0.1 1 2.9 2.5 1 -0.5 0.9 1 -3.9 1.4 -1 -2.8 -1 0.9 -0.8 -0.5 0.1 -1 1.6 -1zM158.9 32.5l1.6 -0.1 0 1.2 -1 0.1zM165.9 32.5l1.6 -0.7 1 1.3 1 -0.9 0.2 1.3 1.9 1 0.4 1 -1.5 0.9 -2 -0.7 -0.7 0.8 0.9 2 -1.2 1.3 -2.3 -2.3zM-76 33.5l1.5 0.4 0 1.1 -1.1 0.5zM134.1 33.5l3.2 1 -0.4 1 3.1 2 -0.5 1.9 -1 -0.4 -1 -1.9 -3.3 -0.6 -0.9 -2zM-21 37.5l0.5 -0.3 1 1.8 5 0.3 0.1 1.2 1.2 1 0.2 1 -3.5 4.2 -3 0.1 -3 -1.8 -0.2 -1.5zM25.8 39.5l1.7 -0.3 1.4 3.3 -0.4 1.5 -1 -0.7 -2 0.8 -0.5 -0.6zM31.9 39.5l0.6 -0.5 1.4 0.5 -1.6 1 0.2 2.9 -2.6 -1.9 -0.3 -1zM152.7 39.5l1.8 0 0.3 2 -1.3 1.7 -1.2 -2.7zM21.4 41.5l0.8 1 -0.7 1.4 -1 0 -0.2 -1.4zM169.1 41.5l4.4 0 0.4 1 -3.4 2zM92 42.5l1.5 0 1 -0.9 1.5 0.9 -1.5 1.2 -1 -1 -2 1.8 -0.4 -1zM154.7 43.5l0.8 -0.5 0.9 0.5 0.1 1.3 -1 0.7zM193.8 45.5l0.7 -0.9 2.6 1.9 -2.6 2.6 -1.5 -1.6zM-67.6 56.5l3.2 1 3.2 5 0.5 5 -2.8 2.1 -3 -1.5 -2.1 -2.6 -1.1 -4 0.6 -3zM18.4 63.5l8.1 0.2 7 1.1 2 1.7 0.9 4 -0.9 1.1 -2 0.3 -10 -0.3 -6 -1.3 -2.6 -1.8 -1.1 -3 1.7 -1.3zM53.4 63.5l3.1 -0.5 17 0.8 7 -0.7 16 1 9 -1.2 3 0.6 0.8 2 -3 4 -6.8 -0.4 -9 3.1 -10 -0.3 -12 -2.7 -13 3.2 -3 -0.6 -0.9 -1.3 -0.6 -5zM-8.3 65.5l4.8 -0.3 2.2 1.3 0.2 1 -2.4 1.5 -5 -0.1 -1.7 -1.4z"/><path fill="#f7b799" d="M22.6 -100.5l6.9 -0.7 5 0.4 3.4 1.3 2.1 2 -1.5 1.5 -10 1.5 -3 -0.3 -9.4 -2.7 0.2 -1zM1 -94.5l0.5 -0.5 2.8 2.5 1.2 3.9 0.4 3.1 -2.4 2.4 -2 0.1 -0.6 -0.5 0.7 -2 -1 -1 -0.6 -5zM-17 -89.5l1.5 -0.6 0.4 0.6 -3.5 2 -0.7 -1 0.8 -1zM-26.8 -86.5l2.3 -0.4 2 0.9 2 2.1 4 0.3 4 -1.2 2 -1.3 1 2.1 7 0.8 3 1.4 2.4 2.3 1.1 7 -0.5 1.4 -1 0.5 -3.1 -3.9 -0.4 -2 -2.1 -2 -1.4 -0.4 -1.8 1.4 0 3 -1.2 0.1 -2.7 1.9 -0.1 3 0.8 0.7 3 -0.9 1 -3.3 1.3 0.5 -1.4 5 1.1 1 -1 2 1.1 2 -1.1 1.3 -3 0.9 -3 -2 -2 0.8 -3 -0.1 -3 3.7 -1 0.1 -5 -1.5 -1 -1.1 -3 0.1 -2 -0.8 -9 1.6 -3 -2.9 0 -1.6 3.6 -6.5 3.3 -1 1.1 -2 1 -0.1 1.2 1.1 0.5 -1 -1.1 -1 0.3 -2 -0.7 -2 0.8 -3 2.8 -3 3.5 -1zM-51.8 -81.5l3.3 -0.2 4.7 3.2 -3.7 3 -5 1.8 -2.6 -2.8 0.6 -0.5 1 0.6 2 -4.1zM167.1 -81.5l1.4 0 1.2 1 1.8 3.1 4 0.9 4.6 4 -0.4 4 0.8 2.6 1.8 2.4 -0.3 4 -0.7 1 -4.8 1.9 -10 -0.2 -3 -1.2 -1 -1.6 -5 -3.4 -1 -2.5 1 -3.9 3 0.8 1.5 -1.9 -0.7 -5 -2.8 -3 4 -0.6 1 -1.4zM-140 -78.5l5.5 -0.2 3.8 2.2 0.6 7 -0.9 2 1.4 2 -1.5 4 2.6 0.5 0.8 1.5 -2.3 3 0.5 0.6 2.7 0.4 -1 3 0.3 2.8 -1 0.4 -1 -1.5 -2 1.6 -1 0.1 -1 -1.3 -1.3 1.9 0.3 1.5 2 2.1 2 0.2 -1.2 2.2 2.3 1 -1.3 2 0.7 1 -0.5 1 1 1 -0.2 1 -4.6 7 -3.9 4 -3.7 3 -2.6 0.4 -3 -0.7 -2.7 -1.7 -1.6 -4 -4.8 -4 0.8 -6 -1 -2 0.4 -5 1.6 -2 2 -6 -2.7 -3.7 -3 -1.1 -1 -1.2 -12 -0.8 -0.2 -1.2 -0.8 -0.2 -3 1.6 -4 0.4 -9 -1.4 -2 0.4 -2 -0.8 12 -12.2 1 -0.1 3 -2.7 1.9 5 1.1 0.5 8 -2.7 7 0.5 9 -2.8 3 -1.7 5.1 -0.8zM-134.5 -55.9l-1.1 2.4 0.1 2.3 1 0 0.7 -1.3zM-132.5 -59.6l-0.7 2.1 0.7 0.8 1 -0.2 0.2 -1.6zM77.7 -67.5l0.8 -0.9 2 1.2 3 -0.1 0.3 0.8 -1.2 1 -2.1 -0.2zM71.2 -66.5l2.3 2.5 3 -0.4 5 0.6 0.7 1.3 -1.2 1 -0.2 1 0.7 0.3 2.8 -2.3 0.2 -1.5 1 -0.1 0.7 -1.4 1.3 -0.6 2 2.4 0 -1.8 1 -0.5 2 1.1 1 -1 1 0.1 0.5 1.3 1.5 0.5 1.4 -0.5 1.6 -2 2 0.5 1 -0.9 0.6 0.4 -0.2 1 2.2 1 0.4 1.5 0.7 -0.5 -0.8 -2 1.1 -0.8 2 -0.2 -0.5 2 1.5 0.5 0.9 1.5 7.1 1.1 2.5 2.9 -3 1 -1.5 2.8 -2 -0.8 -2.2 1 -1.5 2 0.7 1.7 5.4 -0.7 1.6 -3.9 3 0.6 6 -2.6 1 0.4 1 2.1 1 -0.1 0.4 -0.5 -1.4 -1.8 -1 -0.6 -1 0.3 -2.4 -1.9 1.4 -1.5 2 1.3 2.4 0.2 3.6 3.4 2 -0.9 0.5 1.5 1.5 0.9 2 -1.7 1 0.1 0.7 0.7 0.3 2.6 0.9 0.4 4.1 -0.7 3 0.4 2 1.6 5 0.4 0.5 1.3 -0.8 2 -1.7 1.2 -2 -0.8 -3 0.6 -4 -0.7 -2 0.6 -1.5 -0.9 -2.5 -4.7 -2 -1.8 -3 1.4 -2 -1.9 -2.3 2 0.3 1 2.3 2 0.7 2.4 1 -0.1 1 1.1 1.1 1.6 -0.1 2.7 2.7 2.3 0 1 -1.3 1 0.4 1 -0.8 0.7 -2 0 -1.3 1.3 1.5 2 -0.1 1 -7.1 2.7 -3 -0.6 -1 1.5 -4 -1.2 -2 1.6 -3 1.1 -0.8 0.9 0.7 2 -1.3 3 -1.6 1.5 -2 0.2 -4 -2.8 0.7 -5.9 -0.3 -3 1 -1 -5 1 -3.2 -5 0.8 -0.8 1 0.1 2 1.3 2 -1.3 3 0 1 -1.4 2.4 -0.9 -0.4 -2.3 -3 1 -1 -2.2 -1.6 -0.5 -0.4 -1 1.3 -3 -1.3 -3.2 -1 0 -0.8 1.2 0.9 2 -1.1 1 0.4 2 -1.4 1.4 -2 -1.6 -2 0.9 -1 -2.9 -1 2 -1 -0.5 -1.1 0.7 0.1 0.7 2 -0.6 0.7 1.9 -2.7 0.4 -1 1 -1 -0.4 -3 2.5 -3 -2.4 -3 3.2 -2 -0.2 -3 -2.9 -2 1.2 -0.7 -0.4 -4.3 -4.2 -1 0.5 -0.3 1.7 1.3 1.5 1 -0.1 1 1.6 0.8 2 -0.8 1.5 -2 -4 -1 0.4 0 1.1 -2 2.1 -2 -3.9 -1 2.2 -2 1 -1.6 -0.4 -1.4 -2.3 -1.9 -0.7 3.9 -0.4 -0.2 -2.6 2.2 -0.4 0.2 -0.6 -0.4 -1 -1.8 -1 -2 0.4 -1 1.7 -3 -1.4 0.2 -2.7 -1.4 -2 1.2 -0.8 3 0.8 0.5 -1 -2.1 -3 0.6 -0.8 3 0.3 0.3 -1.5 -1.3 0.9 -1.9 -1.9 -1.1 0.4 -0.4 -1.4 3.4 -3.5 1 0.3 1 1.8 3 1.1 1 -0.5 0 -4.6 3 3.5 1 -1 2 1.6 1 -1.8 2.3 -0.9 -2.3 -0.9 -2 1.6 -1.4 -4.7zM79.5 -48.8l-1.5 2.3 0.2 1 2.3 2.8 1 -0.3 0.4 -1.5 -1.8 -2zM86.5 -59.3l-1.1 1.8 0.1 1.1 2.2 -2.1 -0.2 -1zM91.5 -64.4l-0.6 0.9 0.6 3.2 0.2 -2.2 1.4 -1zM94.5 -60.8l-2 1.3 1.5 2 -0.5 3.2 1 -0.2 1.1 -2 0.1 -3zM99.5 -62.1l-0.7 1.6 0.5 1 -1.6 4 2.8 0.4 1 0.9 1 -1.4 -1.5 -0.9 0.6 -1 -1.9 -2 0.6 -1zM111.5 -49l-0.7 0.5 0.7 0.9 1 0.5 0.9 -0.4 -0.1 -1zM113.5 -46.2l-0.9 1.7 1.9 0.4 0.3 -0.4zM123.5 -54.2l0 3.2 -2 -0.6 -1.6 1.1 1.6 1.3 2 -0.9 2 1 0.7 -2.4zM127.5 -37.5l-1.1 2 -0.1 2 -1.4 1 1.6 0.9 2 -1.5 2.2 0.6 -1.2 -2.7 -1.9 -0.3zM128.5 -51l-0.1 1.5 2.1 1.5 0 -3.1zM131.5 -47.6l-1 1.2 -2 -0.2 -0.6 1.1 0.6 1 2.6 0 0.2 1 -1.9 2 1.1 1.3 1 -1.3 2 0.5 0.7 -1.5 -2.3 -1 1.1 -2zM134.5 -40l-0.8 0.5 0.1 2 0.7 0.2 0.7 -0.2 -0.1 -2zM111.5 -36.7l-2.6 2.2 0.6 2 -0.9 2 0.9 0.7 1 -0.8 1 0.3 1 2 2 -0.6 1.3 -2.6 -1.3 -2 -2 1.6 0 -2 1.9 -0.6 -0.9 -2.1zM68.5 -58.3l-0.8 0.8 1.2 2 -0.1 2 -1 1 0.5 2 -0.8 0.6 -2 -1.4 -1 1.8 -2 0.4 -1 -0.7 -2.1 2.3 0.1 1.2 1 0.2 2 -1 1 0.8 1.1 -1.2 1.9 -0.1 2.8 -1.9 -0.4 -1 5.1 -6 -0.5 -0.6 -2 0.8 -1 -1.7zM74.5 -51.4l-2.4 4.9 2.2 1 0.1 3 2.1 0.2 -1.5 -5.2 0.6 -3zM87.5 -55.6l-1.4 1.1 0.4 1 3 -1.3 1.1 0.3 -1.1 -1.5zM98.5 -50.2l-0.8 0.7 0.1 1 1.7 -0.8 0 -0.8zM109.5 -44.7l-0.9 0.2 1.9 1.5 1 0.2 1 -0.7 -0.5 -1zM122.5 -46.7l-2 1.9 -2 0.4 -2 2.6 -1 0.3 0.5 1 2.5 0.3 1 -1.4 1 -0.1 1 2.1 2 -1.4 2.6 -0.5 -1.6 -0.6 -2.3 -2.4 0.8 -2zM91.5 -43.7l-0.6 1.2 1.6 1.9zM121.5 -39l-1 2.5 -2 2 1.6 1 0.4 1.7 2 1.3 1.8 -2 -0.6 -2 0.5 -2 -2.4 -1zM111 -66.5l0.5 -0.8 1.5 0.8 -1.5 1.1zM-65.8 -65.5l1.3 -0.7 2 0.7 -2 1.1 -1 -0.2zM-123.9 -63.5l1.2 0 0.5 1 -1.3 0.3zM118.6 -63.5l0.9 -1 2 1.8 2 -0.6 0.5 0.8 -1.5 1.4zM-119.8 -62.5l0.3 -0.7 3.7 0.7 -0.7 1.3zM-121.8 -61.5l1.3 -0.3 1.4 2.3 -0.3 1 -1.7 1 -0.4 1.5 -1 -0.5 1 -2zM131.4 -60.5l1.1 -0.9 1 1.1 3 0.2 0.8 1.6 -0.4 1 -0.4 0.5 -1 -0.9 -2 -0.1 -2.1 -1.5zM139.2 -60.5l2.4 1 0.4 1 -1.5 0.2 -1.4 -1.2zM42.9 -59.5l1.6 -0.9 0.4 0.9 -1.4 0.9zM-117.6 -58.5l3.1 0.9 1 -1.9 2.4 2 -0.2 1 -2.2 2.2 -0.5 -1.2 0.9 -1 -1.4 -0.6 -1 1.3 -1 0.1 -0.3 2.2 -0.7 0.6 -1.4 -1.6 2 -2zM21.5 -57.5l1 -0.2 0.3 1.2 -1.3 1zM46.5 -57.5l2 -0.8 1 0.5 1 2.1 1 -0.4 2 0.9 0.7 0.7 -0.3 2 -2.4 0.8 -2 -1.5 -2 1.4 -1.8 -1.7 -0.4 -2zM14.1 -56.5l0.4 -0.9 3.7 1.9 -0.7 0.6zM-125.4 -55.5l0.9 -0.7 1 0.4 1 2.8 2 -0.1 0.2 0.6 -2.2 1.4 -2 -0.7 -0.8 -0.7zM36.6 -55.5l0.9 -0.6 2.3 0.6 -2.2 2 1 3 -1.1 1.2 -1.1 -1.2 -0.7 -4zM40.9 -54.5l1.6 -0.5 2.5 0.5 0 1 -2.5 0.7zM-89 -52.5l0.5 -0.5 0 1.5 3 4.1 -3 0.8 -0.9 -0.9zM47.1 -50.5l0.4 -0.6 3.2 1.6 -0.2 1.2 -2.6 1.8 -0.3 1 1.9 0.3 1 -1.7 0.6 2.4 -0.6 1.1 -2 -0.1 -1 2.8 -3.6 -0.8 0.6 -1.4 2.6 -1.6 0.1 -2 -3.7 -2.3 -2.4 0.3 0.4 -1.3 3 0.2zM-129.7 -47.5l3.2 -0.4 0.8 0.4 0 1 -0.8 0.6 -2 -0.1zM-124.3 -47.5l0.8 -1 1 0.2 1.1 0.8 -0.1 1.2 0.8 0.8 -1.8 0.1 -2 1.5 -0.9 -1.6 1.1 -1zM6.4 -47.5l2.4 1 -0.3 1.3 -1.3 -0.3zM3.5 -46.5l1.8 0 -1.2 1 -0.6 3.5 -1.4 -0.5 -0.2 -2zM-118.7 -45.5l0.6 1 -0.4 0.5 -2 -0.1 0 -1.2 1 0.5zM-5.7 -45.5l0.2 -0.5 2.4 0.5 -0.9 3 1.1 2 -0.6 1.3 -1.2 -1.3 0.2 -1.2 -1.3 -0.8zM41.2 -45.5l3 0 -0.7 1.4 -1.8 -0.4zM-26.2 -44.5l1.7 -0.4 2 0.6 5 8.4 5 -2.1 2 -4.2 1 -0.7 1 0.6 0.5 0.8 -1.4 2 0.8 1 -0.7 2 2.9 2 -1.1 1.7 -3 1.2 -2 2.1 3 1 -0.3 1 -2.7 1.7 -0.8 2.3 5.8 5.5 1 -1.7 2 1.2 1 -0.8 -0.7 -2.2 1.7 -0.4 1 -2.2 1.7 1.6 1.3 0.6 0.3 -0.6 -2.7 -3 -0.4 -2 -1.2 -0.1 -1 -1.4 -3.4 0.5 -0.9 1 1.7 2 -0.4 0.3 -2.4 -1.3 -0.3 -3 2.7 -1.5 1 0.4 2 -0.8 2 0.9 1.1 -2 4.7 -2 -0.8 -2 0 -3.1 1.4 1.1 1.6 0.1 0.4 1.9 -1.3 2 3.2 2 -0.3 3.5 -2 0 -1.8 1.5 0.8 1.2 4 -0.8 3 -2.5 2 2.5 2 0.2 0.6 1.4 2.4 1.6 1 0.4 3 -1.1 2 1.8 3 -4.5 2 0.8 1 1.9 3 -1.5 0 -1.1 -2 0.5 -0.9 -0.8 0.9 -1.3 2 1.2 0.7 -0.9 -1.7 -3.7 -2 1.9 -2 -0.4 -2 2.8 -6 0.5 -1.1 -1.1 -1.1 -4 4.2 1.6 0.7 -1.6 -2.7 -3 0 -2 -4.5 -1 -0.5 -1 1 -1.9 1 1.6 2 0 3 1.7 1 2.5 5 -1.9 1 2.5 2 0.9 1 1.4 4 -0.2 2 -1.3 3.3 4.7 2.1 6 4.6 4.2 1 -0.2 -0.1 -3 3.6 -2 0.5 -1.6 1.4 2.6 2.7 1 -0.5 1 0.5 1 -2.1 1.9 -3 1.7 -2 0.2 0 0.5 2 1.2 6 0.6 0.8 1.9 -0.8 0.9 -6 0.9 -4 3.2 0.7 1 -0.7 1.2 -1 -0.7 -5 0.2 -3 -1.3 -4 1.6 -2 -2.2 -1 -0.1 -1 1.9 -1 -2.4 -2 0.7 -1 -0.4 -1 0.8 -3 -1.3 -3 1.2 -4 -1.6 -3 2.2 -2 -1.4 -4 1.5 -2 -1.7 -2 0.4 -3 -0.5 -4 1.3 -1.7 -1.4 0.7 -4.3 -2 2.2 -1 -0.7 -1 0.3 -2 3.4 -0.7 -0.9 -0.3 -3.3 -0.2 1.3 -1.8 0.6 -2.4 -3.6 -1.6 0.5 -2 -1.9 -3 1 -3 -1.3 -5.4 -6.3 -1.3 -5 -0.7 -11 1.9 -4zM-17.5 -32l-2.1 3.5 1.1 0.6 1.5 -1.6 -0.3 -1 0.7 -1zM-16.5 -25.8l-0.8 3.3 2.6 2 -1 2 0.8 1 -0.6 1.4 2 -0.6 0.4 -0.8 -0.8 -1 0.8 -1 -1 -1 -0.6 -3zM-15.5 -34.6l0 1.3 2 0.1 0 -2.3zM-11.5 -17.6l-1.7 1.1 1.7 1.6 3 -0.2 0 -0.8 -1 0.2zM3.5 -32l-1 1.1 -1 -0.4 -2 3.3 1 0.6 2 -1.8 1 0.4 1 -0.8 0.5 -1.9zM9.5 -24.6l-0.5 1.1 1.5 1.9 0.6 -1.9zM14.5 -26.2l-0.8 0.7 0.1 1 0.7 0.7 2 0.1 -0.2 -1.8zM26.5 -35.3l-0.8 1.8 0.8 0.9 2.2 -0.9 -0.4 -1zM41.5 -28.8l-0.2 3.3 1.2 0.6 0.4 -0.6 -1.1 -1 0.4 -1zM2.5 -26.3l-0.4 0.8 1.8 1 0.1 -1zM10.8 -43.5l4.9 0 -0.1 1 -2.5 2 -0.7 2 2.5 0 0.4 2 -1.8 0.7 0 1.3 -1 0.4 -2.4 -2.4 0 -1 -2.2 -3zM26.7 -42.5l0.8 -0.4 2.5 1.4 -2.2 1zM39.4 -42.5l1.4 1 -1.7 1 0 3 -0.6 1.3 -1 0.1 -1.2 -1.4 1.1 -1 -0.9 -1.1 -1.3 0.1 -0.4 -2zM56.3 -42.5l1.3 0 0.7 2 -1.1 0zM-1.6 -40.5l1.3 0 -0.2 2.4 -1.6 -1.4zM102.2 -40.5l0.3 -0.8 1 0.6 0.3 1.2 -1.3 0.4zM-124.3 -39.5l0.8 -0.4 1.8 1.4 -3.4 2 -0.4 1.6 -0.5 -2.6zM32.4 -39.5l1.8 1 -0.3 1 -1.8 0zM53.5 -38.5l0.3 2 3.2 3 -0.5 0.8 -3.3 -0.8 -0.6 -1zM-117.7 -37.5l0.2 -0.7 1 0.5 1 1.3 2 -1.3 0.5 1.2 -0.5 2 -1.1 1 -0.1 3 1.2 2 -1.9 1 0.6 2 2.3 -0.3 2.4 1.3 0.6 1.2 1 0 1 -1.1 2.5 -0.1 -0.5 -3.4 3.1 -0.6 -0.1 1.5 -2 0.5 0.2 5 2.8 1.1 2 -0.3 0 4.7 -3 -1.5 0 -1 -2 -0.4 -0.1 -1.6 -0.9 -0.5 -3 0.9 -1 -0.5 -1 -1.3 -1.5 -0.6 -0.5 -1.4 -1 -0.1 -0.7 1.5 -1.3 0.3 -2.3 -1.3 1.5 -2 -0.4 -1 -3.1 -2 -0.3 -1 0.8 -1 -1 -2 0.8 -1.2 3 -0.3 -1.4 -2.5zM44.3 -36.5l1.2 -0.5 0.8 0.5 -1.8 1.6 -0.7 -0.6zM84.5 -36.5l2 -0.4 1 1.5 1 0.3 1 -2.1 1.5 1.7 0.2 1 -2.2 2 2.5 1.7 0.3 1.3 -3.2 2 0 1 1.7 1 -0.9 1 2.1 3.2 2 0 0.3 1.8 -2.2 1 -0.5 1 2.4 1.4 0 1.9 -2 -1.6 -1 0.4 -1 1.5 -1 -0.7 -1.2 -2.9 0.2 -2 -1.5 -2 -0.5 -3 2.9 -3 -0.9 -3.2 -1.3 -0.8 -0.6 1 0.8 1 -0.9 1 -2 -1 -1.9 0 0.2 -3zM77.4 -35.5l2.1 -0.7 0.8 0.7 -1.8 1.4 -1.4 -0.4zM14.2 -33.5l0.3 -1 1 0.1 2.4 2.9 -1.4 0.8 -1 -0.5zM63.2 -33.5l2.3 -0.4 0.5 1.4 -0.5 0.9 -2 -0.6 -2 0.8 -0.2 -1.1zM56.6 -31.5l0.9 -0.5 2.6 2.5 -0.6 0.5 -1 -1.2 -2 0 -0.5 -0.3zM68.5 -31.5l4 2 1.9 2 1.1 4 -1.6 4 -3.4 4 -1 0.1 -6 -2.8 -1.6 -1.3 -0.5 -2 -2.4 -2 1.2 -2 -0.4 -2 0.7 -1.4 2 -0.3 1.9 1.7 0.3 1 -1.5 2 1.3 0 2.9 -2 -2.3 -3 0.4 -0.7 2 1.4 0.8 -0.7zM98 -31.5l0.5 -0.7 1 0.3 1.4 1.4 -1.5 4 -0.9 0.7 -2.5 -1.7 0.1 -2zM46.7 -30.5l0.8 -0.8 3 0.8 0.8 2 -3.8 1.4 -1.1 -2.4zM117.2 -25.5l1.3 -0.9 0.9 0.9 -0.9 2.1zM-7.6 -23.5l1.1 -0.5 0.4 0.5 -1.1 2 -2.3 -0.6 0 -0.8zM91.9 -23.5l1.6 -0.4 1.7 1.4 -1.7 1zM163.4 -14.5l1.1 -0.9 6 0.4 2 0.8 4 -1.1 1 0.9 1 -0.3 0.4 3.2 -0.8 3 -0.4 1 -2.2 0.5 -3 2.3 -9 0.3 -3 -3 -0.7 -2.1 0.3 -2 3.2 -2zM-156.5 -13.5l4 -0.6 2 0.7 6 0.4 2 0.6 1.3 1.9 -1.3 0.7 -3 -0.2 -2 1 -7 0.4 -5.6 -2.9 1.6 -0.3zM70.5 -13.5l4 0 3 1.4 2.4 2.6 -0.4 2 -4 0.7 -3 -2.5 -3 -1.2 -0.4 -1zM181.7 -13.5l0.8 -0.5 2.9 1.5 3.1 2.6 3 0 0.6 1.4 -5.7 2 -5.1 -5zM-213.6 -12.5l0.1 -0.6 5.5 0.6 0.5 2 2 -0.2 0.8 1.2 -1.5 2 -3.3 2 -5 0.5 -0.4 -1.5 1 -1zM-164.5 -12.5l1 -0.3 2.7 1.3 -2.7 3 -3.1 -1 0.2 -2zM153.4 -12.5l1.1 0 0.3 1 -2.3 0.4 -0.3 -0.4zM-121.1 -11.5l0.6 -0.7 1 0.7 -1 1.5zM-94.7 -11.5l1.2 -1 2 4.7 1 -2.2 0.4 0.5 1.8 5 -1.2 2.2 -3 -1.4 -3 2.5 -1 -1 -1.3 -4.3 -0.2 -3 1.5 -1.3 1 0.4zM203.3 -11.5l4.2 -0.9 6 2 0.4 2.9 0.9 1 -0.3 1 -15 0.5 -5 -1.1 -0.9 -1.4 0.9 -1.6 6 -0.8zM160.1 -1.5l1.4 -0.8 3 0.2 3 2.5 2 -2.3 2 0.1 4 2.3 3 -0.1 3 5.4 5.8 3.7 0.2 1.6 -2 1.1 -4 -0.9 -5 -3.2 -1 -1.9 -2 1.4 -1 -0.9 -1 1.8 -1 0.3 -4 -1.1 -2 1.1 -4 -0.7 -4 1.4 -2 -1.3 -2 0.1 -1 -0.6 -3 0.4 -4 -2.8 -0.3 -0.8 1.3 -2 6 -3.4 8 0.1zM35.1 -0.5l1.4 0.1 0.8 1.9 -0.8 1.3 -2 0.9 -0.3 -3.2zM108.6 0.5l2.9 -0.2 4 1.2 1.1 1 -0.4 2 -3.7 1.7 -4.7 -0.7 -1.2 -2 0.7 -2zM71.8 2.5l4.7 0.3 2.3 1.7 -0.3 1 -1 1.2 -4 0.9 -5.5 -1.1 -1.5 -1 -0.4 -1 0.6 -1zM6.5 9.5l5 -0.3 3.3 3.3 0.8 3 -1.4 3 -1.2 6 -1.5 2.4 -1 0.4 -6 -0.5 -3 -1.1 -1 1.6 -1.1 -0.8 1.7 -1 -1 -3 1.6 -7 1.8 -4.1zM-97.1 11.5l2.6 -0.8 5 8.1 6.7 5.7 0.7 2 -0.5 6 -2.2 3 -0.1 2 -1.3 1 -0.3 2.3 -2 -1.1 -2 1.5 -1 -0.2 -3 -2.1 -2.2 -2.4 -4.6 -10 -0.8 -4 0.4 -3zM195.4 11.5l3.1 -0.1 1.6 1.1 -0.2 1 -5.4 0.8 -2 -0.6 -0.3 -1.2zM148.3 25.5l2.2 3 1.9 1 -4.9 3.6 -1 -1.7 -2.1 0.1 1.3 -2 -0.5 -1 0.5 -2zM142.2 26.5l1 0 1 2 -0.7 1.9 -1.1 -0.9zM152.7 29.5l1.9 0 -1.1 2.5zM7.2 32.5l2.3 0.6 1 -0.6 0.6 2 -0.6 1.8 -3 0.4 -1 -0.6zM55 65.5l3.9 0 1.2 1 -0.5 2 -2.1 1.2 -2 -0.4 -1.1 -1.8zM21.3 66.5l4.2 -0.1 0.6 1.1 -1 1 -2.6 0 -1.4 -1zM78.3 66.5l3.4 0 1.1 2 -1.3 0.5 -2.7 -0.5 -0.9 -1z"/><path fill="#e48066" d="M24 -99.5l5.5 -1 5.8 1 1.2 1 -0.4 1 -2.6 1.2 -6 0.6 -5 -1.8 -0.1 -1zM-19.7 -82.5l1.2 -0.4 2.7 1.4 0.3 5 2.1 1 0.1 3 1.8 -0.2 0.7 1.2 -0.5 2 1.1 2 -3.3 0.1 -3 2.4 -2 0.5 -1 -0.7 -4 2.2 -5.9 -3.5 -0.1 -2 1.9 -3 3.5 -2 -3.4 -4.2 -3 -0.1 -0.3 -1.7 1.1 -1 3.2 -0.6 2 0.6zM166.2 -77.5l0.3 -0.4 2 1.4 1 2.5 3 -0.3 3 1.3 1 1.4 0.7 7.1 1.2 3 -2.3 2 -8.9 0 -6.7 -6 -0.2 -2 2 -2 0.7 -6zM-136.3 -76.5l2.8 -0.5 1.5 0.5 1.4 3 0.2 4 -0.9 2 1.1 3 -5.3 9.1 -0.5 2.9 1 2 0.2 4 2.3 2.4 1 0.1 -1 2.5 1.4 1 -0.7 3 1.6 1 -5.3 7.7 -6 5 -3 0.9 -1.8 -0.6 -3.2 -2.9 -2.6 -4.1 -1.7 -11 0.3 -3 3.9 -5 0.1 -2.1 2 -2.7 -0.6 -4.2 -0.4 -0.5 -2 0.8 -1.7 -0.3 -6.3 -3 -5 -0.7 -2.2 -2.3 -0.6 -2 0.8 -2.6 5 0.6 2 0.9 2 -1.3 1 0.2 5 -4 3 0.1 5 -1.6 2 -1.6zM-181.8 -66.5l1.3 -0.7 1.1 1.7 -1.1 2.3 -1.4 -0.3zM-34.8 -66.5l1.3 -0.6 0.6 1.6 -1.2 0zM92.9 -64.5l0.6 -0.6 2 1.4 2 -0.3 1.8 1.5 -0.9 2 -0.1 3 -0.8 0.9 -1 0.1 -0.7 -1 0.1 -2 -0.6 -1 -0.8 -0.6 -2.1 0.6 -0.3 -1 1.4 -2zM102.4 -64.5l2.1 0.6 1.9 2.4 0 2 1.5 1 0.6 1.4 1 -1.2 1 1.6 1.7 -0.8 -0.7 -1.7 -1 0.5 -1 -2.3 -1 -0.2 -0.1 -2.3 1.1 1.8 4 -0.2 1 0.9 3.7 0.5 0.3 1.3 -2.5 0.7 0.1 2 -0.6 0.8 -2 -0.2 -2.8 1.4 -0.2 0.8 0 -1.8 -1 -0.7 -2.8 2.7 0.7 1 1.8 0 0.3 2.2 1.9 0.8 -0.9 0.3 -1 1.6 -2 0.5 -2 -3.2 -1 0.1 -1.2 1.7 0.8 2 -1.6 0.9 -2 -1.4 -0.8 0.5 -0.2 2.8 -2 -3.2 -2 1.7 -1 -1.7 -2.2 1.4 1.9 1 -0.7 1.7 -1 -0.1 -1 -1.9 -1 0 -1 1.8 -2 0 -1 -1 -1 1.2 -2 -0.3 -1 2.3 -0.7 -1.7 0.7 -3 2 -1 -0.4 -1 0.4 -2 0.9 -1 -0.1 -1 -0.8 -0.7 -1.2 0.7 -0.8 5.9 -2 -0.9 0.1 -2 -1.1 -1.4 -2.1 4.4 1.1 2 -1 0.3 -1.2 -1.3 -0.5 -7 -1.3 -0.8 -5.8 9.8 -0.2 1 1.6 1 0.2 1 -0.8 2.2 -2.6 -3.2 0 -1 -1.9 -1 0.5 -1.7 1.2 -0.3 0.6 -2 2.6 -3 -0.2 -1 2.8 -4 2.2 -2 -1.8 -2 1.1 -2 3.4 -2 -0.9 -0.7 -1 0.4 -0.3 -0.7 6.3 0 0.3 1 -1.4 1 -1.2 4 1.8 1 -0.5 1 2.2 0 0.1 -1 -1.3 -1 -0.2 -2 5.2 -3.7 1 0.8 3 -1 0.4 2.9 2.7 3 -0.2 2 -1.1 1 1.2 0.8 1 -0.4 2 -2.3 0.3 1.9 3.7 -0.3 1 0.9 2.2 -2.6 -2.2 -2.6 -1.2 -0.4 0.7 -1 -1 -2 0.5 -1 2 1.2 0.5 -1.2zM77.5 -57.6l-1 0.4 -0.6 2.7 2.1 0zM86.5 -59.7l-1.4 2.2 -0.2 1 0.6 0.6 3.4 -3.6zM96.5 -52l0.5 2.5 -1.4 1 0.9 0.8 3 -0.3 1 -3.6zM87.5 -56l-2.1 1.5 0.2 1 0.9 0.4 3 -1.2 1 0.5 0.7 -0.7 -1.7 -1.9zM90.5 -51.5l-0.2 1 1.2 0.8 1.8 -0.8zM70.8 -63.5l0.7 -0.7 1.7 0.7 -1.7 1.5zM-130.9 -60.5l2.2 0 0.2 1 -1 1.1 -1 -0.3zM59.8 -59.5l0.7 -0.9 2 2.5 1 -0.2 1 1.6 -0.6 1 0.8 0 -0.2 -1 2 -1.2 1.7 2.2 -0.1 2 -1.6 0.6 -1 -0.6 -1.2 1 -0.8 2.6 -1.5 -0.6 -0.2 -1 1.2 -2 -0.5 -1 0.8 -1 -0.2 -1 -1.6 -1.1 -1 0.8 -2.5 -0.7zM125.1 -59.5l0.4 -0.8 1.5 0.8 0.2 1 -0.7 0.2zM128.5 -58.5l1 -0.5 3.2 3.5 -2.2 2.4 -3 1.4 -1 -2.2 -1 0.8 -1 -0.5 -0.6 -1.9 2.6 -1.3 1 0.7 -0.2 1.6 2.2 0.1 0.9 -1.1zM47.3 -56.5l2 0 -0.4 3 -1.4 0.6 -1 -0.6zM-127.8 -55.5l0.5 1 -0.8 2 0.3 2 -0.7 0.5 -1 -1.4 -2 1 -1 -0.7 -0.6 -1.4 1.6 -2.8zM-124.8 -55.5l0.8 0 0 2 1 1 -1.8 0zM139.5 -55.5l1 0.1 0 1.7 -1 0 -0.6 -0.8zM52.5 -54.5l1 -0.2 0.4 1.2 -1.4 1.1 -0.8 -1.1zM117.7 -54.5l1.4 0 0.4 1.1 2 -1.6 1 0.3 0.3 2.2 -3.3 0.8 -2 -0.5 -0.5 -0.3zM134 -54.5l1.5 -0.6 0.8 0.6 -1.8 1.3zM140.3 -51.5l0.2 -0.6 1.6 0.6 2.3 2 0.1 1 -1 1 -1 -2zM111.6 -50.5l4.9 -0.6 1.9 1.6 -0.3 2 1.4 -1.8 1.9 0.8 -0.2 2 -1.7 1.6 -1 -0.1 -2 2.6 -3 1.7 -0.8 -1.8 0.5 -1 1.3 -0.1 0.7 -0.9 -1.2 -2 -0.1 -2 -2.4 -1zM126.7 -50.5l0.8 -0.9 0.4 1.9 1.4 2 -1.8 1 0 1 0.2 1 2.4 1 -0.6 1.1 -2 -0.6 -2 0.5 -1 -0.7 -1.4 -1.3 1 -2 -2.4 -2 1.8 -1 2 1zM48 -49.5l1.7 0 0.1 1 -1.3 1.2 -1 0.3 -1.9 -1.5zM151.7 -49.5l0.8 -0.5 0.7 0.5 -1.7 1.7 -1 -0.7zM108.9 -46.5l0.6 -1 1 0.1 1.8 0.9 0 1 -2.8 0.4 -0.8 -0.4zM134.2 -46.5l1.1 1 -0.8 1.2 -1 0.1zM73.4 -45.5l0.1 2.5 -1.4 -1.5zM106.7 -45.5l0.8 -0.8 0.8 0.8 -0.3 2 3.2 1 0.1 1 -0.8 0.6 -2 -0.2 -1 -2 -1.3 -0.4zM10.8 -42.5l3.7 -0.6 0.4 0.6 -2.8 2 -0.6 1.6 -1 0.5 -1 -1.1 1.5 -1zM-27.2 -41.5l2.7 -0.8 2 0.8 3 3.8 1.6 3.2 0.4 0.5 1 -0.5 -0.1 1 -1.9 0.9 -1.1 3.1 -0.3 1 1.4 3.7 0.8 0.3 -0.8 0.2 -1 1.9 0.5 2.9 -0.4 2 -2.1 1.7 -4.9 -3.7 -2.8 -5 -1.4 -12 1.1 -3.2zM63.5 -41.5l1 0.2 0.6 1.8 -0.6 2.1 -1.2 -2.1 0.5 -1zM89.1 -41.5l1.4 -0.7 0.5 0.7 0.3 1 -0.8 1 -1.6 0zM134.2 -41.5l1.3 -0.8 2 2.6 1.2 0.2 -1.2 0.1 -0.8 0.9 0.8 2 -1.2 0 -0.2 -3zM119.4 -40.5l0.5 3 -1.4 1.6 -0.8 -1.6zM126 -40.5l2.5 -0.5 0.1 1.5 0.9 0.5 3 -1.1 1 3.5 1.5 0.1 -4.5 0.5 -3 -2.1 -1 1.2 -2 0.2 -2 -1.4 -0.2 -1.4zM-10.9 -39.5l0.4 -0.4 1.3 1.4 0 1 -1.5 1 0.6 2 -1.4 1.4 -1 -0.4 0.2 -2 -0.7 -1zM82.3 -39.5l0.2 -0.7 1 0 0.5 0.7 -0.5 1.4 -1.6 -0.4zM114.8 -39.5l0.7 -0.6 1.9 0.6 -1.9 3.1 -1 0.1 -2.1 -2.2 0.1 -1 2 0.5zM4.2 -37.5l1.3 -0.6 1.2 0.6 -1.2 2.4 -1.6 -1.4zM11 -36.5l1.5 -0.5 0.4 0.5 -0.1 2zM27.4 -36.5l2.1 0 -1 1.3 -1.2 -0.3zM84.9 -35.5l0.6 -0.4 1.3 1.4 -1.3 0.6zM107.4 -35.5l0.8 2 -0.7 0.6 -1 -0.3 -1 1 -0.5 -0.3 0.4 -1 -1 -1 2.1 0.2zM-9.3 -34.5l0.8 -0.7 1.6 0.7 -0.6 1.3 -1 0zM131.8 -34.5l1.7 -0.1 1.1 3.1 -2.1 1.1 -5.1 0.9 1.1 -2.7 3 0.6zM3.3 -33.5l1.2 -0.5 3.3 1.5 0.3 2 -2.6 1.5 0.3 -1.5 1.4 -1 -2.7 -0.5zM15.4 -33.5l1.6 2 -1.5 -0.3zM117.8 -33.5l1.4 0 0.3 1.7 -1.4 -0.7zM-119.9 -32.5l0.4 -0.7 4 0.7 -0.3 1 1.3 2 -0.1 1 -1.9 0.8 -2 -0.2 -0.5 -0.6 0.5 -1.5 2.6 -0.5 -1.6 -1.4 -2 0.3zM29 -32.5l2.5 -1 1.5 1 -1.5 0.8zM35.4 -32.5l4 1 -1.9 3.1 -1.3 -1.1 0.6 -1 -1.3 0.3 -1.2 -1.3zM83.3 -32.5l1.2 -1 0.8 1 -0.8 0.9zM-15.6 -31.5l1.1 1 0 1 -1 0.6 -1 -1.6zM-3.6 -30.5l3 1 -0.9 1.3 -1 0zM26.4 -30.5l1.1 -0.9 1.2 0.9 -1.2 1.9 -1 0.2 -0.7 -1.1zM117.7 -30.5l1.8 -0.8 1.4 0.8 -2.4 1.4 -0.8 -0.4zM48.1 -29.5l1.4 -0.8 1.2 0.8 -1.2 0.7zM69.5 -29.5l1.2 0 2.4 2 1.2 4 -1.1 3 -3.7 2.4 -5 -1.2 -1.5 -1.2 -0.5 -1.6 -1 -0.1 -1.4 -1.3 0.5 -4 0.9 -1.1 1 0.1 0.7 1 0.3 1 -1.5 2 1.5 2.1 0.5 -1.1 3.5 -2.5zM107.5 -29.5l2 0.7 1.1 -0.7 2.6 3 -0.1 3 -1.4 1 0.6 2 -2.4 0 -2 -2 0.2 -5zM116.4 -29.5l0.5 0 -0.2 1 -1.7 1zM11.3 -28.5l1.2 -0.5 1.7 2.5 -1.2 1 1.5 2.4 3 1.5 1 -0.8 2 1.1 0.5 -0.2 -0.4 -1 1.9 -1.2 3 1.8 0.8 -0.6 -0.1 -1 3.3 -2.8 3.1 3.8 0.9 0.4 2 -1 2.5 0.6 1.3 -3 -1 -2 1.2 -0.4 3 5.8 1 0.8 1 -1.3 1 0.1 2 2.5 3 1.8 0.7 -1.3 -0.4 -2 0.7 -1 0.5 2 4.5 -0.5 0 1.8 -2 0.3 -1.1 1.4 -2.2 0 -0.4 1 0.7 1.5 4.1 0.5 0.1 2 -4.2 3.1 -2 0.4 -2 2.8 -7 -1.7 -0.7 -0.6 1.1 -1 -1.4 -1 -2.8 1 2.4 2 -1.6 1 -1 -0.1 -2 -2 -5 -0.1 -1 -1.1 -1 0.6 -2 -0.3 -1 -1.5 -1 -0.3 -1 0.8 0 1.4 -0.1 -1.4 -1.9 -0.1 -1 1.6 -3 -0.3 -1 1.3 -2 -1.1 -5 1.9 -2 -2.3 -1 1 -3 -1 -2 0.1 -2 1.3 -2 -0.3 -0.3 -2.1 1.1 -2 -0.8 -1 -2 1.7 -2 -0.3 -1 1.6 -1.5 -2 0.2 -1 1.3 -0.3 2 -4.5 3 0.4 1 -2.6 2 -1.5 1.5 0.5 -0.5 2.7 1 0.2 1.6 -1.9 -0.6 -2.1 -2.8 -2.9 -0.2 -1.5 1.6 0.5 2.4 3.2 1 -0.2 1 -1.5 3 -1.1 4 -0.4 -2 -0.3zM23.5 -17.5l-0.4 1 1.4 2 0.4 2 1.6 0 1.1 -1 -1.7 -1zM8.5 -25.2l-0.3 1.7 2.3 2.4 1 -1.1 2 -0.3 -3 -2.4zM-17.7 -27.5l1.2 -0.7 0.1 1.7 -1.1 0.2zM36.1 -26.5l0.9 1 -0.5 1.2 -1.4 -1.2zM-115.9 -24.5l1.5 0 -0.2 1 -0.9 0.5 -1 -0.5zM87 -23.5l0.5 -0.4 1 0.6 1 0.8 0 1 1.6 1 0.1 1 -1.7 2 -1 -3.8 -1 0 -1 -1.1zM-17.7 -20.5l1.2 -0.5 0.7 0.5 -0.7 1.7 -1 -0.3zM-100.9 -19.5l1.2 1 -0.8 1.2 -1.1 -1.2zM-10.2 -18.5l1.1 0 0.4 1 -0.8 0.9 -0.9 -0.9zM-17.9 -16.5l0.9 0 1.5 1.6 2 -1.2 1.5 1.6 -1.5 0.9 -2 -0.7 -1 0.5 -1.1 -0.7zM-94.8 -10.5l1.3 -0.5 2 4.9 2 -0.4 0.5 2 -0.5 1.2 -1 0.1 -1 -1.5 -3 2.4 -1.3 -0.2 -1.2 -5 0.5 -1.7zM164.4 -9.5l5.1 0 1.7 2 -2.7 1.5 -2.9 -0.5 -1.5 -1zM-212.9 -8.5l1.4 -0.9 1.2 0.9 -3.2 1.2zM202.2 -8.5l2.3 -0.8 6 0.1 3 1.1 0 0.6 -3 1.3 -7 -0.3 -2.7 -1zM161.3 -1.5l0.8 1 -1.4 1 1.8 1.8 2 -2.6 1 -0.1 2 2 1 -1.3 2 -0.5 1 0.8 2 -0.2 2 0.9 0.9 1.2 -0.9 0.7 -2 -1 -0.8 0.3 2.7 2 -0.2 1 -1.7 1.2 -1 -1.5 -1.2 0.3 0.1 2 -0.9 0.7 -2 -0.1 -2 -1 -3 1.4 -3 -1 0 -1.1 0 1.1 -4 0.9 -3.4 -0.9 0.1 -1 1.9 -1 0.4 -2 -1 -0.4 -2 3 -1 0.2 -1.4 -1.8 0 3 -1.7 0 -0.7 -2 1.1 -1 0 -3 3.7 -2.1 4 0.4 1 1.4 1 0zM34.7 0.5l0.8 -0.7 1 0.3 0.5 1.4 -0.5 0.8 -1.6 0.2zM109.5 2.5l2 -0.7 3.2 1.7 -2.2 1.3 -2 0 -1.4 -1.3zM147.5 2.5l0.9 1 -1.9 2.2 -1.6 -1.2zM175.5 4.5l1 -0.8 0.5 1.8 1.5 0.4 1 -1.1 4.7 4.7 -0.7 1 -2 -0.4 -4 -2zM7.5 10.5l4 0.2 2.2 1.8 1.3 3 -2.5 7.3 -3 1.5 -4 -0.6 -2.3 -3.2 0.7 -6 1.6 -2.5zM-94.9 12.5l1.4 0.2 4 6.4 5.6 4.4 1.4 3 0 2.8 -1 2.7 -6 4.4 -3 0 -3 -1.9 -2.2 -4 -2.7 -8 1 -4z"/><path fill="#c94741" d="M-139.2 -73.5l4.7 0 0.3 3 0.7 0.6 1 -0.6 1 -1.7 0.7 1.7 -1 3 1.1 3 -5.2 9 -0.4 2 1.2 7 2.5 3 0.4 7 -0.9 3 -2.4 3.2 -6.2 4.8 -1.8 0.7 -4 -2.2 -2 -2.5 -1.7 -7 -0.1 -5 0.8 -3.3 3.6 -3.7 4 -10 2.5 -3 1.3 -3 -2.8 -4 -2.7 -1 3.1 -1.4zM-151.1 -67.5l2.6 -0.8 2 0.8 -2 2.8 -3 -1.2 -0.4 -0.6zM97 -63.5l1.8 1 -0.6 5 -0.7 0.7 -1.5 -0.7 0.2 -2 -0.7 -1.2 -2.9 -0.8 1.9 -1.8zM78.3 -62.5l2.2 -0.9 0.9 0.9 -1.5 1 -1.4 3.8 -4.3 -0.8 0.3 -1.8 2.9 -1.2zM88.6 -62.5l1.9 -0.1 0 2.2 -1 0.7 -2 -0.5 -1.9 0.7 -1.4 3 1.2 1 -0.8 2 1.9 0.8 3 -1.2 1 0.7 2 -0.7 1 0.8 2 -1.1 4 -0.4 2 1 1 -0.4 1.6 -2.5 -1.8 -2 -1.1 -3 0.3 -0.7 1 0.7 1 -1.4 2 1.4 2 4.2 1 0.8 0.1 1 -2.3 2 0.2 1.1 2 0.2 0.5 0.7 0.2 3 -1.7 0.6 -2 -3.2 -1 0.5 -1 -1.1 -1 0.1 -0.7 1.1 1.1 1 0.8 3 -1.2 0.5 -2 -1.5 -0.3 -1 1.1 -2 -0.8 -2.4 -2 1.1 -2.5 -0.7 0.4 3 -0.9 0.5 -1.5 -0.5 -0.5 -2.2 -3 -0.3 -1.2 0.5 1.8 2 0.4 1.9 1 -1 1.6 1.1 -1.6 1.5 -2.4 0.5 -0.6 1.4 -1.2 -0.4 1.4 -2 0 -2 -3.7 -1 0.5 -2.4 -1 0.2 -1 -1.5 -1.5 1.7 -0.5 2.5 -1 0.1 -3 -3 -0.6 0.4 0.6 3 -1 0.7 -2 -5.2 -1.5 0.5 -1.5 3.4 -2 0 -0.4 -1.4 1.5 -1 1.8 -3 1.1 -0.8 1 1.5 1 0.1 6 -1 0.7 -1.8 -1.2 -1 0.2 -2 2.3 -0.8 2 -1.9zM112.7 -60.5l0.8 -0.7 0.4 2.7 1.6 0.5 0.3 1.5 -2.3 0.1 -2 1.1 -0.1 -1.2 1.3 -1zM114.8 -60.5l2.7 -0.1 0.2 1.1zM88.7 -58.5l2.8 -0.9 1.4 1.9 -1.4 1.2 1.3 0.8 -1.3 0.3 -2 -1.6 -3 0.9 -0.1 -0.6zM65.3 -56.5l1.2 -0.6 1 1.1 0 2.4 -1 0.4 -1 -0.8 -1.4 0.5 -0.5 -1 1.9 -0.9zM78.3 -56.5l0.2 -0.6 1.9 0.6 -0.9 1.8 -1 -0.2zM124.8 -55.5l1.7 -0.6 0.7 0.6 -1.7 1.5 -1.2 -0.5zM-131 -54.5l2.9 0 -0.4 2.7 -3 -0.8 -0.4 -0.9zM112.5 -50.5l1 0.5 3 -0.6 1 1.1 -0.3 2 -1.4 1 1.3 2 -0.6 0.7 -1 -1 -1 -3.7 -2.1 -1zM85.3 -48.5l1.2 0.4 1.1 1.6 -1.9 1 -0.2 1.4 -2 0.3 -0.6 -0.7 1.6 -1.2zM122.8 -48.5l0.7 -0.6 3 2.1 0.3 2.5 -1.3 1.1 -1.2 -1.1 0.9 -2zM68.4 -46.5l1.1 0.1 0.2 0.9 -1.2 1.4zM108.7 -42.5l1.9 0 0.2 1 -1.6 0zM-25.2 -39.5l1.9 0 4.2 6 -1 5 1 4 -1.3 4 0.4 2 -1.5 0.6 -4 -3.5 -2.3 -6.1 0.7 -2 -1.3 -3 -0.3 -5 1.2 -1.4zM123.2 -38.5l0.3 -1 1 0 1 0.9 1 -0.8 0.4 0.9 -1.4 1.3zM4.9 -37.5l1.3 0 -0.7 1.8 -1.2 -0.8zM129.8 -37.5l1.7 -0.9 0.9 0.9 -0.9 0.5zM-117.8 -29.5l2.7 0 -0.3 1 -1.1 0.3 -1.6 -0.3zM70.2 -28.5l2.5 2 0.5 3 -0.5 2 -3.2 2.2 -4.9 -1.2 -0.6 -1 1 -2zM61.2 -26.5l0.3 -1 1.1 1 -1.1 1.6zM109.4 -26.5l2.9 0 0.6 2 -1.4 1.2 -1.4 -0.2zM10.9 -25.5l0.6 -0.3 1.5 1.3 -1.5 0.4zM6 -24.5l1.1 0 0.4 1.4 1.5 0.6 -0.5 0.9 -1 -0.4 -0.3 0.5 0.3 2.5 1 0 3 -2.6 6 0.6 1 -0.9 3 1.3 1.8 2.1 -1 2 1.7 2 0.1 2 -5.6 3.2 -2 -0.5 -1 0.7 -1 -1.5 -1 -0.3 -2 1.3 -1 -0.8 -2 2.1 -2 -2.2 -1 1.3 -1 0.2 -3 -3.1 -2.7 1.6 0.7 1.2 -2 -0.6 -0.6 -0.6 0.9 -2 -1.5 -2 1.1 -1 0.3 -4 0.8 -0.9 2 2.7 3 -2.3 1 0.3 0 -1.4 -1 0 -0.2 -1.4 2.2 -0.9zM17.5 -16.9l-0.1 2.4 0.9 0 -0.2 -2zM35.4 -22.5l6.1 0.4 2 2 3 0 3 1.9 0.9 2.7 -2.1 2 2.2 0.2 1.1 0.8 -1.1 0.6 -1.2 2.4 -2.8 2.2 -1 0.1 -4.3 -1.3 0.6 -1 -2.3 -1.3 -3 0.5 0 -2.1 -4.7 0.9 -1.3 2.2 -2 -1.2 -2 0.6 -0.9 -0.6 -0.6 -1 3.3 -2 -2 -1 -2.3 -3 -0.2 -1 0.8 -1 -0.9 -2 0.8 -0.6 2 1 0.8 0.6 0.1 2 1.1 0.8 1 -1.8 -0.8 -1 1.8 -1.4 1 -0.4 2 0.8zM35.5 -18.4l-0.8 0.9 0.8 0.7 1 -0.2 0 -1zM47.5 -15.7l-2 1.9 -4.7 0.3 1.3 1 0.4 1.4 1 -0.9 1 0.7 2 -0.2 -0.9 -1 2.8 -2zM-6 -17.5l2 1 -1.9 1 1.2 2 -0.8 1 -2.1 -1 0.7 -3zM-95.1 -9.5l1.6 -0.6 1.6 4.6 -2.6 2.7 -1 -0.3 -0.7 -2.4 -0.1 -2zM35.1 0.5l1.4 0 0 1.3 -1 0.5zM151.5 0.5l2 -0.6 2.7 1.6 -0.3 1 -1.4 0.1 -3 2.8 -1.6 -2.9zM169.5 0.5l2.8 1 0 3 -1.4 1 -0.4 2.1 -2 0.2 -2 -1.3 -3 1.7 -1.8 -0.7 -1.2 -1.5 -1.1 0.5 0.1 1 -2 0.4 -2.3 -1.4 0.3 -2 2 -2.5 3 -0.9 1.1 1.4 -1.2 1 1.1 1.1 2 -1.7 2 0.7 3 -2 0 2.3 1.3 -1.4 -1.2 -1zM177.5 6.5l1 0.6 1 -0.6 0.5 1 -2.5 0zM7.2 12.5l3.3 -0.8 2 0.9 1.3 1.9 0.4 2 -1.7 4.8 -1 0.8 -3 0.3 -2.5 -1.9 -0.9 -4 0.4 -2zM-94 14.5l1.5 0.6 5 6.2 3.3 2.2 1.1 2 0.2 3 -1.6 3 -5 2.6 -3 0 -2.2 -1.6 -3.2 -8 0.4 -5.4z"/><path fill="#a51429" d="M-134.6 -68.5l2.1 -0.9 1.2 4.9 -4.7 8 -0.9 3 1.4 7 2.4 3 -0.3 8 -2.1 3.7 -4 3.3 -3 1.4 -2 -0.1 -2.3 -1.3 -1.8 -3 -1 -6 0.4 -3 1 -3 3.4 -4 1.7 -3 0.8 -4 2.8 -4.8 1 -0.6zM89.4 -62.5l1.1 1 -1 1.5 -4.2 -0.5zM95.3 -62.5l2.2 -0.7 0.8 0.7 -0.8 5.5 -1.2 -0.5 -0.2 -3 -1.3 -1zM103.2 -61.5l1.3 -0.2 1 0.8 1.7 3.4 -0.7 0.8 -2 0.2 -1.1 -1 -1.2 -3zM75.7 -60.5l1.8 -0.6 1.3 0.6 -0.3 2.3 -3.2 -0.3 -0.7 -1zM83.3 -59.5l1.6 1 -1.4 1.8 -1.1 -0.8 -0.1 -1zM90 -58.5l1.9 0 0.1 1 -1.5 1.2 -2.6 -1.2zM66 -55.5l0.5 -1 1 1.9 -1 0.9 -0.9 -0.8zM103 -54.5l2.5 -0.9 0.8 0.9 -0.8 2.7 -1 0.5 -1 -1.2 -2 0.9 -0.4 -0.9zM77.7 -53.5l3.8 -1 1 0.3 1.2 1.7 -2.2 2 -3 -1.8 -1 0.7 -0.7 -0.9zM89.3 -53.5l1 1 -1.4 1 0.5 1 -1.9 1.4 -0.8 -0.4 -0.4 -1 1 -2zM94.9 -53.5l3.6 -0.5 1.2 0.5 -1.2 1.5 -2 -1.4 -1 0.4 0 3.3 -1 -0.2 -1 -2.5 -2.9 -0.1 1.9 -0.6 1 0.6zM106.4 -51.5l2.2 0 -0.6 3 -0.6 0zM70.4 -50.5l1.1 -0.6 1 0.6 -1 1.1zM114.6 -49.5l0.9 -0.5 1 0.5 0.7 1 -0.7 1.3 -1 0.1zM-22.6 -31.5l1.1 -1 1 0.5 0.3 1.5 0.4 6 -1.7 4.1 -1 0 -0.7 -1.1 -1.5 -4 0.1 -2zM68.8 -26.5l0.7 -0.9 2 0.9 0.5 4 -2.5 1.9 -4 -0.5 -0.5 -1.4zM6.4 -23.5l0.3 4 0.8 0.9 1 0 3 -2.3 6 0.4 1 -0.8 1.2 0.8 -0.2 2.7 1 -1.5 2 0.6 -0.7 2.2 1.7 2 0 2 -2 1.3 -2 0.1 -1 1.3 -1 -0.5 -2 0.4 -1 -1.6 -1 -0.1 -1 0.8 -2 -0.4 -2 1.6 -2 -1.4 -2 1 -1.4 -1.5 0.1 -1 -1.7 -0.6 -2 1.2 -1 -0.4 -1.5 -2.2 0.5 -0.5 3 1.2 0.5 -2.7 1.5 -2.1 1 -0.1 -0.5 1.2 1.8 1 0 -5zM10.5 -19l-0.3 0.5 2.3 2.5 0.6 -2.5zM18.5 -17.7l-2 1.2 1 2.4 1.6 -0.4 -0.1 -3zM11.5 -14.9l-1 0.6 0 1.2 2.3 -1.4zM31.2 -21.5l2.3 0.6 2 -1.2 6 0.9 2 1.7 2 0 -1.1 2 0.1 1.8 3 -2.9 2.1 1.1 0.2 2 -1.3 0 -1 -1 -3 2.4 -3 -0.3 -1.1 0.9 1.4 2 -0.3 0.9 -4 -0.3 -1 -2.1 -4 0.8 -1 -1.1 -1.6 0.8 1.1 2 -0.5 0.6 -2 -1.2 -2 0.4 -0.5 -0.8 2.5 -0.9 0.4 -1.1 -2.4 -1.3 -2 -2.7 0.1 -1 1.9 -2.1 0.5 2.1 1.5 1.7 1.4 -1.7 0 -2zM31.5 -15.9l0 2.2 1.8 -1.8zM35.5 -18.7l-1.2 1.2 1.2 1.3 1.6 -1.3zM-6.9 -14.5l0.4 -0.6 1.4 1.6 -1.4 0.2zM46.3 -12.5l1.2 -0.8 2.5 0.8 -1.5 2 0 1.1 -1.7 -0.1 1.7 -1zM-95 -8.5l1.5 -0.8 0.9 3.8 -1.9 2.1 -1.2 -2.1zM152 0.5l1.5 -0.2 1.9 1.2 -1.9 1 -1 2.1 -1 0.3 -0.8 -2.4zM158 2.5l0.9 0 2.6 2.8 1 -0.4 2.2 2.6 -2.2 0.1 -1 -1.9 -1 -0.1 -2.7 1.9 -1.3 -0.5 -0.6 -2.5zM170.4 2.5l1.1 -0.4 0.5 1.4 -2.5 3.3 -1 0.4 -1 -1.3 -2.2 -0.4 4.2 -0.8zM8.2 13.5l3.3 -0.3 1.6 2.3 -0.6 4 -2 1.6 -2.4 -0.6 -1.3 -2 -0.1 -3zM-93.7 16.5l1.2 -0.5 2.8 3.5 5.9 5 0.3 3.6 -2 2.6 -3 1.3 -3 0.2 -1 0 -1 -1.1 -2.4 -4.6 -0.2 -2 0.5 -4z"/><path fill="#67001f" d="M97.1 -62.5l0.6 0 0.1 1 -0.3 4.3 -1 -0.8 0.3 -2.5 -1.1 -1zM76.4 -60.5l1.1 -0.2 1 1.3 -3 0.5 -0.5 -0.6zM102.8 -60.5l1.7 -0.5 2.4 3.5 -2.4 0.4zM103.2 -54.5l2.3 -0.2 0 2.3 -1 0.5 -1.5 -1.6zM78.7 -53.5l2.8 -0.7 1.8 1.7 -0.8 0.9 -2 0.3 -1.9 -1.2zM97.4 -53.5l1.7 0 0 1 -1.4 0zM-137.9 -52.5l0.4 -0.3 1 2 0.5 4.3 2.2 3 -0.4 7 -2.3 4 -3.8 3 -4.2 0.8 -2.1 -1.8 -1.2 -6 0.4 -4 2 -4 3.1 -4zM87.4 -51.5l1.1 0 0.6 1 -1.6 1.1 -0.9 -1.1zM-21.9 -28.5l0.4 -0.8 1.1 3.8 -1.1 3.1 -1.3 -2.1zM68.4 -25.5l1.1 -0.7 1 0.7 0.5 2 -0.5 1 -2 0.9 -2 -0.3 0 -1.6zM35.3 -21.5l2.6 1 0.4 1 1.2 0.4 0.8 -0.4 -0.7 -1 1.9 -0.3 1 1.7 -2 0.7 3.8 -0.1 -0.8 3.8 -2 -0.3 -1 0.6 -0.5 0.9 0.6 2 -3.1 -0.6 -1 -1.4 1 -4 -1 -1.4 -2 -0.1 -2 2.8 -2.7 -1.3 0.8 -1 0.1 -2 0.8 -0.6 2 0.9zM12.2 -20.5l1.3 -0.2 2 1 3.2 -0.8 -0.4 2 -1.8 0.4 -0.6 1.6 1.6 2.8 2.7 0.2 -2.3 1 0.6 2.2 -1 -0.7 -2 0.3 -1 -1.4 -2 0.4 -1.7 -0.8 3 -2 -0.6 -3 0.7 -1zM26.3 -19.5l1.7 3 2.5 1.2 0 1.2 -1 0.7 -2 -1.7 -1 -0.1 -1.7 -2.3zM6.4 -18.5l0.7 1 -0.4 1 1.8 0.6 1 -0.6 0 -1.7 2.2 1.7 0.1 1 -1.8 1 -0.4 1 0.7 1 -0.8 1.7 -1 0.3 -3 -1.1 -1 -1.2 -2 -0.4 -1 -1 1 -3 1 2.1 2.8 -1.4 -0.9 -1zM20.4 -18.5l1.1 0 0.3 1 -2.3 2.4zM34.4 -16.5l1.5 1 0.4 2 -3.8 0.6 -0.5 -0.6 1.5 -0.5zM21.1 -14.5l1.4 -0.5 0.9 1.5 -1.9 2 -1.2 -1zM-94.8 -7.5l1.3 -0.6 0 3.5 -1.1 0.1zM152 1.5l0.5 -0.8 1.7 0.8 -1.4 1 -0.3 1.3 -1 -0.3zM157.7 3.5l0.8 -0.5 1.4 1.5 -2.4 2.6 -1 -0.9 -0.3 -1.7zM9.6 14.5l1.5 0 0.8 2 -0.3 2 -1.1 1.1 -1.1 -0.1 -1.4 -2 0.5 -2zM-92.5 17.5l8.3 7 -0.3 3.2 -4 2.8 -4 -1 -1.7 -4 0 -5z"/><path fill="#d7e8f1" d="M-115.3 -108.5l0.8 -0.8 229 0 1 1 3 0 1 1 2 0 1 1.1 2 0 3 1.9 2 0 3 2.1 2 0 3 2 2 0 6.4 3.7 -0.4 1.2 -3 0.8 0.5 2 2.5 0.2 2 1 3 -0.8 4 0.1 5 3.6 1 0.1 5.5 5.8 -2.5 0.8 -2 1.8 -3.9 0.4 0.5 2 2.8 3 0.3 4 -0.7 1.1 -8.1 -6.1 -0.7 -1 -0.2 -4.6 -2.8 0.6 -0.3 1 -1.9 1.4 -2 -0.5 -7 0.4 -1.1 4.7 3.1 0.6 2 1.2 2 -0.3 3.6 3.5 -0.6 0.5 -1 -0.5 -0.6 1 1 2 -0.4 1.5 -1 0.2 -1 -1 -2 1.3 -3 -0.5 -0.6 0.5 1.1 1 -0.5 1.1 -2 -0.8 -1 -1.4 -4 -1.1 -0.4 3.2 -1.6 0.8 -1 -1.6 -1.3 -0.2 -0.2 -3 -2.5 -3.3 -1 1.3 0.7 3 -1.7 0 -3 -1.7 -1.2 0.7 -0.5 3 -1.3 0.2 -0.5 -0.2 -0.5 -3.8 -1 1.8 -1 -2.8 -3 -2.3 -2 -0.5 -2 0.5 -3 -1.7 -2 2.1 -2 -1.7 -0.8 2.4 -3.2 1.9 -0.9 -0.9 0.5 -1 -0.6 -0.9 -0.3 1.9 -0.7 0.3 -1 0.3 -2 -2.5 -1 2.3 -0.7 -0.4 -1.5 -2 0.3 -2 -1.1 -0.1 -2 1.9 -2 -1.4 -1 0.6 0.6 2 -0.6 0.3 -1 0.1 -3 -2 -0.9 2.6 -1.1 0 -1 -1.7 -0.8 0.7 0.3 3 -0.5 0.3 -2.9 -4.3 -1.1 0.3 -4.4 3.7 0.6 2 -2.2 3.4 -0.7 -1.4 0.9 -2 -0.6 -1 0.6 -2 -2.2 -1.5 -3 2.8 -1.4 -0.3 -0.6 -1.6 -1 0 -1 3.1 -4.6 -0.5 3.6 -0.2 0.7 -0.8 -0.7 -1.7 -2 -0.5 -1.9 1.2 -0.1 2 -3 1.3 -0.8 -0.3 0.4 -1 2.1 -2 -1.7 -0.3 -2 1.2 -1 -0.4 -4 1.2 -3 3.1 -0.7 -0.8 0.7 -1 -1 -0.7 -3 2.4 -4 -0.7 -1 1.1 -1 -0.2 -0.2 1.1 2.2 2.6 3 0.4 0.1 1 -3.1 1.8 -0.9 -0.8 -0.4 -2 -1.7 -0.8 -1 -1.5 -2 0.1 -2 -1.1 -2 0.5 -2 -1.5 -3 0.8 -4 -1 -2 2.2 -1 -1.1 -1 0.1 0.1 1.3 -1.1 0.7 -1 -0.8 -1 0.3 -3.4 3.8 0.4 1.9 1 0 3 -2 3 -0.6 1 0.4 0.2 1.3 -1.6 3 -2.6 1.8 -4 0.9 -2 1.2 -1.8 -0.9 1.7 -1 -0.9 -1.1 -4 0 1.3 2.1 -4.8 5 -1.5 3.9 -3 1.4 -1.3 -1.3 -4.8 -11 0.2 -1 0.9 -1.2 5 -1.2 3 -1.7 1.9 1.1 0.1 1.6 2.9 -3.6 -0.5 -2 0.6 -0.3 6 1.1 1.3 -2.8 -3 -4 10.8 -8 0.3 -4 -1.4 -0.3 -1.6 -1.7 -0.9 -3 0.6 -1 3.1 -2 2.8 -3.6 5 -4.5 5 -0.9 4 0.2 4 1.3 12 -0.9 1 0.5 4 -6.1 -2 -1.3 -8 -2.3 -10 -0.5 -5 0.9 -7 2.8 -13 -1.3 -6 3 -3 0.2 -4 -1.1 -5 3.3 -1 1.8 -1 0.4 -0.1 -1.9 2.5 -2 -1.5 -2 0.4 -3 -1.3 -1.3 -2 0.1 -1 -1 -14 0.6 -4 1.1 -2 1.5 -2 -0.2 -2 1 -0.5 1.2 1.1 2 -0.6 1.8 -4.6 1.2 -1.2 2 -2.6 2 0.5 2 -0.8 1 -2.3 1.1 -3 3 -1 0.7 -4.2 0.2 0.2 3.2 4 -2.3 1.5 1.1 0.5 4.8 2.7 3.2 -1.2 4 1.9 2 -0.8 2 -1.6 0.3 -2 -2.2 1 -2.1 -6 0.3 -2 0.7 0.5 1 -0.9 3 -4.6 1.9 -7 1.2 -2 1.6 -3 -1.2 -5 1.8 -2 -1.5 0.2 1.2 -1.1 3 0.5 2 -0.4 3 -2.3 0 1.8 3 -0.9 1 -1.7 5 0.7 1 -0.8 2 0.6 3 1.4 1.2 1.3 -1.2 0.4 -3 -0.7 -3 1 -2.8 6 -2.9 3 -5.1 3 -2.2 5 -0.1 1 -0.6 4 0.6 3 -1.5 2 -2 7 -1 1 1.1 3 -0.5 1 1.2 7 0.5 4 0.8 3 1.5 7 -2.1 2.8 2.1 0.3 2 -2.1 2 -0.1 3 -4.2 7 -0.4 2 1.1 12 3.5 10 -0.5 4 -2 2 0.4 1 1.2 1.1 5 1 2 -0.2 3 1.1 6 -0.8 2 0.7 2 -0.5 3 0.5 2 0.4 3 1.9 5 -0.4 3 -1.2 5.5 1.4 0.8 1 0 2 1.7 2 -1.3 1 -0.1 2 -0.6 0.7 -11.2 3.3 -2 3 0.3 2 -0.9 3 -2.1 2 -5.1 -0.1 -4 1.9 -1 2.9 -2 -2.6 -3.9 3.9 -2 1 -1.1 2.4 -6 4.7 -2.6 2.9 -0.9 3 0.3 2 -8.8 0.4 -1 -2.4 -0.2 -2 0.8 -1 -0.4 -1 -3.7 -3 0.6 -6 -1.2 -2 0.7 -2 -2.6 -0.2 -2 0.9 -5.9 4.3 -0.6 9 -1.7 1 -0.6 2 1.8 0.7 0.3 1.3 -2.3 0.3 -0.7 -0.3 -0.3 -1.7 -1.5 -0.3 1.3 2 -1.8 4.7 -1.1 0.3 2.4 1 0.6 1 -2 0 -0.9 2.6 -1.5 -0.6 -0.5 -1.1 -1 1 -3 0.4 -1.4 -1.3 2.4 -2 -1 -2.8 -0.9 0.8 -0.1 1.7 -2 0.4 -0.2 -3.1 -1.7 -1 -1.1 -1.8 -1 0.2 -0.5 0.6 1.4 1 -0.1 2 -0.8 1 -2 0.2 0 -3.1 -1.9 -1.1 -0.2 -1 1.1 -2 1.8 0 -1.9 -2 0.1 -1.7 1 0.4 1.1 3.3 1.9 0.8 3.1 -5.8 -2.1 -1.3 -5 0.8 -1 -0.6 0 -3.2 0.3 1.3 1.7 0.7 2 -2.3 2 1.8 2.5 -2.2 -1.6 -2 0.9 -1 -0.2 -1 -0.6 -0.5 -1 0.5 -2 2.5 -4 -1.7 -0.9 -1.8 -3.5 -2 -3.6 -3.4 -2.1 -3.6 -1.6 -4 0 -3 -2.3 1 -0.5 -5 1.5 -2.8 4 0.8 0.5 -2 4.5 -3.7 0 -0.7 -1.9 -1.6 -0.1 -2.1 2 0.1 1 2.1 1 -0.4 1 -3 0.4 1.3 1.6 0.2 0.9 1.8 2.1 0.9 0.9 -0.9 -1.2 -1 -0.3 -1 0.6 -0.4 1 1.3 3 -0.1 2 -1.4 2 0.4 -0.4 -1.8 -3.6 -3.2 -6 -0.7 -2 -1.1 -3 0.1 -1 -0.6 -4 1.1 -6 -0.7 -2 -0.9 -1.2 -5 -0.8 -0.7 -2 0.4 -1.2 -0.7 1.7 -5 -0.5 -1.6 -4 0.1 -2 3.3 -3 -0.3 -1.5 -1.5 -1 -5 1.1 -5 2.4 -2 -0.5 -1 2.5 -1.5 0.3 1.5 1.7 0.6 1 -0.6 0 -2.4 0.8 0.4 -0.7 2 1.9 1.3 6.1 -5.3 -1.1 -1 -1 1.6 -1 0.2 -3 -1.4 -1 -1.9 -1 -0.2 -4 4.4 -1 0.2 -4 -3.9 1 -1.3 1.2 1.3 -0.1 -1 1.2 -1 -0.1 -3 -1.2 0.1 -1.7 1.9 -1.3 0.1 -1 -0.2 -1.4 -1.9 1.4 -0.5 2.4 0.5 1.3 -2 1.3 0.6 2.5 -2.6 -0.5 -0.9 -1.1 -0.1 -1.9 -5 0 -1.2 1.7 0.2 -0.9 -1 1.5 -3 -1.2 -1 -0.8 -2 -1.5 1 2 3 -0.8 0.6 -2 0 -2 -1.4 -0.4 1.8 -1.6 0.6 -1 -2.5 -5 1.5 -1.6 1.4 0.6 1.7 2 1.2 -1 0.5 -1 -1.1 -2 0.6 -2 -1.8 -1.3 -0.1 1.9 -3 -0.6 -1.2 -1 0.1 -0.7 -0.9 0.8 -2 -0.6 -7 -3.5 -2.9 -5 -0.7 -5 1.2 -2 -0.2 -4 2.9 -6 1.1 -1.1 -0.4 2.6 -2 -2.2 -1 -0.1 -3 1.8 -1.8 4 -1.2 -0.9 -2 0.9 -0.9 4.6 -1.1 0 -1 1.4 -1.4 7 -2.6 -3 -1.4 -1 1.4 -1 0.1 -1 -0.7 -3 0 -1 -1.6 8 -4.6 2 0 1 -1 2 -1 2 0 3 -2 2 0 3 -1.9 5 -1 1 -1zM-106.5 -59.8l-1.4 2.3 2.6 -2zM-105.5 -62.7l0 1.8 1 0.1 1 -1.7zM-95.5 -31.9l-2.7 1.4 1.7 4.4 2 -0.3 0 -2.3 2 0.7 2 1.7 3.4 -1.2 -6.4 -4.8zM-80.5 -73.2l-1.6 2.7 0.6 0.4 1.1 -1.4zM-1.5 -53.1l-0.9 0.6 0.9 1.9 1 -0.3 0.6 -1.6 -0.6 -0.9zM19.5 -79.9l-3.1 4.4 -2.8 2 0.9 0.4 5 -0.9 0.8 -2.5 1.7 -1 -0.5 -1.2zM-84.5 -27.1l-0.8 0.6 0.8 2.4 3.5 -1.4 -1.5 -1.5zM-68.5 22l0 3.2 0.9 -1.7zM-63.5 18.3l-3.1 2.2 3.1 1.1 1.1 -2.1zM-61.5 23.4l0 3.1 0.9 1 1.1 0.3 1.8 -1.3 -0.8 -1.3 -1 0.1zM-58.5 19.4l-1.7 1.1 1.7 1.6 1 0.4 1 -0.8 2.1 -0.2zM-52.5 10.9l-1.5 1.6 0.5 1.2 2.2 -0.2zM-47.5 15.3l-0.7 0.2 -0.3 1.1 -1 -1 -1.1 0.9 -1.9 3.1 1 0.7 3 -1.1 0.5 -1.7 1.9 -2zM-44.5 6l-1.4 1.5 0.4 1.2 1.9 -2.2zM-79.5 23.2l-1 1.6 2 -0.5 0.5 -0.8zM-65.5 21.9l-1.9 1.6 0.4 1 1.5 0.3 1.4 -1.3 -0.4 -1.3zM-45.6 -91.5l1.1 -0.1 0 1.1 1 0.6 2 0.1 1 -0.9 2 0.7 2 -0.7 3 1.2 2 -0.8 2 0.5 4 -1.9 4 -0.7 0.9 0.9 -2.9 2.1 -12 3.8 -5 5.2 -2 0.6 -3.5 -1.7 -1.8 -3 -0.1 -3zM-156 -90.5l0.5 -0.5 1 0.6 2.9 2.9 -1.9 1.6 -5 1.2 -3.6 -1.8 4.6 -3.7zM-15.7 -87.5l2.2 0.2 1 0.8 -1 1.4 -3 1 -3.3 -0.4 -1.4 -2 0.7 -0.7 2 0.6zM-5 -77.5l1.5 -0.2 1.3 1.2 0.1 2 3.2 4 -0.6 1.9 -2 0.6 -2.4 -0.5 0.7 -4 -1.7 -2zM145.3 -74.5l2.2 -0.4 5.3 4.4 -5.3 -0.2 -1.2 -0.8zM-7.7 -73.5l1.3 0 -0.1 2 -2 1.8 -1 -0.3 0 -1.6zM-51.9 -67.5l2.4 -0.8 0.3 0.8 -0.3 0.6zM44.4 -64.5l0.1 -0.6 0.6 0.6 0.1 1 -2.7 1.5 -0.4 0.5 0.7 1 -1.3 0.6 -0.6 -0.6 0.6 -1.5zM68.7 -64.5l0.8 -0.2 0.7 3.2 -0.7 1.4 -1.5 -2.4zM-196.6 -53.5l1.1 -0.7 6 1.1 2 -0.6 2 0.3 1 1.4 1 0 0.3 -1.5 1.7 -0.6 8 0.2 2 0.8 2 -0.7 3 1.3 2 -1.8 1 1 2 0.4 1.2 1.4 -0.1 1 -1.7 2 0.9 3 -2 4 0.5 2 -1.6 2 0.6 4 -0.9 2 1.4 2 -0.4 1 1.1 2.8 2.5 1.2 3.1 4 -1.6 0.2 -0.7 0.8 -0.3 3 -5 1 -3 -0.5 -2 0.4 -2 -0.8 -7 1.5 -7 -0.4 -8 1.2 -5 -1.7 -1 -2 -4 -2 -2 0.1 -1.3 1.2 -3.7 1.4 -0.6 -0.4 -1.4 -3 0.7 -1 -0.1 -3 0.9 -1 -0.1 -3 1 -1 -0.1 -2 1 -1 0.9 -5 3.3 -5 0.9 -3 2 -2 0 -1zM-183.5 -49.9l-2 0.6 -0.3 0.8 -0.2 1 1.5 1 1 -1.4zM-126.5 -53.5l1 2.5 2.1 0.5 -2.4 1 0.3 1.1 -1 -0.6 -0.6 -2.5zM26.6 -53.5l0.9 -0.7 1 0.7 0 2.5 -1.4 -0.5zM180.7 -53.5l7.8 0.5 2 -0.5 4 1.5 2 -0.3 3.3 0.8 2.3 4 2.1 2 3 7 1 1 1 5 1 1 0 2 0.9 1 0 3 0.9 1 -0.5 3.2 -1 0.6 -2 -1.5 -4 0.7 -2 2 -8 0 -4 -4.3 -6 -0.9 -2 -1.9 -3 0.9 -3 -1.2 -2 -2.5 -1.6 1.9 -0.7 4 -1.7 2.5 -5 -0.2 -5 -2.9 -3 0.8 -1 -0.5 -1.4 3.3 -2.6 0.4 -0.8 1.6 -3.2 1.3 -1 1.3 -2.5 -3.6 0.3 -3 -0.8 -3 -1 -0.5 -2 0.5 -0.9 1 0.2 2 -0.9 2 0.1 5 1.5 4 -1.5 2 1.2 2 -1.7 1.1 0 2.9 -1 1 -1.5 -1 -0.5 -2.4 -2.2 2.4 1.2 2 2 -0.5 2.5 1.5 0.4 1 -2.9 0.9 -3 -2.1 -2.3 4.2 0.3 0.6 4 -1.2 1.2 1.6 -0.2 1 4.6 1 0.4 1.7 8 1.5 1 1.4 5 0.3 5 -1.4 1 0.1 1 1.4 1.8 -1 0.2 -1.2 2 2.8 1.7 -0.6 0.3 -1.8 1 1.5 3 -1.8 4 5.1 4.4 0 7.6 2.9 6 0.6 12 -0.9 6 -2 -0.8 1.4 0.1 4 -1 1 0.1 3 -0.8 1 0 3 -1 1 0 2 -1.1 1 -1.5 4.1 -1 -0.7 -0.8 0.6 -0.1 2 -2.9 3 -4.2 -0.5 -5 -3.4 -3 -0.2 -2 1.7 -3 1 -3 -0.4 -0.2 -2.2 -1.8 -0.6 -3 -0.4 -2 0.5 0 -1.6 2 -0.3 0.3 -0.6 -1.3 -2.1 0 -2.3 3.2 -2.6 0.4 -2 -3.6 -3 -1 0 0.7 6 -0.7 0.4 -1.3 -2.4 -1.7 -0.2 0.3 -2.8 -2.8 -1 -1.5 -1.5 -2 2.5 0.3 1 -0.9 2 0.6 1.4 1.6 0.6 -2.6 0.6 -2 -0.6 -3 1.5 -1.8 -0.5 -1.2 -2 2.2 -5 -4.2 -1.1 -0.9 -1.9 1.5 -1 -0.6 -1.6 -1.5 0.6 0.5 2 -3 2.2 -2 0.6 -1 1.5 -1.4 -0.3 1.1 -2 -0.7 -1.6 -3 2.7 -1 0 -6 6.2 -1 0 -0.3 1.7 -2.7 0.4 -1 -1 -0.1 2.6 -1.3 2 0.6 2 -2.2 1.2 -2 -0.5 -1 1.8 -1 -0.1 -1 1.1 -2 -0.2 -1.6 -1.3 0.5 -4 -2.9 -2.5 -4 0.1 -3 1.9 -0.7 1.5 1 1 -0.3 0.9 -3 0.2 -3 1.1 -3 -2.9 -5 -1.5 -3.8 1.2 -1.2 0.9 -1 2.4 -2 -0.1 -2 1.3 -5 0.1 -6 -3.3 -1 -1.3 -3 1.7 -4 -1.7 1.1 -3 -2.1 -1 0.7 -2 -2.7 -4.3 -1.3 0.3 1.1 3 -1.8 1 -3 -1.6 -1 0.2 -0.6 1.4 2.6 2.9 3.3 0.1 -0.3 1.4 3.9 1.6 -0.9 0.1 -1.5 1.9 -3.5 0.8 -5 -2.1 -1 0.9 -2 -1 -1.8 4.4 0.5 3 1.3 0.9 1 -0.2 1.2 1.3 -2.2 2.6 -9 -0.4 -2 2 -2 0.8 -3 -1.3 -4 -0.3 -2 -2.2 0.9 -1.2 2.9 -1 1.6 -2 -0.9 -4 -1.5 -2 0.6 -3 4.8 -1 1.3 -2 -0.8 -3 1.2 -2 -1.1 -0.2 -1.3 -1.8 2.3 -3 4 1.6 3 -3.4 5 -1.8 1.1 -3.4 -3.1 -1.4 -3 1.3 -1 -0.5 -2 -3.1 -1.3 0.7 -0.1 2 1.8 1 -0.4 1.6 -1 0.2 -2 -1.4 -1 0.3 -1.5 1.3 1 1 -0.5 1.5 -1 0.2 -2 -1.4 -1 0.2 -2.1 2.5 1.1 2 -1 0.8 -1.8 -0.8 0.3 -2 -1.2 -2 -3.3 -0.4 -0.6 -0.6 0.9 -1 -0.3 -0.7 -3 0 -0.2 -1.3 0.9 -1 -0.7 -0.9 -4 -0.1 -1.9 -4 -2.8 -2 -0.2 -2 1.3 -2 -0.4 -2 1 -1 -0.4 -1 2.4 -3 1 -0.3 4 4.6 1 -2.4 1 0.1 0.5 1 -0.5 1.4 3 0.4 1.6 1.2 -0.6 1.5 -2 0.3 -2 1.8 -1 -2.1 -1 0.5 -1 2.4 -0.9 -0.4 0.6 -1 -1.7 -2.1 -0.5 1.1 1 3 -1.4 2 2.9 2.5 3.2 -0.5 -2.2 -1.4 0 -1.2 2 1.2 2 -0.2 3 -1.6 6 1.3 -2.1 -4.1 2 -6 3.1 -2.1 0.3 3.1 0.7 0.4 4 -0.4 4 1.6 4 -2.7 1 -0.2 3 1.7 0.8 -1.4 1.6 0 1.4 1 0.1 1 -0.9 0.8 -2.7 0.2 -0.9 1 2.5 6 3.1 1.6 5 1.1 6 0.1 4 1.1 4 -0.7 1 -1.8 2.5 -1.4 1.5 -2.1 4.8 -2.9 0 -2 4.2 -1.3 4 1.5 1 3.8 3 3.3 6 1 7 -1.5 1.9 -1.8 0 -2 -2.8 -4 -0.1 -1.4 -1.7 -0.6 -0.2 -2 -2.5 -3 0.8 -1 -0.4 -1 -3 -2.2 -2.8 -0.8 -0.3 -1 4.1 -1.8 4 -3.5 2 -2.8 6 -1.2 3 -5.3 1.2 0.6 -0.9 2 0.7 0.7 2 -0.6 -0.1 -2.1 6.1 -2.8 2.2 -3.2 -0.1 -1 2.9 -2.6 2 -0.2 1.3 2.8 -0.3 1 1 1.2 12 -1.6 6 1.9 2 1.9 3 1.4 3 -0.3 1 0.9 1.4 -1.4 -1 -3 0.8 -1 -0.4 -2 2.1 -2 0.5 -3 -2.4 -2.1 -1 -0.3 -1 0.6 0.4 -1.2 -1.4 -0.5 -2 1.5 -5 -1.9 -0.5 -1.1 0.5 -1.8 1 -1.3 5 -0.9 1 0.8 0.6 -2.8 1.4 -1.1zM208.5 23l-0.7 1.5 0.7 0.5 1.6 -1.5zM55.5 20l-0.5 0.5 0.5 0.8 1 -0.1 0 -1.6zM40.5 10.1l-0.7 1.4 0.7 0.2 1.4 -1.2 -0.4 -0.6zM57.5 17.3l-0.5 1.2 0.5 0.6 1.3 -0.6 0 -1zM140.5 -34.4l-1.4 2.9 1.4 2 2 -3.8 0.9 -0.2zM58.5 21.1l-1.9 2.4 -1.7 1 -0.4 3.1 -1 0.6 -1 -1.9 -2.3 2.2 1.3 1 1.4 0 0.7 2 -2.1 0.8 -1.3 -0.8 0 2 3.3 2.4 1 -0.7 1 -2.6 2 0.4 0.6 -0.5 -0.6 -2 -1 -0.3 -0.1 -0.7 2.4 -7zM-120.2 -51.5l0.7 -0.7 0.7 1.7 -1.7 0.9 -0.6 -0.9zM39.2 -47.5l0.6 1 -0.3 1.3 -0.7 1.7 -1.3 0.5 -5.2 0.5 -3.8 -0.8 -1.8 -1.2 0.3 -1 2.5 -1.5 3 0.5 2 -0.6 2 1zM53.9 -47.5l0.7 0 0.7 2 -0.8 1.8 -2 -1.8 1.7 -1zM18.2 -44.5l6.6 0 -2.3 0.4 -1 3.4 -1 -1 -1 0.1 -1.5 -1.9zM52.1 -42.5l1.4 -0.6 9.3 8.6 -1.3 0.5 -3 -0.8 -0.4 -1.7 -1.5 -1 -1.1 -2.1 -3 -1.5zM-127.9 -41.5l1.4 -0.8 1.6 1.8 -0.6 0.9 -1 -0.1 -1 -0.4zM1.3 -39.5l0.2 -0.9 0.7 1.9 -0.7 1.7 -0.7 -0.7zM44.4 -39.5l1.1 -0.8 3.3 1.8 -0.3 0.8 -2 -0.8 -2 0.2zM94.2 -39.5l5.3 0.2 3.5 1.8 -2.5 0.3 -2 1.6 -4 -1 -2 0.4 -1.3 -1.3 0.4 -1zM17.7 -36.5l1.9 0 -0.1 1 -2 0.6zM40.2 -36.5l2.2 2 2.5 6 2.7 3 1.2 3 -0.3 1.3 -3 -3.7 -1.7 -4.6 -3.7 -6zM6.9 -35.5l0.6 -0.4 3 1.1 4.5 4.3 -2.4 0 0.8 -1 -1.9 -0.5 -2 -2.1 -2 0.2 -0.8 -0.6zM-127 -33.5l0.5 -0.4 1 1.2 1.9 3.2 -0.5 2 0.4 1 2.2 2.4 5.5 3.6 -0.1 2 -1.4 0.7 -3 -1.4 -1 2.5 -1 0.3 0.1 -2.1 -2.6 -2 -3.5 -1.2 -1.6 4.2 -1.3 1 -2.1 0.8 -4 -0.8 -0.9 -1 2 -5 3.9 -3.2 3.2 -4.8 2.5 -1zM-5.9 -33.5l0.4 -0.6 1.3 0.6 -1.3 1.4 -0.7 -0.4zM-2.7 -33.5l2.2 -0.8 0.7 0.8 -1.7 0.9zM73.1 -33.5l2.4 -0.5 1 0.5 3.4 3 1.1 2 2 1 0.7 3 -1.2 3.1 -3 -0.5 -1.4 -5.6 -5.8 -5zM-123 -32.5l1.5 -0.9 0.6 0.9 -0.6 3.1 -1.8 -0.1 1.1 -1zM103 -28.5l1.8 0 -1.3 2.9 -3 1.4 -3 5 -1 0.1 0 -2.7zM20 -27.5l2.5 1 0.6 1 -1.6 1.1 -1.5 -0.1zM93.1 -25.5l0.4 -0.6 3 0.6 0.5 2 -0.5 0.3 -2 -2zM-115.2 -20.5l3.7 -0.1 0.7 2.1 -4 0zM-107.2 -17.5l1.7 0 1 1 -3 0.3 -0.5 -0.3zM142.6 -16.5l1.9 0 1.6 3 -1.6 0 -2 -1.9zM15.8 -6.5l1.7 -0.5 0.9 0.5 -1.9 1.7 -1.3 -0.7zM-159.2 -5.5l5.7 -0.5 10 1.2 8 5.3 3 -0.6 3 -5.7 2 2 2 0.4 2 2.1 1.6 -0.2 3.4 -2.4 4 -0.7 9 0.6 5 1.1 2 4.4 -3 0.7 -2.9 2.3 0.5 2 -2.2 2 -0.1 1 0.3 2 -0.6 2 0.8 2 -2.8 5 -1.8 0 -2.2 -1.6 -4 1 -1 1.6 2 5.1 2.6 0.9 1.4 2.1 2.3 -0.1 0.4 3 1.3 1.4 2 -0.2 2.7 1.8 1.5 4 -3.2 3.3 -7 -0.9 -1 -1.1 -1 0.3 -5 -2 -1.5 -1.6 -0.5 -2.5 -0.5 1.5 -1.5 0.7 -2 -2.4 -1 0.2 -4 6.3 -3 -0.5 -1 1.2 -1.3 -0.5 -0.1 -1 -4.6 -0.8 -2 -2.5 -1 1.6 -3 0.5 -4 2.5 -3 -1.1 0.1 -2.2 -1.1 -1.5 -0.5 1.5 -3.5 1.3 -1 0.2 -2 -1.7 -1 0.2 -1.9 3 0.5 1 -1.6 0.7 -2 -1 -2 0.5 -4 -2.9 -3 0.3 -3 -3.6 -1 2.7 -4 -0.2 -2 1.8 -1 -0.7 -4 0 -3 -2.1 -3 0.4 -3 -2.8 -2 0.4 -2 -0.6 -0.5 2.1 -2.5 1.2 -1.4 -1.2 -0.1 -2 -1 -1 -0.8 -5 -1.1 -1 0 -3 -1.1 -1 0 -3 -1.1 -1 -0.1 -4 -0.9 -1 0.3 -8 -0.9 -1 0.2 -4.3 2 4.3 3 0 0.5 -1 -1.1 -3 0.6 -1.1 1 -0.1 2 -2.2 4 -1.3 2 0.7 2 -1.1 0.6 1.1 3.4 1.8 2 -0.2 4 -2.1 5 -0.5 6 2.4 7 -2.1 3 0.3 2 1.1zM-136.5 12l-2.5 2.5 2 2 -0.5 0.4 -2.1 -0.4 -0.9 -3 -7 5.3 -0.8 -1.3 0.7 -1 -3.9 -2.3 -4 -0.8 -7 4.5 -3 -0.1 -0.5 2.7 0.4 1 2.3 1 0.8 2.7 5 2.8 2 2.6 5 0.1 3 -1.2 1 1.2 5 -1 1 -1.6 1 0 1.4 -1.6 -0.4 -0.7 -2 -2 -2 -0.1 -2 -1.3 -3 1 -0.4 -0.9 1.4 -1.9 2 0.5 1 1.1 2 -0.4 1 -1.1 4 0.2 1 0.8 3 -0.8 0 -0.9 -1 -0.5 4.1 -4 -0.1 -1.5 -3 0.1 -1.4 -1.6zM-109.5 12.3l-1.2 1.2 0.2 1.7 2.2 -0.7 0 -1zM34.1 -3.5l1.4 -0.6 1.5 1.6 -4.5 0.3 -0.6 -0.3zM144.2 -3.5l1.3 -0.5 5 0.5 -1 1 -2 -0.6 -1 2.7 -3.1 -2.1zM190.3 -1.5l5.2 -0.3 2 0.7 7 -0.8 4 0.8 2 -0.6 2 0.8 2 -0.3 0.3 7.7 -1.3 2 -2 -1.7 -3 -0.7 -6 1.2 -12 0 -3 -1.1 -1.2 -2.7 2.1 -2 -0.3 -1 0.7 -1zM16.5 8.5l1 -0.9 2 3.4 1.1 0.5 -2.1 1.8 -1.3 -1.8zM16.4 19.5l1.1 -0.5 0.3 0.5 -1.3 2.8 -1.2 -0.8zM168 23.5l1.2 0 0.4 1 -1.1 0.9 -0.8 -0.9zM15 24.5l0.5 -0.7 1.2 1.7 -0.2 1.2 -1 0.1zM35.4 25.5l2.1 -0.6 0.3 0.6 -1.3 1.2zM169.8 28.5l1.7 -0.8 1.2 1.8 -1.2 0.6zM31 29.5l0.8 0 1.3 3 -0.6 0.3 -1.1 -1.3zM146.6 36.5l1 0 0.7 1 -0.8 1.6 -2 0.5 -0.1 -1.1zM27.8 37.5l0.7 -0.8 1 0.2 1.5 1.6 -2.5 0.6zM22.1 39.5l1.9 0 -1.5 1.4zM107.2 39.5l1.3 -0.6 1 0.5 1.2 1.1 0.1 2 2.7 1.1 0.7 0.9 -0.2 1 -0.5 0.5 -3 -0.7 -0.4 -1.8 -1.6 -1.5 -1 -0.2 -2 1.1 -1 -0.4 1 -1.2 1 -0.1zM163.4 39.5l1.1 -0.7 -0.6 1.7 2.5 2 1.1 2.8 1.2 0.2 -2.2 0.7 -2 3.5 -2.8 -1.2 -1.2 -2 0.3 -1 -2.5 -3 2.2 -2.1zM175 39.5l1.5 -0.5 1.1 1.5 -2.1 0.5 -0.7 -0.5zM134.2 40.5l1.3 2.8 1 0.2 -3 1 -0.9 1 -0.1 1.8 -0.6 -0.8 0.5 -3 1.1 0.8 -0.4 -2.8zM136 40.5l0.5 -0.9 1 0.6 0 1.7zM-55.2 41.5l1.1 0 1.2 3 -2.6 4.1 -2.1 -2.1 1.9 -2 -0.9 -2zM140.4 41.5l2.4 1 -0.3 0.8 -1 0.7 -2 -0.2 -1 1.5 0 -1.5 1 -0.4zM139.4 46.5l1.2 0 -0.8 2 -1 -1z"/><path fill="#a7d0e4" d="M-114.8 -108.5l5.1 0 0.2 1.5 0.1 -1.5 6 0 -3.1 0.8 -2 2.2 -2 -0.7 -1 0.5 -1 4 -1.1 1.2 -4.9 4.8 -3.3 1.2 -0.2 2 1.5 1.1 3 0.3 9 -1.5 4.2 0.1 -0.6 -2 1.4 -1.2 0.4 -1.8 -2.4 -0.4 -1 -2 -3.6 -2.6 0.6 -1.2 2 1.3 4 0.1 0.9 -2.2 2.7 -2 -0.6 -2 37 -0.4 5 0.8 15 -0.9 125 0.2 3.7 0.3 -1.7 0.6 -2 2.4 -0.5 1 0.5 2.4 3 1.6 5 1.4 0.9 -0.4 -1.3 -1 0 -3 -1.7 -2 1.4 -3 25.7 -0.5 1 1 3 0.1 1 1.1 2 0 1 1.1 2 0 3 1.9 2 0 3 2.2 2 -0.1 3 2 2 0 2 1.2 -3 0.7 -7 -2 -6 1.3 0 -1.7 -3 0.9 -2 -1.5 -3 -0.8 -2 0.7 -0.7 1.4 0 1 4.4 1 -2.6 2 15.9 2.3 5 1.5 8 -0.2 3 1 6 -0.4 6 3.4 4.4 4.4 0 1 -3.4 2.3 -4.3 0.7 0.6 2 2.8 3 -0.1 4.5 -5 -3.1 -3.5 -3.4 -0.5 -5.3 -3 1 -0.4 1.3 -1.6 0.9 -9 -0.2 -1.2 2.3 -0.4 3 3.6 1.1 2 1.7 3 0 0.8 1.2 -3.8 -0.7 -1.2 1.7 -3.6 1 -0.6 1 1 1 -0.6 1.6 -3.6 -1.6 1.3 -1 -0.7 -1.2 -4 4.1 -1.2 0.1 -2 -4 0.2 -1.1 -3 -2.4 -3 1.5 -0.2 1 2 1 0.2 1.5 -4 -1.8 -0.5 0.3 -0.5 3.4 -0.5 -3.4 -1.5 -1.2 -2 0.3 -2 -1.7 -8 -1.8 -2 2 -1 -1.7 -1 -0.3 -4 2.3 -1 -2.1 -2 -0.2 -3 1.1 -3.3 -1.7 -0.7 -1.5 -4 1.5 -1 2.2 -1 0.3 -2 -2.5 -2 -0.3 -1 1.1 -2 -0.5 -1 2 -1.8 -0.3 0.3 -1 -0.5 -0.3 -4 1 -2 -1.6 -1 2 -2 -0.2 -2 3 -1.3 -0.9 0 -2 -0.7 -0.6 -1 -0.2 -1 0.7 -1 -1 -1.7 3.1 -5.3 1.1 -3 -0.6 -2 1.9 -1 0.5 -1 -0.5 -1 1.2 -1 -0.8 -1 0.9 -0.4 -0.7 0.5 -1 -2.1 -1.9 -1 0.9 1 2 -1 1.5 -2 -2.9 -1.1 0.4 0.5 1 -0.6 2 -1.8 0.1 -1 0.9 -1.2 -2 -2.8 -0.1 -0.7 -2.9 0.8 -2 -1.1 -0.4 -2.4 2.4 -0.1 3 2.1 0 0.7 1 -0.3 2.6 -2.2 -0.6 -1.4 -2 -0.4 -2.2 -1.1 0.2 -0.3 1 0.8 1 -3.4 1.4 -3 0.1 -2 -0.8 -2 1.5 -2 -0.6 -2 0.9 -1.1 -3.5 -1.9 -2 1 -1.2 1 -0.2 1 0.9 0.9 -0.5 -0.5 -1 0.5 -1 1.8 -2 2.1 -1 0.2 -3.9 2.5 -1.1 -0.5 -0.8 -4 1.1 -1.2 -1.3 -0.9 -3 3.8 -3 6.3 -6.5 5 -2 4 0 4 1.6 5 0.3 3 1.1 2 1.8 0.7 -0.3 0.3 -1.8 3 0.8 3 -0.3 4 -1.6 3 0.2 2 -1.2 2 0 -0.7 -1.1 2.2 -2 -0.2 -1 -7.3 -1 -2 0.9 -0.6 1.1 2.4 2 0 1 -0.8 0.9 -2 0 -2 -0.2 -1.4 -1.7 2.4 -4.1 4 -1.9 -1 -0.7 -10 -1.4 -4 -1.7 -10 -0.3 -4 0.9 -8 3.5 -5 -1.7 -7 -0.7 -6 0.9 -10 -1.4 -1 1.6 -2 -4 -18 0 -6 1.9 -2 -0.4 -0.7 1.5 -4.3 2.8 -1 2.1 -2 0.8 -1 1.4 -1 0.1 -1 -2.6 -1 0.3 0.3 3.1 -1 2 2.4 4 -1.7 1.6 -2 -0.1 -0.3 1.5 -2.7 2.3 -6 -1.1 -1 0.4 -0.2 0.4 2.2 1.2 1 3.5 4 -2.4 1 0.7 0.7 5 2.7 3 -0.4 2 -2 0 -2 1.6 -1 -0.3 -7 1.7 2.1 1 -1.1 2.5 -5 1.9 -6 -1.3 -3 3.7 -1 -1.4 -3 -0.3 -3 2.3 -1 -1.4 -1 -0.2 -0.9 1.2 -0.1 2.1 -2 -3 -3 -0.8 -1 -2 -3 0.2 -1.8 -1.5 -0.2 -2 -1 -0.5 -1.8 0.5 2.5 2 -2.8 1 -0.7 2 -2.2 1.4 -0.6 -1.4 2.8 -3 -0.3 -3 -1.6 -1 0.7 -1 -3 -1.6 -5 3.1 -1 -0.5 -3 -4.2 -2 2.2 0.1 1 1.6 1 -0.5 1 -2.2 0.6 -1 1.1 -1 -0.1 -1 -1.4 -1 0.7 -0.2 -0.9 -1.5 -1 1.7 -2 -2 -2.9 -0.3 -4.1 -3.7 -3.2 -5 -0.9 -5 1.3 -2 -0.3 -4 2.9 -3 0.4 -1.5 -0.2 1 -1 -2.3 -1 -0.2 -3 0.7 -1 6.2 -2 -1.9 -1.2 0 -1.2 5 -1.1 1 -2.1 10.4 -3.4 1.2 -1 -4.6 -2.7 -4 -0.5 0 -1 1 0 1 -1.2 2 0 3 -2 2 0.1 3 -2 2 0 3 -1.9 2 -0.1 1 -1 2 0.1 1 -1 3 0zM-98.5 -65.7l1 2.1 1 -0.9zM-91.5 -67.2l-0.6 0.7 -0.2 4 -2.2 1 1 1.5 2 -0.8 2 0.4 1 -0.7 0.3 -1.4 -2.2 -3 1.3 -1zM-89.5 -79.6l0 1.4 1 0 0.5 -1.3zM-76.5 -77.5l-5.5 3 0.5 1 -1 3.5 1 0.4 2.6 -3.9 2.9 -2 0.3 -1zM60.5 -97.6l0 2.4 2.4 -0.3 1.1 -1 -1.5 -1.8zM129.5 -69.2l-0.7 0.7 0.7 1.5 1.2 -0.5 0 -1zM18.5 -83.6l-1.4 2.1 1.4 2 -2.4 4 -2.6 1.7 -2 -1.9 -0.9 2.2 0.9 0.7 3 0.3 5 -1 1.3 -3 1.9 -1 -1.2 -1.8 -1.9 -1.2 -0.2 -3zM32.5 -86.7l1 1.3 1.4 -1.1zM-124.5 -71.5l-0.9 1 -0.1 2 2.7 0 0.2 -1zM-25.5 -90.5l2 -0.6 1 0.6 -1 0.5 -7 1.9 -5.7 2.6 -5.3 5.4 -3 -0.7 -2.6 -2.7 -0.5 -3 1.1 -2.3 6 0 4 0.7 7 -0.5zM-157.5 -89.5l2 -0.8 3.3 2.8 -4.3 2.2 -3 -0.1 -1.8 -1.1zM-20.5 -86.5l2 0.2 3 -1 2.5 0.8 -0.5 1.1 -4 1.2 -2 -0.5zM-4.6 -77.5l1.9 1 0.3 2 3 4 -0.1 1.1 -1.6 0.9 -2 -1 0.2 -3 -1.6 -2zM-8.1 -72.5l0.6 -0.5 0.6 0.5 -0.1 1 -1.5 1.4 -0.6 -1.4zM83 -71.5l0.5 -0.8 1 0.4 0.2 1.4zM74.3 -70.5l0.2 -0.7 2.3 0.7 -1.3 1.4zM53.1 -69.5l1.4 -0.9 0.7 1.9 -0.7 0.8 -1 -0.4 -0.6 -0.4zM65.4 -69.5l2.2 1 -1.1 0.1 -1 1.6 -1 0.3 -1.4 -1 0.3 -1 1.1 0zM88.3 -69.5l1.2 -0.6 0 2.2zM92.1 -69.5l1.5 0 -1.1 1.7 -0.8 -0.7zM140.7 -66.5l0.8 -0.5 0.7 1.5 -1.7 1.3 -2.6 -1.3zM-59.8 -65.5l0.3 -0.9 1 0 1.2 0.9 0 1 -1.2 0.2zM-2.4 -64.5l1.9 -0.7 1.6 2.7 -1.6 0.7zM68.4 -63.5l1.2 1 -0.1 2zM-127.4 -62.5l0.9 -0.7 1.2 0.7 -1.2 1.4zM-102.6 -60.5l1.1 -0.5 1 1.6 2 0.3 1 1.3 3.3 1.3 0.7 1 -0.3 2 1 1 -0.2 1 -2.6 1 -0.9 1.7 -3.8 1.3 0.4 1 -0.6 0.5 -1 0 -1 -1.9 -2 -1 -2 0.1 -0.3 -0.7 0.3 -1.4 -0.6 -0.6 1.2 -1 -0.1 -1 -1.1 -1 0.1 -2 1.5 -0.7zM-7.2 -57.5l0.7 -0.6 2 1.2 2 0 0.7 2.4 -1.7 1.7 -5 0.5 -0.7 -1.2 2.5 -3zM-53.8 -52.5l1.3 -0.6 6 0.8 1.2 1.8 3.8 1.7 2 0.4 2 -1.1 3.9 2 0.3 1 -1.2 3.2 -1.3 0.8 -1.7 3.7 -2.1 0.3 1.1 0.3 1.2 3.7 -0.6 2 5.2 16 -0.4 3 -4.4 5.8 -2 1.2 -16 2.4 -2 2.3 -2 0.3 0.2 1 2.3 2 -0.8 3 1.3 0.5 1 -1.7 1 0 0.6 2.2 1.4 0.2 0.8 1.8 -2.5 3 -0.8 2 1.3 2 -2.6 1 -4.2 4.3 -3 -2.7 -3 1.7 -1.1 -0.3 -0.7 2 -1.2 0.5 -0.8 1.5 1.2 3 -0.4 0.4 -1 -0.3 -1 -1.8 0.6 -1.3 -1.6 -1.2 -4 0.7 -2 -1.2 -0.6 -1.3 2.4 -3 -1.8 -1.2 -0.4 2.2 -3 3 1.4 2 -1 0.8 -4 -1.8 0.7 -2 -0.6 -5 0.8 -2 -0.9 -2 -2 0.9 -1 -1.2 -1.5 2.3 2.5 0.5 -1.1 2.5 2.9 2 0.1 1 -1.9 0.6 -2 -1.6 -3.1 -7 1 -3 -1.9 -2.5 -1.2 1.5 0.1 -4 1.2 -1 0.1 2 0.8 0.8 1 -1.6 2 1.5 1 -0.1 1.2 -1.6 -1.9 -1 0.5 -2 5.2 -4.6 2 0.3 0.7 -0.7 -0.7 -1.2 1 -0.1 2 1.6 2 0.4 1 -1.3 4 -1.1 2 1.6 2 -0.8 1.7 0.9 0.3 1.5 0.3 -2.5 -0.9 -2 -1.4 -0.1 -5 -5.5 -17 -3.7 -3 -1.6 3.7 -5.1 -0.5 -1 2.8 -1.1 -0.2 2.1 2.2 0.9 4.6 -1.9 -3 -3 0.4 -2.2 -1 -0.6 -2 1 -2 -0.9 -1 0.7 -1 -1.5 -1.8 -0.5 -0.1 -9 2.9 -2.2 3 -0.4 3 -5 2 -0.9 5.4 2.5 1.6 2.5 1.7 0.5 0.3 2.1 1.6 -2.1 -1.6 -0.4 0.3 -1.6 2.7 -1.2 2 -2.4 2 -0.6 4 2 1 -0.3 0.8 -1.5zM-45.5 -36l1 2.6 0.5 -2.1zM-85.5 6.1l-1 1.4 1 1.2 1.2 -2.2zM-81.5 13.1l1 2.3 0.9 -1.9 -0.9 -0.9zM-85.5 -39.8l0 2.3 1 1.5 1.1 -1.5 -0.3 -2 -0.8 -0.6zM-12.1 -51.5l0.9 0 3.5 3 -4.3 6 -0.5 2.1 -2 1 -3 -5 -0.4 -3.1 1.3 -2zM188 -48.5l1.5 -0.9 1 1.3 2 -0.3 5.8 5.9 2.1 1 0 1 1.3 1 -0.5 1 3.3 1.4 1.9 -0.4 -3.9 -5.8 -0.5 -3.2 0.5 -0.1 1.1 1.1 2.9 7 1.1 1 1.1 5 1 1 -0.2 2.3 -2 1.2 -3 0.2 -1 0.9 -3 -0.6 -2 2 -2 -0.7 -2 0.1 -1 -1.4 0 -2.2 -1 -0.5 -2 1.4 -2.8 -1.7 0.8 -1.6 3 -0.1 1.8 -5.3 -0.8 -1.1 -4 -1.3 -2 -0.5 -2 1 -1.6 -1.1 0.2 -3zM199.5 -40l-0.9 1.5 0.9 1 0.7 -1zM-176.8 -47.5l0.3 -0.8 2 0.2 2 1.9 1 -0.7 2 1 2 -0.3 1.2 0.7 0.2 1 -3 7 0.9 2 -3.3 4.8 -1 0.6 -2.3 -0.4 -0.7 1.4 -2.4 1.6 0.4 1.4 -2 1.7 -0.7 -2.1 -1.3 -0.9 -2.4 0.9 1.1 2 2.1 0 0.1 2 1.6 1 0.1 1 -1.6 1.7 -1 0.3 -4 -2.1 -1 1.2 -1 -0.2 -2 -1.2 -2.1 -4.7 -0.9 -0.5 -1 0.5 -1.1 -2 -0.9 -0.2 -1 0.9 -3 -0.8 -1 1.1 -3 -2.5 -2 0.3 -4 -1.3 0.7 -4.5 1 -1 0 -2 1.3 -1.8 3 0.5 4 -1.6 2 -3.1 1 0.3 2 2.9 12 -2.1 3.2 -3.1 3.5 -1zM-95.5 -47.5l1 -0.2 0.4 1.2 -1.7 0zM-107.9 -39.5l5.4 1 3 -1.5 3 0.5 0.5 4 -0.5 0.7 -1.7 -0.7 -0.4 2 -2.9 1.6 -1 1.4 -2.2 0 -0.8 -0.8 -2 0.4 -3 -1.9 -1 0.3 -0.3 -1 1 -4zM92.2 -38.5l2.3 -0.6 5 0.4 0.8 1.2 -3.8 1.1 -4 -0.6 -0.6 -0.5zM156.5 -29.5l1 -0.4 1.3 1.4 -1.3 0.2zM133.7 -28.5l2.8 0.1 1 -0.6 0.4 1.5 -1.4 1.5 -2.1 0.5 -1.1 -2zM125.9 -23.5l0.6 -0.8 2 0.7 2 -0.2 2 3.3 2.6 2 1.4 0 1.6 6 -2.6 4.7 -1.5 1.3 -7.5 4 -2 0.4 -1 -1.4 -1 0.9 -2 0 -0.9 2.1 0.9 0.5 1 -0.4 1.2 1.9 -1.2 1.3 -3.1 -3.3 1.1 -1 -1.3 -3 -0.7 -0.8 -1 0.4 -1.1 -0.6 0.1 -0.9 1.1 -0.1 -0.1 -1 -3.7 -6 1.7 -3 2.8 -2 -0.4 -1 0.6 -1.3 4 -0.2 1.1 1.5 1.8 0 1.1 -1zM-29.9 -4.5l5.4 0.2 9 1.8 2 1 6 -0.5 4 1.4 8 -1.4 4 0.6 2.1 1.9 -2.1 3.4 -4 1.4 -6 0.5 -3 2.4 -2 -1 0.6 6.3 -1.6 1.7 -10 0.9 -4 1.1 -2 1.6 -3 -2 -2.6 0.7 2.8 3 -1.2 2.6 -2.7 2.4 -3.5 1 -0.3 2 -1.5 1.4 -1 -0.1 -2 -2.9 -2 2.3 -2 0.1 -1 -0.8 1 -2 -2.3 -3 -1.9 -5 0.8 -2 1.6 -1 -1.6 -2 1.7 -1 0.6 -2 2.1 -0.4 0.4 -1.6 -1.4 -0.5 -1 -2.5 -4 -1.7 -1.2 0.7 0.8 1 -0.6 1.8 -2 0.7 -0.5 -0.5 1.4 -3 -0.7 -2 0.8 -0.6 6 -0.8 6 -4.3 1 0.3 2 -1.1zM-154.1 -2.5l5.6 0.6 4 3 7 1.6 1.8 2.8 -0.9 3 -3.4 2 -4.5 1 -11 -1.1 -5 0.5 -1 -1.5 -2.6 1.1 -7.4 0.9 -0.2 2.1 1.4 2 0.1 4 -3.3 0.9 -2 1.6 -1.5 -0.5 0.6 -1 -1.4 -2 1.5 -3 -3.2 -1.6 -1.3 -1.4 -7.7 -1.8 -8 -0.6 -2 -1.1 1.3 -4.5 5.1 -2 2.6 0 5 -1.5 7 1.8 7 -1.4 7 2.7 3 -1.1 2 -1.7 1 -2.3zM20.8 -1.5l0.7 -0.4 0.8 1.4 -0.8 0.9 -1 -0.9zM129.9 -1.5l0.6 -0.5 3.3 0.5 -1.3 1.4 -1 -0.3 -1 0.7 -0.8 -0.8zM40.6 0.5l0.9 -0.6 1.5 0.6 0.2 1 -1.4 1 0.7 0.7 1 -1 1 1.2 3 -1.3 1.3 0.4 -0.4 1 -3.1 2 0.7 2 -0.5 0.6 -1 -1.1 -2 1 -2 -0.7 -0.3 -2.8 1.1 -2 -0.9 -1zM20.2 1.5l1.3 -0.7 0.1 1.7 -2.1 0.6 -0.4 -0.6zM-129.7 2.5l2.2 -0.5 2 1.7 2 -0.6 3 0.8 2 -0.9 1 1.7 3 -0.2 0.1 2 -1.8 2 1.1 4 -0.4 1.2 -4 -0.6 -1 -2.2 -3 0.4 -2 -1.3 -3 0.3 -4 -1.8 0 -4zM197 2.5l0.5 -0.4 2 1 2 -0.7 0.9 1.1 -2.9 2.2 -2 -1.2zM123.3 3.5l3.1 3 -0.4 1 0.5 1 3 0.6 1.2 3.4 5.8 -0.2 2 1.2 8 -0.7 1 0.9 3 -0.2 3.1 2 -2.1 3.3 -5 0.1 -1 -0.1 -3 -3.6 -1 -0.3 -2 0.2 -1 1.8 -3 0.9 0 -2.3 -1 -0.7 -1 1.2 -4 0.8 -1 1.7 -4 0.3 -2 1.2 -11 -3.6 -1.5 -0.9 -1.8 -4 2.3 0.3 11 -3.6 3 0.6 0.8 -1.3 -1.8 -1.7 -1.5 -0.3 0 -1zM52 4.5l1.5 1 -1 2.2 -3 0.9 -1.3 -1.1 -0.5 -1 0.8 -1.3 2 0.7zM34.1 8.5l1.8 0 -0.7 1 3 2 -1.7 1.5 -2.4 0.5 0.7 1 -0.5 1 -1.8 0.2 -2.7 -4.2 2.7 -2.4 1 0.7zM91.4 8.5l3.1 0.9 2 -1.8 0.9 2.9 -2.9 0.4 -1 1.1 -4 -0.5 0 -2zM62.9 11.5l3.6 0.1 2 2.8 2 -0.7 1 0.7 0.1 1.1 -3.1 -0.4 -2 2.6 -3 -0.1 -1.8 -2.1zM164.5 12.5l4 1 1.7 -1 1.7 0 0.1 3 1.5 3 -1 0.5 -1.6 -0.5 -0.8 -3 -1.6 -1.9 -1.6 1.9 -0.4 2.2 -2 -0.7 -0.7 -0.5zM-206.7 13.5l2.2 0.6 0 1.2 -3.3 -0.8zM38.8 13.5l1.7 -0.6 1.5 0.6 -3.5 1.7 -0.5 -0.7zM106.6 14.5l1.3 0 -0.1 1 -1.2 1 1.5 2 -1.2 1 1.6 3 -1.3 1 0.1 1 -1.8 1.2 -0.8 -0.2 0.6 -2 -1.8 -1.6 -1.8 -0.4 -1.5 -2 -1.7 -0.5 -0.8 0.5 -0.2 1.4 -1.7 -1.4 1.7 -3.3 3 1.9 2 -3.2 2 2.6 1.8 -1zM-53.7 15.5l1.2 -1 0.6 1 -1.6 3.6zM-212.6 16.5l0.1 -0.8 1.5 0.8 -1.5 2.6zM156.5 16.5l1 -0.6 2.8 1.6 -2.8 0.9zM-186.9 18.5l3.4 -0.3 1.4 2.3 -1.4 1.2 -3 -0.3zM162.4 18.5l2.8 2 -1.7 2.2 -2 0.6 -0.4 -3.8zM-179.9 19.5l0.4 -0.5 1.7 1.5 0.1 1 -0.8 0.7 -2.4 -0.7zM189 20.5l1.5 -0.2 3 1.1 0.8 -0.9 1.9 0 1.3 2 2.6 1 -0.1 4 -2.5 1.1 -5 -3.1 -3 2.6 -1.8 -0.6 -0.2 -1.3 0 1.3 -1 0.5 -1 -2.2 0.2 -1.3 1.8 -3.7zM-189 21.5l0.5 -0.9 2 0.9 -0.3 2 2.3 1 -2.6 3 -0.4 2 -1 0.5 -1 -0.4 -0.4 -1.1 1.7 -3 -1.2 -1zM-62.5 21.5l1 -0.4 2 1.4 -3 0.6 -0.6 -0.6zM92.5 22.5l1 -0.7 0.6 1.7 -1.6 0.9 -0.6 -0.9zM-125.5 23.5l1.5 0 -0.1 2 0.6 0.4 0.6 -2.4 2.4 0 0.7 5 -1.7 1.1 -2 -2 -2 0.8 -0.7 -0.9 0.7 -1 -0.7 -2zM-63.9 24.5l0.4 -0.6 1 0.3 0 2 -1.5 -0.7zM82 25.5l1.5 -0.5 0.7 0.5 -2.7 3.5 -1.3 -0.5 -0.2 -1zM-73.7 26.5l2.4 0 0.8 2.5 -1 0.4zM-68.7 28.5l0.9 1 -0.7 1.2 -0.7 -1.2zM-61.7 28.5l1.6 0 1.3 1 -1 1 0.4 4 -2.1 3.3 -1.7 -0.3 -1 -3 0.9 -1zM95.1 28.5l0.4 -0.8 1 -0.1 1.4 1.9 -2.4 1.6 -1.3 -0.6zM-74.9 31.5l1.4 -0.8 1 0.3 0.3 1.5 1.7 1.2 1 0.3 2 -1 1.9 1.5 -0.5 2 1.5 2 -3.1 3 1.2 5.1 -2 -0.6 -2 -3.2 -2 0.6 -1.5 -0.9 2.1 -2 -2.6 -2.2 -0.3 -0.8 2.3 -4zM199.1 35.5l1.4 0.3 0 1.4 -1 0.2 -0.8 -0.9zM43.1 36.5l1.4 0 0 1.8 -1.8 -0.8z"/><path fill="#6bacd1" d="M-90.7 -108.5l4.3 0 -0.5 2 -1.6 1.1zM-70.3 -108.5l8.2 0 -1.4 1.1 -2 0.1zM-45.6 -108.5l8.1 0 -2 1.8 -2 -0.1 -1 -0.7 -2 0.7zM-36.1 -108.5l12.7 0 1.3 2 -1.4 1 -1 -1 -2 0.9 -5 0.4 -1.9 -0.3 -2.1 -1.5zM-7.3 -108.5l31.7 0 -1.8 3 -4.1 2 -5 -2 -0.4 -1 -2.6 0 -0.9 2 -1.1 0.8 -5 0.9 -3 -1.3 -4 0.6 -1 -1.5 -2 -0.4 -1 -2.1zM27.2 -108.5l27.6 0 -2.1 2 0.3 2 0.5 0.8 2 -0.3 0.1 2.5 -5.1 -3.4 -4 2.1 -8 0.7 -0.8 -0.4 1.4 -1 -0.6 -0.8 -3 -0.3 -3 -2.7 -2 0.8 -1 -1.3 -3 1.5 -0.1 -1.2zM93.3 -108.5l21.2 -0.2 1 1.1 3 0.1 0 0.6 -1 1.5 -3 0.6 -4 4.3 -3 0.4 -1 -0.8 -3 0.1 -1 1 -5 0.1 -2 -0.3 -1.8 -1.5 -1 -4zM-53.7 -104.5l4.2 -0.4 1 1 2 0.1 0.5 1.3 -0.7 1 -3.8 2 -1 1.5 -2 -0.1 -1.3 -1.4 0.3 -1.6 1.1 -0.4 -1 -1zM-64.1 -103.5l1.6 -0.7 4 -0.3 2.6 1 0.1 2 -1.7 1.2 -2 -0.3 -1 0.6 -2.6 3.5 -0.1 1 3.7 2.2 1 2.6 3 2.6 0.3 0.6 -1 1 -3.3 -0.2 0.2 2.2 -1.2 1.1 -4 0.3 -3 -1.8 -2 0.3 -1.3 -0.9 0 -2 1.8 -2 -1.5 -0.2 -1 1.4 -2.7 0.8 -0.3 1 0.9 2 -0.9 0.9 -4 -0.1 -1 -1.1 -2 0.2 -4.9 2.1 -3.8 3 0.7 3.5 3 -0.2 1.9 1.7 2.5 1 -1.2 3 0.8 1.5 1.5 -0.5 2.5 -3.5 3.4 -2.5 -0.4 -3 4 -4.5 4.7 2.5 0.1 2 1.2 1.2 2 -0.6 2 -1.9 0.5 0.3 0.7 1 -0.2 1.8 -0.6 0.2 1.6 3.3 2 1.7 0 1 -3 0.6 -1 1.4 -1 -1.3 -2 1.7 -3 0.6 -1 -1.2 -0.1 1.2 -1.9 0.7 -2 -1.8 -0.7 1.1 2.7 2.7 2.4 -0.7 -0.4 1.1 -2.9 1.9 -3.1 0.2 -1 -2.4 -1 -0.2 -1.2 0.4 -0.8 1.8 -2 -0.3 -0.8 0.5 0 1 -1.2 0.9 -1.3 -0.9 0 -3 -0.7 -0.8 -2 0.6 -1.6 -0.8 0.6 -2 1 -0.4 4 0.5 -3 -4.1 -2 0.6 -1 -0.6 -1 2 -1 0 1 0.1 0.5 0.9 -5 1 0.9 1 0 2 -2.4 0.2 -0.4 -1.2 1.2 -2 -0.8 -0.7 -3 0.6 -2 2 -1 -1.6 -1 -0.3 -3 1 -0.6 -1 1.5 -1 -0.9 -1.5 -2 0.8 -4 -1.4 -3 1.3 -1 -0.9 -2 0.1 -5 -7.5 -3.6 1.1 0.6 2.2 2 -0.1 0.7 0.9 -0.5 1 -2.2 0.4 -2 -1.2 -1 0.2 -1.3 -4.4 -3.7 -2.5 -5 -1 -4 1.2 -3 -0.3 -4 2.7 -2 0.5 -3.4 -3.6 -0.2 -1 1 -1 6.2 -2 -2.5 -2 4.9 -0.8 0.9 -2.2 1.1 -0.7 9 -2.7 5 -0.3 12 2.6 9 -1.5 7 1.7 1 -0.3 0.5 -1.8 -0.5 -0.6 -3.6 -0.4 0.6 -1.3 3 -2.1 6.3 0.4 2.7 -2.9 4 -0.3 5 -0.3 8 1.5 4 -1.5 2 0.6 2 -0.7 2 0.5 1.2 -1.9 -1 -1zM-70.5 -78.6l1 1.2 1.3 -0.1 0 -1zM-64.5 -76.6l-2.4 3.1 0.4 0.5 4 -2.3 0.8 -1.2 -1.8 -0.6zM-103.5 -77.9l-0.7 2.4 0.7 0.2 1.4 -1.2 -0.2 -1zM-68.5 -90.5l2.4 2 -1.6 2 2 0 1.1 -3 -0.9 -1.3zM-70.7 -102.5l4.6 0 -0.4 1.2 -3 0.7 -1 -0.1zM16.4 -102.5l1.1 -0.6 0.6 0.6 -0.6 1 -3 1.2 -3.7 -0.2 2.7 -1.5zM70.6 -102.5l0.9 -0.6 5 0.9 1 0.4 0.3 1.3 -1.3 0.7 -4 -1.1 -1.5 -0.6zM78.5 -99.5l1 -0.5 7 1 3 1.3 0 1.2 4 0.8 5 0.8 2 -0.9 4 0.4 5 2.5 7 -2 15 2 6 1.9 6 0.1 2 -0.6 2 1 7 -0.3 6 3.3 3.8 4 -0.3 1 -2.5 2 -4.7 1 1.1 3 2.2 2 -1.6 1.8 -2.8 -0.8 -3.4 -3 -0.2 -5 -0.6 -0.7 -3 0.9 -0.7 1.8 -1.3 0.6 -9 -0.4 -1.5 1.8 -0.6 4 2.1 1.9 2 -0.3 0.5 1.4 -1.5 1.8 -3 1 -2 -0.6 -1 0.9 -1 -0.2 -2 -2.6 -1 0 -1 1.5 -1 -2 -1 0.2 -2 -1.4 -4 0.8 0.1 -1.4 -1.1 -1.1 -1.3 1.1 1.4 3 -2.1 0.6 -2.2 -2.6 -1.8 -0.4 -1 0.9 -2 0 -1.1 -0.5 -0.9 -1.9 -0.1 0.9 -2.5 0 0.1 -1 -1.5 -1.2 -0.9 0.2 0.6 2 -1.7 1.6 -0.2 -1.6 1 -2 -2.8 -0.4 -0.5 1.4 -2.5 2.3 -2 -1.2 -3 0 -1 -1.3 -2 1.2 -1.6 -1 -0.4 -1.7 -5 1.8 -2 1.7 -1 -1.6 -3 -0.7 -2 1.1 -4 0 -2 0.9 -2 0 -1 -1.5 -3 2.1 -0.7 -2.1 -2.3 -0.8 -1 -1.9 -1.9 0.7 -0.1 2.5 -3 -0.6 -1 2.3 -1 -0.9 -2.1 2.7 -1.9 1.2 -5 -0.7 -1 2 -2 0.1 -3 -1.8 -1 -1.6 -3 0.5 -1 1.4 -2 -1.7 -1.5 0.6 0.6 3 -2.1 -0.8 -1 2 -1.1 -1.2 0.9 -3 -0.8 -1.4 -2 0.4 -2 -1.4 -1 0.2 -1 2.4 -2 -1.2 0.2 -2 3.8 -0.5 1.7 -3.5 1.9 -1 -0.9 -2 -1.7 -0.4 -0.9 -1.6 0.2 -2 1.7 -2.6 -1 -0.2 -3.5 3.8 -0.4 1 1.6 2 -2.5 4 -2.2 1.3 -1.5 -1.3 -0.9 -3 -1.6 -0.2 -2.9 1.2 -1.1 -1.3 -0.8 -2.7 0.7 -1 3.1 -1.7 5 -5.6 4 -2.2 6 -0.6 4 1.6 4 0 7 3.3 0.1 -1.8 0.9 -0.5 2 1.1 10 -1.5 2 -1 3 0 0 -2.1 1 -1.6 2 0.1 2 1.7 1 -1.4 4 -0.2 3 -1.3 2 -1.9 4.8 -0.4zM80.5 -84.2l-0.6 0.7 0.6 2.5 1 -0.5zM90.5 -82.9l-0.6 0.4 0.3 1 1.3 0.4zM96.5 -77l-0.9 0.5 -0.1 1 2 0.2zM101.5 -84.7l-1 1.3 -1 -0.7 -1.5 0.6 0.5 2 4 -0.5 -0.3 -2.5zM106.5 -75.1l-0.8 0.6 1.8 1 0.4 -1zM32.5 -87.2l-0.9 0.7 1.9 1.3 2.2 -1.3zM46.5 -71.7l-2 0.3 -0.6 0.9 2.6 0.6 0.5 -0.6zM62.5 -91.7l0.6 2.2 1.4 0.7 -0.4 -1.7zM77.5 -75.7l0 1.1 1 0.8 1.5 -0.7 0.1 -1zM85.5 -86.6l-0.5 0.1 -0.2 2 0.7 0.6 2.5 -0.6zM46.4 -97.5l1.2 0 -1.4 2 2 2 0.1 1 -0.8 0.3 -3 -0.3 -0.8 -1 1.3 -3zM109.7 -97.5l0.8 -0.9 5.3 0.9 -3.3 0.9zM-156.7 -89.5l1.2 -0.2 2.8 2.2 -3.8 1.7 -2 0.2 -1.9 -0.9 0.4 -1zM-46.7 -87.5l3.2 -0.6 2 1 7.5 -0.4 -2.5 1.5 -4 4.9 -2 0.7 -2.5 -1.1 -1.8 -2zM-17.3 -86.5l1.8 -0.5 2 0.5 -0.3 1 -3.7 1 -2.5 -1zM-79.8 -82.5l2.3 1 0.5 1 -0.7 1 -2.9 3 -4.5 0 -0.9 -2 1.2 -2zM-4.5 -76.5l1.3 0 -0.3 2.2zM8.4 -75.5l1.1 -1 1 1 -0.5 2 1 1 1 3 -2.3 3 1 3 -1.2 -0.6 -1 0.9 -3 0.7 -2 -0.9 -0.5 -2.1 4.5 1.5 1.8 -1.5 -0.7 -3 1.7 -2 -1.8 -3.3zM-2.9 -73.5l0.4 -0.3 2.1 2.3 0.3 1 -1.4 1.2 -1 -1.2zM7.2 -71.5l1 0 0.2 3 -0.2 1 -1.7 0.9 -1 -2.9zM-125.2 -67.5l1.1 0 -0.4 1.9 -1.3 -0.9zM12.1 -67.5l1.4 -0.6 2.8 1.6 -2.8 2.2zM128 -65.5l0.5 -0.8 1.6 0.8 -0.6 1.2 -1 0.1zM-103.7 -58.5l4.2 3 0.5 -1 -1.1 -2 1.1 0 1.6 2 0.9 3 2 1 -2 1.1 -1 2.1 -5 0 -2.8 -1.2 0.8 -1.7 1.4 -0.3 -2.3 -2zM-8 -54.5l1.5 -0.8 0.9 0.8 -0.4 1 -1.5 0.4 -0.8 -0.4zM-50.6 -49.5l4.1 1.7 5.2 3.3 -0.5 3 -3.7 1.8 -2 -0.2 -3.6 2.4 -0.2 3 1.8 2.7 2.7 1.3 2.3 3.3 3 -0.2 4 3 2.6 7.9 -0.6 2 -3.9 6 -7.1 2.1 -6 0.1 -3 -1.4 -5 0.2 -7 -5 -2 -0.4 -3.4 -3.6 -2.4 -4 2.6 -1 -0.2 -2 1.4 -1.5 3.2 -1.5 -3 -1 1.8 -3.7 5 -2.1 4.5 -3.2 0.8 -3 -1 -3 2.2 -1 0.6 -2 3.9 -3.2zM-65.5 -24.4l-0.7 0.9 0.3 1 1.4 0.3 0.5 -1.3zM-185.2 -37.5l1.7 -0.9 1.1 0.9 0.7 2 -1.8 0.5 -1 1.3 -1.3 -1.8zM-76.9 -36.5l1.4 -0.7 1.6 1.7 0.2 4 -0.8 0.3 -1.1 -2.3 -1.5 -1zM-197.9 -35.5l1.5 0 -0.1 2.4 -2 -0.3 -0.3 -1.1zM-83.8 -21.5l1.8 2 -2.1 -1zM127.9 -20.5l0.6 -0.4 1.8 2.4 4.1 3 1.4 2 0 2 -3.3 3.6 -6 2.5 -6.8 -1.1 -4.4 -5 0.1 -4 3.1 -2.7 3 -0.9 4 0.3zM-73.1 -5.5l0.6 -0.8 1 0 2 2.1 2 -1.6 2 2.7 2 -1.9 1.5 0.5 -2 2 1.5 0.3 1 -1.6 1.3 1.3 0.6 3 1.3 1 -1 2 2.5 3 -0.8 1 0.7 2 -0.6 1.9 -1.5 1.1 0.8 1 -1.3 1.7 -2 -1.4 -3 -0.6 -1 2.3 1.5 1 -0.5 0.5 -1 0.2 -2 -1.5 -1 2.2 -2 -0.5 -1 1.1 -2 -0.8 -1 1.8 -1 0.2 -1 -1.2 0 -3.1 -2.1 -1.9 4.1 -1 -0.3 -1 -7.7 0.2 -1.6 -1.2 0.4 -4 -0.8 -0.9 -5 2.1 -2.3 -2.2 1.3 -1.2 2 0.8 2.6 -2.6 -2.5 -2 2.9 -1.9 0.2 -1.1 1.8 -1.5 2 0 2 -1 5 1.8 1 -0.6zM-61.5 2.2l0 2 1.7 -0.7zM-26.1 -1.5l5.6 0.3 5 1.4 2 1.3 3 2.8 1.4 3.2 -0.4 4 -0.7 1 -2.3 -0.1 -6 1.5 -12 0.3 -4.3 -1.7 -1.3 -3 -4.4 -4 0 -1.6 3 -0.8 8 -4zM1.3 0.5l2.2 -0.8 3 1.8 -2 1.4 -3 0.2 -1.1 -0.6zM-185.6 4.5l2.1 -0.7 1 1.4 1 -0.9 1 1.3 2.1 -0.1 1.3 2 -0.4 1 -1.8 0 -0.2 -2.9 -0.2 0.9 -1.8 1.2 -1 -1.2 -5 -0.1 -0.4 -0.9zM-55.2 6.5l2.4 0 -0.7 2.2 -1 0.4 -1.5 -0.6zM120.1 12.5l3.4 -0.2 0.6 1.2 -3.6 3.1 -4.7 -2.1 2.7 -0.6zM-56.8 13.5l1.3 -0.5 0.4 1.5 -1.2 0zM-83.9 18.5l2.4 -0.9 0.3 0.9 -1.3 1.4 -1 -0.1zM-72.5 34.5l1 -0.8 1 1.2 2 0 2.1 2.6 0.3 1 -3.4 4 -1.7 -1 -0.3 -2 -1.8 -2z"/><path fill="#3783bb" d="M-52.7 -103.5l3.2 -0.2 0.5 2.2 -2.3 1 -0.2 1.3 -1 0.3 -1 -0.6 1.7 -2zM-62.8 -100.5l1.7 0 -1.4 1.3zM-87.5 -98.5l9 -0.2 3.3 1.2 0.7 1 2.3 -2 5.7 -0.1 3 4.9 3 0.8 1.6 3.4 1.4 0.2 1.9 1.8 -0.9 0.9 -3 -0.8 -1 0.6 0.3 2.3 -1.3 0.7 -2 -1.2 -2 0.8 0 -1.3 1.6 -1 0.1 -2 -1.7 -3.4 -5 0.9 -1 1.6 -2 0.5 -2 -3.4 -2 -1.2 -1 0.4 0.5 3.6 2.6 1 1 4 -3.1 0.4 -2 -1.4 -7 2.4 -4.4 3.6 -0.3 3 -1.8 1 0.5 1.9 2 -2.3 1 0.6 2.3 -0.2 1.7 1.4 2.7 0.6 -0.7 1.7 -5 -0.7 -2 1.4 -2 -0.7 -1 1 -2 -0.1 -0.1 1.4 -0.9 0.5 -3 0.4 -0.8 -0.9 0.9 -1 0.1 -2 -0.9 -1 1.7 -0.8 0.2 -1.2 -2.2 -0.5 -0.4 -1.5 -2.6 -2 -1 -0.2 -3 1.4 -0.8 0.8 0.2 1 3.6 2.1 2.9 -0.1 0.1 2 -1 0.7 -2 -0.1 -3 1.8 -2 -2.1 -1 1.3 -2 -0.6 0.9 -3 -2.5 -1 0.8 -1 -1.2 -0.8 -1 2.2 -1 -0.9 -1 0.2 0.9 2.3 -1.9 0.9 -1 -1 -0.4 -2.9 -2.4 -2 -2.2 0.5 -2 -1.1 -2 2.7 -1 -2.1 -2 -0.2 -2 -1.6 -1.8 -0.2 -1.2 -1.4 -6 1.7 -3 -0.3 -6 3.2 -3 -3.7 0 -0.7 1.3 -0.8 3.7 -0.7 2.2 -1.3 -2.4 -2 4.2 -0.4 1.1 -0.6 0.9 -2.3 11 -3.1 9 1.2 5 1.9 3 -0.8 4 0.4 3 -1.6 2 0.6 2 1.6 1 -0.8 1 0.2 1.9 1.7 -0.9 1.1 1 0.1 0 -1.2 2 -1 3 0.9 2.2 -0.9 -0.2 -1 -4 1 -2 -0.4 0 -4.4 -2 0.5 -1.4 -0.7 2.4 -1.7 2 0.6 1 -0.6 7 -0.2 -2 -0.5 0 -0.9zM-104.5 -89.4l-3.2 4.9 2.2 1.9 2.2 -1.9zM77.8 -98.5l1.7 -0.9 9 1.6 1 2 2 0 2 1.2 5 0.3 2 -0.7 3 0 4 1.1 1.7 1.4 0.3 1.3 2 -1.8 5 -1.4 7 0.7 4 2.6 0.4 -1.4 2.5 0 0.9 1 -0.8 1.8 3 -0.8 1 0.9 1 -1.6 2 0.7 4 -0.3 1 1.3 3 -1.5 2 1.4 4 -1 4 0.4 4.4 2.7 1.2 2 2.5 2 -2.1 2.2 -5.3 1.8 -0.6 4 -1.1 0.5 -1.8 -1.5 0.1 -4 -2.3 -4.2 -0.1 1.2 -2.3 2 -0.6 2 -2.3 0 -0.4 -1 1 -2 -0.3 -2.9 -0.5 1.9 -1.5 0.2 -1.8 1.8 -0.2 1.3 0.6 0.7 -2.2 0 -0.4 -1.5 -2 -0.6 -2.2 3.1 0.3 3 -1.1 2.8 -4 1.9 -3.5 -1.7 1.5 -2 -1.8 -1 -1.2 -1.9 -2 0 -1.2 0.9 3.2 2 -0.5 1 1.2 1 -0.7 0.7 -3 -2.9 -1 1.2 -1.5 0 0.1 -3 -1.5 -1 1 -1 -0.1 -1.6 -1.7 1.6 0.7 4 -2 1.9 -1 0.1 -0.6 -1 0.9 -2 -0.3 -1.1 -1 -0.3 -2 2.1 -1 -0.9 -1.5 0.2 -0.1 -1 -1.4 -1.2 -1 1.7 -2 -0.2 -1.1 -1.3 1.4 -3 -2.3 -1.6 -0.2 -1.4 0.8 -1 -0.6 -0.5 -2 -0.6 -3 1 -1 -1.6 -1 1.3 -1 0.1 -0.5 -0.7 1.5 -1 -0.1 -1 -3.9 -1.4 -3 1.2 -2 -0.9 -2 -2.2 -0.8 1.3 1.8 1.5 1 -0.3 1 2.1 -1 0.3 -1 -1.3 -3 -0.3 -0.5 1 0.9 1 -0.4 0.9 -4 -0.4 -0.6 0.5 -0.2 1 2 5 1.6 1 -0.8 1.1 -5.3 -0.1 0.2 -2 -0.9 -1.3 -1 1.3 0.9 3 -1.9 1.7 -2.1 -0.7 -0.8 -3 1.8 -1 1.9 -3 -1.6 0 -0.4 1 -2.8 1.7 -2.3 -3.7 -2.4 -1 0 -1 1.7 0 0.7 -1 -2.7 -1.3 -2 0.8 -0.6 1.5 5.3 4 -1.7 1.5 -1 -1 -1 0.4 -1.5 2.1 -1.5 0.4 0 -1.4 1 -1 -1 -1.3 -1 0.1 -1.9 1.2 -0.2 2 -0.9 0.6 -1.8 -0.6 0.8 -0.5 0 -1.5 -2 -1.7 -1 2.7 0.6 1 -2.4 1 0 1 1.2 1 -0.4 1.6 -5 -0.3 -3 1.1 -0.3 -1.4 2.3 -1.3 1 -1.7 0.1 -1 -1.1 -0.3 -2 0 -2.3 1.3 -0.4 1 0.7 1.4 -3 0 -0.7 -0.4 0.7 -2 -0.9 -1 0.4 -1 -0.5 -0.6 -0.9 0.6 0.8 1 -3.1 1 2.9 1 -0.6 2 -3.1 1.9 -1 -1.6 -1 0.5 -1 -0.9 -3.6 3.1 -1.4 0.2 -2 -1.7 -2 0.4 -1.9 -0.9 0.9 -0.3 1 -3.6 1 -0.2 1 -0.9 -0.1 -1 1.7 -1 -4.9 -1 -0.1 -3 2.1 -2 -0.7 -1.7 -1 -0.1 -3.9 4.8 -0.4 1 1.7 2 -2 2 -0.4 1.6 -2 1.2 -1.5 -1.8 0.2 -2 -0.7 -0.5 -5 0.9 -1 -1.4 -0.5 -2 0.5 -0.7 3 -1 3 -4.4 5.5 -3.9 2.5 -0.5 3 1.8 1 -1.5 4 1 4 0 7 3.9 1 -2.7 2 1.3 1 -0.7 9 -1.1 2 -1 3 0.1 0.7 -0.6 0.1 -3 1.2 -0.3 3 2.3 0.6 3 2.4 1.6 1.4 -1.6 -3.3 -3 -0.1 -1.4 1 -0.5 3.9 0.9 0.9 1 -0.8 2 1 1 1.7 -1 -0.4 -2 -1.8 -2 0.5 -0.9 3 -1.8zM111.5 -84.7l0.3 3.2 1.7 0.3 0 -2.3zM118.5 -86.9l-1 1.4 1 1.1 1 -0.1 1.2 -1zM125.5 -88.7l1 0.9 1.5 -0.7 -1.5 -1zM143.5 -88.6l-2.5 3.1 0.4 1 2.1 0.9 1 -1.9 1 -0.1 0.4 -2.9 -0.4 -0.5zM155.5 -87.5l-0.1 2 1.1 0.1 0 -1.7zM32.5 -87.7l-1 0.2 -0.3 1 1.3 1.5 2 0 1.7 -1.5 -1.7 -1.8zM58.5 -88.6l-0.5 0.1 0.5 4.9 1.9 -2.9zM67.5 -87.6l0.6 1.1 -0.4 1 1.6 2 0.2 1.4 1.5 -3.4 -2.1 -1 -0.4 -1.1zM71.5 -95.4l-0.2 1.9 1.2 1.2 1 0.4 1.7 -1.6 -0.7 -0.9zM74.5 -89l-1 0.5 -0.2 2 -1.2 1 1.4 0.8 2.9 -3.8zM45.4 -96.5l0.9 2 1.2 1 -1 0.7 -2.2 -0.7zM-155.9 -88.5l0.4 -0.4 2.1 1.4 -1.6 1 -3.5 0.5 -1.4 -0.5 1.4 -1.6zM-46.5 -86.5l3 -0.8 2 2 4 -1.3 0.1 1.1 -3.1 4 -2 0.8 -2.1 -0.8 -0.1 -2 -1.8 -0.3zM-16.7 -86.5l2.5 0 -0.3 1.1 -2 0.5 -2.8 -0.6zM90.8 -86.5l0.7 -0.2 0.8 1.2 -0.8 1.7 -1.7 -0.7zM86.3 -82.5l1.2 -0.5 2 1.4 2 2.9 1 -2.1 2 -0.7 1 0.9 1 0.3 1 -0.8 0.5 0.6 -1.2 2 -2.7 2 -1 2 0.8 1 -1.4 0.5 -2 -2.2 -2 1.1 -0.7 -0.4 -0.3 -2.3 -1.5 -0.7 2.4 -1 0.2 -1zM-71.6 -81.5l2.1 -0.3 2.1 2.3 -3.1 -0.1 -1 0.9 -0.3 1.2 0.6 1 -0.7 3 1.4 1.6 1.5 -4.6 3.5 0 -2.1 3 1.1 1.4 2 -1 0.7 0.6 -0.7 4 -4 -1.4 -2 1 -1.3 -1.6 -1.7 -0.4 -0.7 1.4 0.3 2 2.6 3 -0.2 0.9 -2.7 -0.9 -1.3 -1.3 -3 1 -1 1.2 -3 -0.4 0 -1.1 2 0.2 -1.6 -3.6 1.6 -0.7 1 -1.9 1 0.5 0 2.4 3.4 -1.3 -2.2 -2 0.8 -1.1 1.2 0.1 -0.3 -2 2.7 -1 -0.1 -1 -1.8 -1zM84 -80.5l0.5 -0.7 2 1.1 0 1.5 -1 0zM100.4 -80.5l2.1 -0.2 0.6 1.2 -1.6 1.5zM-62.6 -78.5l1.1 -1 0.8 1 -0.8 1.2 -1.3 -0.2zM66 -77.5l1.5 -0.6 2 0.6 0.6 2 -0.6 1 -2 -0.3 -1 0.7 -2 -0.2 -2 0.7 -0.9 -0.9 1.9 -2.9zM84 -77.5l1.1 0 0.8 1 -0.4 1 -2 0.1 -1 1.2 -1 -0.3 1.8 -1zM97.6 -77.5l1.9 -0.5 0.7 1.5 -1.7 0.5zM158.2 -75.5l1 1 -0.7 0.9 -1.2 0.1 -0.8 -1zM96.3 -74.5l0.9 1 -0.7 1 -1.5 -1zM-114.7 -73.5l1.2 -0.3 0.9 2.3 -0.9 1.2 -1 -0.2 0.7 -1zM134.1 -70.5l0.6 0 0.9 2 -1.8 -1zM-103.3 -55.5l1.8 -0.9 0.7 0.9 0.3 4.4 -1 0zM-50.6 -46.5l3.6 2 -0.3 1 -1.2 1.1 -5 1.3 -0.1 -1.4 1.6 -3zM-60.5 -30.5l3 0.5 0 1.5 -3.4 0zM-54.7 -28.5l2.2 0.8 3 -0.6 2 1.6 1 2.2 2 2.1 5.4 1.9 0.4 2 -0.8 4 0.5 2 -3.5 4 -5 0.9 -5.1 -0.9 -2.2 -5 0.6 -1 -2.3 -0.6 -0.6 -1.4 0.6 -2.2 1 -0.5 1 1.8 1 -1.1 -2 -1.3 -1 -2.5 -1 0 -0.5 -2.2 0.5 -0.9 1.1 -0.1 0.3 -2zM119 -17.5l2.5 -0.7 4 2.2 -0.1 -1.5 1.1 -0.3 3 0.8 2.5 2.5 0.9 3 -1.4 2 -4 2 -7 0.5 -2.7 -2.5 -1.4 -3zM-72.5 -4.5l1 -0.8 1 1.6 1 0.1 2 -1.4 1 2.3 1.8 1.2 -0.5 1 0.7 1.1 1.4 -0.1 -0.6 -1 0.8 -1 1.4 -0.6 0.6 0.6 1.2 3 -0.8 0.3 -1 -0.9 -0.9 0.6 -0.1 2 -2.7 2 0.7 1.3 3 -1.5 3.3 0.2 -0.3 0.8 -2 -0.8 -2.4 3 -0.8 3 -1.8 1.6 -1 -0.1 -1 -2.3 -1 -0.6 -0.9 2.4 0.8 4 -2.9 0.6 -2 -2.6 0 -4.6 -1 -0.6 -1 1.4 -5 0.1 -3 -3.3 0.5 -2 -2.2 -1 1.7 -2.7 -0.9 -3.3 0.9 -1.4 3 -0.4 1 -0.8 5 1.5 1 -0.3zM-27.4 1.5l1.9 -0.9 4 -0.1 6 2 3.7 4 0.4 2 -6.1 3.4 -8 0.3 -4 -0.6 -3.2 -2.1 -1.5 -2 0.6 -2 2.1 -2.6zM-75.9 14.5l0.4 -0.6 1 1.4 0 1.6 -1 0.2zM-72 35.5l2.5 0.6 1 1.5 1 -0.2 0 1.8 -2 0.6 -1 -1.2 -1.2 -0.1 -0.8 -1z"/><path fill="#1c5c9f" d="M78.6 -98.5l2.7 0 -1.9 1 1.1 1.3 1 -2.1 1 -0.2 4.8 3 -0.8 1.2 -2 0.7 -1 -1.1 -2.4 0.2 1 2 -1.1 2 1.5 -0.4 2 -2.5 0.7 1.9 -1.4 1 0.1 1 0.8 1 -2.2 0.2 -1 2.3 -2 -0.1 -2 0.9 -0.5 -3.3 -1.7 -2 1.6 -7zM-89.8 -97.5l3.3 -0.2 0.8 0.2 -1 1 2.2 0.4 0.9 -0.4 0.1 -1.2 2 1.2 1 -1.6 4 0.6 1 2 1 0.5 2 -2.5 4 -0.9 1.5 0.9 2.5 4 -3 1.4 -1.1 -0.4 -0.2 -2 -0.7 -0.3 -1.4 1.3 0.9 1 -1.5 2 -1 0.3 -3 -3.5 -2 -0.5 -1 -1.7 -1 0 -0.3 2.4 1 2 -0.7 1.3 -1.9 0.7 0.6 2 1.3 1 -1 1 -6.5 2 -4.5 3.2 -0.5 2.8 -1.5 0.3 -3 -1.5 -1.2 -2.8 -1.7 -1 1.9 -0.4 0.5 -1.6 1.5 -0.6 0.1 -1.4 3.1 -3 -1.2 -3 0 1 -2 1 -3.4 0 0.3 -3 1.1 -1.6 1.1 2.6 1.9 -2.8 4 -0.2 0.9 -1zM-87.5 -90.8l-2.9 1.3 3.5 0 0.9 -1zM-92.5 -83.4l-2 1.5 1 1.7 1 -1.1 1 0.6 1 -1.8zM72.2 -96.5l3.5 0 -1.2 1.1zM90.1 -94.5l1.4 -0.5 1.7 2.5 -0.7 2.5 -2.1 -0.5 1.3 -2zM100.5 -94.5l1 0.6 1.5 -0.6 1.5 1.1 3 0 3 4.6 2.2 -1.7 -0.2 -0.5 -1 0.2 0 -1.7 2 -0.1 3 -1.4 1.6 0.5 1.6 1 -1 2 0.8 0.8 1 -0.3 1.3 -2.5 1.7 -0.4 1.4 1.4 -0.4 1.1 -1 -0.7 -0.2 0.6 0.2 1.1 1 0.4 -0.5 3.5 2.2 2 0.6 2 -2.4 2 -1.9 0.3 -1 1.5 -1 -0.8 2.4 -3 -0.4 -0.4 -4 0.9 -1 1.9 -1 -0.2 -2 -3.3 4 -0.4 2 -1.5 1 0.5 0.6 -1.5 -3.6 -2.2 -3 1.4 -1 -2.5 -0.7 3.3 -2.1 0 -1.2 -1.7 -1.4 1.7 1.4 2 -2 1.3 -1.2 -0.3 0.1 1 -0.9 0.6 -0.7 -0.6 0.3 -2 -1.6 -2.4 -1 -0.9 -3.8 0.3 0.8 -0.1 0.6 -1.9 -2.1 -1 -1.3 -2 -3.1 -1 -0.1 -1.1 1 -0.3 2 0.7zM62.8 -93.5l2.3 0 1.4 1 0 1.1 -2 0zM-132.7 -92.5l0.3 2 0.9 0.9 1.1 -0.9 -0.1 -1.4 1 -0.3 3.1 0.7 3.9 2.8 1 -1 4 1.5 3 -1.8 0.7 0.5 -0.5 2 3.4 4 -0.3 2 -1.3 -0.6 -1 0.4 -2 2.5 -1.5 -1.3 2 -1 -0.5 -1 -2.4 1 -0.6 1.4 -1.1 -1.4 -2.9 -0.6 0.5 -1.4 -0.5 -0.5 -3 0.2 0.6 2.3 1.4 0.9 1 -0.4 0.7 1.5 -2.7 0.6 -2 -1 -2 1 -0.7 -2.6 -2.3 -1.7 -1 0.2 -1 1.5 -1 0 0 -1 -2 -1.2 -2.8 2.2 -1.8 0 0.5 -1 -0.6 -2 1.2 -5 2.5 -1.5 2 0.6zM87.3 -92.5l1.2 -0.1 0.6 1.1 -1.6 0.9 -0.8 -0.9zM-64.6 -91.5l0.1 -0.6 4 0 0.2 2.6 -2.2 0.9zM17.7 -91.5l1.8 0 2 2 -3 3.8 -1.9 -3.8 0 -1zM58 -91.5l2.5 -1 0.5 2 -0.5 0.8 -4 0.7 -0.7 1.5 1.3 1 -0.6 0.8 -1 -1.7 -3.2 0.9 0.4 2 -2.2 0.1 -1 2.4 -2 -1.5 -1 1.3 -0.6 1.7 0.6 0.8 2 0.1 3 -2 1 0.4 0.3 0.7 -2.3 3.1 -1 0.3 -2 -1.4 -4 0.1 -3 1 -1.5 -1.1 -0.5 -1.3 -1 -0.2 -3.1 2.5 -1.9 0.6 -1 -1 -2.6 1.4 -0.6 3 -1.8 1 0 -3.3 -1 -0.2 -2 1.4 0 1.4 -2.2 -0.3 -0.1 -2 2.3 -0.7 0.7 -2.3 1.3 -0.6 2 0.5 0.6 -0.9 -0.6 -0.8 -2 0.4 -2 -2.1 -0.4 1.5 -2.6 0 0 -3 2.9 -2 -0.4 -1 1.4 -2 0.1 -2.3 1 -0.4 2 1.1 4 -0.2 1.7 1.8 -3.1 1 1.4 2.3 4 0.9 2 -1.1 1 1.2 0.9 -0.3 -0.4 -1 0.7 -2 0.8 -0.4 1 0.8 1 -1.4 9 -1.1 3 -1.2 3 0.7zM25.5 -86.7l-2 1.2 1 0.9 2 -1.8zM24.5 -84l0 0.9 1 0.1 1 1.5 0 -1.6zM-110.2 -90.5l1.7 -0.7 2.3 0.7 -0.3 3.3 -1.5 -0.3 -0.5 -1.5 -2 -0.3zM139.3 -90.5l2.2 0.8 0 0.6 -3 2 -2.2 0.6 0.8 1 -0.6 1 0.7 2 -1.3 2 -2.1 1 0.9 5 -0.8 1 -1.4 0.2 -2 -1.8 -1.9 -0.4 -1.4 -4 0.3 -1.5 3 -1.4 1.6 0.9 0.4 1.5 1.6 -3.5 -1.1 -1 -1.5 -3.2 2 -1.7 2 0.7 1 -1zM129.5 -78.9l-0.5 0.4 0.5 1.5 1 0.5 1.3 -1zM70.1 -89.5l0.6 0 0.7 2 -0.9 0.6 -1 -0.3 -0.6 -1.3zM150.3 -89.5l6 0 -0.1 1 -2.1 1 0.1 2 0.9 1 -1.6 0.5 -1 -0.5 -2.5 -4zM-99.3 -88.5l1.8 -0.3 1.6 1.3 -2.6 2.8zM13.1 -88.5l1.4 -1 1.8 1 -0.8 1.6 -1 0 -0.9 2.4 0.9 1.4 2 -1.9 0.2 1.5 -0.9 2 1.7 2 -4 3.7 -1 -0.7 1.1 -3 -1.1 -1.8 -1 -0.6 -1.1 0.4 -0.5 2 -1.4 0.6 -1 -2 -2 0.7 -0.2 -1.3 2.2 -1.1 1 0.8 2 -2.4 2 1 0.9 -1.3 -0.9 -0.9 -1 0.4 -0.5 -1.5zM146.8 -87.5l1.3 0 1.6 3 -0.4 1 -1.8 1 -1.1 -1 0.7 -1 -0.7 -2zM-146.5 -86.5l2 0.1 1 -1 1.2 0.9 0.7 3 -0.9 0.9 -2 -1.1 -0.7 2.2 -1.3 1.1 -2.6 -2.1 2.5 -2zM-102 -85.5l1.1 0 0.2 2 1 1 -0.7 2 1.6 2 -0.7 1.2 -1.8 -2.2 0.7 -1 -0.2 -1 -2.4 -2zM-77.8 -85.5l1.3 -0.8 1.3 0.8 -0.3 1 -1.2 0zM-45.6 -85.5l1.1 -1 1 0.2 1.2 2.8 1.3 1 -0.1 1 -2.5 0 0.3 -2 -2.2 -1.2zM129.6 -85.5l1.5 0 -0.6 1.6 -1 0.4 -1.2 -1zM56.5 -84.5l1 0.3 0.7 1.7 -1.7 2.7 -1.9 -1.7 -0.1 -1zM60.5 -84.5l2.7 3 -0.7 1.5 -3.7 -2.5 1.5 -1zM71.3 -84.5l2.2 0.9 2 -1.3 1.3 1.4 -1.3 1.8 -2 -1.5 -2 2 -0.7 -0.3zM156.9 -84.5l1.5 0 0.1 1.2 -2 0.6 -0.7 -0.8zM-109 -82.5l1.5 -0.9 2 2.4 1 -0.6 0.1 1.1 -1.1 0.1 -1 1.1 -4 -1.1zM-153.6 -81.5l1.1 -0.5 2 0.7 -0.2 2.8 -0.8 0.5zM77.4 -79.5l1.1 -0.4 -0.2 2.4 -1 0zM109.7 -79.5l0.8 -0.5 0.4 0.5 -0.4 1.7 -1.1 -0.7zM153.9 -79.5l1.4 1 -0.8 3 -1.3 -1zM73.4 -78.5l0.3 2 -1.2 1 -0.3 -2zM-97.5 -76.5l2 0.7 1 -1.1 0.3 0.4 0.5 2 -0.8 2.1 -1 0.2 -1.8 -1.3zM-97.6 -71.5l1 1 -0.9 1.2 -0.7 -1.2zM-69 -71.5l0.5 -0.9 1.6 0.9 -0.6 0.9 -1 0zM-80.3 -67.5l0.8 -0.2 1 0.9 1 -1.2 2 -0.3 1 0.6 0.3 1.2 -4.3 0.6 -1 -0.2zM120.5 -17.5l5 2.6 2 -1.1 1 0.5 -1.2 2 -0.1 3 -4.7 1.9 -2 -1.3 -2.5 -3.6 0.5 -1.8zM-48.2 -11.5l1.7 -0.3 1.6 1.3 -2.6 1 -0.9 -1zM-82.6 -2.5l2.1 0.5 1 -1 2 0 4 1 1 -1 3 0.1 3.1 1.4 -1 1 0.8 1 2.8 1 0.4 1 -1.1 1.2 -2.9 -0.2 -0.1 2.4 -2 -0.4 2.8 2 -0.8 1.7 -2 -2.3 -2 1.9 -3 -0.6 -4 1.5 -1.7 -2.2 0.6 -1 -1.9 -0.5 -1.8 -2.5 0.6 -3 -1 -2zM-23.8 2.5l3.3 -0.1 2.8 1.1 3.2 3.9 -0.4 1.1 -5.6 2.2 -4 0 -4.8 -1.2 -1.6 -2 0.9 -3zM-72.2 13.5l0.7 -0.3 0.8 1.3 -0.8 1.2 -1.2 -1.2z"/><path fill="#053061" d="M-89.6 -95.5l1.1 -0.8 3 0.8 0.6 1 -0.6 1.1 -2 0.7 -0.3 1.2 -3.7 0.7 -0.9 -0.7 0.6 -1 -0.7 -1.4 -2.4 2.4 0.4 -3.1 3 0.5zM-82.9 -95.5l2 0 1.4 4.3 -2 0.6 -2 -1.2 -1 0.7 -1.1 -0.4 0.8 -1 1.3 -0.2zM-72.7 -95.5l2.4 0 -2.2 2zM78 -95.5l0.5 -0.5 1 1.8 -1 0.4 -0.8 -0.7zM84 -95.5l0.5 -0.6 1.6 0.6 -0.6 1.1zM99 -93.5l1.8 0 -1.3 1.2 -1 -0.2zM116.2 -93.5l2.3 2 -4.3 1 0.2 -2zM-73.9 -92.5l1.4 -1 1.5 1 -1.5 1.3zM-61.8 -91.5l1 0 0.2 1 -0.9 1.2 -1.3 -1.2zM104.1 -91.5l1.4 -0.5 -0.8 2.5 0.8 1.1 2 0 0.4 0.9 -1.4 2.9 -3 -4.9 0.8 -1zM-133.7 -90.5l0.2 -0.6 2.1 2.6 0.5 3 -0.6 1 -1 -2.6 -2 0.2 -0.7 -1.6zM17.2 -90.5l1.3 -0.9 0.8 0.9 -0.1 1 -1.7 0.1zM54.4 -90.5l1.4 1 -1.3 1.3 -3 -0.1 -2 0.7 -1.3 -0.9 1.3 -1 2 0.9zM121.7 -90.5l0.8 -0.7 0.2 0.7 -0.2 4.1zM-138 -89.5l0.5 -0.6 1.3 0.6 0.3 1 -1.1 1 1.8 2 -0.3 1.1 -3.5 -3.1zM-125.9 -89.5l2.8 2 -0.4 2.6 -2.2 -0.6 -0.6 -3zM28.3 -89.5l3.1 0 -2.1 1 1.3 3 -1.4 1 -0.1 1 0.4 0.4 4 -0.9 1 0.4 1.3 1.1 0.8 2 -1.1 1.2 -1.1 -0.2 -0.9 -1.8 -1 0 -1 1.4 -1 0 -1 -2 -1 0.9 -0.6 -0.5 -0.9 -5zM-88.5 -88.5l3 -0.2 0 4 -2 0.4 -1 1.4 -1 0.1 -0.8 -1.7 0.8 -0.6 1 0.4 1.9 -1.8 -2.4 -1zM151.1 -88.5l0.4 -0.5 0.9 0.5 1.1 2 -1.4 0zM42.1 -87.5l3.4 -0.4 0.2 2.4 0.7 1 -1.4 3 0.4 2 -0.9 0.7 -4 0.4 -1.3 -1.1 0.3 -2 -2 -0.1 -0.9 -1.9 0.9 -0.6 2.7 0.6 0.3 -1.8 -0.3 2.8 1.3 1.3 1.8 -0.3 -1.4 -2 0.6 -1zM134.4 -87.5l0.9 2 -0.8 0.8 -1.1 -0.8 0.1 -1.6zM-115 -85.5l1.9 0 0.6 2 -1 0.6 -1.8 -0.6zM-94 -85.5l0.5 -0.2 0.5 1.2 -0.5 1 -1.2 -1zM-119.9 -84.5l1.4 -0.8 1 0.8 -1 1.5zM120.9 -16.5l1.3 0 1.7 2 -2.4 -0.7zM-78.3 -1.5l0.8 -0.8 1 0 3 1.8 2 -1.6 2 0.5 -1.7 2.1 0.7 2.3 2 -1.7 3 0.5 1.2 0.9 -5.2 1 0 1 -1 0.9 -1 -1.4 -4 3.9 -2 0.3 -0.5 -2.7 -3.6 -4 4.8 -2zM-24.5 4.5l4 -0.5 1.7 1.5 0.7 2 -2.4 1.6 -3 0.2 -3 -1.5 -0.8 -1.3zM-72.7 6.5l2.2 -0.7 0.2 0.7 -1.2 1.3 -1 -0.3z"/></g>
<use href="#co" fill="none" stroke="#000" stroke-width="2" stroke-linejoin="round" stroke-linecap="round"/>
</g>
<use href="#bd" fill="none" stroke="#c2c2c2" stroke-width="1.1"/>
</g>
<g transform="translate(794.85 471.8)">
<use href="#bd" fill="#f7f7f7"/>
<g clip-path="url(#cl)">
<g fill-rule="evenodd"><path fill="#fcdfcf" d="M-153 -89.5l1.5 -0.4 2 2.5 0 1.4 -2 1.5 -1 0.2 -3 -1.3 -2 0.1 -1 1.1 -1.3 -1.1 -0.2 -1 2.5 -2.3 4 0.4zM-59.9 -89.5l0.4 -1 1.4 1 -0.8 3 1.4 0.4 2.7 2.6 2.3 -0.1 1.4 1.1 0.8 2 -0.5 1 -2.7 0.9 -2 -0.5 -1.7 -1.4 -0.3 -2 -1 -0.7 -1 -2.2 -2 2 -2 -1.8 -1.3 -0.3 -0.7 -1.3 2 -1 2 1 1 -0.6zM81.4 -89.5l2.1 4.6 -2 -1.1 -2 0.2 -0.5 -0.7 0.5 -1.3 1.8 -0.7zM121.4 -89.5l0.1 -0.6 1 0.6 1 1.7 1 -0.8 2 0.3 1 1.6 0.7 -0.8 -0.4 -1 2.7 -1.9 2 1.3 0.4 1.6 -1.4 2 1.2 1 -0.9 3 -1.5 0 0.9 -3 -0.7 -0.3 -2 0.8 -1 -0.5 -0.5 -2 -4.5 1.5 -0.8 -0.5zM-40.7 -88.5l2.2 1.9 2 -1.6 3 0.1 2.7 4.6 1.3 0.4 2 2.3 2.2 0.3 -1.1 3 -2.1 0.2 -1 -0.8 -1 1.7 -7 1.1 -1.1 -1.2 0.6 -2 -1.7 -2 0.2 -1.1 -1.3 -0.9 0.5 -3 -1 -2zM-43.9 -87.5l0.6 0 0.8 2 -2 1.2 -0.1 -2.2zM135.9 -87.5l0.6 -0.9 1 0.1 0.3 0.8 -1.3 0.9zM30.4 -86.5l0.7 2 -1.6 0.3 -2 1.5 -0.7 -0.8 0.2 -1zM45.5 -86.5l3 -0.7 0.5 0.7 -0.5 0.7 -2 -0.6 -1 1.1zM134.1 -85.5l1.4 -0.5 1.9 2.5 -0.9 0.7zM-163.9 -83.5l1.2 0 0.2 6 -3 -0.2 -0.4 -0.8 -0.1 -1 1.6 -2zM-150.4 -82.5l1.9 -0.6 0.4 1.6 -0.4 0.5zM122.6 -82.5l0.9 -0.8 2.1 0.8 -2.1 1.5 -1.5 -0.5zM-117 -81.5l1.5 -0.3 0.2 1.3 -1.2 0.2zM25.5 -81.5l1 -0.8 1 1.9 -1 0.2zM9 -79.5l1 0 0.3 2 -1.8 1.4 -1 -0.1 -0.8 -1.3 2.2 -1zM-117.7 -76.5l1.9 1 -0.3 5 0.6 0.8 1 -0.6 0.5 0.8 -2.5 0.2 -1 1.2 -1 0.2 0.4 -2.6 -0.4 -0.7 -1 0.5 -1 -0.8 3.5 -2 0.2 -1 -1.6 -1zM125.9 -76.5l0.6 -0.6 1 0.4 0.7 2.2 -2.4 0zM150 -75.5l0.9 0 0.4 1 -0.8 0.9 -1.3 -0.9zM10.2 -74.5l1.3 -0.2 1.5 1.2 -1 1 -1.5 0.3 -0.7 -0.3zM151.7 -73.5l0.8 -0.2 1 1.1 0 1.1 -1 0.5 -1.3 -0.5 -0.5 -1zM68 -70.5l1.6 0 2.4 3 -0.8 1 0.3 2.7 3 0.4 2 2.6 0.8 -1.7 -0.2 -1 -1.6 -1 0.6 -3 -0.6 -0.5 -1.8 0.5 2.8 -3.2 0.8 0.2 0.8 3 1.4 1 0.2 1 -0.8 2 1.5 0 0.2 -1 1.9 -0.3 1 -1.1 2 0 1.9 2.4 0.1 3.2 3 -2.2 -1 -3 1 -0.6 3 1.2 2 -2.3 2 -0.1 3 -3.6 2.3 2.4 -0.9 3 0.4 1 2.2 1.2 1 0.1 0.7 -1.3 -0.3 -3 0.6 -0.7 2.6 -0.3 0.4 1.6 1 0.4 -2.6 3 1.6 0.5 2 -1.4 0.5 2.9 1.4 2 -0.7 1 0.6 2 1.2 1 4.3 -2 -1.3 -1.2 -2 -0.5 -0.8 -1.3 0.1 -1 1.7 -1.8 1 2.9 2 0.4 2 1.4 3 -1.9 1 -1.6 1.7 0.6 0.1 1 -0.8 1 1 0.6 0.4 -1.6 2.8 -1 -1.2 -2.2 1.4 0.2 0.2 1 1.4 0.7 1 -0.9 1.5 1.2 2 2 0.5 2 2 0.9 1.7 4.1 3.3 2.9 0.2 1.1 -0.2 0.5 -3 -0.9 -2 -2.6 -3 -2.4 -1 0.6 -1.5 -0.2 -0.6 -1 1.4 -1 -1.3 -2.5 -2.3 1.5 0.2 2 -0.9 1.1 -2 -1.3 -1 0.7 0.5 1.5 5.5 2.2 0 1.3 -1 -1.1 -1 0.6 -0.8 4 1.8 0.6 2 -2.1 2.3 3.5 -1.4 2 0.4 3 2.7 -0.8 0.4 1.8 -0.4 1.8 -1 0.9 -1 -0.1 -2.6 -1.6 0.2 -3 -0.9 0 -1.1 3 1.4 0.6 0.4 1.4 1.9 2 -2.2 2 -3.1 1.3 -5.4 0.7 -1.2 1 -0.4 2.9 -0.5 -2.9 -3.5 -3.7 -2 1.4 -1 -1.1 -1 0 -0.9 1.4 1.5 3 -1.1 1 0.5 1.5 -4 2 0.2 -2.5 -1.2 -0.4 -1.1 -1.6 0.1 -0.9 1.5 -0.1 -0.5 -0.5 -2 0.7 -3 -2.9 -5 2.4 -1.1 -0.7 -0.9 -2.7 -2 -0.2 0 -1.1 2 -1.3 0 -1.9 -2 -0.1 -5 2.8 -1 -1.4 -1.2 1.9 0.8 2 -2.9 3 -1.7 0.6 -2 -3.4 -3 -0.9 -2.7 -2.3 -0.3 -2.2 0 1.2 -1 0.3 -3 -0.1 -0.2 -1.2 -2.8 -1 0 -0.9 0 1.9 -0.9 1 -2 0 -2.8 -3 -0.3 -1 0.9 -2 -0.9 -1.9 -1.7 1.9 1.6 2 -2.9 1.7 -1 -0.3 -0.9 -1.4 0.5 -1 -0.5 -1 0.1 -1 1.3 -1 -0.5 -0.2 -2.1 0.2 0.6 1 -1 1 -3.5 -1.3 0 2.4 2.8 2.9 3.2 5.5 0.6 -1.5 1.4 -0.3 2 -2.1 4.5 4.4 -0.1 2 -1.7 3 -6.7 5.4 -5 1.2 -2 -1.7 -1 0.9 -2 -0.5 -0.8 -2.3 1.2 -2 -0.4 -0.3 -1 1.2 -1.3 -1.9 1.2 -4 -1.8 -2 0.4 -1 -2.4 1 0.7 2 -0.8 1 -2.5 -6 -3.5 -4.7 -1 2.7 1.9 3 -0.9 0.8 -3 -0.7 -0.3 0.9 1.3 2.5 1 0.1 2 -1.7 1.1 0.1 0.6 2 -0.4 1 0.5 1 1.2 0.1 2 3.9 0 1 -2.1 1 0.1 1 1.6 1 -1.2 5 2.3 -2 -0.4 -1 1 -2 -0.9 -1 0.6 -0.6 3.6 2.6 0.4 1 0 1.2 -1 0.3 -2 3 -2.4 1.5 0.1 1 -0.7 0.4 -0.8 -0.4 -0.2 -2 -3 -0.9 -0.1 2.9 -0.9 1.2 -3 -0.2 -2 1.1 -5 -2.3 -1 0.7 -4 0.1 -3 -2.2 -3 0.2 -4 -3.2 -3 1.6 1.5 1 0.4 1 -0.9 0.7 -4 0.2 -2 -1.3 -2 0.3 -2 1.5 -1.9 -0.4 0.8 -2 -0.9 -0.8 -3 0.6 -1 -2.3 -1 0.2 -1 -1.3 -1.1 0.6 0.3 3 -1.2 1.2 -2.7 -2.2 0.5 -2 -0.8 -1.8 -1 -0.6 -2 2.8 -1 0.2 -0.9 -1.6 0.1 -1 1.3 -1 -0.7 -2 0.8 -5 -2 -1 0.3 -1 -1 -2 1 -1 -1.9 -1.1 -1 1.9 -1 0.1 -0.1 1.1 1.1 2.9 1 -0.6 1.7 1.7 -0.7 0.8 -2 0 -0.3 1.2 1.2 2 -1.2 2 1 3 -3.7 2.7 -5 -2.4 -2.1 -2.3 -0.3 -6 0.9 -2 0.2 -7 2.9 -3 1.4 -0.6 7 1.8 1.6 -3.2 1.4 -0.8 1.2 -0.2 0.8 2.7 2 -2.1 3 -1.1 -0.4 -2.5 -1.6 -1.6 -0.9 0.6 -0.1 1.5 -1 0.3 -0.7 -0.8 1.6 -3 4.1 -3.4 1 0.6 3 -0.2 1 1.9 1 0.3 4 -2.4 2 0.2 1 -0.6 0 1.7 -4 1.9 1.2 2 -0.5 1 1.3 0.3 1 2 2 0.4 1 -0.8 2.8 2.1 0.2 1.4 1 -0.5 0.6 -1.9 -2 -2 0.4 -1.1 3.4 1.1 0.2 1 -1.2 1 3.6 0.1 2 1.3 2.6 -0.4 -0.3 -1 0.7 -1.4 4 4.6 1.8 -1.2 -0.1 -2 -1.5 -2 1.8 -1.9 1 0.9 4 -0.7 1.1 0.7 2.9 -0.1 3 2.3 2.2 -0.2 -1.2 -1 1 -0.4 1 0.8 0.9 -0.4 -1.4 -1 0.2 -3 -0.7 -0.8 -0.7 1.8 -1.3 1 -1 0 1 -2 -1 -2 1.8 -1 -0.7 -2 0.9 -0.9 3 2.7 2.9 0.2 -1.3 1 0.4 0.7 2.5 -2.7 -0.5 -3.9 -1 0.1 0 -0.6 3 0.8 0.8 2.6 -0.2 1 -1.9 1 0.3 2.5 -3 1.2 0.5 1.3 1.5 0.3 2 -1.5 1 0.5 1 -1.1 3 0.3 0.3 -1.5 -0.9 -1 -2.8 -1 0.1 -1 2.3 -1.5 1.5 0.5 0.1 2 0.4 0.7 1 -0.3 0.5 0.6 -0.2 1 0.7 0.6 1 -0.3 0.7 -2.3 2.3 -0.1 2 -1.5 2.3 -2.4 -0.2 -1 -2.1 0.6 -2 -1.1 -0.8 2.5 -3.2 2.8 -0.5 -0.8 1.2 -3 -2.7 -4 1 -0.9 2.5 -0.1 -0.2 -2 1.1 -1 0.6 -1.9 2 1.9 1 -0.9 0 -1.7 -1.6 -2.4 -0.2 -3 0.8 -1 3.5 -1zM75.5 -53.6l-1.5 1.1 2.5 -0.4 0 -1.1zM77.5 -47.7l-1.8 1.2 1.8 2.6 1.3 -0.6zM90.5 -50.9l-1.1 1.4 1.1 1.1 0.9 -1.1zM92.5 -58.7l-1.8 1.2 0.2 3 0.6 0.7 1.7 -1.7zM93.5 -64.3l-0.8 1.8 0.8 3.5 2.3 -1.5 -0.3 -1.1 -1 0.1zM98.5 -65.8l-1.7 1.3 0.2 1 1.5 0.5 1 -0.5zM104.5 -57.5l-2.5 2 3.5 2.1 0.3 -1.1 -1.1 -1zM108.5 -56.2l-0.6 1.7 1.6 1.1 -0.1 -2.1zM118.5 -55.1l-0.5 0.6 0.5 1.6 1.8 -0.6 -0.8 -1.6zM121.5 -54.3l-0.9 0.8 2.2 2 -1.3 0.9 -1 -1.1 -1 0 1.7 4.2 -2.1 1 2.4 1.3 0.5 -2.3 1.5 -1 -0.2 -1 1.6 -2 -2.4 -2.8zM125.5 -57l-0.6 1.5 0.6 0.9 1.2 -1.9 -0.2 -0.7zM129.5 -36.8l-2.1 1.3 1.1 1.2zM56.5 -26.6l-1.5 1.1 0.5 0.7 1 0.1 1.1 -1.8zM41.5 -16.7l-1 1.1 0 2 1.9 -1.9zM-7.5 -35.7l-3.8 2.2 0.7 1 -0.9 1.7 -2 -0.5 -0.8 0.8 1.8 1 2.1 0 1.9 -3.2 2 -0.5 1 -1.3zM-3.5 -39.9l-2.6 1.4 1.2 1 0.6 1 -0.6 1 1.4 1.4 2 -0.9 1 0.7 1 -2 3 1.9 1.9 -1.1 -0.9 -0.9 -6 -1.3 -0.7 -1.8zM0.5 -44.5l-0.8 1 1.8 1.4 0.8 -0.4 -0.3 -1zM8.5 -37.3l-1.4 1.8 1.4 3 1 -0.1 1.9 -0.9 0.4 -1zM13.5 -29.8l-1.2 1.3 2.2 0.9 0.9 -1.9zM16.5 -35.6l-2.1 2.1 -0.2 1 1.3 0.9 3.1 -2.9zM27.5 -28.7l-0.5 1.2 1.5 0.2 0.4 1.8 3.3 -1 0 -2 -1.7 -0.7zM30.5 -33l0 1.6 2 1.2 1.8 -1.3 -0.8 -1.4zM33.5 -40.4l-0.5 1.9 2.5 0.5 0 -1.5zM65.5 -47.6l-0.7 1.1 0.7 0.5 1 0.4 1 -0.7 0 -1.5zM71.5 -47.5l-0.5 1 0.5 0.9 3.5 -0.9zM74.5 -50.4l-0.6 0.9 0.6 0.8 1.3 -0.8zM82.5 -37l-1.1 1.5 1.1 0.5 1.1 -1.5zM92.5 -53l-0.7 1.5 0.7 1.2 1 -0.2 0.8 -1 -0.8 -1.3zM97.5 -57.9l-0.5 0.4 1.5 1.7 1.5 -0.7 -0.5 -1.4zM126.5 -50.1l-1.1 3.6 1.1 0.5 0.5 -1.5 1.4 -1zM-8.5 -24.7l-0.2 1.2 1.2 3.6 2 1 2.7 -1.6 0 -1 -1.8 0 -2.9 -3.4zM-2.5 -18.7l-1.3 1.2 0.3 1.9 1.5 -0.9 0.4 -2zM-0.5 -21.8l-0.9 0.3 -0.1 1 1 1.6 1 0.2 0.8 -0.8 0.2 -2zM2.5 -25.5l-1 0.1 -0.4 0.9 0.4 3 1.4 0 -0.3 2 0.9 0.8 1 -0.8 2 0.5 1.5 -0.5 -1.5 -1 -1 -1.9 -1 0.2 -1 -0.9zM7.5 -26.8l-1 1.3 1 1.3 1.1 -1.3 -0.2 -1zM10.5 -26l-0.3 0.5 1.3 2.2 0.6 -1.2 -0.3 -1zM18.5 -29.9l1 2.1 1.2 -0.7 -0.5 -1zM25.5 -23.5l-1.3 2 2.3 2.6 0.5 -0.6zM31.5 -23l-0.6 0.5 0.6 1.6 2.8 -0.6 0.1 -1 -0.9 -0.6zM33.5 -28.8l-0.5 0.3 1.5 2 1 0.1 0 -1.1zM35.5 -35.1l-1 1.8 1.9 -0.2zM66.5 -45.1l-2.3 1.6 0.3 0.7 1 -0.2 3 3.2 1 -0.6 1 2.9 0.5 -3 -1 -3zM74.5 -40.5l-0.9 2 0.9 1.3 1.5 -2.3zM19.5 -27l-3.3 1.5 3.7 3 -0.1 2 1.7 1.8 2.6 -1.8 -1.5 -3 -1.1 -0.5 -1 0.4zM89.5 -37.9l-2 1.4 -0.8 2 0.8 0.5 3 -1.5zM-63 -69.5l0.6 0 0.9 2.3 -1 0.3 -0.8 -0.6 -0.3 -1zM15.2 -69.5l1.3 -0.6 0.6 1.6 -1.1 0zM90.4 -69.5l2.2 1 -1.1 1.4 -2 -1.1 -2 0.6 0 -1.5 1 -0.4 1 0.7zM128.8 -67.5l0.7 -0.4 0.4 1.4 -1.4 1.8 -0.3 -1.8zM-125.4 -66.5l1.9 -1 1 1 -2 1.7 -1 -0.7zM-117 -66.5l1.5 -0.5 1 2 2 -0.1 2 1.2 0.2 1.4 -0.2 1 -1.7 1 -0.5 3 0.6 2 -3.7 1 1.1 2 -1.8 3.3 -2.9 -1.3 0.2 -2 -1.3 -1 0 -2 -0.9 -1 0.9 -1.8 1 0 1 1.4 2 -0.3 2.4 -3.3 -0.4 -1.1 2 0.1 -1 -0.2 -2 -2.3 -2 3.8 -2 -2.2 -1.4 -0.1 1 -2 3.2 -1zM38.1 -66.5l0.4 -0.7 1 0.1 0.9 1.6 -1.7 0zM110.6 -66.5l1.9 -0.7 6 1.6 1 -1.2 2 1 0.5 1.3 -1.5 1.5 -2 -2.4 -3 0.2 -1 -1.1 -2 1.7 -1 -0.2zM-92.7 -65.5l1.2 -0.4 1.6 1.4 -2.6 0.4zM56 -65.5l2.7 1 -1.2 1.7zM60.1 -64.5l1.4 -0.5 1.6 1.5 -2.6 1.8 -1.5 -0.8 1.4 -1zM-126.4 -63.5l2.9 -0.2 1 1.2 -1 0.8 -1 -1.6 -1 0 -1 1.2 -1.1 -0.4zM-100.4 -62.5l2.9 -0.5 1.9 1.5 -0.9 0.9 -3 -0.4 -1 0.5 -0.6 -1zM40.7 -62.5l0.8 -0.8 2 0.8 -0.2 1 -1.8 0.9 -1 -0.1zM-110.5 -61.5l3 -0.7 1.4 2.7 0.2 2 0.4 0.4 2 -1.5 0.9 2.1 -1.9 1.5 -1 -1 -2.3 -0.5 -0.7 -1 0.4 -1 -1.4 -0.7zM139.1 -61.5l0.6 0 0.6 2 -0.8 1.7 -1.2 -1.7zM141.5 -61.5l1 -0.8 0.6 1.8 -0.6 0.3zM145.3 -61.5l0.2 1.6 -2 1.7 -1.1 -0.3zM-132.8 -59.5l1.3 -0.9 2 3.1 -1.8 -0.2zM-120.7 -59.5l1.2 -0.5 1 0.5 -1 0.9 -1 -0.1zM-96.9 -59.5l0.4 -0.8 2.2 1.8 0.2 1 -1.4 2 0.8 2 -0.6 1 2.9 3 -1.1 0.9 -1 -0.5 -1 0.4 -3.4 2.2 1.4 1.4 5.2 1.6 -2.2 0.2 -1 1.3 -1.4 -0.5 -1.6 -1.8 -1.4 0.8 -0.1 2 -1.5 -0.4 -2 1.5 -5 0.6 -4 2.9 -4 -1 -1.1 1.4 2.1 1.5 1 -0.6 0.8 1.1 -0.6 3 0.5 6 2.3 1.9 4 0.5 3.1 -4.4 1.3 0 -1.1 1 0 2 -2.3 2.4 -3 1.1 -2 -2.3 -3 1.1 -3 -0.9 -5 -3 -0.4 -1.4 1 -4 -2.2 -1 -1.5 -2 -0.5 -1 1.5 -1 -0.9 -1 -1 1 -3 0.6 -2.6 5.4 -4.4 4.3 -7 1.7 -1 -1.1 -2 0 -1 -1.4 -0.5 -1.5 1.4 -7 5.1 -11.2 4 -2.5 1 -0.1 2 1.3 1 -3.1 1 0.1 2.1 1.5 -0.1 1 1 0.4 2 -1.3 0.7 0.9 0.2 2 -1.9 1.7 -1.4 -0.7 0.5 1 3.9 1 -2 0.1 -0.8 0.9 -0.2 1.1 1 1.3 2 -1.2 1 0.6 2 -1.3 3 0.7 1 0.9 2 -1.1 1 1.2 0 -1.3 -2 0 -0.4 -0.9 0.4 -1 2.6 -1 0 -2 1.9 -3 0.2 -2 1.5 -1 -0.6 3 0.4 3 1 -1.2 0.3 1.2 -0.3 0.5 -1 -0.5 -1 2.4 5.7 -2.4 -0.9 -1 0 -2 -1.1 -1 0.3 -1.4 1 -0.5 2.5 -0.1 1.5 1.7 1.4 0.3 -0.1 1 1.7 0.3 1.3 -2.3 -1.3 0.5 -1 -0.5 -0.6 -6 1.6 -1.5 2 1.8 2 0.5 0.3 -0.8 -1 -1zM-105.5 -43.8l-4.3 1.3 1.3 0.7 3 -0.1 1 -0.6zM-104.5 -49.6l1 3.1 1 -2.2zM-100.5 -55.7l-0.5 0.2 1.2 1 1.9 1 -0.6 1.3 1.6 -0.3 -1.6 -3.8zM-123.5 -36.1l0.6 1.6 4.4 1.4 1 1.3 1 0.1 1.7 -1.8 -3.4 -1 -0.3 -1.4zM-120.5 -29.3l-0.5 0.8 1.5 2.3zM-126.6 -58.5l3.1 -0.1 -0.9 1.1 2.7 2 -0.8 0.8 -2 -0.2 -1.1 -1.6 1 -1zM-81.6 -58.5l1.1 -0.9 0.4 0.9 -1.4 2.3 -1.6 0.7 0.9 1 -0.2 1 -1.1 0.6 -1.5 -1.6 -0.3 -2zM26.1 -58.5l0.4 -0.4 0.2 1.4 1.2 1 -1.4 1.2zM45.9 -58.5l1.6 -0.5 0.4 0.5 -0.4 2.9 -1 -0.1 -0.5 -0.8zM151.8 -58.5l0.7 -0.7 0.7 0.7 -0.7 1.4 -1 -0.4zM-86.5 -56.5l0.6 1 -3.6 2.4 -0.7 -1.4 0.6 -1zM-1.6 -56.5l1.1 -0.8 2.4 0.8 -2.4 3.4zM-8.7 -55.5l1.2 -0.4 1 2.8 3 -1.8 0.4 0.4 0.2 1 -1.2 2 0.5 1 -2.9 1.9 -2.8 -2.9zM16 -55.5l0.5 -0.6 1.3 0.6 -0.3 2zM21.6 -55.5l0.9 -1 3.2 4 -0.2 3.8 -1.7 -0.8 -0.1 -2 -1.2 -1zM35.2 -55.5l1.3 0.4 2 -1.2 2.6 1.8 -2.7 1 1.8 1 1.1 3 -2.8 -0.3 -2 1.2 -2 -0.1 -0.5 -0.8 2.1 -1 -0.6 -0.6 -3 0.2 -3 -1 0 -2.6 1 -0.4 1 0.8zM-125.9 -53.5l1.4 1 2 -0.4 0.8 1.4 -0.4 1 1.6 1.3 -2 0.1 -1 0.9 -2 -1.5 -2.9 -0.8 -0.2 -2zM154.1 -50.5l1.4 -0.9 1.7 2.9 -0.5 1 -6.2 3.3 -1 -0.5 -1 1.9 -1 -0.4 0 -3.7 4.4 -1.6zM-87.1 -48.5l1.6 -0.8 0.4 0.8 -0.4 1 -2 0.9 -1.1 -0.9zM10.5 -44.5l1.9 0 -1.9 2.8 -2 -1 -1 0.2 0.1 -1zM24.2 -43.5l1.3 -0.3 1.2 1.3 -2.8 0zM88.1 -25.5l1.4 -0.5 0.3 0.5 -0.3 1 -1 0.4 -3.1 -0.4 1.1 -0.6 1 0.5zM123.8 -23.5l0.7 -0.8 1 1.8 -1 0.9zM88.2 -21.5l0.8 0 1 2 -0.1 3 1.1 1 -0.5 1.6 -2.6 -3.6 -0.7 -3zM91.4 -20.5l1.1 -0.7 0.3 0.7 0.5 4 -0.8 0.8zM58.4 -15.5l1.6 0 0.2 1 -1.7 3.2 -2 -0.4 -3 0.7 -1.6 -2.5 0.6 -0.7 2 0.1zM-203.9 -14.5l14.4 -0.6 11 1.2 11 -1.3 28 1.3 9 -0.7 9 0.9 2 1 19 0.8 4 1.9 3 -2.6 3.5 1.1 -1.5 0.7 0 0.6 3 0.1 1.4 2.6 0.1 2 -2.5 4.4 -1 0.2 -2 -2 -3 2.1 -1.5 -1.7 -1.3 -5 -1.2 -0.6 -18 0 -5 1.5 -4 0.2 -47 -0.7 -6 0.7 -25 0.3 -7 -0.8 -2 -1.1 -0.5 -2.5 0.5 -1.7 1 -0.8zM-89 -13.5l2.5 -0.8 2 0.7 0.3 1.1 -3.3 2.1 -1.6 -1.1zM117.4 -12.5l8.1 4.2 5 -1.8 9 0.4 1 0.2 2 3 -2 2.4 -3 0.6 -2.8 3 -1.2 -1.4 -2 2.6 -1.3 -1.2 -0.3 -2 -4.4 -2 -1.6 7 -2.2 0 0.4 1 -0.6 0.7 0 2.5 -3 1 -2.4 -1.2 -1 -3 1.1 -8 -0.7 -2 1.5 -3zM172.9 -12.5l12.6 -0.8 8 1.1 11 -0.1 9 1.7 1.1 4.1 -7.1 1.9 -13 -0.6 -13 0.8 -10 -0.6 -5.2 -1.5 -1 -1 -0.2 -2 2.4 -2.4zM34.3 0.5l1.2 -0.9 1 0.3 0.7 0.6 0 2 -0.7 0.6 -1.9 -0.6zM163.8 1.5l7.7 -0.4 3 0.7 1.4 1.7 -2.4 3.8 -3 1.2 -5.2 0 -1.8 -1.5 -4.2 -1.5 1.1 -2zM-54 3.5l6.5 0.7 5 3.3 0.1 2 -1.3 1 -0.8 2.2 -1 -1 -2 0.7 -2 -1 -1 1 -2 -0.8 -4 1.2 -1 1.7 -1 -1.6 0 -3.4 2.4 -2 -1.1 -2 0.6 -1zM-103.9 5.5l6.4 0.8 6.8 8.2 1.5 4 4.7 3.5 2.5 3.5 1 17 -0.6 8 1.4 5 0.4 8 2.1 5 2.2 2.4 7 3.2 2.2 -0.6 -2.6 -3 -0.7 -2 0.1 -9 0.7 -2 -1 -2 1.3 -0.5 0.9 -2.5 3.1 -0.1 2.1 -1.9 -0.4 -2 4.3 -3.8 2 -1.2 1 0.3 1 -1.1 3 0.6 4.5 -3.8 1.3 0 2.3 2 -0.5 2 1.4 0.1 0.8 0.9 -2.6 3 1.2 4 4.6 3.2 1.4 -1.2 0.1 -2 1.8 -2 -0.2 -1 -1.5 -1 0.4 -1.8 4 -2.2 0 -1.1 3 -0.2 5 -3.4 7 -0.2 2 3.2 2.8 2.7 -0.8 1 1.6 0 3.3 -2 1.4 -2 0.6 -4 -0.7 -1 0.6 -1 2.2 -1 4 0.2 0.8 -1.2 -4.1 -4 -0.2 -3 1.3 -2 -0.3 -3 1.5 -4 0.1 -3 4.9 -4.3 7 -2.3 2 0.7 2 1.9 1.7 5 -2 7 0.2 3 2.7 6 -1.5 4 -1.6 2 -0.1 1 0.9 1 -0.3 2.5 2 -0.3 2 1 2 2.9 2 1.3 4 -0.5 3 1 2.6 -0.9 -0.5 2 -1.1 1 0.7 1 2.3 2 2 0.6 1.5 -0.6 0.5 -1.1 1 2.9 1.3 -0.8 -1.8 -4 1.5 -1.2 -0.1 -1.8 -1.9 -0.8 -4 1 -1.2 -1.2 1.1 -2 2.1 -1.5 2 1.9 1 -1.1 3 -0.4 3 0.7 1 1.6 1 -0.9 5 0.7 2 -1.3 2 0.8 1 -0.5 1 1 3 -0.3 1 1.5 1 -3.2 3 0.4 2 -1.3 2 1.6 3 0.7 2 -2.5 3 1.2 1 -1.1 4 -1.5 2 0.6 0.8 0.9 0.2 2.2 -2.3 1.8 -0.1 1 -2.7 1 1.1 0.2 1.5 1.8 -1.8 2 1.5 1 -1.2 1 -0.2 2 0.2 2.7 1 0.3 1.1 -3 1.2 -1 -0.7 -3 1.4 -1.2 1 -2.8 2 -2.8 2 -0.4 0.9 -1.8 2.1 -1.3 1.6 0.3 -0.7 -2 1.1 -0.4 1 1.4 2 -1.6 5.4 2.6 0.6 3.2 4 2.8 0.9 2 0.1 3 1 0.4 1.9 -0.4 -1.6 -2 0.7 -1.1 1 -0.5 2 1.7 2 -0.8 2 -2.1 1 0.6 0.9 -1.8 2.1 -1.2 1 -1.4 3.6 -0.4 1.4 -1.8 1 -0.1 0.6 0.9 -1.1 2 0.5 1.9 1 -0.1 1 1.2 2 0.2 3 -1.7 3 -0.2 2 -1 1 -2 1 1.1 2.3 -0.4 0.4 -3 -0.7 -0.9 -1 1.1 -1.3 -0.2 -0.3 -1 -1.4 -0.8 -1 -2.6 -1 0.5 -0.5 -1.1 2.5 -2.5 2.2 -0.5 0.6 -3 -2.5 -1 0.7 -2.7 2 1.5 0.6 -0.8 0 -1 -1.6 -1 5 -1.2 1 -1.5 2 1.1 1 -0.3 1 2.1 3 -0.6 1 0.9 3 -0.6 1 -1.6 1 0 2 2.3 2 -2.8 2 -0.2 0.7 1.4 -1.4 1 1 4 -0.8 3 -1.5 0.1 -0.6 0.9 2.6 0.5 2 -2.4 1 0 3 1.6 0.2 1.3 1.6 1 -0.8 1.2 -1 -0.6 -3.3 0.4 1.3 1.2 2 0.2 -0.2 1.6 -2.8 -0.3 -2 -1.3 -1.3 3.6 0.6 1 -2.3 1.9 -3 -0.9 -3.3 -2 -0.4 -1 -0.9 0 0.5 2 -1.9 0.1 -0.4 0.9 0.4 0.6 2 -0.2 0.7 1.6 -1.7 1.9 -1 -2 -2.3 3.1 1.1 4 1.2 1 4 0.3 5 -1.7 4.6 -4.6 3.4 -0.9 1 -1.5 1 1.9 1 0.2 3 -0.3 5 -3.3 6 0.2 2 1.2 4 0.6 2 -1.1 1 0.8 2.7 0.2 -3.2 7 -6.8 8 0 1 -12.7 12.8 -1 0 -5 5.1 -1 0 -7 6 -4 1.9 -8 6 -3 1 -2 2 -3 0.9 -5 3 -4 1 -3 1.9 -2 -0.1 -3 1.9 -2 0 -3 2.2 -5 1 -1 1.1 -3 0 -1 0.9 -8 -0.1 -1 -1 -2 1.1 -7 0 -1 -0.6 1.5 -3 -0.5 -1 -1 -0.2 -2.8 3.2 0.6 1 -8.8 0.7 -16 -0.1 -2 -0.8 -2 0.8 -12 -0.1 -1.8 -0.5 1.2 -2 -0.4 -1.2 -1.8 2.2 -0.1 1 -5.1 -1.1 -3 1.5 -7 0.3 -38 -0.2 -2 -1.3 -2 1.2 -1.7 -0.4 -0.3 -2.2 -0.6 2.2 -1.4 0.4 -11 0.2 -2 -0.7 -3 0.1 -1.8 -2 -1.2 -0.3 -2 2.7 -1.4 -0.4 -0.6 -1.2 -1 1.4 -3 0.5 -32 0 -1.8 -0.7 -0.2 -1.5 -1.6 0.5 0.6 1 -3 -0.8 -5 1.1 -3 -1.9 -2.3 -0.4 0.3 -0.9 1 0.5 1 -1.4 1.4 -0.2 -2.2 -1 -2.2 -3.6 -2 2.1 -1.6 0.5 2.3 1 -1.6 2 -0.4 3 -0.7 0.4 -12 0.2 -5 -2.2 -3 1.6 -0.8 -2 0.8 -0.8 1 1.2 0.4 -0.4 -0.4 -0.9 -1 -0.2 -1 0.1 -0.1 1 -1.9 1.6 -2 -1.2 -2 0.9 -1 -1.2 -2 0.4 -1 -1.1 -2 -0.1 -3 -2 -2 0.2 -3 -1.9 -2 0.1 -3 -2.1 -2 0.1 -7 -4.1 -3 -1 -2 -2 -3 -0.9 -5 -3.9 -1 0 -5 -3.9 -1 -0.1 -3 -3 -1 0 -3 -3 -1 0 -5 -5 -1 0 -12.6 -12.8 -0.1 -1 -4.9 -5 0 -1 -2 -2 0 -1 -3.5 -5 0.1 -0.7 4 0.8 6 3.1 1 -0.3 1.6 -2.9 -1.2 -4 4.6 0.3 2 1 1 -0.3 1 -1.8 2 0.4 1 -0.5 4 2.4 3 0.9 3 -2.2 7 2.8 4 -2.2 0.9 0.2 1.1 2.6 2 0.4 0.1 1 0.9 0.5 2 -1.7 4 -0.6 1 -0.9 2 -0.4 4 1.1 1 -1.3 2 1.2 2 -0.1 5 4 2 -0.3 0.4 -1.5 1.9 -1 1 -2 -0.8 -3 -1.5 -2 0.6 -2 2.4 -0.2 5.9 -3.8 1.3 -2 0.3 -3 -1.4 -4 -1.1 -1.5 -3 -1 -0.6 -1.5 4.1 -8 5.5 -2.5zM-103.5 93.5l-1.9 3 1.2 1 1.2 3 1.5 0.3 1.3 -1.3 -0.4 -1 -2 -1 0.6 -4zM-99.5 94.3l-0.7 0.2 0.3 2 3.5 5 -1.4 1 3.3 0.4 0.9 1.6 -0.4 2 0.5 1.3 1.4 -2.3 -1.2 -1 1.2 -1 -0.4 -0.9 -1.9 -1.1 0.9 -2.1 -1 -0.8 -1 0.5 -1.1 -1.6 0.1 -2.2zM-88.5 96.3l-0.9 2.2 0.9 0.7 1.8 -2.7 -0.8 -0.6zM-83.5 96l-0.8 1.5 0.8 1.5 1.1 -2.5zM-81.5 104.2l-0.8 1.3 0.8 1.4 4.7 -1.4 -1.7 -1.4zM-80.5 94.3l2 3.5 1 -0.3 -1.6 -3zM-61.5 93.6l-1 0.9 1 4.2 0.8 -0.2 0.9 -4zM-52.5 97.3l-0.4 1.2 1.4 1 2.6 -2 -1.6 -0.8zM-39.5 96.4l0 2.3 1 0.7 1 -0.5 0.4 -0.4 -1.4 -2.4zM-34.5 92.5l-3.3 1 0.3 0.6 2 -0.2 1.1 -0.4zM-30.5 102.3l-0.5 0.2 0.5 1.1 2.3 -1.1zM-27.5 104.5l-1 0.2 -0.2 0.8 1.2 0.7 1.1 -0.7zM-20.5 92.1l-3.3 2.4 1.4 2 -0.6 1 -3.3 2 1.8 1.7 1.9 0.3 0.1 1 1 0.3 2 -2.2 1.7 -0.1 0.1 -1 5.2 -4.6 3 -0.2 2.4 1.8 1.6 2.7 1 -0.2 1.1 -1.5 -0.1 -1.6 -1 0 -2 -3.1 -3 1.4 -1 -0.5 -5 0.4 -0.8 -0.6 0.3 -1 -0.5 -0.6zM-14.5 51.4l2 1.2 0.6 -1.1 -0.6 -0.8zM-2.5 103.5l-1.5 1 0.5 0.6 1.6 -0.6zM3.5 91.9l-0.6 0.6 0.5 1 1.7 0 0.4 -1zM42.5 88.1l-2 1.8 -8 1.2 -5 -1 -6 1.9 -12 -1.4 -3.1 0.9 -0.9 1 0.7 1 2.3 0.8 3 0 2 -0.9 5 3.8 2 0 0 1.6 -2 -0.2 -2 1.6 -0.7 -0.7 0.4 -2 -0.7 -0.8 -1 0.4 -1 -0.7 -6 1.6 -0.6 0.5 7.6 3.1 5 -1.8 2.4 0.7 1.6 -1.9 3 0.4 3.9 -4.5 -0.1 -1 1.2 -0.4 2 1.3 2.2 0.1 0.8 1.8 3 2.6 4 -0.7 2 1.3 1 -0.2 1 -1.4 1.8 1.6 0.2 1.8 2 -0.7 3 0.1 1.9 -1.2 -1.9 -0.9 -3 0.4 -2.4 -2.5 0.4 -0.7 2 -0.2 2 0.8 2 -1.8 1.4 -0.1 -0.5 -1 0.7 -1 1.4 0.5 1.2 -0.5 -0.6 -1 1.8 -1 -0.8 -1 -5.6 -0.4 -1 1.6 -1 0.1 -4 -1.2 -2 1.1 -1.5 -2.2zM47.5 54.3l-0.5 1.2 1 2 2.9 -1 -1.5 -1 -0.1 -1zM61.5 91.2l0 0.9 1.5 0.4 -1.5 0.2 -0.5 0.8 0.5 0.7 3 0.8 2.3 -1.5 -0.3 -1 -2 -1.3zM65.5 53.4l-0.4 1.1 1.4 0.7 1.5 -1.7 -0.5 -0.8zM69.5 89.5l-2.3 1 -0.1 1 2.1 2 0 1 -0.7 1 -2.3 0 3.3 0.9 3.6 -2.9 -0.6 -4.7zM74.5 90.4l0.2 1.1 -1.1 2 0.9 0.9 3.5 -2.9 -1.5 -1.3zM98.5 87.4l0.8 1.1 -1.8 0.9 -1 0 -1 -1.1 -2 3.7 -1.2 -3.5 -1.8 -0.6 -0.4 0.6 1.9 1 -3.5 1.2 -1.7 -0.2 -0.3 1.8 -2 -1.2 0.4 -2.6 -1.4 -0.4 -1 0.9 -2 -0.1 -1.9 2.6 0 1 2.9 0.7 2 -1.3 0.9 1.6 -0.2 2 1.3 -1.6 3 1.7 1 -3.2 1 0.6 0.9 2.5 3.1 2.5 2.7 -2.5 -0.6 -1 0.9 -1.5 1 -0.3 3 2 2 -0.9 3 0.6 0.6 -0.9 -0.5 -2 0.5 -2zM109.5 54.2l-0.6 1.3 0.6 1.1 1 0 0.5 -1.1zM111.5 89.4l-1 1.3 -2 -0.6 -0.5 0.4 1.5 1 -0.5 2 1.5 -0.5 3 1.4 3 -0.7 2 1.1 1.1 -0.3 -3.1 -4.2 -2 0.3zM127.5 89.4l-1 0.3 -1 2 -2.5 0.8 1.5 2.1 1 -0.3 4 1.1 6 -2.6 0.7 -1.3 -1.7 -0.5 -2 0.6 -2.8 -1.1 -1.2 -1.4zM131.5 58.5l-0.1 2 1.1 0 0.7 -1 -0.7 -1.1zM148.5 31.5l-0.9 1 0.9 1.8 1 -0.3 0.6 -1.5zM158.5 54.1l-3.2 1.4 0.3 2 1.9 1.7 3 -1.5 0.9 -1.2 0.1 -1.2zM180.5 59.4l-0.8 1.1 0.8 0.8 1.8 -0.8 -0.4 -1zM187.5 55.1l-3.2 2.4 -0.2 1 1.4 0.3 3 -1.5 1.4 -1.8zM194.5 46.5l-0.9 1 -0.3 3 -2.2 2 0.2 3 1.2 0 4 -2.2 1.5 -1.8zM-117.5 96.6l-0.5 1.9 -1.5 1 1 1.5 2 -0.2 4 2.4 0.5 -0.7 -0.8 -3 0.3 -1 2 2.2 2.4 -0.2 -1.4 -0.3 -2 -2 -1 0.3 -1 -0.6 -2 1.3zM-109.5 95.7l-0.8 0.8 0.8 1.2 1.5 -1.2zM-99.5 102.8l-1 1.1 -2.3 0.6 2.3 1.3 1 2.2 2.1 -1.5 -1.3 -1 0.7 -2 -0.5 -1zM-58.5 93.8l-0.7 0.7 0.4 1 1.3 0.7 0.4 -0.7zM-36.5 104.7l-0.8 0.8 1.8 1.1 0.4 -1.1zM-13.5 101.8l-0.8 1.7 1.8 3.5 1 -2.5zM-7.5 103.1l0 2.1 1.3 -1.7zM8.5 102.1l0 2.2 2.2 -1.8zM33.5 96.1l-2 2.2 -2 -0.3 -0.7 0.5 -0.3 2 7.2 -3zM42.5 98.8l-1 2.1 -2 -0.9 -2.2 1.5 2.2 1 3 -0.5 1 1 2.5 -1.5 0.5 -1 -1 -1zM54.5 102.9l-1.2 1.6 0.2 1.1 2.1 -1.1zM58.5 96.1l-0.6 2.4 0.6 1.2 1 0 0.1 -1.2 1.6 -1 -1.7 -0.2zM64.5 103.4l-1 0.2 -1.4 1.9 1.4 1.4 0.9 -0.4zM67.5 98.6l-0.9 0.9 0.9 0.6 1.3 -0.6zM71.5 98.4l-0.9 1.1 2.1 0 -0.2 -1.4zM87.5 102.9l-0.4 1.6 3 1 -1.6 -2.3zM93.5 101.5l-1 1 -2 0 0 2 1 0.7 2 -1.8 0.7 -0.9zM101.5 105.2l-1.3 1.3 0.3 0.6 1.6 -0.6zM115.5 97.4l1 1.6 0.9 -0.5 -0.9 -1.5zM153.5 44.2l-1.2 1.3 1.2 1 1.7 -1 -0.7 -1.5zM72.5 102.3l0.2 1.2 0.8 0.5 1.8 -0.5 -1.8 -1.5zM88.2 9.5l1.3 -0.6 3.6 0.6 -3.6 2 -1.3 -1zM-210.1 10.5l2.6 -0.4 8 1.5 2 -0.2 1.2 1.1 1.1 3 -1.3 1.2 -2 -0.3 -1 0.5 -2 -0.8 -5 0.3 -3 -1 -4 -0.1 0 -3.2zM212.2 12.5l1.3 -0.5 0.2 0.5 -0.2 3.3 -2.5 -1.3zM-54.8 13.5l1.3 -0.4 1.5 1.4 -0.5 0.9 -1 0.1 -1.2 -1zM142.9 17.5l1.6 -1 3.8 2 -0.8 0.5 -1 -0.5 -2 2 -2 -2zM24 24.5l2.5 -0.5 0 2 -1 0.3zM171.1 27.5l0.4 -0.5 1.3 1.5 -1.3 1.9 -1.6 -0.9 0.6 -0.2zM139.1 30.5l2.1 0 0.2 1 -0.9 0.4zM25.1 34.5l1.7 2 -3.3 0zM-157.1 36.5l3.6 0 0.3 1 0.3 2 -2.6 2.7 -1 -0.7 0.4 -2 -1.8 -1zM20.8 37.5l2 0 -0.4 1 -1.9 0.2 -0.8 -0.2zM26.6 41.5l1.9 -0.4 0 2.7 -2 0.4 -1 -0.6zM104.9 41.5l1.6 0.2 0.3 1.8 -0.8 0zM36.2 91.5l0.3 -1 2 1.7 1.7 -0.7 -0.7 1 -2 0.7zM43 93.5l0.9 0 -0.5 1 1.1 0.5 3 -1.6 1.3 2.1 -1.6 0 -0.7 2.1 -3 -0.7 -2 0.3 -1 1.2 -1.6 -1.9 0.6 -1.3zM21.3 94.5l2.2 -0.7 1 1.4 1.1 0.3 0.1 2 -2.2 -0.5 -1 0.6 -1.7 -2.1z"/><path fill="#f7b799" d="M65.4 -67.5l2 0 0.4 1 -2.2 0zM76.2 -65.5l1.3 -0.7 0.7 0.7 -0.2 1 -1.5 0zM95.3 -65.5l1.3 0 -1.1 2.4 -1.4 -1.4zM100.4 -64.5l1.1 3.2 3 -0.5 3 1 1 -1.3 2 -0.6 1.3 3.2 -0.3 1 1.7 3 1.3 0.5 1 -0.7 1.9 0.2 0.1 4 1.2 1 -1.9 1 -0.3 2.4 1.2 0.6 -1.5 1 1.3 2.2 1 0.3 1 -1.2 2 0.4 3 -6.1 1.1 0.4 -1 2 0.8 3 3.1 1 1 -1.4 0.4 3.4 -3.4 -0.5 -0.5 1.5 1 1 -2.9 1 -0.3 2 0.7 3 -1 0.8 -1 -0.4 -1 1 -0.7 -1.4 -1.3 -0.2 -2 1.9 -1.9 -0.7 -0.1 -0.9 -1 2.4 -1.3 -0.5 -0.7 -1.4 -4 -0.8 0.7 2.2 -0.7 3.1 -3 -2.7 -2 0.5 -2 -1.9 1 -1.3 2 1.1 0.9 -0.8 -0.3 -1 -1.6 -1.1 -1 0.8 -1 -2.1 -1 0.9 -1 -0.1 -2 -5 -0.4 3.6 -2.6 1 -0.8 -3 2 -4 -1.2 -0.5 -1 1.1 -2 -0.3 -1 0.9 -1.9 -3.2 0.3 -2 -3 -1 0.5 -2 -1.9 -0.2 -1.3 4.2 -1.3 1 0.6 4 -1 1.2 -2 -2 -2 0.4 -1 1.4 -2 -3.4 -1.5 -0.6 1.5 -0.5 3 2.1 1 -0.7 1 0.8 1 -0.5 -1.5 -2.2 -0.5 -2.5 -2.5 -0.5 1.3 -2 -0.7 -1 0.9 -0.7 0.1 -1.3 -1.1 -1.5 -3 -0.2 0 2 -1 0.3 -2 -1.1 -2 2.4 -0.9 -3.9 -2.4 -1 0.3 -0.7 2 -0.4 2 0.6 0.9 -0.5 -0.9 -2.1 -2 0.3 -1 1.5 -1 -0.1 2 -5.1 1 -0.5 2 1.4 2 -0.9 2 0.2 2 3.3 2 -2.5 7 -2 1 1.1 0.1 1.4 -2 2 0.9 1.1 4 -3.1 2 -0.6 1 1.6 -2.4 3 0.4 2 -1 0.5 -2 -1.7 -1 0.2 -0.3 1 2.8 2 0.5 5.7 2 -0.3 3.5 -3.4 -0.8 -2 2.1 -1 -0.2 -1 -2.6 -1 -0.2 -1 1.2 -1.5 1 -0.4 1 0.6 -0.3 1.3 1.3 2.7 3.4 -1.7 -0.4 -1.3 -3.9 -1.7 -0.1 -2 1.4 -1 1.2 1 -0.1 1 0.9 0zM105.5 -59.6l-4.4 4.1 0.5 1 3.8 2 -1.5 4 0.6 0.7 2.3 -2.7 -0.3 -3.1 1 -0.4 2 1.5 1 -0.1 -0.4 -3.9 1.3 -2 -0.1 -1 -1.8 -0.3 -1 2.4 -2 -0.5zM117.5 -40.6l0 2 1.2 0.1 0.2 2 1.6 1.2 1.3 -1.2 -1.6 -2 0.4 -1 0.9 -0.5 2 1.1 0.5 -0.6 -0.5 -0.9 -1 0.3 -1 -1zM75.5 -59l-0.7 0.5 0.4 2 1.3 0.1 0.6 -1.1 -0.6 -1.9zM82.5 -61.5l-0.8 2 0 1 0.8 0.4 2 -1.4zM96.5 -47.8l-2 1 0 1.5 2.1 -1.2 0.5 -1zM97.5 -54.1l0.5 1.6 -1.2 2 0.7 2.6 2.1 -1.6 -1.1 -1 0.1 -1 1.7 -1zM102.5 -40.8l-0.7 2.3 0.7 0.8 1.2 -0.8zM108.5 -37.6l-1.2 1.1 1.2 0.7 1.4 -0.7 -0.1 -1zM110.5 -52.5l-0.9 1 0.9 2.1 0.5 -2.1zM83.5 -58l-0.7 2.5 -1.4 1 2.9 0 0.8 -2 -0.6 -1.3zM98.5 -45.1l-1.4 1.6 0.4 0.5 1 0.1 0.7 -1.6zM131.4 -60.5l2.1 0 -1 1.2zM62.3 -57.5l1.2 2.1 -1 -0.2zM105.4 -57.5l2.1 0.5 -1 2.3 -1.4 -0.8zM-119.8 -54.5l0.3 -1 1 0.4 0.6 1.6 1.8 1 -1.4 1.9zM59.1 -54.5l3.4 -0.8 0.6 1.8 -1.6 3.5zM64 -53.5l1.5 -0.5 1.6 0.5 -1.6 1.3 -1.1 -0.3zM124.4 -53.5l2.1 0 2.3 2 -0.4 1 -0.9 0.3 -1.8 -1.3zM-126.5 -52.5l1 -0.2 1.8 1.2 -0.8 1.6 -2.7 -1.6zM36.1 -52.5l1.4 -0.7 2.1 1.7 -1.1 0.5zM-98.2 -50.5l1.7 -0.4 0.3 1.4 -1.3 0zM67.2 -50.5l1.3 -1 2 2 -0.2 3 0.8 2 -0.6 0.5 -2 -1.5 -0.2 -2 -0.8 -0.8 -2 -0.2zM129.3 -49.5l1.2 -0.2 0.2 1.2 -1.2 2.3zM154.7 -49.5l1.1 0 0.7 1.1 -1 0.4 -0.9 -0.5zM-127.6 -48.5l0.6 1 -0.5 0.8 -1.7 0.2 0.2 -1zM43.2 -48.5l2.2 2 -0.9 0.8 -1.2 -0.8zM85 -47.5l0.5 -0.6 0.3 1.6 1.7 1.6 -1 1.6 -2.3 -1.2 -0.2 -1zM151.1 -47.5l1.4 -0.5 0.9 0.5 -0.9 1.2zM-137.6 -46.5l1.1 -0.3 4.8 3.3 0.2 3.1 1 -2 1 -0.1 1 3.2 1.8 0.8 -0.8 0.9 -1 -0.5 -1 0.7 -1 -1.2 -1 1.1 0.6 3 -3.6 4.7 -4 2.2 -4 -0.3 -3 -2.4 -0.2 -1.2 1.2 -4 2.2 -3 0.1 -3 1.3 -1 0.4 -2.2zM-4.7 -44.5l0.7 0 -0.4 1 1.9 1.6 1 0.3 1 -1 1 0.6 0.1 1.5 -1.1 1 -3 -1.2 -2 0.9 -2.5 -3.7 0.5 -0.6 2 1 0.9 -0.4zM29.5 -41.5l1.6 2 -1.6 0.2zM47.1 -41.5l2.8 1 -2.2 1 -0.6 1 1.4 1.8 2 -0.8 2 1.7 2 -2 1.7 1.3 -0.4 1 1.3 2 0.4 2.4 1 -0.3 2 1.7 4.1 0.2 1.8 4 -0.7 1 -3.2 2.1 -1 -0.1 -2 2.2 -3 0.2 -2 -1.4 -2 0.1 -0.5 -1.1 0.5 -1.1 2 0.7 2 -0.5 4 -3.1 1 1.1 1.4 -0.1 -1.4 -1.9 -3 -1.6 -4 2.7 -2 -0.4 -1 -3.2 4 0.9 -0.5 -2.5 1 -2 -0.5 -0.4 -2 1.2 -1 -0.1 -1 -1.3 -3 0.3 -4 1.7 -1.1 -1.4 1.1 -1.6 2 0.9 1.1 -1.3 -3.5 -3 3.3 -2zM86.9 -41.5l0.6 -0.9 1.7 1.9 -0.7 0.9 -3 -0.1 -3 1.4 -1.4 -0.2 3.4 -2.8zM-121.1 -40.5l1.6 0 2.1 2 -2.1 0.3 -1.9 -1.3zM3.7 -40.5l1 0 0.7 2 2.1 0.5 0 1.6 -1 0.7 -2 -1.7 -1 0.6 -4.2 -1.7 0.2 -0.9 1 0.7zM36.2 -40.5l2.7 0 -0.4 1 -2 -0.3zM52.3 -40.5l0.2 -0.5 0.9 0.5 0.1 2.6 -2.2 -0.6 2.1 -1zM61.3 -39.5l0.2 -0.6 1.1 0.6 0.1 1 -1.2 0.8 -0.7 -0.8zM77.5 -39.5l1 -0.3 1.5 1.3 0.3 1 -0.8 1.7 -1 0 -1.7 -1.7zM-14 -37.5l0.9 0 0.3 1 -1.5 2 2.8 1.9 0 1.2 -3 -1.9 0 1.9 -3.3 -1.1 3.1 -3zM-8.9 -37.5l2.4 -0.4 1.5 1.4 -0.5 0.7 -3 -0.4 -0.9 -0.3zM15.7 -37.5l2.8 -0.2 2 1.3 3 -0.9 4 2.6 2 -0.1 1 -2.3 0.9 0.6 -0.4 1 2 2 -1.5 0.2 -1 -0.8 -0.9 0.6 0 1 0.9 1.8 1.9 1.2 -4.9 0.1 -2.3 0.9 -1.4 2 1.7 0.4 1 -1.1 1.7 0.7 0.1 3 -0.7 1 0.9 1.3 0.7 -3.3 1.3 -1.2 0.9 0.2 0.5 1 -2.3 1 1.2 3 -0.3 1 6 -1.9 2 2.7 2.4 0.2 -1.4 5.3 -1.6 1.7 0.5 1 -2.9 0.2 -1 0.9 -5 -1.9 -4 0.7 -2 -0.9 -2 -2.2 -2 1.6 -4.3 -3.4 0.1 -2 -2.3 -1 1.6 -1 -0.1 -1.5 -1.9 0.5 -0.5 1 0.2 2 1.4 2 -2.5 1 -0.4 1 1.2 1 0.1 1 -3.8 0 1.8 -2 -0.6 -2.3 -2 2 -1 -1 -1 0.1 -1 1.2 -2 0.1 -1.7 -2.1 3.7 -1.4 2 0.8 1 -2.3 1 0 1.7 -2.1 -0.7 -1.3 -1 1.2 -2 -0.9 2 -3.4 1 -0.5 2 3 1 -0.2 0.2 -0.9 -0.4 -2 -1.8 -1.5 -1 -0.4 -5 0.3 -0.2 -1.4 -0.8 -0.5 -0.5 1.5 0.4 1 -0.9 0.5 -2 -0.7 -2 2.1 -2 -0.1 0.4 1.2 -1.4 1.1 -2.5 -3.1 -1.5 0.1 -0.9 1.9 2.2 5 -0.3 2.1 -2 -0.4 -3 -3.8 -1 1 0.5 -4.9 1.9 -2 -1.2 -2 3.8 -1.7 0.7 -2.3 2.3 -1 1 1.8 1 -0.7 1 0.7 1 -0.3 1 0.9 2 -0.2 -2.4 -2.2 2.4 -1.8 3 1.5 2 -0.7 1 0.4 1 2.5 2 -1.1 1.1 0.2 0.9 -2.3 1.7 -0.7 0.3 -1.4zM16.5 -36.1l-2 1.1 -1.1 3.5 1.9 1 -3.7 1 0 1 2.9 1.5 1.3 -1.5 -0.2 -2 3.9 -4zM22.5 -32l-1.2 1.5 0.2 0.8 1.2 -0.8zM4.5 -31.7l-0.5 1.2 0.5 0.5 3.8 -0.5zM18.5 -30.6l-0.8 1.1 1.5 2 -2.7 1.1 -1.6 2.9 0.6 0.9 2 -1 1.1 1.1 -1.6 3 2.5 -0.3 2 1.8 1 0 1 -1.7 1 -0.1 2.8 2.3 0.2 2.5 4 0.8 -3.7 -2.3 0.8 -2 -1.3 -2 0 -2 -1.8 -1.4 -3.4 -0.6 -1.7 -2 1.7 -2 -0.7 -1zM18.5 -16.6l-0.2 1.1 2.2 0.5 0 -1.7zM31.7 -37.5l0.8 -0.7 2 0.7 0.9 1 -0.2 1 -1.7 0.4zM37.1 -37.5l0.4 -0.6 0.6 0.6 -0.1 2 1.8 1 -0.3 1.4 -3.3 -2.4 -0.4 -1zM41.5 -37.5l2 -0.1 0 1.3 -1 0.8 -1.1 -1zM137 -37.5l1.4 0 -0.9 1.5 -1.6 -0.5zM-23.1 -33.5l1.6 -0.5 2.6 1.5 -1.1 4 1.3 4 -0.4 3 0.8 1 -1.2 0.2 -1 5 -4 -1.2 -2 -1.5 -0.7 -1.5 1.2 -11 1 -2zM81.4 -33.5l1.2 0 -0.1 1.6 -2.4 -0.6zM125.7 -33.5l0.8 -1 1 1 0 2 -1 1 -1 -0.3 -0.9 -1.7zM130.3 -33.5l0.9 1 -0.7 2.4 0 -1.4 -1 -1zM49.4 -32.5l2.1 0.4 0 1.3 -3 -0.7zM87 -32.5l1 0 -0.5 1.5 -1.5 -0.5zM39.8 -30.5l0.7 -0.6 1 0.2 -1.2 3.4 3.2 0.9 1 3.1 -1 0.9 -1 -0.6 -2 1 -1 1.3 -1.7 -0.6 -0.3 -0.9 -1 0.7 -1 -0.4 -2 -1.4 -1.1 -2 1.1 -0.5 1.4 0.5 1.6 2.4 0.6 -0.4 -1.3 -2 0.9 -1 -1.1 -3 0.9 -0.8 2 1.6zM122.7 -30.5l0.8 -0.5 1.1 0.5 -1.1 1.6 -1.2 -0.6zM-15.6 -29.5l1.1 -0.2 1.6 1.2 -1.6 2.2zM3.8 -25.5l1.7 -0.5 0.6 1.5 -0.6 0.9 -1.4 0.1 -0.6 -1zM47.2 -18.5l0.9 0 0.8 2 -2.1 3 -1.3 0.4 -0.6 -0.4 2.2 -3zM-205.3 -13.5l17.8 -0.6 10 0.8 10 -0.7 28 0.8 9 -0.7 8.8 1.4 1.3 3 -0.4 1 -1.7 0.9 -6 0.5 -45 -0.6 -28 0.8 -9 -0.7 -2.1 -1.9 0.4 -2 1.1 -1zM-114.7 -11.5l4.2 1 0.2 1 -1.2 -0.9 -4 0.8 -0.4 -0.9zM170.7 -11.5l6.8 -0.6 18 0.6 6 -0.3 9.1 1.3 1.4 1 0.5 2 -1.1 1 -3.9 1.3 -13 -0.6 -13 0.7 -9 -0.4 -5 -1.7 -0.6 -1.3 0.6 -2.1zM-94.8 -10.5l1.3 -0.5 0.5 0.5 1.5 3.5 1 -1.9 2.1 0.4 0.5 3 -1.6 3.4 -1 0.4 -2 -2 -2 1.5 -1 0.1 -1 -1.2 -0.7 -5.2zM118.2 -9.5l0.3 -0.5 2 1.5 2 0 0.8 1 0.5 3 -0.5 5 -3.3 1 0.8 2 -0.2 2 -2.1 0.9 -2 -1.1 -0.7 -3.8 1 -8zM128.9 -8.5l3.6 -0.9 5 0.4 2 1.1 0.2 2.4 -0.5 1 -3.7 1.3 -5 -0.5 -3.1 -2.8zM34.7 0.5l0.8 -0.6 1.4 0.6 -0.1 2 -1.7 0 -0.8 -1zM163 2.5l4.5 -0.9 4 0.2 3.1 1.7 -1.8 3 -2.3 0.9 -1 -0.7 -2 0.9 -4 -2.1 -1 0.5 -1.5 -0.5 -0.4 -1zM-52.3 4.5l4.8 0.3 3.7 2.7 0.4 1 -4.1 2.6 -2 -1.4 -2 1.1 -5.8 0.7 2.1 -3 -0.1 -3zM-103.8 8.5l3.3 -0.9 3 0.4 3 2 5 8.6 6 4.9 1.4 3 0.4 18 -0.8 1.1 -4.1 -2.1 -1.9 2.5 -1 3.5 -1 0.1 -3 2.3 -1 -0.4 -0.1 3 -1.4 2 2.4 3 2.1 0.5 0.8 -1.5 -1.8 -0.6 -0.1 -1.4 1.3 0 0.8 0.9 2 -2.4 2.6 0.5 0.6 -3 0.8 -1 1.2 0 1.4 5 -0.9 2 1.3 1.6 3.2 9.4 2.8 2.7 7 2.5 2.8 -1.2 -2.4 -3 0.3 -3 2.3 -0.9 2 -2.2 0.4 -3.9 1.3 -1 0 -4 4.3 -0.8 0.7 0.8 -1.3 1 0.2 3 3.7 1 0.7 3.2 4 -2.1 0.7 -2.1 -0.7 -2.4 -2 -0.7 -1 1 -3.7 -3.9 0.8 -1 -0.7 -4 1.6 -1.5 2 1.7 2 -0.1 2 5 4 0.3 0.9 0.6 1.1 1.9 2.8 2.1 1.2 3.9 1 0.5 1 -0.8 2 3.4 3 -0.7 0.7 0.7 -0.8 1 0.1 1.1 1.1 -0.1 4.4 -3 1.5 -2.4 2 0.5 1.9 -1.1 2.1 0.5 1 -0.4 0 -1.1 1 -0.7 2 0.8 6 -3.1 2 1 0.2 3 -2.2 -0.4 -1 1.4 0.2 4 -0.7 1 0.5 0.2 2 -0.6 2 0.6 1 -3.1 3 -1.6 3 0.1 4 1.3 3 -1.2 1.1 -1.7 -0.2 -3 -3.9 -1.7 -2.2 -2.3 -0.8 -4.5 -2 -0.9 -3 0.4 -1 -0.9 -3 6.4 -1 0.2 -1 -1.5 0.5 -2.2 -0.9 -3 1.9 -3 2 -1 2.5 -2.6 3 -1.5 2 0.5 1.6 3.6 4.2 3 1.2 0.6 2 -1 2.2 1.4 0.8 3 1 0.9 2 -0.8 0.5 -2.1 1.5 -1.7 3 0.8 1.7 1.9 0 2 1.3 1 1 -0.7 0.3 0.7 -1.3 0.6 -1 1.7 -2 -0.3 -2.4 1 1.3 5 3.1 -0.5 2 2.4 5 0.9 2.3 -0.8 1.7 3.6 1 -0.4 3 1.8 3 -1.5 3 0.6 1 -1.3 1 0.7 2 -0.2 2.6 -3.3 -0.4 -1 0.7 -1 1.1 0.1 1 -0.9 0 -1.2 1 -1 3 0.3 1 1.5 7.3 -1.8 3 -2 4.7 -5.9 3.3 4.9 -1.8 4 0.5 1.8 3 2.5 7 2.3 1 -0.2 1 -1.6 1.3 0.2 2.2 -3 -3.2 -2 -0.4 -3 1.1 -3.4 0.5 1.4 1.5 0.6 2 2.4 1 -1.3 3 -1.4 2 -3.5 5 0.3 0.6 1.9 -0.8 6 0.6 7 0.3 1 1.3 0.5 1 -1.7 3 1 1.5 -4.8 -1.3 -1 1.6 -3 3.2 -3.1 2 -0.1 0.2 -1.8 1.8 -1.4 1 0.4 1 1.8 3 -0.1 0.8 2.3 -0.8 1.7 -4 -1.9 -1.4 0.2 0.4 3.1 1 -1.5 1.7 0.4 -1.8 3 -1.5 1 0 1 1 2 2.6 2.6 2 0.1 1 1.4 3.2 -1.1 1.8 -1.7 1 0.1 0.1 -1.4 0.9 -0.8 2 0 1 1.9 2.4 -0.1 0 1 0.6 0.1 0.1 -2.1 0.9 -0.9 4 0.6 1.3 -0.7 0.8 -1 -0.2 -2 1.1 -0.9 3 2.6 3 0.6 5 -1.4 1 -2 3 0.5 2 -6.6 9 -4.3 4.4 1.5 -0.3 1 0.9 1.3 1 -0.8 1 0.6 2 -1.1 0 -2 2 -3.5 5 0.7 0.5 1.8 -0.5 2 0.7 2 -6.3 4 -2.4 0.4 -3 2.3 -2.2 -0.7 -1.6 -2 -1.2 -0.3 -1.2 1.3 -0.1 2 3.3 1 1 -0.5 3 2.2 3 -1.1 2 -1.7 7 -3.7 2 0.1 0.9 1.7 -0.7 2 -12.2 12.5 -1 0 -5 5.1 -1 0 -7 6 -4 1.9 -8 5.8 -3 1 -2 2 -3 0.9 -5 2.9 -2 -0.4 -2 1 -1 -1.7 5.4 -3 0.6 -1 -1 -0.9 -3 -0.6 -4 -1.9 -3 -0.2 -3 -1.9 -2 0.2 -2 1.4 -1.4 -2.1 -1.6 -0.4 -1.5 0.4 0.5 1.4 -2 -1.5 -4 0.1 3 0.5 0 1.5 -2 -0.8 -3 0.1 -1 -1.4 -4 0.7 -9 -1.7 -5 0.8 -8 -0.3 -6 1.4 -2 -0.6 -9 0.5 -4 2.1 -2 -0.3 -3 -1.8 -8 -0.5 -2 -1 -6 0.5 -7 2.4 -4 0.6 -5 -1.7 -1 -1.7 -5 4 -4.5 -0.3 -5.5 -2.2 -4 2.2 -8 0.6 -4 0.9 -3 -0.3 -2 0.9 -2 -0.1 -6 -3.8 -2 -0.4 -6 3.6 -4 -1.6 -2 0.3 -2 -2.3 -2 -0.2 -1.4 0.4 -0.6 1.2 -2.1 -1.2 -0.4 1 -3.5 2.5 -2 -0.7 -5 0.9 -4 -1.7 -2.7 0 2.2 -3 0.2 -1 -0.7 -1.2 -3.4 1.2 -1.6 2.4 -1 -0.4 -1 0.6 -0.5 1.4 -4.5 2.6 -9 0.7 -0.8 0.7 1.3 1 -0.5 0.6 -1.1 -0.6 -0.2 -2 -1.7 -2.3 -5 0.6 -2 1.2 -9 -0.1 -5 -4.4 -1.8 0 -1.2 -1.3 -2.1 0.3 -1.2 1 -0.7 2.1 -2 1 -7 -0.7 -3 1.3 -2 1.9 -2 -1.6 -1 -2.7 -0.8 0.7 0.3 3 1.2 2 -0.7 3 -2 0.2 -1 0.9 -2.5 -0.1 -1 -2 0.3 -4 1.7 0 -0.5 -3.1 -3 2 -2 -0.8 -2 0.1 -4 1.6 0.5 3.2 -0.5 1.5 -1.6 -1.5 0 -3 -1.4 -1 -3 0.8 -4 -1.8 -4 0.2 -5 -3.9 -1 0.1 -5 -3.8 -1 -0.1 -7 -6.1 -1 0.1 -5 -5.1 -1 0 -10 -10.4 -3.2 -6 -2 -2 3.2 -2.7 4 -0.5 4 -3.1 2 -0.5 0.1 -3.2 0.9 -0.6 3 0.4 3.2 3.2 -1.1 3 0.9 0.3 1 -1 6.2 0.7 0.8 3 1.7 2 -2.7 0.7 0.1 1.3 2.3 2 1.6 3.3 3 3.1 1 -0.8 1 0.4 0.2 -2 -1.4 -1 -2 -4 0.5 -2 -0.7 -1 0.2 -2 -0.8 -2 1 -0.9 3 1.3 1 1.8 1 0.4 1 -0.9 2.4 1.3 -0.6 1 1 3 -0.9 1 1.3 1 -1.2 0.9 -0.6 2.1 2.6 1.1 1 1.6 1 0 3 -2.5 2 0.5 0.5 -0.7 -1.5 -3.7 -2 -0.5 -0.5 -0.8 0.8 -1 -0.3 -1.4 -2 0.6 -2 2.3 -0.9 -0.5 1.7 -2 -0.6 -2 -1.3 -1 3.4 -1 -1.3 -0.4 0 -2.6 1 0.2 2 -1.4 1 0.1 -0.7 2.1 -1.3 1.2 4 -0.1 1 -1.2 1 0.6 5.6 -0.5 -0.3 3 1.7 2.4 0.8 3.6 1.2 1.4 2 0.4 3 -2.2 4.7 0.4 0.1 1 -0.8 0.6 -3 -1.3 -2.8 2.7 0.9 3 1.9 1.9 7 0.2 -0.8 -3.1 0.6 -2 2.2 0.2 2 -1.4 1.5 1.2 0.3 1 -1.1 2 0.3 1.3 1 0.1 0.9 -1.4 -0.6 -2 0.7 -0.6 2 0.9 1.1 -0.3 -0.7 -3 0.7 -1 -1.4 -3 0.7 -2 -0.7 -2 1.8 -1 0.5 -4.4 4 1 5 -1.6 0.6 -1 -0.7 -2 -5.9 -3.2 -1 0.1 -1 1.5 -3 0.4 -3 0.1 -1 -1.1 -3.3 -0.8 -0.8 -2 0.7 -2 1.4 -0.4 1.7 -2.6 2.6 -2 -0.2 -2 0.9 -0.8 1 0.6 1.4 -0.8 -1.4 -1.3 -1 0.9 -1 -0.1 -0.6 -3.5 -2.7 -2 -2.2 -5 1 -3 2.5 -2.2 6 -2.8 3 1.1 1 -0.9 2 -0.3zM-61.5 69.4l1 0.6 1.5 -0.5 -1.5 -0.7zM72.5 65.2l-1.6 1.3 0.6 0.6 1.7 -0.6zM118.5 60.1l-0.8 0.4 -0.2 1.4 1 0zM176.5 55.2l-0.5 2.3 1.5 1 1.1 -1 -0.2 -1zM-157.5 60.4l-0.6 1.1 0.6 2.1zM-103.5 57.1l-2 2 -2.2 0.4 0 1 1.2 1.4 3 -0.9 1 1.9 3 -1.7 2 0.6 1 -1.3 -1 -1.4 -2 0.1 -1 -0.9 -0.5 0.2 0.5 2.5 -2 -1 -0.8 -1.5 0.9 -1zM9 9.5l4.3 1 2.1 4 -1.5 8 0.9 10 -2.3 1.3 -2.5 3.7 -3.5 3.1 -1.4 -1.1 0.6 -5 -0.4 -1 -1.6 -2 -0.2 -1.4 -2.8 -2.6 1 -2 -1 -1 -0.3 -5 0.6 -3 2.2 -4zM148.9 24.5l1.6 -1 1.3 1 -1.4 2 0.8 1 -0.3 1 2.3 1 -0.3 2 0.6 1.7 0.5 -3.7 -0.6 -3 2.1 -1.4 0.7 0.4 -0.7 2.3 3 -2.3 0.7 1 -1.4 1 -0.3 2.2 1.4 -0.2 -0.1 1 0.7 0.3 4 -0.4 1.3 2.1 3 2 0.4 2 -0.7 0.8 -2 -0.8 0.3 -1 -1.3 -1.2 -1.6 1.2 -2.4 0.4 -1 -0.7 -0.7 0.3 1.7 2.4 -2 0.7 -4 -2.1 -1.5 1 0.1 1 1.7 1 -0.3 1 -3 -0.4 -0.8 0.4 -0.2 1.2 -1 -2.1 -1 1.4 -1 -0.5 0.5 -1 -0.8 -1 0.3 -1 -1.5 -2 -3.2 -1 2 -2 -0.1 -1 1.8 -0.5 1.6 -1.5 -2.1 -2 0.5 -1.5zM156.5 33.4l-0.6 1.1 1.6 1.4 0.8 -0.4 -0.8 -1.8zM148.5 30.9l-2.7 1.6 2.7 3.4 1.8 -1.4 0.7 -2 -0.5 -1.2zM150.5 37.3l-0.4 1.2 1.4 0.4 0.6 -1.4 -0.6 -0.5zM161.7 24.5l0.8 -0.6 0.2 0.6 -0.8 3 -1.4 1.9 -0.5 -0.9 1.4 -2zM161.5 38.5l1.4 0 0.3 1 -1.7 0.6zM166.5 38.5l0.6 1 -0.6 2.3 -1.1 -1.3zM-23.7 42.5l1.2 -0.7 3 -0.1 0.6 0.8 -1.6 4.1 -4 1 -2.2 -2.1 -0.1 -1 2.3 -0.2zM146.3 44.5l4.2 0.3 3.6 3.7 -0.6 2.7 -2 1.8 -5 1.1 -3 1.8 -1 -1.1 -2 0.3 -2 -1.6 -1.1 -2 0.7 -4 2.4 0.2zM-123.7 47.5l0.2 -0.7 1 0.8 0.9 1.9 0.1 1 -1.5 2 1.2 1 -2.7 1.6 -2.6 -1.6 0.7 -1 -1.2 -1 2.1 -2.9zM28.5 54.5l1.7 1 -0.7 1.2 -1 -0.2zM139.3 58.5l1.2 -0.6 0.7 0.6 -2.7 4.7 -1.3 -0.7 0.3 -3.4 1 0.6zM-5.1 93.5l0.6 -0.7 6 0.5 0.9 1.2 -2.9 1.5 -1 1.5 -1 -2.6 -2 -0.3zM76.3 94.5l1.2 -0.8 0.2 0.8 -1.2 1.6zM31 95.5l1.1 0 -0.6 1.4 -1.4 -0.4zM61.2 95.5l1.3 -0.2 2 1.2 -2 0.8zM109.8 95.5l1.7 -0.6 0.4 0.6 -0.7 2 2.3 0 3 3 1 0 1 -2 -0.2 -2 1.2 -0.8 1 -0.4 2 1.3 1 -0.9 2 0 0.8 0.8 -1.8 3.6 -1 0 -1 -2.3 -2.1 0.7 -0.6 1 0.7 2.6 2 0.2 1 1 0 2.2 -6 -1.8 -2 1.8 1.8 1 0 1 -3.8 0.8 -1 -3.2 -1 -0.8 -1 1.8 -0.5 -1.6 -2 -1 -0.1 -2 1.6 -0.6 0 -1 -2 -1.1 -2 2.2 -2.1 -1.5 1.1 -1.7 1.9 -0.3 0.1 -1.1 0.5 0.1 -0.4 1 1.9 0.5zM112.5 100.8l-1.3 1.7 1.3 0.2 1.2 -1.2zM55 96.5l0.5 -0.7 1 0.5 -0.1 1.2 -0.9 0.5 -0.8 -0.5zM-68.7 97.5l1.2 -0.4 3 2.8 0 2.7 -3 -2.2 -1 0.8 -1.4 -0.7 1.2 -1zM-59.8 97.5l0.3 -0.7 1 0.2 1.6 4.5 2.4 1.8 1 -1.2 0.9 0.4 0.3 2 3.8 -1.1 1 0.9 3 -1.4 2 0.6 0.2 1 -2.2 0.9 -2 -0.3 0.7 2.4 -3.7 1.2 -9 -0.8 -1 -1.5 3.3 -0.9 -1.3 -1.7 -4 2.7 -1 -0.1 -0.7 -0.9 0.6 -2 3.4 -2 0.5 -2zM86.1 97.5l2.4 -0.5 0.6 0.5 -0.9 1 3 1 -4.7 1.5 -1 -1.2 -3 0.5 -1.2 -0.8 0.2 -1.4 3 1.2 1.6 -0.8zM97 97.5l1.7 0 -0.2 1.3 -1 0.1zM-92 98.5l0.5 -0.9 1.4 2.9 -1.4 0.8 -1.1 -0.8zM-1 98.5l1.1 0 -0.6 3.7 -3 0.4 -1 0.7 -3.3 -1.8 1.3 -1.5 2 0.3zM-74.4 100.5l0.9 -0.7 2.9 0.7 -2.9 1.6 -1.1 -0.6zM63.5 100.5l3 1 0.8 5 -0.8 0.7 -1 -0.5 -0.3 -1.2 1.2 -2 -1.9 -1.6 -1 0.4zM21.4 101.5l1.3 1 0.4 1 -0.8 1 1.2 1.4 1 -2.3 2 -1.4 1 0.3 -0.7 1 2.6 4 -0.9 0.6 -10 0.5 -2 -1.2 -1 1.1 -2.2 -1 -1.5 -2 -0.1 -1 0.8 -0.7 1 0.8 3.4 -1.1 2.6 4.2 1 0.1 -1.4 -3.3zM33.3 101.5l1.2 -0.9 1 0.9 -3 2.1 -0.3 -1.1zM75.8 101.5l0.7 -0.5 4 1.1 0.4 0.4 -0.7 2 0.9 1 -3.6 2.3 -4 -2.3 -0.5 1 0.5 0.6 1.6 0.4 -0.5 1 -2.7 0 -0.1 -2 0.7 -1 3 -0.1 1 -1.1 0.4 -0.8zM85.3 101.5l1.2 0.2 0.3 0.8 -1.3 0.9zM95.5 101.5l1 0 0.9 2 -1.6 0zM57.6 102.5l0.9 -1 1 1 -1 1.3zM101.9 102.5l1.6 -0.3 1 0.7 0.3 1.6 -1.3 1.6zM-67.2 103.5l1.7 -0.7 0.5 0.7 -0.4 3 0.9 1.5 1.9 0.5 -3.9 0.1 -2 -0.8 -2.4 0.7 -1.6 -4zM35 103.5l5.5 0 0 2.7 -1 -2.1 -1 -0.2 -1.5 2.6 1.4 1 -0.9 0.7 -2 -1.2 -1 0.5 0.4 1 -1.4 0 -0.8 -1 0.4 -2zM-39.9 104.5l1.4 -1 0.8 4 -0.4 1 -2.2 0zM98.6 104.5l0.9 -0.5 0.8 0.5 -1.8 3 -1 0.5 -0.3 -1.5zM-20.8 105.5l1.3 -0.5 1 1.1 1 -0.3 2.8 1.7 -1.8 0.8 -3 -0.1 -1.4 -0.7zM-6.5 105.5l1 -0.8 2 1.8 0.1 1 -1.1 0zM8.9 105.5l1.5 0 -0.5 2 -2.3 0 -0.5 -1zM56.1 105.5l0.4 -0.9 1 -0.1 3 0.7 0.4 1.3 -0.4 1 -2 0.5 -2.8 -1.5zM84.3 105.5l1.2 -0.5 1.8 1.5 -2 2 -3.2 0 0.4 -1.6z"/><path fill="#e48066" d="M68.2 -62.5l1.9 1 -0.6 0.7 -2 -0.6zM72.4 -62.5l1.1 -0.2 1.6 1.2 -0.6 1.6 -1.2 -0.6zM79.6 -59.5l0.9 -0.4 0.1 1.4 1.8 1 0.1 1.1 -2 0.3zM88.3 -59.5l1.2 -0.6 -0.3 1.6 -1.4 1 -1.7 0zM71.2 -57.5l0.3 -0.7 1 0.3 1 1.4 -1 1.9 -1.8 -0.9zM93.7 -57.5l0.8 -0.8 1 0.5 0 1.1 -1 0.4zM78 -54.5l0.5 -0.5 5 1.8 1.5 1.7 -2.5 4.7 -3 0.7 -0.4 -2.4 -1.7 -1zM110.4 -54.5l0.1 -0.9 3.9 0.9 -1.5 2 1.9 2 -0.7 2 1.5 2 -1 1 1.9 1.1 2 2.8 1 -1.6 1.6 0.7 -0.6 1.3 -4 0.3 -3 -2.7 -1 0.1 -0.5 1 0.5 0.8 3.6 2.2 0.3 2 -1.9 2.5 -2 -0.3 0.6 -1.2 -1.1 -2 0.5 -1 -1 -0.5 -1 2.3 -3 -0.2 -0.9 -0.6 -0.1 -1.2 -1 0.2 -1 1 1.8 2 -0.8 0.9 -1.2 -0.9 -0.5 -4 -1.2 -1 0.9 -0.8 2 0.7 2 -0.7 1 1.2 1.7 -2.4 -0.7 -0.6 -2 1.5 -1 -1 -2 1 -3 -0.2 -1 2.9 -2.2 -1.6 1.9 -3 -2.7 -1.3 -1 2.2 -1.4 -1.9 4.4 -3.1 1.5 0.1 2.5 -1.7 -0.2 2.7 1.2 0.2 2.5 -2.2 0.5 -2.5 1 -0.7 0.7 2.2 -0.6 1 3.9 4 1.1 -1 -2.9 -2 1.3 -2 0.3 -2zM101.5 -45.6l-0.9 0.1 1.9 1 1 -1 -1 -0.7zM102 -53.5l2.6 1 -1.1 1.9 -1 -0.2 -1.3 -1.7zM88.4 -50.5l0.4 2 -1.9 0zM66.8 -49.5l1.7 -0.8 1.4 0.8 -1.4 1.1zM96.3 -49.5l0.4 1 -2.3 1 -0.6 1 -0.4 1 0.5 1 -0.7 1 -1 0 -0.7 -1.2 -1 1.3 -1.5 -3.1zM-136.5 -43.5l2 -0.8 1.5 0.8 1.6 4 -0.5 2 0.6 2 -1 2 -3.1 3 -3.1 0.8 -4 -1.6 -0.4 -3.2zM124.1 -43.5l1.4 0 0.4 1 -1.4 1zM96.1 -42.5l0.4 -0.9 0.5 1.9 -0.5 3.1 -1 1.1 -0.8 -0.2 1.3 -1 -1.1 -2zM23.4 -36.5l2 2 -1.3 3 -0.6 0.5 -0.6 -1.5 -1.4 -0.3 -1 2.3 -2.8 -1 1.9 -2 0.3 -2zM49.2 -35.5l1.3 -0.8 0.9 0.8 -2.9 1zM0.7 -34.5l0.8 -0.5 2.6 1.5 -0.3 1 -1.3 0.7 -1 -0.5 -1.6 -1.2zM27.2 -32.5l1.3 -0.8 1.1 2.8 -4.1 1.5 -0.7 -0.5 0.1 -1zM-22.9 -31.5l2.2 0 1.5 7 -1.7 5 0.3 1 -0.9 1.2 -2 -0.5 -1.9 -1.7 0.7 -10zM-7.6 -31.5l2.1 -0.9 2 3.4 2 -0.4 0.9 1.9 -0.6 2 -1.3 0.1 -1 -1 -1 2.4 -3.4 -2.5zM-6.5 -29.8l-0.7 0.3 0.1 2 1.6 0.5 0.3 -1.5zM9.1 -31.5l1.4 -0.8 2.6 1.8 -2.6 0.3 -1 1.7 -1 -0.4 -3 1.1 -0.3 -1.7 3.3 -0.2zM1.5 -30.5l1 -0.6 0.7 0.6 0.3 1 -1 1.8 -1.9 -1.8zM16.3 -30.5l1.1 0 -0.7 1 1.8 2 -1 0.6 -1.6 -0.6zM10.7 -27.5l0.8 -0.6 3.5 2.6 0 1 -1.5 1.7 -1 -3.5zM62.3 -27.5l1.2 -0.7 0.9 1.7 -0.9 0.2zM26.5 -26.5l1.3 1 -0.3 1.9 -2.3 -0.9 -0.3 -1zM57.3 -22.5l2.3 1 -1.1 0.5zM-11.2 -20.5l0.7 -1 1 0.2 1.4 2.8 -0.4 0.6 -2.7 -1.6zM32.3 -19.5l1.2 -0.6 1.9 0.6 -1.1 1 1.2 0.7 0.2 -1.7 0.8 -0.5 0.5 0.5 0.7 1 -0.2 1.9 1 -0.9 1 0.4 0.1 1.6 -1.1 2 -3 1.5 -0.5 -2.5 -2.5 0.1 -3.9 -2.1 0.9 -2.6 1 0.7zM14.6 -18.5l4.9 -0.5 1.7 1.5 -2.7 0.2 -2 1.7 -0.9 -0.9 0.4 -1 -0.5 -0.8zM23.4 -18.5l1.1 -0.4 2 1.1 0.1 2.3 0.9 0.9 4.9 2.1 -0.9 1.3 -2 -0.8 -4 0.8 -2 -1 -1.3 -1.3 -0.9 -3 0.2 -0.8 2 0.8 0.9 -1zM2.1 -15.5l2.4 0 0 1 -2 0.4zM17.6 -14.5l2.1 0 1 1 -1.2 1zM-205.5 -12.5l14 -0.8 10 0.7 13 -0.6 28 0.6 10 -0.5 4 0.6 4.1 3 -1.1 0.9 -5 0.8 -36 -0.5 -37 0.8 -8.3 -1 -0.7 -1 0.8 -2zM170.2 -10.5l8.3 -1 17 0.8 7 -0.4 7.3 1.6 0.6 2 -1.1 1 -2.8 0.6 -33 -0.2 -3.8 -1.4 -1.1 -2zM-95.3 -9.5l1.8 -0.7 2 4.4 1 -1.8 1.4 0.1 0.2 3 -0.6 1.3 -1 0.4 -2 -1.6 -2 1.6 -1 -0.3 -1 -3.4zM131.3 -8.5l3.2 -0.2 4 0.9 0.4 2.3 -4.4 1.3 -4 -0.6 -1.7 -1.7zM119.1 -7.5l2.4 -0.1 1 0.8 0.4 4.3 -1.1 3 -2.3 0.3 0.7 3.7 -1.7 1 -1.4 -1 -0.5 -3 0.9 -3 0 -4zM35 0.5l1.5 0 0 1.8 -1 0.2 -0.9 -1zM166.7 2.5l4.8 0 1.3 1 -0.1 1 -1.2 1.4 -1 -0.3 -3 1 -2.2 -2.1 0.2 -1zM-51.8 5.5l4.3 -0.1 1.4 1.1 0 2 -1.4 1.3 -2 -0.9 -3 1 -1.2 -0.4 0.7 -3zM-100.2 10.5l3.7 -0.8 2 0.9 5 8.4 5.7 4.5 1.5 3 0.4 7 -0.6 9.1 -4 -2.1 -4 5 -2 1.3 -3 -0.6 -5 -6.7 -4 -2.9 -0.9 -1.1 -0.4 -3 -2.3 -3 -0.1 -2 -1.1 -1 -0.4 -2 -1.9 -1 -2 -3 -2.9 -0.5 -1 -1.5 0.3 -1 1.7 -0.4 2 -3.4 2 1.3 3 -2.5 4 0.2zM8.8 11.5l2.7 -0.4 3 3.7 -1 11.9 -0.8 1.8 -2.2 1.4 -4 0 -4.3 -11.4 2 -4 2.3 -2.1zM155 29.5l0.5 -0.5 1.4 1.5 -1.4 2.4zM160.5 31.5l2 0 0.9 1 -0.1 2 -1.8 0.4 -3 -1.4zM154.9 35.5l0.6 -0.6 1.5 1.6 -1.5 0.3zM147.1 46.5l1.4 0.3 1.4 1.7 -2.4 2.6 -2 -0.2 -1.9 -2.4zM-188.7 55.5l4.2 -0.1 2 3.1 0.3 1 -1.1 3 -1.2 1 -2 0.6 -1.6 -1.6 -0.3 -2 -0.9 -1zM-170.7 63.5l0.2 2 1 0.4 0.8 1.6 -1.8 1.7 -2 -1.1 -0.6 1.4 1.6 2.2 0.8 2.8 1.2 0.6 2 -0.1 1 -1.2 1 0.3 4 -2.1 4 4.5 1 0.3 2 -2 2 0.1 6 -3.6 2.8 0.2 1.2 -2.1 0.8 0.1 -0.5 1 0.7 0.6 3 -1.8 -0.2 2.2 1.2 1.1 3 -0.4 3 1.4 4 0.1 1 0.9 3 -0.3 0.8 0.2 0.2 1.1 1 0 2 -2.2 1 0.6 5 -0.9 2 1.1 2 -2.4 2.2 1.7 -0.7 4 0.8 1 2.7 0.5 3.1 -0.5 1.9 -1.4 1.6 0.4 0.4 -2 -1 -1.1 3 0.1 3 -1 1.2 -1 -1.2 -1 1 -0.1 0.4 -2.9 1.6 -1 0.9 1 -0.2 1 3.3 2.9 2 -0.5 2.6 2.6 3.4 1.4 3 -0.3 4 1.4 2 -0.5 3 -2.3 0.5 -0.7 -1.3 -3 2.8 -1.2 3 1.3 2.2 -1.1 0.8 -1.5 5 -0.5 5 1.3 2 -1 1 0.8 4 -0.3 6 1.3 4 0.1 3.6 -1.2 1.4 -1.9 6 -1.9 3.6 0.8 1.2 3 2.8 1 6.4 0.2 3 -1.2 2 0.4 5 -0.7 11 1.7 5.2 -1.4 1.8 -2 3 2.3 5 -0.4 8 1.6 15 -1.3 8 1.7 6.5 3.1 3.5 0.1 2 0.8 4.7 -1.9 1.3 -3.6 1 2.2 5 0.1 8 -3.9 5 3.6 2 0.6 2 -0.8 3 2 3.3 -0.2 7.7 -5.1 1 0 3 3.9 16 2.5 4 -0.6 6 -5.1 3 1.2 1 1.2 1 0.4 1 -0.5 2 2.6 2.3 -1.5 -0.3 -2 2 -2.8 2 -0.3 3.9 2.1 1.1 1.4 3 -1.5 2 0.5 3 -0.4 2 -1.4 1 -0.1 3 1.8 2 -1.2 0.6 2.9 -7.6 7.4 -1 0 -7 6 -4 1.7 -4 2.9 -3 -0.2 -4 1 -2 3.6 -1 -1.5 -4 1.1 -5 -1 -5 -3 -3 0.1 -3 -1.4 -4 0.1 -7 -1.6 -7 1.1 -2.7 -0.3 -5.3 -2.2 -3 0.3 -1.3 -2.1 -1.7 -1 -4 -0.2 -2 1.2 -0.8 2 3.9 1 -5.1 0.5 -3 -0.9 -2 1.2 -7 0.4 -1.1 -0.2 1.1 -2 -1 -2.6 -4 0.6 -4 3.4 -2 0.1 -2 -2.5 -3 -1 -1.7 0 -2.3 1.8 -2 -1.7 -4 1.2 -2 -0.2 -1 -0.3 -2 -2.4 -3 -0.6 -4 0.2 -2.7 3 -1.3 2.7 -2 0.1 -2 -2.8 -3 -2.1 -5 -1.4 -0.8 1.5 -1.9 1 -1.6 5 -1.7 0.6 -1.5 -0.6 -1.6 -3 1.1 -0.7 2 2.3 1.9 -0.6 -3.9 -3.1 -0.4 -1.9 -4.6 0.7 -1 1.4 -3 -1.1 -2 1.2 -2 -0.2 1 0.3 0.2 1.7 1.7 3 -1.4 2 -6.5 1.1 -4 -0.8 -2 0.4 -1 -0.8 0 -2.2 -1 -0.5 -2 0.6 -4 -2.7 -2 1.2 -1 -0.3 -1 -1.6 -2 -0.4 -1 -0.9 -2 1.5 -1 -1.1 -4 0.8 -3 -0.6 -1 -1.7 -1 0.3 -2 -1.5 -5 1.5 -1.1 4.7 -1.9 2.5 -5 0.6 -3 -1.1 1.3 -4 -1.3 -0.4 -6 1.9 -8.2 0.5 1.6 2 -0.4 0.6 -3 -1.6 -1 1.7 -1 -1.2 -1 0.4 -2 -2.2 -2 0.5 -6 -0.5 -2.5 0.3 -1.5 1.6 -2 -1 -1 1.7 -2.3 -1.3 -0.7 1.7 -1.7 -0.7 1.5 -1 -0.8 -1 -9 -1.5 -5 0.9 -4 3 -1 -1.2 -1 0.3 -2.6 -1.5 -5.4 -0.9 -6 1.2 -3 -0.2 -2 1 -2 -0.1 -3 2.1 -4 -0.7 -2 1.2 -2 -1.1 -3 -0.6 -3 -2.2 -9 0.3 -2 -0.9 -2 -1.8 -1 -0.1 -3 -3.1 -1 0 -3 -3 -1 0 -5.3 -5.1 -0.1 -1 1.8 -2 -0.4 -2 1 -1 3 -2.3 2 0.4zM117.5 82.4l-2.2 2.1 2.2 -0.5zM134.5 82.3l-1.1 1.2 1.1 0.8 0.9 -1.8z"/><path fill="#c94741" d="M78.4 -53.5l1.1 -0.5 1 1.1 3.1 0.4 0.1 2 -1.2 2.1 -4.1 -1.1 -0.6 -2zM106.5 -48.5l1.5 1 -0.5 1 3 0.2 0.9 0.8 -0.3 1 -1.6 -0.3 -2 1.2 -3 0.5 -1.4 -0.4 1.3 -2 -0.2 -1 1.3 0.2 -0.1 -1.2zM99 -47.5l2.5 -0.6 0.7 1.6 -2.7 1 -1.8 -1zM90.2 -46.5l3 0 -0.7 1.2 -1 -0.9 -1 1.4 -0.9 -0.7zM99.4 -43.5l1.9 0 -0.8 2.2 -1 0.3 -0.5 -0.5zM114.7 -43.5l1.8 -0.1 0.5 1.1 -0.5 0.6 -1 -0.3zM110.5 -42.5l1.2 1 -1.2 3.2 -1 -0.9 -2 0.8 -1 -2 -2 0.3 0 -0.8 1 0.2 1 -0.9 3 1.6zM-134.7 -41.5l1.2 -0.7 1 1.5 0.4 5.2 -1.4 1.9 -3 1.7 -1 -0.5 -0.8 -2.1 0 -2 0.8 -2.2zM113.5 -39.5l2 0.3 0 1.7 -1 0.2 -1 -0.9zM20.7 -35.5l2.8 -0.2 1.3 2.2 -1.3 1 -2 -1.2 -0.9 0.2 0.3 2 -1.4 0.5 -1.1 -0.5 2.1 -2zM1.1 -34.5l2.2 1 -0.5 1 -2.3 -1zM-4.7 -29.5l1 2 -0.8 2.1zM1.2 -29.5l1.3 -1 0.6 1 -0.6 0.9zM-2.9 -28.5l1.5 0 0.5 2 -0.6 0.7 -1.6 -0.7zM-22 -26.5l0.5 -0.8 1.6 2.8 -0.5 3 -2.1 1.4 -0.7 -2.4zM25.3 -17.5l1.2 1 -1.3 2 0.3 0.6 1 -0.8 2.4 1.2 0.1 1 -4.5 0.5 -1.8 -1.5 -0.2 -1.6zM29.5 -17.5l2 -0.6 2 1.7 3 -0.9 1.1 2.8 -7.1 -1.3 -1.2 -0.7zM-193.7 -12.5l6.2 -0.1 10 1.4 8 -1.3 14 0.9 4 -0.7 11 0.7 9 -0.7 3.9 0.8 0.3 2 -3.2 0.9 -23 -0.2 -10 -0.8 -3 0.8 -8 -0.4 -17 1.1 -10 -0.2 -2.3 -1.2 -0.7 -2zM175.7 -10.5l12.8 -0.1 5 1.6 9 -1.5 4.5 1 1.2 2 -2.7 0.8 -5 -0.2 -6.4 -0.6 -0.6 -0.7 -1.3 0.7 -8.7 1.1 -7 -0.4 -3 -0.3 -1.8 -1.4 0 -1 0.8 -0.5zM-94.6 -9.5l1.1 -0.1 0.7 1.1 0.3 3 -2 2.2 -1.4 -2.2 0.1 -2zM131.3 -7.5l3.2 -0.5 3 0.5 1 1 -1 1.1 -5 0.1 -2 -1.2zM-90.6 -6.5l1 0 0.1 1.3 -1 1.6 -0.9 -0.9zM118.5 -5.5l3 -0.6 0.7 3.6 -0.7 1.6 -2 0.3 -0.9 -0.9zM117.6 1.5l0.9 -0.5 0.9 3.5 -0.9 0.1 -1 -1zM168.3 3.5l0.9 1 -0.3 1 -1.4 0.3 -0.8 -1.3zM-96 11.5l1.5 0.3 5 7.5 6 4.8 1.1 3.4 -0.2 10 -0.9 1.2 -3 0 -1.6 0.8 -3.4 3.8 -3.7 -0.8 -3.3 -3 -4 -5.3 -0.2 -1.7 -2 -4 -2 -2 0.3 -1 -1.7 -2 -0.5 -2 0.2 -4 1.1 -1 2.8 -1.2 3 0.3 5 -2.9zM8.5 13.5l2 -0.7 1 0.4 2.4 4.3 -0.9 7 -1.5 1.8 -1 0.2 -2 -0.2 -0.7 -0.8 -1.8 -3 -0.6 -3 0.6 -4zM-53.4 69.5l19.9 1.4 4 -0.3 7 -1.9 14 2.2 12 -1.2 12 1.3 6 -0.9 12 -0.2 7 1.1 13 -1 6 1.3 4 3.3 10 1.3 6 -1.7 7 0.1 3 -1.3 2 0.5 2 -0.7 11 1.6 27 0 5 0.8 12 -2 2 0.3 2 1.5 4 0.7 1.9 -0.2 1.1 -1.2 2 1.6 1 -0.4 3 1.4 1.5 -0.4 6.5 -5.3 2.9 1.3 1 2 -2.9 3.2 -1 0 -7 5.9 -6 0.3 -4 1 -10 0.2 -5.4 -1.6 -1.2 -1 0.2 -2 -3.6 -0.2 -5 1 -1 2.5 -4 -1.1 0.2 2.8 -1.2 0.9 -1.5 -0.9 0.9 -3 -7.4 -1.9 -5 0.4 -4 2 -14 -3.2 -4 0.4 -5 1.5 -4 0 -7 -1.7 -7 1.6 -7 -0.8 -8 0.2 -1.1 -0.5 -0.9 -1.6 -6 -0.9 -6 0 -3 1 -4 -1 -8 -0.6 -6 0.4 -2 -0.7 -5 1.1 -12 0.3 -1 0.4 -0.4 1.6 -2.6 1.5 -1 -0.5 -0.2 -2 -0.8 -1 -4 -1.5 -5 1.1 -9 -0.6 -7 0.8 -4 -1.1 -8 1.2 -3.5 2.1 0.3 3 -0.8 1.3 -1 0.3 -4 -1.8 -8 1.6 -26 0.4 -11 -0.3 -6.5 -1.5 -0.5 -2.2 3 -0.1 5 -1.5 9 -0.1 5 -1.4 3 0.5 11 -0.2 4 0.9 2.4 -0.9 0.5 -3 -1 -4 3.1 -0.1 3 -1.4zM-148.7 76.5l2.2 -0.5 5 1.8 2 -0.9 4 -0.5 5 1.5 4 -0.3 8 2.7 4 -1.3 5.8 1.5 1.8 2 -2 2 -3.6 0.7 -9 -0.7 -16 1.5 -9 0 -7 -1.4 -8.9 -0.1 -5 -2 0.9 -1.3 5 -2.1 6 0.9z"/><path fill="#a51429" d="M79.4 -53.5l1.1 1.5 2.5 0.5 0.3 1 -0.8 1.3 -3.3 -0.3 -1 -2zM100 -47.5l1.5 -0.2 0 1.3 -3.3 -0.1zM106.1 -45.5l0.4 -0.4 1.4 1.4 -3.4 0.9 -0.5 -0.9zM-133.9 -39.5l1 0 0.1 1 -0.7 3 -1 0.4 -0.8 -0.4 0.3 -2zM-2.7 -27.5l1.2 -0.5 0 1.8 -1.1 -0.3zM24.6 -16.5l0.9 -0.5 0.5 0.5 -1.5 2 1 2.1 -1 0 -1.8 -2.1zM-192.8 -11.5l5.4 0 -1.3 2 -2.8 0.6 -2.9 -0.6 -0.4 -1zM-94.7 -8.5l1.4 0 0.3 3 -0.5 1.1 -1 0.3 -0.8 -1.4zM119.3 -4.5l1.2 -0.7 1 0.6 -0.2 2.1 -0.8 0.7zM-95.4 14.5l1.9 -0.5 3.8 5.5 5.4 4 0.8 1 1.1 4 -0.1 5.5 -1 2.4 -5 1.5 -4 2.3 -3 -1.3 -4 -4.8 -2.5 -6.6 0.8 -1 -1.3 -2 3.1 -5 0.3 -2 1.6 -0.6zM9.2 15.5l2.3 0.8 1.5 2.2 -0.5 3.6 -1 1.6 -1 0.3 -2 -1.8 -1.2 -3.7 0.6 -2zM-53.4 70.5l8.9 1 6 -0.3 5 1.1 13 -2.1 7.9 1.3 2.1 1.3 15 -2.1 8 0.8 3 0.9 7 -1.2 11 -0.2 7 1.2 13 -1.1 4.1 1.4 1.9 4.9 1.5 1.1 -1.5 1 -3 -1.1 -3 0.5 -2 -1.4 -4 -1.2 -9 0 -5 1.2 -2 -1 -7 -1 -4 0.9 -5 -1 -6 1.5 -8 -0.7 -4 0.9 -3 -0.3 -4 -1.8 -3 0.2 -4 1.4 -10 -0.4 -5 0.5 -5 -0.9 -16 2.1 -6 -0.9 -1.4 -2.5 0.4 -2 1.2 -1zM82.2 75.5l12.3 0 -3 2.3 -1 -0.2 -2 2 -4 0 -3 0.9 -3.6 -1 -0.7 -2 1.3 -1.6 2 0.4zM94.5 75.5l4 -0.6 11 1.6 13 -1 6 1.1 3 -0.2 2 1 0.1 1.1 -1 1 -2.1 -0.5 -2 1.5 -3 0.2 -5 -0.8 -3 -2.7 -1 0.1 -6 2.9 -4 0.2 -10 -1.9zM143.7 75.5l2.8 -0.4 4 2.2 5 0.9 11 0.3 4 -0.7 1.6 0.7 -1.6 2 -1 0.1 -3 2.2 -6 -0.3 -8 1.2 -6 -0.2 -3.1 -2 0.9 -3 -2.8 -2zM65.7 76.5l2.7 0 1.4 2 -1.6 1 -2.7 0.2 -1.7 -1.2 -0.3 -1 -1 1.4 -0.2 -1.4 2.2 0.2zM139.8 76.5l1.7 0 -1 1.2 -1.2 -0.2zM-148.3 79.5l0.8 -0.5 5 1.9 4 -1.2 12 0 3.7 1.8 -1.4 2 -3.3 0.8 -13 0.3 -3 -0.5 -6 0.6 -3 -1.2 -0.6 -1 1.4 -2zM-61.6 79.5l3.1 -0.5 3.7 1.5 0.7 1 -1 1 -2.9 1 -7.5 -0.4 -9 0.9 -14.9 -0.5 0.9 -1.9 5 -1.5 13 0.3 2 0.8 4 -0.3z"/><path fill="#67001f" d="M79.1 -52.5l0.4 -0.4 1 2.4 -1 0.4 -1 -1.4zM-94.6 -6.5l0.1 -0.8 1 -0.1 0 2.1 -1 0zM-93.8 16.5l1.3 -0.3 3 3.9 5 3.7 1.7 4.7 -0.7 5.6 -2 1.8 -3 0.4 -3 1.8 -2 -0.6 -0.8 -1 -3.6 -5 -0.9 -3 1.2 -2 -1.2 -2 0.7 -3 1.7 -3zM-53.6 71.5l6.4 1 0.7 2.6 2 -1.4 1 0.8 -2 1.1 -7 0.6 -4 -1.2 -0.1 -2.5zM-21.7 71.5l3.6 0 1.5 1 0.6 1 -0.5 1 -4 0.5 -4 -0.7 -1.4 -1.8zM-1.6 72.5l3.4 0 0.5 1 -4.8 1.6 -0.9 -0.6 0.2 -1zM3.9 72.5l4.1 0 3.2 1 0.5 1 -2.2 0.8 -6 -0.8 -0.7 -1zM50.4 72.5l3.6 0 0.7 1 -0.3 1 -0.9 0.5 -3.6 -0.5zM150.4 80.5l2.1 -0.4 0.7 1.4 -2.1 0zM155 80.5l1.4 1 -0.9 0.9 -1.5 -0.9z"/><path fill="#d7e8f1" d="M-140.6 -89.5l1.1 -0.2 0.1 1.2 -2.1 1.3 -2.1 -1.3zM-103.2 -88.5l1.7 -0.5 0.5 0.5 -0.3 1 -1.2 -0.2 -0.6 1.2 1.6 1.3 2 -0.4 4 -3 2 1 1 -1.3 1 0.5 1 1.9 0.3 -2 1.7 -0.2 1.3 2.2 2.7 1.5 1 0 0.4 -1.5 2.6 -1.2 1 1.2 1.9 0 -1.3 4 2.4 0.4 1 1.8 2 -1.7 3 -0.6 3 0.4 2 2.6 3 -0.4 2.4 1.5 0.2 3 1.4 1.4 4 -0.7 3 0.9 1 1.3 4 1.4 1 1.4 3 0.4 2 -1 6 1.2 0 -2.3 1 -0.5 1 0.5 0.1 3 0.9 1.3 5 2.4 2 -0.7 3 0.5 1 -2.8 3.3 -1.7 -0.5 -1 1.3 -2 -1.6 -4 1.5 -0.5 1 -1.4 5 1.9 5 -1.9 2 0.1 1 0.8 2 -1.1 1.8 1.1 2 3 0.3 2 1.1 1 -1 2 0.8 1 1 0.1 2 -3.9 2.8 1.8 -0.8 0 -1 2.3 -2.7 0.7 0.8 2 -1.1 0.7 -3 -0.9 -1 -2.1 -0.5 1.3 -3.5 1.5 -0.3 0.5 1.6 4 1.5 1 -0.5 1 -1.3 0.5 -2 -0.9 -4 0 -2 2.2 -0.9 3.2 0.3 2 0.6 1.4 2.2 1.6 0.1 1 -3.8 4 -1 4 -3.5 2 -1 2.4 -3.4 -3.4 -1 -2 -1.6 -0.6 -2 0.4 -1 1.2 1.1 1 -0.5 1 -2.6 0.8 -2.4 4.2 -1.6 7 1 5 -0.3 5 0.9 1 0.4 2.6 1 -0.2 2 1.3 3 0.2 3 -0.4 2 -1.2 2 0.1 1 -0.8 2.7 1.4 0.4 2 2.9 2.5 1.1 -0.5 -0.6 -3 -1.7 -1 1.2 -0.5 3 3.8 2 0.3 2 1.9 2.8 -1.5 -0.4 -1 0.6 -1.1 1.6 0.1 3.4 2 1 -1 0 -1.1 0.1 1.1 0.9 0.3 3 -1.7 2 0 0.9 0.4 -1 1 1.1 0.3 1.1 -1.3 -0.1 -2.3 2 -0.9 0 1.4 1 0.5 4 0 1 1.3 2 1 1 -0.6 3 1 1 -1.1 1 0.3 2 1.6 2 0.1 3 -1.7 6 0.4 3 -2.1 2 0.1 3 -1.2 0.1 1.2 2.9 0.8 2 1.6 1 -0.4 3 -4.3 4.9 -1.7 -0.4 -1 -6.5 -1.2 -5 1.6 -1.5 -0.4 -0.1 -1 6.6 -2.2 3 0.5 2 -2.7 1 0.4 0.9 -2 2.8 -3 1.5 -4 -0.6 -2 -2.8 -2 5.2 -0.9 5 0.8 6 5.3 2.3 0.8 0 3 0.9 2 -0.2 2.6 -3 0.7 -0.9 1.7 0.9 3.6 1 0.1 1 1.3 0.4 3 3.6 1.9 1.6 -0.9 0.4 -1.8 3 -0.7 0 2.5 3 0.2 0.7 -1.2 -0.6 -2 -2.5 -3 1.3 -6 7 -8 3.1 -1.2 4.4 5.2 0.1 2 1.5 1.6 2 -0.9 2 0.2 1.2 -3.9 1.8 -0.1 1 0.8 1 -1.8 1.5 1.1 0 2 1 1 -1 3 0.5 1.7 0.9 0.3 -1.9 1.7 -2 0.6 -2 -1.4 0 -2.2 2.2 -0.7 -2.2 -0.5 -1 -1.3 -1 -0.2 -0.9 2 1.3 5 -1.3 3 0.2 2 -1.5 2 1.6 4 -0.9 7 1.5 5.9 2 2.8 6 -3.3 4 1.4 1.3 -0.8 -2.8 -1 0.3 -6 -0.8 -2 1 -2.1 1 -0.5 1 0.5 1.9 4.1 2.1 -0.6 1 2 2 0.6 1.8 -2 -0.8 -1.9 -3 -0.1 4 -0.4 1 1.5 1 -0.5 0.6 -2.6 1.4 -2 3.2 -2 0.2 -3 1.6 -1.1 2 -0.3 1 0.9 0.6 -0.5 -0.3 -2 -1.3 -1.2 -1 1.3 -1 -0.7 -2 1.9 -4 -1.1 -3 0.7 -10 -0.9 -0.8 -1 3 -4 -1.2 -3.3 -2.1 -1.7 0.3 -1 -1.5 -3 0.3 -1.8 1 -0.8 1.7 0.6 -1.3 1 -0.2 1 0.8 1 2 -0.8 0.2 -1.2 -1 -1 6.8 -3.4 3.4 -4.6 0.7 -3 -1.1 -4.4 -3.7 -4.6 0.4 -2 -4.6 -3 1.9 -2.2 2 2.1 2.9 0.1 4.8 6 2.3 -0.4 0.9 -2.6 -3.8 -4 -0.1 -1.5 1 -1.4 3 -0.4 2 -6.4 1 -0.4 0.9 1.1 1.1 6 2 1.5 0.9 2.5 -0.1 1 -2.8 3 -3.4 1 -0.8 3 0.3 1 1.9 1.7 4 -2.9 5 -2.6 0.5 -1.2 -1.9 -5 -2.3 -3 1.7 -0.3 1.4 -1.7 -1.4 -1.6 -3 -0.6 -0.3 -3.8 -1.7 -0.9 -0.5 -2.1 3.5 1.5 2.1 2.5 1.9 0.7 1 1.2 3 -1.1 2 1.5 1 -1.8 4 -0.4 2.8 -7.1 -1.6 -2 0.8 -1 -2 -0.2 -1 0.7 -1.2 -1.5 -1.8 -0.1 0.9 2.1 -1 2 -3.9 1.1 -2.9 -2.1 0.1 -2 0.8 -2.4 1 1 3 -0.2 1 -2 3 -1.4 1 1.9 1.6 0.1 1.4 -2.4 1 -0.5 1.1 0.9 -0.8 2 0.7 0.8 1.1 -1.8 0.9 -0.2 5 4.9 1 0.3 0.1 2 0.9 0.9 1 -0.1 0.6 1.2 4.4 2.5 4.6 4.5 0.9 2 5.1 5 0.1 1 2 2 0 1 4 5 3.1 7 1 1 0 2 1 1 0 2 0.9 1 -0.1 2 1.1 1 -0.1 3 1 1 1.1 8 0.9 1 -0.1 3 -0.5 0.6 -12 -1.8 -8 0.5 -4 -1.6 -1.8 -2.7 -3.1 0 -0.1 -1 -1.6 1 0.3 1 -2.7 2.5 -3 -1.5 -2 0 -3.9 2 -7.1 1 -3.7 2 0.2 2 3.5 2.7 8 1.7 9 0.5 13 -1.1 13 1.1 7 -1.6 0.7 1.7 0.1 10 -1.8 3.1 -5 2.2 -2.2 2.7 0.2 3 3.6 2 2.4 -0.3 0.4 1.3 -0.9 1 0.1 3 -1 1 0 3 -1 1 0 2 -1.2 1 -0.4 2.1 -3 -0.6 -1.3 0.5 -0.5 1 0.8 3.1 -1 0.7 -1 -1.4 -0.7 1.6 -1.3 0.9 -3 0.3 -1 -1.7 -3 0 -1.5 -1.5 1.8 -2 -1.3 -2.2 -2 0 -1 -1 -3 0.4 -4 -1.8 -3 1.4 -4 -0.9 -1.5 -1.9 -2.5 -6 -2 -1.1 -0.6 -1.9 0.6 -1.5 3.7 -0.5 1.9 -3 -0.6 -2.6 -1.8 -2.4 0.8 -1.3 2 0.3 -0.2 -3 1.6 -2 0.2 -2 -2.6 -1.8 -9 -0.4 -5 1.6 -4.1 -0.4 3 6 -4.9 3.8 -3.6 -0.8 0.8 1 -0.3 1 -2.9 1.2 -5 -2 -3 2.8 -2 0 -1 1.5 -2.3 0.5 -2 3 -0.5 4 2.2 3 0.6 0.5 2 -0.5 2.6 2 -0.4 1 -3.2 -0.1 -2.3 1.1 0.6 2 3 3 -1.1 3 4.3 2 -1 2 0.5 1 -2 1.2 -2 -0.7 -2 -2.7 -2.7 -0.8 1.1 -3 -0.4 -1.3 -1.8 0.3 -4.2 2.8 -2 -0.7 -2 0.8 -2 -3.9 -1.1 1 0.2 3 -1.1 1.2 -2.7 -2.2 -0.3 -1.1 -1 -0.2 -1 1.1 -2 -1.2 -4 0.8 -3 -0.5 -3 -2 -4 -0.5 -0.8 1.6 -2.2 -0.3 -3 2.8 -3 -1.1 -3 -2.5 -2 -0.1 -2 1.2 -4 -1 -1 -3.1 -4 5.1 -1 -1 -3 1.4 -1 -1.7 -1 0.2 -4 2.9 -2 -1.1 -0.4 1.3 -1.6 0.8 -3 -2.2 -4 1.5 -2 -1.2 -2 1.1 -2.1 -2 -0.1 -1 1.2 0.1 0.9 -1.1 -2.9 -3.8 -3 -1 -2 0.2 -1.2 1.6 0.2 1.3 1 0.6 1 -2.6 0.4 0.7 -0.4 4.3 -2 -0.7 -0.9 2.4 -1.1 0.7 -1 -0.5 -2 3.7 -2.2 1.1 -0.8 1.5 -1.1 -3.5 2.9 -2 -0.3 -2 1.4 -2 0.1 -1.8 3 1.8 1.2 -1 -0.9 -1 0.5 -2 -1.7 -2 0.9 -0.4 0.6 -1.6 -0.6 -0.8 -4 -0.4 -0.7 -0.8 1.4 -2 -0.4 -1 -3.3 -2 0 -0.6 -1.6 1.6 -0.4 1.6 -1 -0.5 -1 0.9 -1.9 -1 -1.1 -1.7 0.5 3.7 -0.5 0.9 -1 -0.3 -1.5 -2.6 1.5 -2 2 -0.1 3 2 0.8 -0.9 -0.8 -3 1.5 0 -0.3 -1 -2.2 -0.9 -1 1.3 -3 1.4 -2 -1.1 -2 2.3 -1 -0.3 -0.2 -2.7 1.6 -2 -1.4 -1.1 -3.1 -6.9 -3.9 -0.8 -8 1.7 -5 2.6 -2.5 4.5 0.6 2 -2.9 4 0.5 1 -1.7 1.6 -2.1 0.4 -1.5 5 -1.8 1 -0.5 2 -1.1 -0.1 -1 1.6 -3 0.9 -2 -0.1 -4 -2.6 -1 1.4 -6 -1 -2 2.2 -1 -0.7 -3 1.1 -2.2 -3.7 -0.8 -0.6 -2 0.4 -5 4.3 -6 2.8 -2.7 5.1 -3.3 2.7 -5 0.4 -2.3 1.9 -1.7 0.4 -1.9 -1.4 0.5 -2 -0.6 -0.8 -2 -0.5 0.5 3.3 1.4 2 -0.9 0.7 -1 -0.2 -1.1 -1.5 -0.2 -3 -2.6 0 -0.1 1.2 -2 -0.5 0.2 -7.7 -1.6 -14 -2.5 -3 0.7 -2 -0.6 -1 -1.2 -0.4 -2 1.2 -1.1 -0.8 2.1 -0.9 0.6 -1.1 -0.6 -3.8 -1 -0.3 -1.5 1.1 1.2 1 -1.7 1.7 -0.2 -2.7 -2.8 -1.6 -0.7 -2.4 -2.6 -2 0.7 -3 -0.4 -1.6 -2 0.8 -1.4 -1.2 0.4 -1.3 2 1 3 -3.9 1 -0.3 1 1.8 2 0.4 1.7 -2.7 1.5 -1 0.7 -6 1.9 0 -0.7 1 0.9 0.9 1.5 -0.9 -1.2 -1 0.7 -3.7 2 3.3 2 0.7 3 -2.6 3.5 1.3 -0.2 -2 -1.3 -1.6 -6 0 -3 -1.6 -1 1.4 -0.8 -1.2 -1.2 -0.2 -5 2.4 -4 -1.1 -2 1.2 -1 -0.3 -1.4 -2 0.7 -5 -2.3 -0.5 -1.6 0.5 -0.4 1.1 -0.1 -1.1 -1.3 -1 -0.3 -1 2 -6 -3.3 0.7 -2 2.9 -2 0.5 -2.7 -1.1 -1.4 -5 1.6 -6 4.5 -3.2 4 0.2 2 -1.3 4 -1 3 3.2 1.2 -1.9 -0.2 -1 4 -3.4 4.6 -2.6 0.4 -2.8 -2 0 -0.5 -1.2 1.5 -0.7 2 0.8 3.1 -3.1 3.9 -1.6 1 -4.3 1 1.2 2.7 -0.3 -0.7 -1 0.7 -2 -0.7 -0.9 -2.9 1.9 -0.1 0.8 -0.9 -3.8 -2.1 -0.7 -5.3 1.7 -0.7 1.4 -2 -0.9 -2 1.9 -1.5 -1.4 2.3 -2 -2.8 -2 -0.4 -2 -1.6 -1.7 -2 1.6 -4.6 0.1 0.6 1.1 2.7 1.9 -0.4 2 -2.3 -0.5 -2.3 0.5 -0.7 -1.8 -2 0.4 -2 -1.9 -1.7 -4.7 -3.3 -1.2 0.2 2.2 1.3 1 0.2 1 -1.3 3 -2.4 -1.4 -1 0.7 -0.9 -0.3 -0.4 -1 1.7 -2 -2.1 -4 2.4 -2 -0.3 -2 1.8 -2 -0.2 -3.2 -1.8 -1.8 1.8 -0.7 1 1.1 3.8 0.6 -0.5 -2 1 -2zM-93.5 -85.2l-4 2.7 0 2.2 2 -1.9 2.2 -0.3 0.6 -1zM-90.5 -81.7l-1 0.6 0 0.9 1.6 -0.3 0.4 -1.1zM-82.5 -83.9l-1 1.1 -1 -0.6 -0.3 0.9 1.3 3.1 -1 0.2 -2 -1.3 -3.1 2 5.1 4.1 3 0.3 1.1 -0.4 -1.5 -2 1.4 -2 -0.1 -1 -2.7 -1 2.2 -2zM-70.5 -73l-0.6 1.5 0.6 0.7 1.2 -1.7zM-62.5 -74.7l-1.7 1.2 0.6 2 -0.9 0.8 -1 0 -1 -1 -1.6 0.2 -1.4 1.3 -1 -0.1 -1.4 2.8 0.4 4 5 3.2 1 0 1.3 -1.2 -1 -1 7.7 -0.7 2 0.4 0.6 -0.7 0.2 -2 -1.8 -4 -2 0.9 -3 -5.7zM-51.5 -61.7l-0.1 2.2 1 1 0.1 1.6 0 -3.5zM-34.5 -58.2l-0.3 0.7 1.3 1.4 1 0.5 1 -0.9zM-2.5 -70.6l-1.4 2.1 1.4 0.8 1.1 -0.8zM31.5 16.8l-0.9 0.7 0.1 1 2.8 2.7 3.2 0.3 0.3 -1 -3.3 -2 0.2 -1zM35.5 -0.8l-1.5 1.3 0.1 2 3.4 0.8 0.3 -2.8zM44.5 10l-1.1 2.5 1.1 0.6 1.6 -0.6 0.7 -2 -0.3 -0.7zM54.5 26.5l-0.9 4 0.9 0.6 1.8 -3.6zM77.5 27.4l-1 1 0 1.1 2 1.4 2.6 -2.4 -2.6 -1.5zM98.5 6.5l-5 1.1 -6 -0.2 -2.8 1.1 -1.7 2 1.5 2.2 2 1.1 3 0.8 4 -0.8 4 -1.8 3 -0.5 2.4 -2 -0.4 -2.2zM134.5 10.5l-1.3 1 1.3 1.3 0.9 -1.3zM144.5 -1.6l-1.3 1.1 -0.2 2 -1 1 0.5 0.7 1.4 -0.7 -0.1 -2 1 -1zM140.5 -33.9l-0.9 2.4 0.9 1.5 1.2 -2.5 -0.2 -1zM144.5 -15.9l-0.6 1.4 1.6 1.9 0.9 -1.9 -0.6 -1zM147.5 -17l-0.7 1.5 1.7 1.4 0.5 -1.4zM171.5 -75l-0.9 1.5 1.3 0 0.6 -0.8zM183.5 -56l-1 0.8 -4 -0.2 -1 0.8 -1.1 3.1 0.3 2 2.8 0.8 4.3 -0.8 1.8 -4zM-88.5 9.1l-1.2 1.4 2.2 0.2 0.2 -1.2zM-82.5 10.3l-1.3 1.2 0.4 1 0.9 0.1 1.2 -1.1 -0.2 -1.1zM-96.5 -30.7l4 1.4 2 2.3 2.5 -0.5 -5.5 -3.5zM-94.5 -38.2l0 2.7 1 1.2 1.2 -1.2 -0.1 -2zM-84.5 -26.7l0 2.4 3.5 -1.2 -1.5 -1.3zM-103.5 -83.9l-0.8 1.4 0.8 1.5 0.9 -0.5zM-55.5 1.5l-0.7 2 -1.9 2 0.4 2 -2.5 2 0.9 1 -0.2 1.7 -2.4 0.3 0.4 0.7 2 -0.4 0.1 1.7 1.9 2 -0.7 2 0.7 0.9 1 -0.1 -1 -2.8 1 -1.3 1 -0.4 1 0.7 2 3.5 1 -3.7 1 -0.6 2 0.4 2 -1.1 2 0.7 2.3 -2.2 -0.1 -2 0.9 -1 -0.4 -2 -4.7 -3.3 -6 -1.3zM36.5 10.5l-0.1 1 1.1 0.5 2.9 -0.5 -0.9 -1.1 -1 0.9 -1 -1.2zM40.5 7.8l-0.8 0.7 0.8 1.7 1.6 -0.7 0.2 -1zM44.5 20.3l0 2.6 2.1 -1.4 -1.1 -1.7zM52.5 32.4l-0.7 1.1 0.7 0.5 1.9 -0.5 -0.9 -1.3zM142.5 4.5l0 1.6 1.4 -0.6 0.1 -1zM141.5 -24.9l-0.3 4.4 1.3 0.9 1.2 -0.9 0.3 -3 -0.5 -1.1zM-48.5 28.5l-0.6 1 0.6 0.6 1.4 -0.6zM40.5 25.9l-1.1 2.6 3.1 1.9 1.1 -0.9 -1.2 -3 -0.9 -0.9zM-18.8 -88.5l6.9 2 0.8 1 -1 3 -4.4 0.7 -2 -1.3 -0.4 -0.4 1 -2 -0.6 -0.8 -1 0.7 -0.8 -0.9 0.8 -1.9zM42.3 -88.5l1.2 0 0.7 1 -0.6 1zM67.8 -88.5l0.7 -0.5 1 1.5 1 -0.7 2 0.7 -2 1.2 -1 -1.1 -0.9 1.9 0.9 0.8 4 -0.5 2 -1.9 2.9 1.6 1.1 1.6 2 -1.1 0.5 1.5 -0.5 1 1 0.6 5 1 1 -1.3 5 0 1.1 2.7 1.9 0.7 0.2 -1.7 -1.7 -2 -0.4 -2 1.9 -0.8 0.3 -1.2 -2.3 -0.6 0 -2 1 -0.1 3 1.6 4 -0.6 1.1 0.7 0.1 1 -2.2 0.8 -2.8 2.2 1.4 2 1.4 0 1 1 1.8 0 0.7 -3 1.5 -1.1 3.1 4.1 0.2 2 0.7 0.5 1.4 -0.5 -0.9 -2 0.3 -1 -2.9 -3 0.2 -1 0.9 -1.1 3 -0.1 1 -0.9 2.3 2.1 -3.1 1 2.8 2 0 1.1 1.3 -0.1 0.7 -2.3 1 0.7 2 -0.1 0.4 0.7 -3.8 3 1.4 0.7 1 -1 0 1.4 -2.7 2.9 -0.4 2 -3.3 2 0.2 2 -0.6 1 -0.7 -2 -2.1 -2 0.6 -2 -1 -0.7 -1 0.1 -0.6 0.6 0.4 1 -1.8 1.1 -3 -1.7 -3 1.8 -1 -1 -1.4 3.8 -1.6 1.2 -1 -0.6 -1 1.6 -1 -0.1 0.7 -2.1 -2.7 -3 -3 0.2 -1 1.2 -1 -1 -2 1.1 -1 -2.6 -1 0.1 -0.8 1 0.2 1 1.5 1 -0.1 1 1.3 2 -2.1 0.7 -1.1 -0.7 1.2 -1 -2.1 -3.6 -1 1.3 -1 -1 -2.2 0.3 -0.8 -1 0.8 -2 -0.5 -2 0.7 -1 1 0.9 0.5 -0.9 -0.5 -0.6 -2 0.5 -1.4 -0.9 2.4 -1.6 3 0.2 1 0.9 0.9 -0.5 -0.3 -1 -2.6 -0.7 -1 -2.6 -1 1.8 -1 0.3 -2 -2.2 -0.9 4.4 0.6 1 -0.7 0.8 -1 -0.6 -1.6 0.8 0.4 2 -0.7 1 0.9 1.2 1 -0.2 1 -2.9 2.9 0.9 -1.3 2 1.3 1 -0.9 3.4 -2 0.5 -1.1 -1.9 -3.9 -2.4 -1 0.1 -1 0.7 -0.7 2.6 -1.3 0.2 0.6 -1.2 -1.6 -0.9 -2.2 1.9 -0.1 1 1.1 1 -0.8 1.4 -1 0 -0.7 -1.4 -1.3 -0.3 -3 1.9 -2 -2.6 -1 -0.1 -1 -1.8 -1 0.1 -0.5 1.8 1.7 1 -0.3 2 -1.7 1 0.4 2 -1.6 0.5 -1 -1.2 -0.6 0.7 0.6 1.8 2 -0.1 1 0.8 3 -2.7 3 -0.5 0 1.4 -2.2 2.3 1.2 1.3 3 -1.3 0.5 1 -1.5 0.3 -1.1 1.7 3.9 5 -0.8 1.7 -1 0.2 -3.7 -1.9 0.7 -3.3 -1 -0.5 -3 0.6 -1.8 -1.8 -0.2 -3.4 -1 -0.4 -2 1 -0.6 -1.2 0.3 -2 -0.7 -0.8 -3.5 -1.2 1.5 -1.7 1.4 0.7 0.3 -2 1.2 -1 0.1 -2.7 -1 -0.6 -0.7 0.3 -1.3 4.7 -1 0.2 -1 -2 -1 -0.5 -1 0.4 -3 -2.5 -1 2.2 -1 -1.2 -0.7 0.7 0.7 2.3 2 -0.3 1 2.6 2.2 1.4 -0.2 0.8 -1 -0.4 -1 0.9 -2 -1.8 -0.5 0.5 0.4 2 1.5 1 -0.4 1.6 -1.6 1.4 0.5 1 -0.9 0.7 -1.9 -0.7 -1.1 -2 -1 0.7 -1.3 -0.7 1.3 -0.8 1 0.8 2.4 -5 -0.4 -1.6 -1.9 -1.4 0.2 -2 -1.3 -1.7 -2 1.4 -4 0.1 -1 -0.7 -1 0.9 1 2.7 1 0.6 3 -0.3 1 -1.3 1.2 0.3 -2.2 2.8 -1 2.8 -1.1 0.4 0.7 4 -0.6 0.3 -2 -4.2 -2 -0.3 -1 -1.8 -1.3 1 2.5 2 -0.5 2 0.9 4 -0.6 1.2 -1.3 -0.2 -0.1 -3 -5.6 -4.4 -2.4 -0.6 1.4 -1.8 1 0.3 0 -0.9 -1 -0.6 2 -1.5 1 2.2 1 -0.7 -0.6 -1 0.6 -1 2 2.2 0.9 -1.2 -2.3 -2 1.2 -2 -2.2 -4 2.4 -0.1 1 1.5 2 1.1 3 -1.6 1 1.4 1 0.1 1.2 -1.4 -3.2 -3 0.4 -3 0.6 -0.5 4 0.6 1.9 -1.1 -0.5 -2 0.6 -0.8 2 -0.2 0 -1.1 4 0.6 2 2.3 2 -2.2 1 -0.1 1 1.7 3 -0.9 2 -2.5 3 0.2 1.7 -3 2.3 -1.7 2 0.9 1 1.8 -0.8 1 0.8 0.8 5 -2.1 1 1 2 -0.2zM87.5 -80.1l-2 2.5 -2 -0.4 0 1.4 1 0.2 4 -2.3 1 0.6 1 -1.8zM46.5 -68.6l-0.9 0.1 0.9 4.6 0.9 -1.6zM64.5 -78l-1.4 1.5 1.2 1 1.2 2.7 0.3 -1.7 -1.2 -1 1.7 -2zM70.5 -82.4l-1.1 1.9 1.1 0.5 0.5 -1.5zM155.3 -88.5l2.4 1 0.6 1 -0.2 1 -3.1 -2zM8.2 -87.5l1.3 -0.8 1 0.8 -1 2.4 -1.3 -0.4zM140.9 -87.5l0.6 -0.5 1 1.1 1 -0.5 1.2 0.9 -1.4 2 1.2 3.2 1.7 -0.2 0.2 -1 -1.3 -1 1.4 -1.6 1.7 1.6 -1.6 1 0.7 2 -1.8 1.9 -3.7 0.1 -3.3 2.4 -1.1 1.6 1.7 1 -2.6 2.1 -2 -2.2 -3 -0.5 -1.2 -1.4 1.2 -2 0 -1 -1.1 -1 3.1 -2.4 5 0.4 2 -1.5 0.9 -3.5zM136.5 -79.3l-2 1.3 0 0.9 2 0.2 1.9 -1.6zM-146.9 -86.5l2.4 0 2 1.4 2 0.3 1 -1.1 1.3 0.4 1 3 -0.7 2 1.4 0.1 0.8 0.9 -0.6 2 -2.5 0 -1.7 -2.6 -2 1.1 -2 -2.4 -0.3 -3.1 -0.7 -0.9 -1 0.7 -0.8 -0.8zM-140.5 -84.1l-1 1.9 2.9 -1.3 -0.9 -0.9zM-122.1 -86.5l1.6 -0.6 2.3 0.6 0 1 -1.3 0.2 -1.2 1.8 2.4 1 1.4 4 -0.6 0.7 -2 -2.2 -1.7 1.5 -0.5 2 1.7 0 -0.5 1.3 -1.6 0.7 0.9 3 -0.3 1.9 -4 1.9 -3 0.1 -1 -1.6 -1 0.4 -0.9 -1.7 1.4 -2 -0.6 -4 1.5 -1 -2.8 -1 -3.6 -2.8 -0.1 -1.2 1.1 -1.2 1 0 2 3.6 1 -0.8 3 -0.5 0.9 0.9 0.3 2 1.8 1.8 1 -2.9 -2.9 -1.9 -2.7 -3 2.6 -1.8 1 2.3 2.6 0.5 -0.5 -2zM-124.5 -74.6l-1.7 3.1 0.7 1.8 1.9 -1.8zM-117 -86.5l0.5 -0.7 1 0.2 -0.1 1.5 0.8 1 -0.7 1.4 -1.4 -0.4zM159 -86.5l1.5 -0.2 1.7 3.2 -3.7 2.9 -0.6 -1.9 1.1 -2zM13.1 -85.5l0.4 -0.5 1 0.3 2 1.4 -2 0.2 -1 1.6zM91 -85.5l1.5 -0.8 1.5 0.8 -1 1 -1.5 0.2zM-77 -84.5l1.5 -0.5 0.4 0.5 -1.4 1.7zM-67.3 -84.5l0.8 -0.9 1.6 0.9 -1.6 0.9zM152.4 -83.5l1.1 -0.6 1.6 1.6 -2.6 2.6 -1 -2.6zM28.7 -82.5l0.8 -0.5 0.5 0.5 -0.5 1 0.8 2 -0.8 0.5 -0.8 -0.5zM126.7 -82.5l1 0 -0.2 2.1 -1 -1.1zM-154.8 -81.5l2.3 -0.4 2.5 1.4 -1.5 1.6 -2 -0.7zM-113.6 -81.5l0.6 2 -1.2 1 -0.3 1.8 -0.6 -0.8zM16.4 -80.5l0.8 1 -0.5 1 -3.2 2.4 -0.6 -1.4 2.6 -1.1zM-155.7 -78.5l1.2 -0.6 0.4 0.6 0.2 3 -1.9 1 1.3 0.4 0.7 2.6 -1.7 3.7 -1 -1.2 -1.4 1.5 2.4 0.4 1 1.6 2 -1.9 4 0.5 1 -1.3 3 -1.1 2 0.4 4 -1.3 3 1.2 1 -0.3 2.4 2.8 -0.4 1.4 -1.8 0.6 -0.5 1 2.4 1 -1.9 4 -2 2 -1.2 3 -1.1 1 -2.9 0.3 -0.5 0.7 -5.5 11 -3.1 15 0.8 3 3.3 1 2 -0.7 2 0.6 2.3 -0.9 0.7 -1.1 4 -0.4 6 -7.7 2 0.7 0.4 -0.5 -0.9 -2 0.5 -1.8 1 0.3 3.2 4.5 -0.4 3 1 2 8.2 4.3 3 -0.6 4 2.9 1 -0.7 0.6 1.1 4.4 2.7 0 2.5 -2 0.6 -10 -0.6 -2 -1 -4 0.1 -9 -1.9 -10 1.2 -4 -0.2 -1.8 -0.4 -0.9 -1 -0.3 -2.5 -1 0.9 -1 -0.4 -3 1.1 -2 -0.4 -1 -2 -7 -1.5 -4 1.8 -1 2.1 -4 0.3 -1 -1.4 -2 -0.5 -5 4 -7 -0.9 -4 -1.3 -2 0.9 -3 -0.7 -3 1.2 -3 -0.6 -14 2.6 -0.7 -1.7 1 -1 -0.1 -4 1 -1 0.1 -3 1.1 -1 0.1 -3 1.1 -1 -0.1 -2 0.9 -1 1 -5 2 -3 1.9 -5 4.2 -5 1.9 -4 5 -5 0.1 -1 3.5 -2.5 7 -7.5 1 1 2 -0.6 1.3 4.6 2.7 2.2 2 -1.7 1 0.5 1 -2.3 1 -0.6 3 0.2 3 1.2 1 -0.5 2.1 -2 0.5 -3 3.3 -2zM-164.5 -60.5l-0.7 1 0.7 0.6 1 0.2 1.5 -0.8zM-164.5 -56.9l-0.6 2.4 2.6 3.1 2 0.4 0.1 -2.5 1.1 -1 0 -1 -1.2 -0.6 -1 0.5zM20.1 -76.5l1.8 0 -0.2 2 -1.2 0.7zM121.9 -76.5l0.6 -0.6 0.3 1.6 -0.3 1 -1.6 1 0.6 3 -1 0.8 -0.4 -3.8zM-148.7 -74.5l1.2 -0.1 0 1.1 -1 0.5zM155.1 -74.5l1.4 -0.5 0.9 2.5 -0.9 0.5 -1 -0.6 -0.7 -0.9zM125.4 -72.5l2.1 -0.9 1 0.9 -1 1.3 -1 -0.1 -1 2.7 -1 -0.5 -1.7 1.6 1.7 1.2 2 -0.8 1 0.4 0.2 1.2 -1.2 1.3 -3.8 -1.3 -1.2 -1.5 -1.5 -0.5 0.5 -0.6 1 0.2 1.5 -2.6 2.2 -1zM139.2 -71.5l2.3 0.1 0.6 0.9 -0.6 2.1 -1.2 -0.1zM79 -69.5l0.5 -0.7 1.5 1.7 -1.5 0.5zM132.8 -69.5l1.7 -0.6 1.6 1.6 -1.6 0.9 -1 -0.4zM116.3 -68.5l0.2 -0.8 1 0 0.3 1.8 -1.5 0zM144.6 -68.5l1.9 -0.6 0.7 0.6 0.3 2.3 -2 0.3zM11.4 -67.5l1.1 -0.9 1 0.1 0.7 1.8 -0.7 0.9zM72.3 -66.5l2.2 0.2 0 2.1 -1.9 -0.3zM103.3 -66.5l1.2 -0.9 0 2.6zM133.5 -66.5l1 -0.7 1.3 1.7 -0.6 1 2.3 0.2 0.6 0.8 -0.6 0.6 -1 -0.5 -2 0.5 -0.1 -1.6 -1.3 -1zM1.1 -64.5l0.4 -0.6 1 0.5 1.4 3.1 3 3 0.6 0.4 2 -0.9 1 0.5 -1.5 4 0.5 1.5 1.9 1.5 0 1 -2.9 1.5 -2 -1.1 -1 0.3 -2 1.7 -3 -1.1 -2 0.1 1.9 -4.4 4.6 -5 -1.8 -3 -2.9 -1zM-95.2 -63.5l1.7 -0.4 0.3 1.4 -1.3 0.2zM117.3 -63.5l1.4 0 0.8 2.4 -1.3 -0.4zM-129.5 -61.5l1 -0.5 3 0.9 0.1 0.6 -1.1 1.2 -2 -1.4 -1 1.2 -1.1 -1zM-121.6 -60.5l0.3 2 -1.2 1.2 -0.4 -2.2zM41.9 -57.5l1.6 -0.5 1.6 1.5 -1.6 2.1 -2.4 -2.1zM91.3 -57.5l0.7 0 0.3 1 -0.8 2.1zM10.8 -56.5l1.5 0 2.1 2 -1.9 0.9 -1 -0.3zM46 -54.5l1.5 -0.4 0.7 1.4 -2.7 1zM-93.9 -52.5l1.4 -0.8 0.4 1.8 -1 0zM63.2 -51.5l0.3 -0.5 3.4 0.5 -1.4 1.7 -1 -0.1zM-115.2 -50.5l0.7 -0.3 0.7 1.3 -0.7 1.3 -1 0.3 -0.7 -0.6zM14.9 -48.5l1.6 -0.7 2.4 1.7 -0.4 0.4 -1 -1.2 -1 1zM-122.9 -47.5l0.4 -0.5 1.5 0.5 0.6 2 -1.1 -0.2zM9.9 -47.5l0.6 -0.6 0.5 0.6 -0.3 2 -2.2 0.5 -0.6 -0.5zM39.2 -47.5l0.1 4 -0.8 1 -6 -0.7 -2.2 0.7 -0.5 -1 0.7 -0.8 7 -1.5zM-124.9 -46.5l1.9 0 0.7 3 -2.2 1.1 -0.9 -3.1zM51.4 -46.5l1.1 -0.7 2.3 1.7 -2.3 0.9 -1 -0.7zM18 -45.5l1.5 -0.7 4 0.3 2 1.2 2 0.1 0.8 1.1 -0.8 0.3 -2 -1.3 -2.5 1 0.2 3 -1.2 2 0.4 1 -0.9 0.1 -1.9 -1.1 1.7 -1 0.2 -1 -1 -1 -3 -0.4 -2 0.7 -3 -1.3 3.8 -1 -0.3 -1zM66.5 -43.5l2.3 0 1 1 -0.3 0.7 -1 0.7 -0.9 -0.4zM6.5 -41.5l2.5 1 -1.5 0.4zM24.2 -41.5l1.3 0.1 0.4 0.9 -1.4 0.5 -0.7 -0.5zM-9 -40.5l0.5 -0.8 1 0 0.4 1.8 -4.4 2.6 0.4 -2.6zM55.5 -39.5l1 -0.7 4 3.6 3.6 1.1 -1.6 2.2 -2 0.4zM28.1 -38.5l0.5 0 0.1 2 -1.2 0.4 -0.4 -0.4zM-3.8 -37.5l0.3 -0.7 2.6 1.7 -2.6 1.7 -0.7 -0.7zM8.4 -36.5l2.9 2 -0.4 1 -1.7 0 -1.4 -2zM39.2 -36.5l0.3 -0.8 1 0.4 1.8 2.4 2.3 6 1.9 1.5 2.2 3.5 0.5 2 -0.7 0.5 -2.1 -1.5 -2.3 -6 -1.9 -3 -2.1 -1 0.8 -1zM2.1 -35.5l0.4 -0.6 2.2 0.6 -1.2 0.7zM16.1 -34.5l1.1 0 -1.7 2.2 -0.6 -1.2zM94 -30.5l0.5 -0.9 0.5 0.9 -1 1 1.2 2 -2.7 1.5 -0.9 -0.5 0.1 -1zM47.1 -29.5l1.4 -0.2 0 1.3 -1 0.4zM-18.4 -28.5l0.9 -0.3 1.3 1.3 -2 0zM29.9 -28.5l1.3 0 0.3 1 -1 0.7 -0.8 -0.7zM97.2 -27.5l0.5 2 -2.2 1.2 0 -2.4zM16.7 -25.5l2.8 -0.8 0.6 0.8 -1.6 1.1zM21.3 -22.5l1.4 2 -1.2 1 -0.8 -1zM-16.7 -21.5l1.2 0.2 0 2.7 -1.4 -0.9zM88.5 -12.5l1 -0.2 1.2 1.2 -0.2 0.7 -2 -0.7zM-118.3 -6.5l8.8 -0.9 4.8 0.9 2 2 -1.8 2.8 -1.7 1.2 -0.2 2 -2.5 4 -7.9 3 -4.7 0.9 -3.4 3.1 0.2 3 -4.3 1 -2.5 2.7 -2 -0.7 -0.7 1 -0.3 1 2 0.5 0.4 0.5 -1 1 1.6 1 0.2 -1 2.8 -0.2 1.1 2.2 5.9 1.8 0.9 3.2 -0.9 1.7 -1 0.4 -4 -1.4 -2 1 -2 -1.1 -3 2 -2 -1.2 -2.3 0.6 0.3 1 2 1.6 2 -0.1 0.7 2.5 -0.7 0.3 -1 -1.1 -1 1.9 -2.9 -0.1 -0.1 -2.4 -1 -0.3 -1 0.9 -1 -1.2 1.1 -2 -2.1 -0.6 -1 1.6 -1 -0.3 -4 2.1 -1 -2 -3 -1.1 -3 0.1 -4 1.4 -2.8 1.8 -0.7 1 0.5 2.1 -3 -2.6 -1 0.3 -1 1.4 -3.6 -0.2 0.2 1 -2.6 1 -2 -0.8 -1.1 -1.2 1.4 -4 -2.3 -1.1 -8 3.5 -3 0.2 -2 0.9 -5 0 -1.4 1.5 -0.1 1 -1.5 0.7 -1 -0.9 -2 0.3 -3 -0.9 -0.4 -2.2 -2.6 -1.7 1 -2.3 1.3 -1 -0.2 -1 1.9 -2 -0.8 -2 1.8 -2.8 2 -0.1 1 1.4 1 0.2 1.7 -1.7 0.3 -2 3 1.9 3 -1.7 2 0.3 0.7 -1.5 -0.7 -1.4 -1.5 -0.6 0.4 -1 -1.6 -2 -1.3 -4.2 -2 -0.8 -13 -1.9 -6 0.7 -1.8 -3.8 0.1 -10 0.7 -1.8 13 1.7 4 -0.7 6 0.7 6 -0.9 6 0.2 7 -1.1 16 0.7 23 -0.1 7 0.6 4 -0.1zM-185.5 18.6l-1 2.9 3.1 -1 -0.1 -1.4zM-182.5 12.4l0 5.2 2 -1.2 1 -2.7 2 1.5 2.2 -1.7 -2.2 -1.5 -3 1.5zM-148.5 10.4l-5.3 4.1 -0.1 2 4.4 1.1 5.5 -1.1 3.8 -5 -0.3 -1 -2 0.6 -2 -0.7zM-102.1 -4.5l2 0 0.6 1.4zM123.3 4.5l1.2 0 -1 2.9 -1.4 -1.9zM168.6 9.5l2.4 0 -1.5 2 -1 -1zM154 16.5l3.5 -0.8 4 1.2 0.1 3.6 -1.1 0.4 -4 -2.8 -0.6 0.4 0.3 1 2.1 2 -0.4 2 -1.4 -0.8 -2 0.7 -0.1 -1.9 -1.7 -3zM-212.5 17.5l2 0 0.3 1 2.7 1.3 1.4 -0.3 0.4 1 -0.8 2.1 -5 2.1 -0.5 -3.2 -1 -1zM166.1 19.5l1.4 -0.9 0.5 0.9 -0.5 1.6zM15.2 20.5l0.8 0 -0.5 2.6 -1.1 -0.6 0.1 -1.7zM28.1 24.5l1.5 0 0.7 1 -0.7 2 0.9 0.6 0.3 1.4 1.7 0 1.2 2 -0.5 2 -2.8 0 -1.1 2 1.7 1 -3.5 2.9 -1.5 -0.9 0.2 -1 2.7 -1 -1.7 -2 0.9 -1 -0.2 -1 -2.4 -5 1.8 -1zM15 25.5l0.5 -0.7 4 1.3 0.7 1.4 -1.7 0.6 -1 1.5 -1 -0.4zM20.4 28.5l1.3 1 2.8 0 1.3 3 -6.4 0 -0.1 -2zM19.8 35.5l1.4 0 -0.5 1 -2.2 0.5 -0.5 -0.5 0.5 -0.9zM-33.5 36.5l1 1 -0.9 2 -1.1 -0.8 -0.5 0.8 -1.5 0 -0.7 -1 2.7 -0.2zM-30.6 36.5l1.1 -0.5 0 1.7 -1 0.5 -2 -0.7zM21.2 39.5l1.3 0.7 -0.5 1.3 0.5 0.4 2 -0.3 0.5 0.9 -0.5 1.8 -3 0.1 -1.2 -0.9zM171.8 41.5l1.2 0 -0.1 1 -1.3 2 -1.1 0.4 -0.7 -1.4zM115.7 42.5l0.8 -1 1.9 2 -0.9 1.1 -1 -0.1 -1.9 -1zM131.3 42.5l0.2 -0.9 2 2.9 -2.6 0 0.7 -1zM163.7 43.5l1 0 0.8 2 -2.4 1 3.4 2.4 0 1 -3 0.7 -3 -2.2 -1.1 0.1 -0.4 2 -1.5 -0.1 -1 -0.9 4 -4.3 2 -0.5zM133.3 45.5l0.2 -1 2 1 -2 0.6zM-66.3 48.5l0.8 -1 1 0 1.2 2 -0.2 1 -2 0.9 -1 -0.4zM194.5 48.5l0.8 3 -2.8 2.4 -0.2 -1.4 1.7 -1zM-80.1 51.5l0.6 -0.8 1 -0.1 1 1.2 3 0.7 -1.6 2 0.7 2 -1.3 3 1.1 3 -0.6 2 0.1 2 1.2 2 -0.6 0.8 -2 -1.8 0.5 -4 -1.5 -1.2 -0.5 -1.8 -0.3 -3 2.3 -3 -3.5 -0.9zM-74.1 51.5l1.6 -0.6 2.3 1.6 -0.3 0.8 -3 0.3 -1 -1.1zM158.5 55.5l2 1 -3 1.4 0 -1.3zM-74 62.5l0.5 -0.7 2 0.7 1 2 0.8 6 2.5 3 -2.1 0 -5.1 -3 1 -1 -0.8 -1 0.6 -2zM70 90.5l1.5 0 0 3.1 -3 -2.1zM9 91.5l1.8 0 -0.3 1 -2 0zM25.5 91.5l2 -0.3 0.5 1.3 -2.5 1.5 -1 -1.5zM102.2 91.5l0.6 0 0 1 -1.3 1.1 -0.5 -1.1zM111.8 91.5l1.5 0 0.4 1 -1.7 0zM33.1 92.5l1.4 -0.8 1.3 0.8 -0.2 1 -1.1 0.2zM17.3 93.5l1.2 -0.7 2.2 0.7 -3.2 1.4z"/><path fill="#a7d0e4" d="M-89 -84.5l1.5 -0.8 1.9 0.8 -0.8 2 -1.1 0.6zM61.7 -83.5l0.8 -0.3 2 1.1 2 -0.3 0.5 0.5 -0.5 1 -1 -0.8 -3 4.2 -1 0.5 -2 -0.5 -0.3 0.6 0.9 1 -1.8 4 2.6 1 -2.4 2.6 -3.2 -1.6 -0.7 1 0.4 2 -0.5 0.7 -0.3 -2.7 -3.5 -2 1.3 -2 -0.5 -1.3 -1 -0.5 -1 0.5 0 1.4 -1 0.6 -2.2 -0.7 2 -2 -0.3 -1 0.7 -1 -2.2 -0.2 -0.6 -1.8 1.6 -1 1 0.8 0.9 -0.8 -0.8 -1 0.9 -1 0.9 1 -0.6 1 0.7 0.4 1 -1.1 4 0.1 2 -1.4 2.9 0 -0.3 1 1.4 0.5zM-108.9 -80.5l0.7 0 0 1 1.7 -0.7 6 1.2 0.3 1.5 -2.3 1.4 -2 -1.2 -1 0.3 -0.8 1.5 0.6 1 -0.3 1 -0.5 0.8 -1 -0.2 -1 -0.6 1.5 -2 -2.4 -1 0.9 -3zM-96 -80.5l0.5 -0.5 3 0.9 2.6 2.6 0.1 2 -1.7 0.8 -0.7 -1.8 -1.3 -1 -1 -2.9 -1 1.5 -1 -0.6zM41.1 -79.5l1.9 0 -0.5 1.8 -1 -0.3zM101 -79.5l1.9 1 -3.8 0zM106.2 -79.5l2.7 0 -1.4 0.1 -0.7 0.9 0.7 2.8 -2.3 -0.8 -0.2 -2zM-68.1 -78.5l0.6 -0.9 4 1.5 2 -0.7 0.3 1.1 -5.3 4.2 -1 -0.2 -1 0.7 -1.4 -1.7 0.4 -0.9 2 0.7 1 -0.8 0 -1.1zM36 -78.5l1.5 -0.7 1 0.7 -2 1.4zM-111.9 -77.5l2.3 0 -0.3 1 -1.6 0.7zM-74.3 -77.5l0.8 -0.4 4.1 1.4 -0.1 0.7 -2 0.7 -2 8.7 -2 -0.7 -1 0.5 0.1 -1.9 -1.1 -0.1 -2 2.5 -4 1.6 -0.8 -1 0.7 -1 -1.9 -1.4 -3 1.6 -1 -0.2 1.6 -4 -0.6 -1.1 -2 0.3 -0.5 -1.2 2.5 -3 1.8 0 2.2 2.6 1.8 0.4 0 1 -2.2 2 0.4 1 1 -0.1 1 1 1.3 -0.9 1.5 -4zM113.9 -77.5l2.6 0 -1 1.4zM-100 -76.5l0.5 -0.7 1 0.9 2 -1.2 0.4 1 -1 1 3.5 1 0.3 1 -1.2 0.9 -4 -1.6 -1.6 -1.3zM38.5 -76.5l3 -0.8 0.3 0.8 -2.3 1.8zM114.3 -75.5l0.2 -0.5 0.4 0.5 0.1 2 -3.1 1 -0.3 -2 0.9 -0.8 1 0.8zM-105.2 -74.5l1.7 -0.8 4 2.7 2 -0.3 1 1.4 0.1 2 -5.1 -1.2zM36.5 -73.5l1 -0.4 1.6 1.4 -0.6 2.2 -2 -1.7zM62.3 -73.5l0.2 -0.9 1 0.2 0.4 1.7 -1.2 0zM72.8 -72.5l0.7 -0.1 1.2 2.1 -1.2 1.4 -1 -0.4 -0.4 -1zM-102.3 -67.5l0.8 -0.9 1 0.3 0.6 1.6 -1.6 0.4 -0.8 -0.4zM-7.6 -67.5l1.2 0 3.3 5 0.2 2 -0.6 0.6 -3.4 -0.6 -1.7 -5 -0.1 -1zM-41.8 -64.5l1.8 0 0.1 1 -2.6 2 5.1 6 0.1 2 2.2 1 1.6 1.9 1 -0.4 3 0.9 2 1.7 2.8 0.9 -1.7 3 -1.9 1 0.5 2 -2.7 5.5 -1 0.4 -3 -0.6 -1 -1.2 -3.8 2.9 -0.6 3 1.6 2 -0.8 3 -1.4 1.6 -1.4 -0.6 0.1 -2 -0.7 -0.4 -5 0.7 -2 1.2 -2 -0.6 0.5 1.1 -1.5 0.4 -2 -0.1 -4 -1.7 -2 1.8 -1 -1 -0.5 1.6 -1.8 1 -0.4 2 -1.3 1.1 -0.2 0.9 3.2 2 2 -1.4 2 0.3 2 1.5 5 -0.6 2 0.6 1.9 -1.4 -0.8 -1 0.4 -1 0.5 -1 1 -0.1 1.5 2.1 -0.2 2 5.3 2 3.3 7 -0.9 1.1 -7 -0.5 -2 1.2 -2 -0.2 -2 0.8 -3 3.6 1 2 -4.5 2 -3.2 5 -0.1 2 -4.7 2 -1.1 2 0 2 2.4 1 0.2 1 2 0.2 1 2.8 5.5 5 -0.3 2 1.8 0.8 1 -1.1 1.4 0.3 0.5 3 -0.9 1 -2 -0.9 -1.6 1.9 0.1 1 -1.4 2 0.1 4 -3.2 5.8 -3 1.1 -4 -1.3 -2 2.6 -0.7 -1.2 -1.9 -1 -0.4 -1.4 -3.5 -0.6 0.2 -2 -0.7 -0.8 -1 0.4 -2.8 -2.6 0.6 -2 -1.3 -1 -0.5 -2 0.6 -2 -1.2 -3 0.6 -1.8 1.6 -0.2 -2.1 -2 1.8 -2 -1.8 -1 -0.5 -1.6 -3.4 -1.4 3.4 -0.2 1 -1 2 2.5 1 0.3 2 -0.9 4 3.4 0.4 -1.1 -1.1 -2 0 -2 1.7 -1 1 0.6 0.4 -0.6 -1.4 0 -1 -1.5 -3 -1 -2 -1.6 -2 2 -1 -0.2 -2 -3.7 -3 -1 0 -1.9 -0.5 0.9 0.5 1 -1 0.1 -1.7 -1.1 0.3 -2 -1.6 0.6 -0.8 -0.6 0.4 -2 -0.9 -2 4.3 -1.3 0.6 -0.7 -0.4 -2 0.8 -0.9 2 0.2 1 -1.3 4 1.3 0 -1.5 -2 -1.6 -1.3 -0.2 0.6 -1 1.7 -0.4 1 1.5 1 0 0.3 -1.1 -0.8 -1 0.5 -1 1 0 1 2.7 1 0 1.2 -1.7 0.8 3.3 1 -1.9 1.5 0.6 0 1 1.5 1.6 3 -0.9 0.6 1.3 -0.6 1.5 4 1.7 1.1 -0.2 -0.6 -1 -2.5 -2 1 -0.8 1 0.5 0.3 -0.7 -1.3 -0.7 -1 0.2 0.2 -1.5 -2.2 -1.5 -2.5 0.5 1.5 1.2 -3 -0.7 0.3 -1.5 -1.3 -2 -1.7 -1 -0.9 -3 -4.4 -2.3 -1 0 -2 1.5 -5 -1.3 -6 2.2 -3.3 -2.1 -0.7 -1.5 -3 1.5 -0.1 -4 -0.7 -1 -4.2 -0.3 -0.9 -0.7 2 -6 -1.1 -0.6 -3 0.4 -2 3.2 -3 0.2 -2.2 -3.2 0.2 -4.9 2 -3.4 2.2 -1.7 1.8 -0.9 3 0.6 4 -1.8 3 0.6 1.2 1.5 0.8 4.2 1 0.7 1 -0.6 0.9 -1.3 -0.7 -4 1 -3 6.8 -4.6 1 -3.1 2 -2.3 6 -3.3 1.5 -1.7 2.5 0.1 1 0.9 0.5 2 -1.6 0 -0.5 6 2.1 2 0.4 2 1.1 1.2 3 -0.8 5 0.4 3 -2.1 -0.1 -1.7 1.1 -1 1 -3.5 1 1.1 5 -0.8 0.7 -1.8 2.9 -1 1.8 -3 -0.4 -1 1.8 -2 -0.3 -3zM-63.5 16.9l-0.3 2.6 1.3 1.3zM-61.5 40.5l-0.8 1 0.8 0.5 1.1 -0.5 0.2 -1zM-76.5 21l-2.4 1.5 0.8 2 2.6 0.4 0.2 -2.4zM-69.5 9.1l-1.6 2.4 3.1 1 -0.2 -2zM-94.5 -31.7l-3 1.3 1 1 4 0.9 2 2.6 2 -0.3 1.7 -1.3 -3.7 -2.8zM-84.5 -27.7l-1.4 1.2 -0.3 2 0.7 0.4 2 0.4 3.5 -1.8 -2.5 -2.7zM-76.5 -43.7l-1.8 1.2 -0.9 5 -1.3 1 3 0.7 1.1 1.3 -0.1 1.1 -1 1 -1.3 -0.1 -0.1 1 2.4 0.6 1.8 -0.6 0.4 -2 1.8 -1.8 1.1 -0.2 -0.1 2 1 0.8 1.2 -1.8 -1.2 -2 0 -1.1 1 -0.9 -1 -1 0.4 -1 -0.6 -1 -2.8 -2zM-39.5 -42.6l0 2.3 3 0.8 0.7 -1 -1.5 -2zM-184.1 -62.5l2.6 -0.6 1.3 0.6 -2.3 3.5 -2.1 -2.5zM-16.7 -61.5l2.4 1 0.7 3 -1 2 3.1 2.7 0.8 2.3 2.2 2 0.1 1 -4 4 -0.3 3 -0.9 1 -1.9 0.5 -1.3 -0.5 0.3 -0.9 1 0.2 0.6 -1.3 -1.7 -1 2.1 -2 -0.7 -2 -2.5 0 -0.8 0.9 -5.6 -3.9 -1.8 -4 0.4 -2.7 1.5 -0.3 -0.5 -2.5 2 0zM-64.6 -58.5l1.2 0 0.2 1 -1 1 1 1 -0.3 2.3 -4 -1.9 -1.9 -2.4 0.9 -0.4 3 0.8zM-155.1 -57.5l2.6 -0.3 0.8 1.3 -2.8 1.3 -1 -1.1zM6 -57.5l2.1 1 -0.5 3 -2.1 2 -2.2 0 -1.7 -2zM49 -57.5l0.5 -0.9 0.9 0.9 0.1 1.4 -1 -0.2zM192.3 -55.5l2.2 -0.4 3 1.6 2.2 2.8 0 1 2 2 0 1 2 2 3.1 7 1.1 1 0 2 0.9 1 0 2 0.7 1 -1 0.5 -0.5 1.5 0.5 0.8 2 0.2 -0.4 3 1 3 -0.2 3 -3.4 2.1 -1 2.5 -1 0.4 -2 -5.2 -1 -0.7 -2 3.1 -1 -0.6 -1 2.4 -3 0.6 -3 -2 -1 -2.5 -2 -2.1 -4 -2.6 -1 1.3 -3 -0.9 -3 1.9 -2 -0.4 -2 0.9 -5 5.4 -5 0.8 -4 -3 -5 -1.3 -4 -0.1 -0.8 -1 1.2 -3 -0.4 -1.1 -3.9 1.1 0.9 0.1 0.4 0.9 -0.6 2 1.1 1 0.1 1 -1 0.7 -1.8 -0.7 -2.2 -2.2 1 -2.8 1 1.2 1 -1.2 -1 -0.5 -1 0.5 -2 -2 -2 -0.3 -0.9 1.3 -0.4 4 3.6 3 0.1 1 -1.4 1.4 -3 -0.7 -2 3.1 -4 -0.5 -2.1 -1.3 -1.1 -4 -2.4 -4 0.1 -1 3.1 -2 -0.8 -2 2.2 -1.2 2 0.2 4 -5.4 0.6 0.4 -0.4 3 1.8 1.6 2 -3.6 -1 -1.8 -2 0.4 -0.3 -0.6 1 -4 -1.1 -5 -3.5 -4 0.7 -3 -1.9 -1 2.1 -0.3 2 2.3 -0.1 1 3.1 2.6 4 0.4 -0.6 2 0.7 3 -0.4 1 4.3 3 1.3 3 -0.3 2.3 1 1.3 1 -0.8 1 1.1 1 3.5 2.2 -0.4 1.9 -3 -0.9 -1 -0.7 -7 5.5 -2.2 1 0 3 3.2 3 -0.8 1 -1.9 2 0.3 1 -0.7 0.7 -0.9 -0.3 -1 2.6 -3.4 2 -1 3 0.5 4 -2.2 1 -2.1 5 -3.8zM-192.7 -53.5l2.2 -0.7 1 1.6 3 0.6 2 -0.7 1 0.4 1 -2 1.7 0.8 2.2 3 1.1 0.4 1 -1.2 3 0.9 2 -1.3 2 0.5 1 -1.7 0.9 1.4 2.1 0.7 3 2.9 3 0.5 2 1.6 2 -0.5 0.2 -1.2 1.3 -1 -0.6 -2 1.1 -1.2 0 -1.9 4.9 1.1 -0.6 2 1 2 -0.3 1 -0.9 2 -1.1 0.5 0.2 1.5 -1 2 0.8 7 -1.1 2 0.3 2 -1.7 3 -4.5 3.4 -3 -0.4 -1 -1.5 -1.2 1.5 -3.8 1.8 -2 -2 -4 1.4 -2 -0.3 -7 4.6 -2.6 -1.5 0.7 -2 -2.5 0 1.4 -2 3 0 0.8 -1 0.7 -1 -1.5 -1.8 -10 4.2 -2 -0.7 -7 1.8 -3 -1.5 -1 0.1 -0.9 -6.1 -3.1 -4 2 -3.5 2 -0.5 1.2 -2 -1.2 -2.1 1.5 -0.9 -0.5 -2 1.9 -2 0.1 -1 4 -2.2 1 0.3 1 -1.8zM-192.5 -36.4l-1.4 1.9 0.4 0.6 2 -1.1 2 0.1 0 -1.3zM-167.5 -32l-0.8 0.5 0.2 3 -0.9 1 1.5 2.3 1 0 1.3 -3.3 -1.2 -3zM58.4 -36.5l0.1 -0.9 4.3 2.9 -1.3 1 -1 -0.3zM151.3 -35.5l1.2 -0.8 0.7 0.8 -0.7 2 -1.6 -1zM70.3 -33.5l6.2 0.6 3.1 2.4 2.9 3.9 1 -0.9 0.7 1 -0.7 0.9 -2.3 -0.9 0 2 -0.7 0.8 -3.9 -0.8 -0.1 1 -1 0.6 -2.2 -2.6 0.4 -2 -4.7 -5zM-125.9 -31.5l0.4 -0.5 1.1 1.5 -0.5 3 0.7 2 7.3 4 1.4 1.8 4 -1 2 2.2 5 1.8 1.3 2.2 -5 0 -1.3 -2.5 -2 -1.2 -2 0.4 -2 -1.7 -2 1.5 -3 -0.5 -2 1.4 -3 -0.9 -1 -2.4 -3 -3.1 0.1 -2 0.9 -1.2 1 1.7 1.7 -0.5 -0.7 -5zM105 -28.5l0.7 0 1.6 2 0.3 2 -2.1 0.3 -1 2.4 -2 -1.3 -1 0.9 -1.3 -2.3 2.3 -2.7zM-211.5 -24.5l4 -0.2 -0.2 1.2 1.3 2 -0.6 1 0.5 2 -0.4 1 -4.6 1.7 -1 -0.3 -0.3 -3.4 0 -1 1 -1zM101.5 -20.5l1 -0.8 1 1.8 -1 0.5zM98.6 -17.5l0.9 -0.5 0.7 0.5 0.2 1 -0.9 1 -1.3 -1zM19.4 -10.5l4.1 2.7 3 -0.2 2 2.3 2 -1.5 2 1.3 2 -0.2 2 2.7 2 -1.2 2 2.9 1.4 -0.8 -0.6 -2 1.2 -1.5 1 -0.2 1 1.5 0.6 -2.8 1.4 -1.6 3 -1.1 1 1.8 2 -0.2 1 1.6 3 -0.1 4 -3.8 2 0.2 2 -0.7 4 2.1 3 -0.7 6 4.2 1.7 2.3 4.3 1.7 2 -0.8 2 0.4 2 -1 2 0.9 2 -1.6 2 0 3 -1.3 1 1.8 2 0.2 3 -2 3 0.6 0.5 -1.9 1.5 -0.9 3 2.6 0.7 3.3 -2.2 5 1.1 2 -2.6 1.5 -3 -0.4 -2 -1.9 -3 -0.4 -8 2 -16 -0.2 -2 0.7 -1.3 1.7 -0.1 3 1.4 3.2 1 0.7 2 -0.8 2 0.7 1.1 -0.8 0.9 2.4 1.1 -0.4 0.3 3 -0.4 0.4 -2 -1.3 -4 3.9 -3 0.7 -2.6 -0.7 -0.3 1 1 2 -1.1 3 -4 -1.8 -0.6 -1.2 0.6 -1.2 1.2 0.2 0.8 1.3 1.5 -1.3 -1.3 -2 1.8 -0.8 0 -1.2 -2 -1.7 -2.1 1.7 -2.9 0.3 -2.7 1.7 0.2 3 -2.5 0.5 -1 1.9 0.1 -3.4 0.8 -2 -1.1 -1 0.2 -4.4 -1.9 1.4 -1.1 1.9 -4.5 3.1 -0.1 4 -1.4 1.7 -1.9 -1.7 1.7 -2 -1.8 -1 -0.4 -1 2.1 -4 -0.7 -0.9 -1 0.7 -2 -1 -1 0.5 -1.8 2.7 -0.2 2.5 -1.5 -0.5 0.1 -3 -1.6 -0.9 -0.8 0.9 -0.1 3 -2.1 1.1 -0.5 -2.1 2.4 -1 -1.2 -2 -2 -1 1.3 -2 -2 -0.6 -1 0.7 -1 -1.1 2 -0.9 0.3 -2.1 0.7 -0.5 1 1.2 1 0.2 1 -0.8 3.4 0.9 -1.4 2 -2 0.2 -1 -0.7 -1 1.5 2 2.5 4.7 -1.5 -1.3 -1 3.6 -3 1.2 0 0.8 1 0 2.5 1 -0.4 1.8 -4.1 -0.9 -2 -2.2 -2 -0.8 -3 3.6 -4 -1.5 -2.2 -1 2.1 -1 -1.8 -2 1 -2 -0.6 -0.4 1.5 -2.6 1.8 -1 -0.7 0.2 -2.1 -0.9 -1 -3.3 -1.4 -0.8 1.4 0 3 2.8 1.6 3 -0.3 1.6 1.7 -0.2 1 -2.4 0.7 -1 -1.6 -0.3 2.9 -2.7 2.8 -0.5 -0.8 0.5 -2 -2.9 1 -0.4 1 1.1 3 -0.8 1.6 -2.8 -1.6 -0.2 -1.6 -1 0.1 -0.6 0.5 1.2 2 -2.6 -1.1 -1 0.3 -2 3.3 -2 -1.4 0.8 -1.1 -0.8 -0.7 -1 -0.4 -2 0.7 -0.9 -0.6 -3.1 -7.1 -3 -1.1 -5 1.3 -8 0.6 -3.3 1.3 -5.4 5 -0.5 2 1.3 2 -2.1 1.5 -3 -0.1 -0.3 -2.4 -3.7 -3 -1.8 1 -1.2 2.2 -1 -0.8 -2 0.3 -1 -0.9 -2 0.4 -7 -2.8 -2 1.3 -2 -0.3 -1 -1.1 -0.4 -5.3 -6.6 -4.8 -1.4 -0.2 1.4 -2.1 1 0.8 3 0.6 2 -0.4 2 -1.9 2 -3.5 1 0.7 3 -1.7 4 0.2 4 -0.9 2 -1.4 5 -0.3 2 -1.5 1.2 0.4 0.2 1 -1.1 1 1.7 1.5 1.2 2.5 4.8 2.1 3 -0.6 2 -2 3 -0.9 3 -0.8 5 0.1 1.1 -0.9 -0.6 -1 0.5 -1 2 -0.9 1 2.5 0.2 -0.6 2.8 -0.8 1 -1.7zM43.5 -3.6l-0.9 1.1 0.9 0.8 1.5 -0.8 -0.5 -1.6zM10.5 -5.7l-1.6 1.2 2.6 0.4 -0.1 -1.4zM36.2 -7.5l1.3 -0.7 1.9 0.7 -0.9 1.4zM-214.5 -4.5l3 1.3 3 -0.8 5 3.2 9 -1.3 3 1 3 -1.3 2 2.4 4 0.8 1 -0.7 4 0.4 2.6 -1 0.4 -1 -1 -2.3 4 -1.2 0.9 0.5 0.1 1.1 2 0.8 4 -2 2 0 0.3 1.1 1.4 1 3.3 1.3 2 -1.9 5 0.2 1 -0.8 3 1.6 2 -2.1 2 0.5 3 -0.7 9 -0.1 5 1.6 2 -0.7 2 0.8 2 -1.3 6 -1.2 1.8 0.8 0.9 2 1.7 1 -1.2 4 -2.2 2.1 -3 1.5 -5 1.1 -6 3.3 -5 0.6 -11 -2.4 -7 0.1 -13 1.5 -6 2.2 -2 -0.4 -1.6 -1.6 -2.4 -1 -11 0.5 -4 1.2 -3 -1.5 -15 -2.7 -6 0 -1.1 -0.5 -0.2 -1zM160.8 -4.5l7.7 0.6 5.1 1.4 1 1 -1.1 0.4 -4 -0.6 -2 0.9 -3 -0.6 -3 1 -4 -0.4 -2.9 2.3 0.2 2 -2.3 0.3 -0.5 0.7 2.7 1 -1.2 1.5 -3 1 -3 -0.7 -1.2 -3.8 1.2 -2.9 3 -1.1 2 2.4 2 -4.8zM189.9 -3.5l4.6 -0.4 7 0.6 6 1.6 7 -2.2 0.3 10.4 -1.3 1.9 -4 0.3 -9 2.6 -5 -0.9 -4 0.9 -3 -1.3 -0.9 0.5 -0.1 1 -0.9 -1 0.5 -1 -2.6 0.6 -3 -1.1 -0.1 -2.5 -0.9 -1.1 -2.4 0.1 0.7 -4 -2.6 -2 -0.1 -1 1.4 -0.5 2 1.1 3 -0.4zM140.4 1.5l1.1 4 -0.2 2 -0.8 0.8 -3 1.3 -3.7 -2.1 -0.5 -1 0.5 -1 3.7 0zM43.2 2.5l1.3 -0.5 1 1.5 -1 0.6zM-93.6 3.5l2.5 1 -0.4 0.7 -1.7 -0.7zM-93.8 6.5l1.3 -0.6 0.8 0.6 0.8 3 -0.6 0.8 -0.7 -2.8zM99.2 14.5l1.5 0 2.8 3 2 -0.4 2 0.6 4.1 -2.2 4.4 3 2.5 0.3 4.7 -2.3 0.3 -1.8 4 0.9 1 0.9 0.4 4 -1.1 3 0.5 2 -0.5 1 3.7 1.6 0.5 1.4 -2.5 3.5 -3 1.6 -1 -0.3 -2 -1.8 1.3 -1 -0.2 -1 -1.8 -1 1.6 -4 -1.9 -1.2 -1 0.2 -1.6 3 2.5 2 -0.9 1 -3 -0.5 -1 0.2 -1 1.6 -5 1 -1 -0.5 0.5 1.2 -1.5 0.9 -2 0.4 -3 -0.8 -4 -3 -3 0 -7 2.7 0.1 -3.2 -1.6 -1 -0.2 -1 2.1 -2 1.6 -4.8 4 -3.1 0 -2.3zM-47.1 15.5l0.6 -0.5 0.9 0.5 0.8 1 -0.5 1 -1.2 0.6 -1.3 -0.6zM-42.8 15.5l0.8 0 0.6 1 -1 2 1.1 2 -0.3 1 -1.9 1.1 -1 -2.1 1.8 -2 -0.7 -2zM157.9 17.5l2.6 0 -1 1.2 -1.1 -0.2zM-50 18.5l1.5 -0.1 2 1.5 0.3 0.6 -1.2 1 0.5 1 -0.6 0.6 -2 -0.8 -2 0.2 -1 1.2 -1 0.1 -0.4 -1.3 0.7 -1zM185.1 21.5l1.4 -0.5 1.4 0.5 -0.4 1 -2 1 2.4 3 -2.4 0.2 -2 1.2 -2 -0.6 -2 2.5 -1.3 -0.3 -2.8 -4 0.4 -1 2.7 -1.6zM-34.4 22.5l0.9 -1 1.4 1 0.9 2 -0.7 2 -0.6 0.8 -2 -1.5 -1 0.2 -1 1.7 -1.2 -1.2 -0.2 -2 0.4 -0.9 3 0.1zM194.8 23.5l0.7 -0.5 2 0.8 1 3.3 2 0.4 1 -0.9 1 4.2 -3 -1.4 -0.1 1.1 1.5 1 -1 1 -1.4 0.4 -2 -0.9 -0.2 -1.5 1.8 -1 -1.9 -2zM-193.6 26.5l1.1 -0.7 2 0.6 3.7 4.1 -1.7 1.2 -2 0 -1 1 -5 -0.3 -0.7 -1.9 3.7 -2.7 1.6 -0.3zM-171.1 26.5l4.6 0.7 5 -1.4 3 2.1 3 1.1 0.1 1.5 -2.1 -0.1 -3 1.6 -9 1.8 -3 -2.1 -1.5 -0.2 -0.5 -1.1 -2.9 -0.9 -0.5 -1 2.4 -0.8 2 1.8 0.4 -2zM64 26.5l1.5 -1 0.8 1 -0.8 2 -1 0zM60.9 27.5l0.6 -0.3 0.6 1.3 -1.6 0.8zM31.2 30.5l1.6 0 -1.3 1.7zM35.4 36.5l0.4 1 -1.3 0.2 -1 2.2 -0.4 -2.4zM-78 42.5l1.6 0 0.8 1 -2.9 0.7 -0.6 -0.7z"/><path fill="#6bacd1" d="M53.4 -78.5l2.1 1 1 -0.7 1.1 0.7 -0.4 1 -3.6 1 1.7 1 0.2 1.6 -1 0.2 -0.8 -0.8 -0.3 -2 -1 -1 -0.2 -1zM-74.9 -75.5l1.4 -0.8 1 0.8 -1 1.4zM-86.4 -72.5l0.9 -0.2 0.9 1.2 -0.9 1.2 -1 -0.2 -0.7 -1zM-74.7 -72.5l1.2 -0.2 0.4 1.2 -1.4 1.2 -0.6 -1.2zM191.4 -48.5l0.7 1 -2.2 2 0.2 1 3.1 -1 0.7 -2 2.6 -0.9 2 0.3 4.4 4.6 0.1 2 1.5 2.5 3 1.5 0 1.7 -1 1.3 -4.1 2 1.1 0.5 0.5 1.5 -0.5 5 -1 0 -0.8 -2 -1.2 -0.6 -2 1.7 -3 -2.4 -2 1 -2 -0.2 -6.2 -4.5 -0.3 -1 -1.5 -0.5 -2.1 -2.5 0.1 -3.9 2.5 -3.1zM-188.3 -47.5l0.8 -0.8 3 0.7 4 2.5 3 0.6 5 -2.4 4 0 1 0.8 1 -0.4 1.1 1 -1.1 0.1 -0.6 0.9 0 4 -1.4 0.1 -1 0.9 0 1.2 -2 -1 -1 1.8 -2.9 1 0.9 5 -1 0 -3 -0.7 -3 -2.6 -4 -0.2 -0.3 -3.5 -2.8 -3 0.1 -4 -0.6 -1zM-51.7 -41.5l0.2 -0.7 2 -0.1 0.5 0.8 -0.5 1.8zM-46.2 -41.5l0.7 -0.5 1.4 0.5 -0.8 1 1.4 -0.2 0.8 1.2 -0.3 3 -1.5 2.6 -1.8 -0.6 -0.2 -2.3 -1 -0.1 -1 0.9 -1.1 -0.5 1.1 -2.3 2.1 -0.7 0.6 -1zM-100.8 -39.5l3.6 0 0.8 1 1.1 5 -3.3 4 2 1 0.5 1 -1.4 2 0.4 1 -4.4 2.1 -0.7 -1.1 1.7 -5 -4 -1.9 0.1 -5.1 -0.6 -2 1.5 -0.1zM-54.8 -39.5l3.3 -0.5 1.1 1.5 -1.1 7 -1 0.5 -1.3 -0.5 -0.7 -1.5 -3 -0.5 -2 -1 -1 -1.4 -1 0.8 -2.2 -0.4 1.2 -2.3 2 0.4 4 -0.9zM-202.2 -32.5l0.7 -0.4 1.6 1.4 -0.6 2.9 -2 -2.4zM-157.6 -32.5l1.1 -1 0.7 1 0.3 1 -1 1.2 -1.1 -0.2zM164.3 -30.5l1.2 0.5 1 -0.9 0.8 2.4 -2.7 4 -0.1 1.4 -1 0.4 -1 -0.8zM-81.3 -23.5l1.8 -0.6 0.4 0.6 -0.6 1 0.3 2 -1.5 2 -1.6 -0.3 -2 1 -4 0.2 -0.7 -0.9 -0.1 -1 3.1 -2 1.7 0.3zM-60.6 -15.5l7.1 0.9 4.4 2.1 0.2 2 -1.6 1.6 -6 2.7 -4 -0.5 -6.8 -2.8 -1.2 -3 -1.1 0 1.1 0 2 -2.1zM15.9 -7.5l0.6 -0.5 1 0.7 1 -1 3 0.5 2 1.2 2 -0.7 2 0.7 -1.5 1.1 -0.2 1 0.7 0.8 2 -0.8 3.4 1 1 1 -0.2 5 3.5 2 -1.7 1.5 -1 -1 -2 0.1 -1 1.5 -3 1.1 -0.7 0.8 0.4 1 2.2 1 -7.9 0.4 -3 1.5 -3 -2.9 -3.6 -6 -1.4 -0.7 -5 2.4 -6 0.2 -2 -1.9 -0.7 -2 1.5 -3 2.2 -1 6 -0.2 3 1.7 1 1.6 3 0.4 0.7 -0.5 -0.5 -3 0.9 -1zM17.5 -4.7l0 1.4 1.8 0.8 -0.1 1 1.3 1.5 1 0 -3 -5.2zM24.5 -1.5l-0.8 2 2.2 1 -0.2 1 0.8 0.3 0.5 -1.3 -0.5 -2.2zM58.5 -7.5l2 -0.9 2 0.8 2 -0.6 2 2.4 3.6 0.3 2.2 2 0.4 2 1.1 1 0 3 -2.3 3.8 -3 0.8 -3 -6 -4 -1.1 -2.9 5.5 -3.1 2.8 -1 -0.5 -0.7 0.7 -1.3 -0.2 -1.3 -0.8 0.3 -1.1 -3.2 0.1 -0.5 -1 3.3 -4 0.4 -2.5 1.5 -0.5 1 -2zM-70.5 -4.5l1 -0.2 1 1.7 2 -0.3 1.3 1.8 0.7 3.3 1 0.4 0.8 -0.7 -0.7 -1 0.9 -0.8 2.6 1.8 0.4 1 -1 0.7 -2 -0.5 -0.7 0.8 0.7 1.6 1 -1 0.3 0.4 -2.2 4 -1.4 -1 -0.7 -2.7 -2 0.2 -4 4.4 -3 -0.2 -2 -1.9 -2.7 0.2 -2.3 -3.2 -1.3 0.2 0.3 -1 -1 -1.5 -2.1 2.5 -0.2 -2 2.3 -2.9 1 0.5 1.3 -1.6 2.7 -1.4 2 1.2 1 -1.9 3 2.9zM-69.5 2.3l-0.1 1.2 1.1 0.7 0.1 -1.7zM33.4 -4.5l1.1 -0.5 0.2 1.5 -1 0zM-30.4 -1.5l0.9 -0.9 4 0.6 2 -0.4 1 0.5 1 2.2 1 0.4 2 -1.5 0 2.3 1 -0.3 4.9 2.1 0.9 3 -1 1 0.9 1 -0.7 1 -3 1.2 -5 0 -4.4 1.8 -3.6 0.2 -5 -2 -1 -1.4 -1 -0.3 -1 0.8 -2 -0.6 -0.8 -0.7 1.8 -5.6 1.9 -2.4zM10.8 -1.5l0.7 -0.6 1.6 0.6 -1.6 1.7zM-166 -0.5l1.5 -0.9 2.3 0.9 0.7 1.2 8.5 2.8 0.6 1 -0.5 3 -0.6 0.2 -4 0.6 -2 -0.4 -9 1.9 -6 -1.7 -6 0.4 -5 -0.6 -5 1.2 -4 -1.8 -4 -0.2 -1.7 -1.6 -0.3 -2 5 -2.9 15 3.7 2 -1.4 6 -1.5 2 0.3zM-115.9 -0.5l1.4 0.3 0 1.8 -3 0.9 -1 2.3 -2 0.4 -2 1.3 -1 -0.2 -2 2.3 -9 0.3 -7 -2.4 2 -4 4 -1.3 1 -1 4 0.1 4 -0.8 2 0.8 3 -0.7 4 0.8zM196.8 -0.5l4.7 -0.1 6 2.4 0.6 4.7 -1.4 1 -2.2 -0.8 -6 1.8 -4 -1.8 -3 1.8 -5 -1.3 -1.6 0.3 -2.2 -2 0.8 -1.7 3 -0.4 1 -1.4 4 -2 3 0.7zM213.3 3.5l1.2 -0.3 0 2.6 -2 0.6 -1.9 -0.9 1.9 -0.6zM-146.3 4.5l1.3 0 -0.5 1.4 -1.8 -0.4zM33.3 6.5l1.2 0.6 1 -0.4 0 1.5 -2.9 -0.7zM55.2 13.5l1.3 0.8 0.2 1.2 -1.4 1 -0.8 1.9 -1.2 -0.9zM-69.5 20.5l2 -0.8 3 0.2 3 2.7 2 -0.8 0.6 0.7 0 3 -0.8 1 4.2 4 -1 1.7 -1.1 -0.7 -0.4 2 1 4 -0.5 1.9 -3 -1.2 -3 3.2 -1.2 0.1 0.7 2 -0.5 0.4 -2 -1 -2 1.4 -1 -0.2 -0.8 -0.6 0.7 -1 -0.6 -1 -3.3 0.3 0 -1.3 0.9 -1 -2.9 -1.2 -0.8 -2.8 -3.2 -2 0.3 -2 3.1 -2 -0.1 -1 2 -3 -0.3 -3.2 3 0.1zM-59.8 41.5l0.3 -0.5 0.7 1.5 -0.4 1 -2.9 1 0 -1z"/><path fill="#3783bb" d="M196 -41.5l0.8 0 0.5 1 0.5 3 -1.9 2 -3.4 1.5 0.3 -2.5 1 -1 -0.5 -3zM-181.5 -40.5l1 -0.8 2.2 1.8 -2.2 0.4zM-61.6 -13.5l4.1 0.4 2.7 1.6 0.3 1 -2 1.5 -4.2 0.5 -4 -2 0.2 -1zM16 -6.5l0.5 -0.6 1.2 1.6 -1.2 0.9zM20.4 -5.5l0.1 -0.5 4 0.4 1.4 2.1 -0.4 1.1 -2 -0.6 -0.1 2.5 -0.9 0.7 -1.7 -2.7zM15.1 -3.5l1.4 -0.7 1.9 3.7 1.6 1 -0.5 0.9 -3 -0.6 -0.7 0.7 0.7 1.2 -1 0.4 -1.6 -0.6 1.2 -2 -0.9 -2zM-70.6 -2.5l1.1 -0.6 0.5 1.6 1.6 1 0.6 4 -0.7 0.4 -0.4 -2.4 -2.9 1 0.4 1 -0.5 1 -2.4 1 0.8 0.9 1.2 0.1 -0.2 0.6 -1 -0.4 -1 1.5 -2 -0.5 -1 -1.5 -2 0.3 -1 -0.7 -1.8 -4.3 0.8 -1.5 2 1.5 1 -2.4 2 1.1 2 -0.6 1 0.9 2.8 -2zM28.9 -2.5l1.6 -0.7 1.5 0.7 0.3 1 -0.8 0.9 -2 -0.9 -0.8 1 0.8 1.7 1.7 0.3 -0.1 1 -1.6 0.4 -1.8 2.6 -2.2 1.2 -1 3.2 -2 -1.2 -2 0.4 -0.9 -0.6 -0.7 -1 1.2 -1 -0.6 -3.5 2 -0.3 0.6 1.8 1.4 0.8 2 -0.5 2 -2.8 1.3 -0.5 -1.7 -2 0.2 -1 1.2 0zM1.1 -0.5l3.4 0 2.3 2 -1.3 1.4 -4 0.6 -1.8 -2zM-127 2.5l2.2 1 -0.9 1 -0.1 2 -2.7 1.2 -2.9 -1.2 -0.1 -2.8zM-169.8 4.5l3.3 -0.6 1 1.3 1 -1.4 0.7 0.7 -0.3 1 1.2 1 -3.6 1.5 -4 -0.3 -2 -1.2 -0.1 -1zM-30.8 4.5l4.3 1.2 1 1.6 2 0.2 -0.4 1 -0.6 0.4 -1 -1.3 -1.1 0.9 0.1 1.1 -2 -0.4 -3.6 -3.7zM-66.8 20.5l2.3 0.5 3 3.4 1.8 0.1 -0.8 1 -1 -0.5 -0.6 2.5 0.7 1 -1.3 1 2.1 2 -1.2 3 3.3 1.1 0.8 1.9 -1.8 0.4 -2 -0.9 -0.9 2.5 -1.1 1 -2 -2.9 -1 -0.1 -0.4 1 1.5 2 -1.1 1.5 -1 0.1 -5.4 -3.6 -0.1 -3 -3.1 -1 -0.1 -1 1.6 -6 1.2 -1 -0.1 -2.6 2 0.7 2 -3.5 0.9 0.4 -0.6 2 1.7 0.8 1.5 -1.8 -1.2 -1zM-67.5 24.8l-1 3 4 0.6 0.8 -0.9 -1.1 -2 -0.7 -0.7zM-64.5 32.4l-1 0.2 0 1.5 1.7 -0.6zM-58.9 30.5l0.4 -0.7 0 1.7 -1 2.1 -0.9 -2.1z"/><path fill="#1c5c9f" d="M15.5 -3.5l1.1 1 0 1 -1.1 1 -0.6 -2zM-74.6 0.5l1.1 2 1 -0.6 0.6 0.6 -0.3 1 -2.3 0.1 -2 1.1 -1 -1.9 -1 1 -0.4 -1.3 2.4 -1.7zM-71.1 0.5l1.6 -0.6 0.7 0.6 -1.7 1.3 -1 -0.3zM21.9 6.5l0.6 -0.6 2.1 0.6 -1.1 1.3zM-70.8 24.5l0.3 -0.6 1.5 0.6 0.2 1 -0.7 0.9 -1.9 -0.9zM-73.7 28.5l1.2 -0.7 3 3.6 2 -0.1 0 -2.8 2 -0.1 3.6 3.1 -0.6 1.8 -3 -1.4 -0.3 2.6 2 1 -1.7 1.4 -2 0.4 -2.3 -4.8 -1.8 0 1.6 6 2 0 0.5 2.2 -2.1 -0.2 -1.5 -2 0.4 -1 -1.6 -1 0.3 -1 -3.5 -2 1 -1.9 2.3 -0.1zM-64 37.5l1.4 0 0.1 1 -1 0.5z"/><path fill="#053061" d="M-76.6 1.5l1.1 0.3 0 1.1 -1 0.3zM-66.7 29.5l1.2 -0.5 2.6 2.5 -2.6 -0.2 -1 -0.6zM-74.6 32.5l2.1 0.2 1 0.8 -0.4 1 -2.6 -0.6zM-68.9 32.5l2.4 -0.4 0.1 2.4 1.1 1 -2.2 0.1z"/></g>
<use href="#co" fill="none" stroke="#000" stroke-width="2" stroke-linejoin="round" stroke-linecap="round"/>
</g>
<use href="#bd" fill="none" stroke="#c2c2c2" stroke-width="1.1"/>
</g>
<g>
<path d="M286.1 641L260.3 652.6L286.1 664.3Z" fill="#053061"/>
<rect x="286.1" y="641" width="49.9" height="23.3" fill="#1c5c9f"/>
<rect x="335.7" y="641" width="49.9" height="23.3" fill="#3783bb"/>
<rect x="385.3" y="641" width="49.9" height="23.3" fill="#6bacd1"/>
<rect x="434.9" y="641" width="49.9" height="23.3" fill="#a7d0e4"/>
<rect x="484.5" y="641" width="49.9" height="23.3" fill="#d7e8f1"/>
<rect x="534.1" y="641" width="49.9" height="23.3" fill="#f7f6f6"/>
<rect x="583.8" y="641" width="49.9" height="23.3" fill="#fcdfcf"/>
<rect x="633.4" y="641" width="49.9" height="23.3" fill="#f7b799"/>
<rect x="683" y="641" width="49.9" height="23.3" fill="#e48066"/>
<rect x="732.6" y="641" width="49.9" height="23.3" fill="#c94741"/>
<rect x="782.2" y="641" width="49.9" height="23.3" fill="#a51429"/>
<path d="M831.9 641L858.2 652.6L831.9 664.3Z" fill="#67001f"/>
<path d="M286.1 641L831.9 641L858.2 652.6L831.9 664.3L286.1 664.3L260.3 652.6Z" fill="none" stroke="#ccc" stroke-width="1"/>
<path d="M286.1 664.3v4.9" stroke="#262626" stroke-width="1.1"/>
<path d="M335.7 664.3v4.9" stroke="#262626" stroke-width="1.1"/>
<path d="M385.3 664.3v4.9" stroke="#262626" stroke-width="1.1"/>
<path d="M434.9 664.3v4.9" stroke="#262626" stroke-width="1.1"/>
<path d="M484.5 664.3v4.9" stroke="#262626" stroke-width="1.1"/>
<path d="M534.1 664.3v4.9" stroke="#262626" stroke-width="1.1"/>
<path d="M583.8 664.3v4.9" stroke="#262626" stroke-width="1.1"/>
<path d="M633.4 664.3v4.9" stroke="#262626" stroke-width="1.1"/>
<path d="M683 664.3v4.9" stroke="#262626" stroke-width="1.1"/>
<path d="M732.6 664.3v4.9" stroke="#262626" stroke-width="1.1"/>
<path d="M782.2 664.3v4.9" stroke="#262626" stroke-width="1.1"/>
<path d="M831.9 664.3v4.9" stroke="#262626" stroke-width="1.1"/>
</g></svg>
<div class="t tk" style="left:246.1px">−30.00</div>
<div class="t tk" style="left:295.7px">−24.55</div>
<div class="t tk" style="left:345.3px">−19.09</div>
<div class="t tk" style="left:394.9px">−13.64</div>
<div class="t tk" style="left:444.5px">−8.18</div>
<div class="t tk" style="left:494.1px">−2.73</div>
<div class="t tk" style="left:543.8px">2.73</div>
<div class="t tk" style="left:593.4px">8.18</div>
<div class="t tk" style="left:643.0px">13.64</div>
<div class="t tk" style="left:692.6px">19.09</div>
<div class="t tk" style="left:742.2px">24.55</div>
<div class="t tk" style="left:791.9px">30.00</div>
<div class="t" style="font-size:13.9px;left:259px;width:600px;top:691.8px">Short wave cloud radiative effect at TOA (All Sky - Clear Sky) [W m**-2]</div>
</body></html>
